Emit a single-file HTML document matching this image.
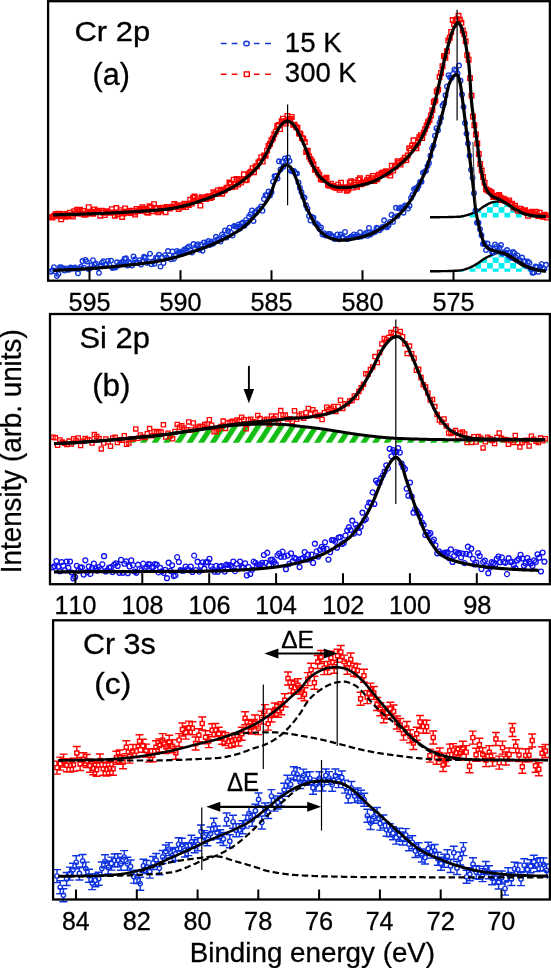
<!DOCTYPE html>
<html><head><meta charset="utf-8"><style>html,body{margin:0;padding:0;background:#fff;} svg{display:block;filter:blur(0.4px)}</style></head>
<body><svg width="551" height="968" viewBox="0 0 551 968">
<rect width="551" height="968" fill="#fff"/>

<defs>
<pattern id="chk" x="487" y="212.8" width="11.6" height="11.16" patternUnits="userSpaceOnUse">
<rect x="5.8" y="0" width="5.8" height="5.58" fill="#00eef0"/><rect x="0" y="5.58" width="5.8" height="5.58" fill="#00eef0"/>
</pattern>
<pattern id="hatch" x="9.9" y="0" width="11.6" height="20" patternUnits="userSpaceOnUse" patternTransform="skewX(-33)">
<rect x="0" y="0" width="6.2" height="20" fill="#14be14"/>
</pattern>
</defs>
<path d="M452.0,217.6 L452.0,217.0 L453.0,217.0 L454.0,216.9 L455.0,216.9 L456.0,216.9 L457.0,216.8 L458.0,216.8 L459.0,216.7 L460.0,216.6 L461.0,216.5 L462.0,216.3 L463.0,216.1 L464.0,215.9 L465.0,215.6 L466.0,215.4 L467.0,215.1 L468.0,214.8 L469.0,214.5 L470.0,214.2 L471.0,213.8 L472.0,213.4 L473.0,213.0 L474.0,212.6 L475.0,212.1 L476.0,211.6 L477.0,211.1 L478.0,210.5 L479.0,209.9 L480.0,209.1 L481.0,208.4 L482.0,207.6 L483.0,206.9 L484.0,206.3 L485.0,205.7 L486.0,205.1 L487.0,204.6 L488.0,204.0 L489.0,203.5 L490.0,203.1 L491.0,202.7 L492.0,202.3 L493.0,202.1 L494.0,201.9 L495.0,201.8 L496.0,201.6 L497.0,201.5 L498.0,201.5 L499.0,201.5 L500.0,201.7 L501.0,201.9 L502.0,202.1 L503.0,202.4 L504.0,202.6 L505.0,202.9 L506.0,203.3 L507.0,203.7 L508.0,204.1 L509.0,204.6 L510.0,205.0 L511.0,205.6 L512.0,206.2 L513.0,206.8 L514.0,207.5 L515.0,208.1 L516.0,208.7 L517.0,209.3 L518.0,209.9 L519.0,210.5 L520.0,211.0 L521.0,211.6 L522.0,212.1 L523.0,212.6 L524.0,213.1 L525.0,213.5 L526.0,213.9 L527.0,214.2 L528.0,214.5 L529.0,214.8 L530.0,215.1 L531.0,215.3 L532.0,215.6 L533.0,215.8 L534.0,216.0 L535.0,216.1 L536.0,216.2 L537.0,216.4 L538.0,216.5 L539.0,216.6 L540.0,216.7 L540.0,217.6 Z" fill="url(#chk)"/>
<path d="M450.0,271.8 L450.0,271.0 L451.0,271.0 L452.0,270.9 L453.0,270.9 L454.0,270.8 L455.0,270.8 L456.0,270.7 L457.0,270.7 L458.0,270.6 L459.0,270.5 L460.0,270.4 L461.0,270.3 L462.0,270.1 L463.0,269.8 L464.0,269.6 L465.0,269.3 L466.0,269.0 L467.0,268.6 L468.0,268.3 L469.0,267.9 L470.0,267.5 L471.0,267.1 L472.0,266.6 L473.0,266.1 L474.0,265.5 L475.0,265.0 L476.0,264.4 L477.0,263.8 L478.0,263.2 L479.0,262.5 L480.0,261.8 L481.0,261.0 L482.0,260.3 L483.0,259.6 L484.0,259.0 L485.0,258.4 L486.0,257.8 L487.0,257.2 L488.0,256.7 L489.0,256.2 L490.0,255.7 L491.0,255.2 L492.0,254.8 L493.0,254.4 L494.0,254.0 L495.0,253.7 L496.0,253.3 L497.0,253.1 L498.0,253.0 L499.0,253.0 L500.0,253.2 L501.0,253.4 L502.0,253.6 L503.0,253.9 L504.0,254.2 L505.0,254.6 L506.0,255.1 L507.0,255.8 L508.0,256.6 L509.0,257.4 L510.0,258.0 L511.0,258.6 L512.0,259.2 L513.0,259.8 L514.0,260.4 L515.0,261.0 L516.0,261.6 L517.0,262.1 L518.0,262.7 L519.0,263.3 L520.0,264.0 L521.0,264.6 L522.0,265.2 L523.0,265.8 L524.0,266.4 L525.0,266.9 L526.0,267.4 L527.0,267.8 L528.0,268.2 L529.0,268.5 L530.0,268.9 L531.0,269.2 L532.0,269.5 L533.0,269.7 L534.0,269.9 L535.0,270.1 L536.0,270.3 L537.0,270.4 L538.0,270.5 L539.0,270.7 L540.0,270.8 L541.0,270.9 L542.0,271.0 L542.0,271.8 Z" fill="url(#chk)"/>
<path d="M430.0,217.2 L431.0,217.2 L432.0,217.2 L433.0,217.2 L434.0,217.2 L435.0,217.2 L436.0,217.2 L437.0,217.2 L438.0,217.2 L439.0,217.2 L440.0,217.1 L441.0,217.1 L442.0,217.1 L443.0,217.1 L444.0,217.1 L445.0,217.1 L446.0,217.1 L447.0,217.1 L448.0,217.1 L449.0,217.0 L450.0,217.0 L451.0,217.0 L452.0,217.0 L453.0,217.0 L454.0,216.9 L455.0,216.9 L456.0,216.9 L457.0,216.8 L458.0,216.8 L459.0,216.7 L460.0,216.6 L461.0,216.5 L462.0,216.3 L463.0,216.1 L464.0,215.9 L465.0,215.6 L466.0,215.4 L467.0,215.1 L468.0,214.8 L469.0,214.5 L470.0,214.2 L471.0,213.8 L472.0,213.4 L473.0,213.0 L474.0,212.6 L475.0,212.1 L476.0,211.6 L477.0,211.1 L478.0,210.5 L479.0,209.9 L480.0,209.1 L481.0,208.4 L482.0,207.6 L483.0,206.9 L484.0,206.3 L485.0,205.7 L486.0,205.1 L487.0,204.6 L488.0,204.0 L489.0,203.5 L490.0,203.1 L491.0,202.7 L492.0,202.3 L493.0,202.1 L494.0,201.9 L495.0,201.8 L496.0,201.6 L497.0,201.5 L498.0,201.5 L499.0,201.5 L500.0,201.7 L501.0,201.9 L502.0,202.1 L503.0,202.4 L504.0,202.6 L505.0,202.9 L506.0,203.3 L507.0,203.7 L508.0,204.1 L509.0,204.6 L510.0,205.0 L511.0,205.6 L512.0,206.2 L513.0,206.8 L514.0,207.5 L515.0,208.1 L516.0,208.7 L517.0,209.3 L518.0,209.9 L519.0,210.5 L520.0,211.0 L521.0,211.6 L522.0,212.1 L523.0,212.6 L524.0,213.1 L525.0,213.5 L526.0,213.9 L527.0,214.2 L528.0,214.5 L529.0,214.8 L530.0,215.1 L531.0,215.3 L532.0,215.6 L533.0,215.8 L534.0,216.0 L535.0,216.1 L536.0,216.2 L537.0,216.4 L538.0,216.5 L539.0,216.6 L540.0,216.7 L541.0,216.8 L542.0,216.9 L543.0,216.9 L544.0,217.0 L545.0,217.1 L546.0,217.1" fill="none" stroke="#000" stroke-width="2.4"/>
<path d="M430.0,271.2 L431.0,271.2 L432.0,271.2 L433.0,271.2 L434.0,271.2 L435.0,271.2 L436.0,271.2 L437.0,271.2 L438.0,271.2 L439.0,271.2 L440.0,271.2 L441.0,271.1 L442.0,271.1 L443.0,271.1 L444.0,271.1 L445.0,271.1 L446.0,271.1 L447.0,271.1 L448.0,271.0 L449.0,271.0 L450.0,271.0 L451.0,271.0 L452.0,270.9 L453.0,270.9 L454.0,270.8 L455.0,270.8 L456.0,270.7 L457.0,270.7 L458.0,270.6 L459.0,270.5 L460.0,270.4 L461.0,270.3 L462.0,270.1 L463.0,269.8 L464.0,269.6 L465.0,269.3 L466.0,269.0 L467.0,268.6 L468.0,268.3 L469.0,267.9 L470.0,267.5 L471.0,267.1 L472.0,266.6 L473.0,266.1 L474.0,265.5 L475.0,265.0 L476.0,264.4 L477.0,263.8 L478.0,263.2 L479.0,262.5 L480.0,261.8 L481.0,261.0 L482.0,260.3 L483.0,259.6 L484.0,259.0 L485.0,258.4 L486.0,257.8 L487.0,257.2 L488.0,256.7 L489.0,256.2 L490.0,255.7 L491.0,255.2 L492.0,254.8 L493.0,254.4 L494.0,254.0 L495.0,253.7 L496.0,253.3 L497.0,253.1 L498.0,253.0 L499.0,253.0 L500.0,253.2 L501.0,253.4 L502.0,253.6 L503.0,253.9 L504.0,254.2 L505.0,254.6 L506.0,255.1 L507.0,255.8 L508.0,256.6 L509.0,257.4 L510.0,258.0 L511.0,258.6 L512.0,259.2 L513.0,259.8 L514.0,260.4 L515.0,261.0 L516.0,261.6 L517.0,262.1 L518.0,262.7 L519.0,263.3 L520.0,264.0 L521.0,264.6 L522.0,265.2 L523.0,265.8 L524.0,266.4 L525.0,266.9 L526.0,267.4 L527.0,267.8 L528.0,268.2 L529.0,268.5 L530.0,268.9 L531.0,269.2 L532.0,269.5 L533.0,269.7 L534.0,269.9 L535.0,270.1 L536.0,270.3 L537.0,270.4 L538.0,270.5 L539.0,270.7 L540.0,270.8 L541.0,270.9 L542.0,271.0 L543.0,271.0 L544.0,271.1 L545.0,271.2 L546.0,271.2" fill="none" stroke="#000" stroke-width="2.4"/>
<path d="M48.7,214.8h4.6v4.6h-4.6z M50.2,215.3h4.6v4.6h-4.6z M51.6,213.7h4.6v4.6h-4.6z M53.1,211.9h4.6v4.6h-4.6z M54.5,212.9h4.6v4.6h-4.6z M56.0,211.3h4.6v4.6h-4.6z M57.4,213.9h4.6v4.6h-4.6z M58.9,217.0h4.6v4.6h-4.6z M60.3,212.1h4.6v4.6h-4.6z M61.8,211.7h4.6v4.6h-4.6z M63.2,214.4h4.6v4.6h-4.6z M64.7,213.9h4.6v4.6h-4.6z M66.1,213.1h4.6v4.6h-4.6z M67.6,210.3h4.6v4.6h-4.6z M69.0,212.5h4.6v4.6h-4.6z M70.5,214.3h4.6v4.6h-4.6z M71.9,208.9h4.6v4.6h-4.6z M73.4,211.2h4.6v4.6h-4.6z M74.8,207.3h4.6v4.6h-4.6z M76.3,208.8h4.6v4.6h-4.6z M77.7,207.3h4.6v4.6h-4.6z M79.2,211.4h4.6v4.6h-4.6z M80.6,208.6h4.6v4.6h-4.6z M82.1,212.5h4.6v4.6h-4.6z M83.5,212.1h4.6v4.6h-4.6z M85.0,211.1h4.6v4.6h-4.6z M86.4,204.9h4.6v4.6h-4.6z M87.9,210.0h4.6v4.6h-4.6z M89.3,211.1h4.6v4.6h-4.6z M90.8,211.5h4.6v4.6h-4.6z M92.2,207.1h4.6v4.6h-4.6z M93.7,209.7h4.6v4.6h-4.6z M95.1,208.3h4.6v4.6h-4.6z M96.6,208.6h4.6v4.6h-4.6z M98.0,213.4h4.6v4.6h-4.6z M99.5,208.5h4.6v4.6h-4.6z M100.9,210.4h4.6v4.6h-4.6z M102.4,212.7h4.6v4.6h-4.6z M103.8,208.8h4.6v4.6h-4.6z M105.3,210.0h4.6v4.6h-4.6z M106.7,210.5h4.6v4.6h-4.6z M108.2,210.3h4.6v4.6h-4.6z M109.6,206.8h4.6v4.6h-4.6z M111.1,210.1h4.6v4.6h-4.6z M112.5,213.4h4.6v4.6h-4.6z M114.0,205.7h4.6v4.6h-4.6z M115.4,211.9h4.6v4.6h-4.6z M116.9,209.9h4.6v4.6h-4.6z M118.3,207.8h4.6v4.6h-4.6z M119.8,214.6h4.6v4.6h-4.6z M121.2,211.3h4.6v4.6h-4.6z M122.7,206.1h4.6v4.6h-4.6z M124.1,209.3h4.6v4.6h-4.6z M125.6,210.5h4.6v4.6h-4.6z M127.0,208.4h4.6v4.6h-4.6z M128.5,210.6h4.6v4.6h-4.6z M129.9,208.5h4.6v4.6h-4.6z M131.4,210.3h4.6v4.6h-4.6z M132.8,212.2h4.6v4.6h-4.6z M134.3,206.6h4.6v4.6h-4.6z M135.7,208.8h4.6v4.6h-4.6z M137.2,206.9h4.6v4.6h-4.6z M138.6,208.4h4.6v4.6h-4.6z M140.1,204.8h4.6v4.6h-4.6z M141.5,206.3h4.6v4.6h-4.6z M143.0,207.2h4.6v4.6h-4.6z M144.4,209.9h4.6v4.6h-4.6z M145.9,210.5h4.6v4.6h-4.6z M147.3,203.9h4.6v4.6h-4.6z M148.8,205.2h4.6v4.6h-4.6z M150.2,208.9h4.6v4.6h-4.6z M151.7,201.9h4.6v4.6h-4.6z M153.1,205.7h4.6v4.6h-4.6z M154.6,206.6h4.6v4.6h-4.6z M156.0,210.0h4.6v4.6h-4.6z M157.5,208.4h4.6v4.6h-4.6z M158.9,205.6h4.6v4.6h-4.6z M160.4,205.3h4.6v4.6h-4.6z M161.8,205.5h4.6v4.6h-4.6z M163.3,209.9h4.6v4.6h-4.6z M164.7,204.7h4.6v4.6h-4.6z M166.2,204.8h4.6v4.6h-4.6z M167.6,206.3h4.6v4.6h-4.6z M169.1,204.9h4.6v4.6h-4.6z M170.5,204.4h4.6v4.6h-4.6z M172.0,201.7h4.6v4.6h-4.6z M173.4,204.3h4.6v4.6h-4.6z M174.9,202.9h4.6v4.6h-4.6z M176.3,206.7h4.6v4.6h-4.6z M177.8,205.0h4.6v4.6h-4.6z M179.2,202.9h4.6v4.6h-4.6z M180.7,204.4h4.6v4.6h-4.6z M182.1,201.4h4.6v4.6h-4.6z M183.6,204.7h4.6v4.6h-4.6z M185.0,201.5h4.6v4.6h-4.6z M186.5,202.6h4.6v4.6h-4.6z M187.9,197.4h4.6v4.6h-4.6z M189.4,201.2h4.6v4.6h-4.6z M190.8,195.4h4.6v4.6h-4.6z M192.3,194.1h4.6v4.6h-4.6z M193.7,198.1h4.6v4.6h-4.6z M195.2,196.1h4.6v4.6h-4.6z M196.6,198.4h4.6v4.6h-4.6z M198.1,203.3h4.6v4.6h-4.6z M199.5,194.8h4.6v4.6h-4.6z M201.0,194.8h4.6v4.6h-4.6z M202.4,196.5h4.6v4.6h-4.6z M203.9,196.7h4.6v4.6h-4.6z M205.3,194.4h4.6v4.6h-4.6z M206.8,193.8h4.6v4.6h-4.6z M208.2,195.6h4.6v4.6h-4.6z M209.7,194.6h4.6v4.6h-4.6z M211.1,190.0h4.6v4.6h-4.6z M212.6,191.8h4.6v4.6h-4.6z M214.0,191.5h4.6v4.6h-4.6z M215.5,188.1h4.6v4.6h-4.6z M216.9,190.9h4.6v4.6h-4.6z M218.4,187.3h4.6v4.6h-4.6z M219.8,191.4h4.6v4.6h-4.6z M221.3,188.7h4.6v4.6h-4.6z M222.7,187.8h4.6v4.6h-4.6z M224.2,185.3h4.6v4.6h-4.6z M225.6,185.8h4.6v4.6h-4.6z M227.1,180.2h4.6v4.6h-4.6z M228.5,181.7h4.6v4.6h-4.6z M230.0,184.7h4.6v4.6h-4.6z M231.4,177.4h4.6v4.6h-4.6z M232.9,184.3h4.6v4.6h-4.6z M234.3,176.7h4.6v4.6h-4.6z M235.8,182.2h4.6v4.6h-4.6z M237.2,177.0h4.6v4.6h-4.6z M238.7,180.2h4.6v4.6h-4.6z M240.1,177.4h4.6v4.6h-4.6z M241.6,172.0h4.6v4.6h-4.6z M243.0,178.0h4.6v4.6h-4.6z M244.5,177.4h4.6v4.6h-4.6z M245.9,172.2h4.6v4.6h-4.6z M247.4,170.4h4.6v4.6h-4.6z M248.8,169.4h4.6v4.6h-4.6z M250.3,165.9h4.6v4.6h-4.6z M251.7,169.9h4.6v4.6h-4.6z M253.2,164.1h4.6v4.6h-4.6z M254.6,163.9h4.6v4.6h-4.6z M256.1,160.2h4.6v4.6h-4.6z M257.5,158.8h4.6v4.6h-4.6z M259.0,154.9h4.6v4.6h-4.6z M260.4,159.2h4.6v4.6h-4.6z M261.9,153.1h4.6v4.6h-4.6z M263.3,153.5h4.6v4.6h-4.6z M264.8,148.3h4.6v4.6h-4.6z M266.2,143.6h4.6v4.6h-4.6z M267.7,141.6h4.6v4.6h-4.6z M269.1,137.9h4.6v4.6h-4.6z M270.6,136.1h4.6v4.6h-4.6z M272.0,131.9h4.6v4.6h-4.6z M273.5,129.3h4.6v4.6h-4.6z M274.9,123.7h4.6v4.6h-4.6z M276.4,122.6h4.6v4.6h-4.6z M277.8,126.8h4.6v4.6h-4.6z M279.3,118.9h4.6v4.6h-4.6z M280.7,116.4h4.6v4.6h-4.6z M282.2,119.2h4.6v4.6h-4.6z M283.6,121.3h4.6v4.6h-4.6z M285.1,113.6h4.6v4.6h-4.6z M286.5,117.1h4.6v4.6h-4.6z M288.0,116.6h4.6v4.6h-4.6z M289.4,114.6h4.6v4.6h-4.6z M290.9,122.5h4.6v4.6h-4.6z M292.3,122.3h4.6v4.6h-4.6z M293.8,124.8h4.6v4.6h-4.6z M295.2,125.3h4.6v4.6h-4.6z M296.7,131.1h4.6v4.6h-4.6z M298.1,131.4h4.6v4.6h-4.6z M299.6,135.6h4.6v4.6h-4.6z M301.0,136.4h4.6v4.6h-4.6z M302.5,139.6h4.6v4.6h-4.6z M303.9,149.6h4.6v4.6h-4.6z M305.4,148.4h4.6v4.6h-4.6z M306.8,154.2h4.6v4.6h-4.6z M308.3,157.0h4.6v4.6h-4.6z M309.7,159.1h4.6v4.6h-4.6z M311.2,161.8h4.6v4.6h-4.6z M312.6,167.5h4.6v4.6h-4.6z M314.1,167.5h4.6v4.6h-4.6z M315.5,170.1h4.6v4.6h-4.6z M317.0,172.4h4.6v4.6h-4.6z M318.4,176.9h4.6v4.6h-4.6z M319.9,177.1h4.6v4.6h-4.6z M321.3,177.6h4.6v4.6h-4.6z M322.8,176.3h4.6v4.6h-4.6z M324.2,175.3h4.6v4.6h-4.6z M325.7,182.5h4.6v4.6h-4.6z M327.1,183.5h4.6v4.6h-4.6z M328.6,181.4h4.6v4.6h-4.6z M330.0,183.7h4.6v4.6h-4.6z M331.5,184.7h4.6v4.6h-4.6z M332.9,185.2h4.6v4.6h-4.6z M334.4,185.7h4.6v4.6h-4.6z M335.8,182.3h4.6v4.6h-4.6z M337.3,187.5h4.6v4.6h-4.6z M338.7,180.4h4.6v4.6h-4.6z M340.2,185.8h4.6v4.6h-4.6z M341.6,184.8h4.6v4.6h-4.6z M343.1,185.8h4.6v4.6h-4.6z M344.5,188.4h4.6v4.6h-4.6z M346.0,187.3h4.6v4.6h-4.6z M347.4,180.4h4.6v4.6h-4.6z M348.9,178.9h4.6v4.6h-4.6z M350.3,185.3h4.6v4.6h-4.6z M351.8,180.2h4.6v4.6h-4.6z M353.2,182.5h4.6v4.6h-4.6z M354.7,184.4h4.6v4.6h-4.6z M356.1,177.6h4.6v4.6h-4.6z M357.6,176.0h4.6v4.6h-4.6z M359.0,181.9h4.6v4.6h-4.6z M360.5,181.0h4.6v4.6h-4.6z M361.9,179.9h4.6v4.6h-4.6z M363.4,180.3h4.6v4.6h-4.6z M364.8,177.6h4.6v4.6h-4.6z M366.3,175.5h4.6v4.6h-4.6z M367.7,178.6h4.6v4.6h-4.6z M369.2,176.0h4.6v4.6h-4.6z M370.6,173.6h4.6v4.6h-4.6z M372.1,178.6h4.6v4.6h-4.6z M373.5,176.4h4.6v4.6h-4.6z M375.0,176.9h4.6v4.6h-4.6z M376.4,172.5h4.6v4.6h-4.6z M377.9,172.5h4.6v4.6h-4.6z M379.3,170.8h4.6v4.6h-4.6z M380.8,170.2h4.6v4.6h-4.6z M382.2,172.2h4.6v4.6h-4.6z M383.7,168.8h4.6v4.6h-4.6z M385.1,170.9h4.6v4.6h-4.6z M386.6,169.9h4.6v4.6h-4.6z M388.0,173.3h4.6v4.6h-4.6z M389.5,163.4h4.6v4.6h-4.6z M390.9,168.3h4.6v4.6h-4.6z M392.4,164.7h4.6v4.6h-4.6z M393.8,163.8h4.6v4.6h-4.6z M395.3,158.9h4.6v4.6h-4.6z M396.7,160.3h4.6v4.6h-4.6z M398.2,162.2h4.6v4.6h-4.6z M399.6,158.8h4.6v4.6h-4.6z M401.1,157.9h4.6v4.6h-4.6z M402.5,155.5h4.6v4.6h-4.6z M404.0,157.8h4.6v4.6h-4.6z M405.4,153.2h4.6v4.6h-4.6z M406.9,146.0h4.6v4.6h-4.6z M408.3,148.2h4.6v4.6h-4.6z M409.8,143.2h4.6v4.6h-4.6z M411.2,138.0h4.6v4.6h-4.6z M412.7,143.1h4.6v4.6h-4.6z M414.1,145.9h4.6v4.6h-4.6z M415.6,140.4h4.6v4.6h-4.6z M417.0,134.9h4.6v4.6h-4.6z M418.5,133.0h4.6v4.6h-4.6z M419.9,135.7h4.6v4.6h-4.6z M421.4,130.3h4.6v4.6h-4.6z M422.8,126.8h4.6v4.6h-4.6z M424.3,123.1h4.6v4.6h-4.6z M425.7,119.8h4.6v4.6h-4.6z M427.2,117.9h4.6v4.6h-4.6z M428.6,113.1h4.6v4.6h-4.6z M430.1,107.8h4.6v4.6h-4.6z M431.5,99.6h4.6v4.6h-4.6z M433.0,98.3h4.6v4.6h-4.6z M434.4,89.1h4.6v4.6h-4.6z M435.9,87.3h4.6v4.6h-4.6z M437.3,74.5h4.6v4.6h-4.6z M438.8,70.6h4.6v4.6h-4.6z M440.2,63.9h4.6v4.6h-4.6z M441.7,53.7h4.6v4.6h-4.6z M443.1,55.5h4.6v4.6h-4.6z M444.6,49.0h4.6v4.6h-4.6z M446.0,38.1h4.6v4.6h-4.6z M447.5,35.5h4.6v4.6h-4.6z M448.9,29.6h4.6v4.6h-4.6z M450.4,17.7h4.6v4.6h-4.6z M451.8,21.9h4.6v4.6h-4.6z M453.3,18.7h4.6v4.6h-4.6z M454.7,17.0h4.6v4.6h-4.6z M456.2,13.5h4.6v4.6h-4.6z M457.6,17.3h4.6v4.6h-4.6z M459.1,20.5h4.6v4.6h-4.6z M460.5,28.1h4.6v4.6h-4.6z M462.0,31.9h4.6v4.6h-4.6z M463.4,39.0h4.6v4.6h-4.6z M464.9,52.8h4.6v4.6h-4.6z M466.3,57.4h4.6v4.6h-4.6z M467.8,75.8h4.6v4.6h-4.6z M469.2,93.3h4.6v4.6h-4.6z M470.7,114.1h4.6v4.6h-4.6z M472.1,122.9h4.6v4.6h-4.6z M473.6,132.1h4.6v4.6h-4.6z M475.0,141.2h4.6v4.6h-4.6z M476.5,151.7h4.6v4.6h-4.6z M477.9,161.6h4.6v4.6h-4.6z M479.4,168.2h4.6v4.6h-4.6z M480.8,174.7h4.6v4.6h-4.6z M482.3,180.5h4.6v4.6h-4.6z M483.7,187.0h4.6v4.6h-4.6z M485.2,187.9h4.6v4.6h-4.6z M486.6,188.7h4.6v4.6h-4.6z M488.1,189.4h4.6v4.6h-4.6z M489.5,190.5h4.6v4.6h-4.6z M491.0,194.8h4.6v4.6h-4.6z M492.4,193.5h4.6v4.6h-4.6z M493.9,193.4h4.6v4.6h-4.6z M495.3,193.3h4.6v4.6h-4.6z M496.8,192.7h4.6v4.6h-4.6z M498.2,195.1h4.6v4.6h-4.6z M499.7,197.5h4.6v4.6h-4.6z M501.1,196.3h4.6v4.6h-4.6z M502.6,197.4h4.6v4.6h-4.6z M504.0,198.3h4.6v4.6h-4.6z M505.5,199.8h4.6v4.6h-4.6z M506.9,198.1h4.6v4.6h-4.6z M508.4,201.3h4.6v4.6h-4.6z M509.8,201.3h4.6v4.6h-4.6z M511.3,205.1h4.6v4.6h-4.6z M512.7,203.3h4.6v4.6h-4.6z M514.2,206.2h4.6v4.6h-4.6z M515.6,208.5h4.6v4.6h-4.6z M517.1,206.3h4.6v4.6h-4.6z M518.5,206.6h4.6v4.6h-4.6z M520.0,208.6h4.6v4.6h-4.6z M521.4,208.9h4.6v4.6h-4.6z M522.9,207.8h4.6v4.6h-4.6z M524.3,210.6h4.6v4.6h-4.6z M525.8,213.5h4.6v4.6h-4.6z M527.2,210.2h4.6v4.6h-4.6z M528.7,210.6h4.6v4.6h-4.6z M530.1,209.5h4.6v4.6h-4.6z M531.6,211.9h4.6v4.6h-4.6z M533.0,209.5h4.6v4.6h-4.6z M534.5,209.9h4.6v4.6h-4.6z M535.9,213.8h4.6v4.6h-4.6z M537.4,210.4h4.6v4.6h-4.6z M538.8,213.6h4.6v4.6h-4.6z M540.3,214.4h4.6v4.6h-4.6z M541.7,212.5h4.6v4.6h-4.6z M543.2,213.0h4.6v4.6h-4.6z M544.6,215.3h4.6v4.6h-4.6z" fill="none" stroke="#ff0000" stroke-width="1.35"/>
<path d="M48.7,271.7a2.3,2.3 0 1,0 4.6,0a2.3,2.3 0 1,0 -4.6,0 M50.2,270.1a2.3,2.3 0 1,0 4.6,0a2.3,2.3 0 1,0 -4.6,0 M51.7,267.2a2.3,2.3 0 1,0 4.6,0a2.3,2.3 0 1,0 -4.6,0 M53.2,271.5a2.3,2.3 0 1,0 4.6,0a2.3,2.3 0 1,0 -4.6,0 M54.7,276.0a2.3,2.3 0 1,0 4.6,0a2.3,2.3 0 1,0 -4.6,0 M56.2,273.9a2.3,2.3 0 1,0 4.6,0a2.3,2.3 0 1,0 -4.6,0 M57.7,267.3a2.3,2.3 0 1,0 4.6,0a2.3,2.3 0 1,0 -4.6,0 M59.2,267.3a2.3,2.3 0 1,0 4.6,0a2.3,2.3 0 1,0 -4.6,0 M60.7,268.2a2.3,2.3 0 1,0 4.6,0a2.3,2.3 0 1,0 -4.6,0 M62.2,270.5a2.3,2.3 0 1,0 4.6,0a2.3,2.3 0 1,0 -4.6,0 M63.7,268.6a2.3,2.3 0 1,0 4.6,0a2.3,2.3 0 1,0 -4.6,0 M65.2,269.7a2.3,2.3 0 1,0 4.6,0a2.3,2.3 0 1,0 -4.6,0 M66.7,269.7a2.3,2.3 0 1,0 4.6,0a2.3,2.3 0 1,0 -4.6,0 M68.2,267.5a2.3,2.3 0 1,0 4.6,0a2.3,2.3 0 1,0 -4.6,0 M69.7,268.1a2.3,2.3 0 1,0 4.6,0a2.3,2.3 0 1,0 -4.6,0 M71.2,268.6a2.3,2.3 0 1,0 4.6,0a2.3,2.3 0 1,0 -4.6,0 M72.7,267.4a2.3,2.3 0 1,0 4.6,0a2.3,2.3 0 1,0 -4.6,0 M74.2,269.0a2.3,2.3 0 1,0 4.6,0a2.3,2.3 0 1,0 -4.6,0 M75.7,273.3a2.3,2.3 0 1,0 4.6,0a2.3,2.3 0 1,0 -4.6,0 M77.2,268.8a2.3,2.3 0 1,0 4.6,0a2.3,2.3 0 1,0 -4.6,0 M78.7,266.8a2.3,2.3 0 1,0 4.6,0a2.3,2.3 0 1,0 -4.6,0 M80.2,261.0a2.3,2.3 0 1,0 4.6,0a2.3,2.3 0 1,0 -4.6,0 M81.7,267.7a2.3,2.3 0 1,0 4.6,0a2.3,2.3 0 1,0 -4.6,0 M83.2,259.9a2.3,2.3 0 1,0 4.6,0a2.3,2.3 0 1,0 -4.6,0 M84.7,261.6a2.3,2.3 0 1,0 4.6,0a2.3,2.3 0 1,0 -4.6,0 M86.2,269.0a2.3,2.3 0 1,0 4.6,0a2.3,2.3 0 1,0 -4.6,0 M87.7,268.4a2.3,2.3 0 1,0 4.6,0a2.3,2.3 0 1,0 -4.6,0 M89.2,265.4a2.3,2.3 0 1,0 4.6,0a2.3,2.3 0 1,0 -4.6,0 M90.7,260.2a2.3,2.3 0 1,0 4.6,0a2.3,2.3 0 1,0 -4.6,0 M92.2,264.5a2.3,2.3 0 1,0 4.6,0a2.3,2.3 0 1,0 -4.6,0 M93.7,263.4a2.3,2.3 0 1,0 4.6,0a2.3,2.3 0 1,0 -4.6,0 M95.2,267.6a2.3,2.3 0 1,0 4.6,0a2.3,2.3 0 1,0 -4.6,0 M96.7,272.8a2.3,2.3 0 1,0 4.6,0a2.3,2.3 0 1,0 -4.6,0 M98.2,266.0a2.3,2.3 0 1,0 4.6,0a2.3,2.3 0 1,0 -4.6,0 M99.7,262.6a2.3,2.3 0 1,0 4.6,0a2.3,2.3 0 1,0 -4.6,0 M101.2,261.2a2.3,2.3 0 1,0 4.6,0a2.3,2.3 0 1,0 -4.6,0 M102.7,264.7a2.3,2.3 0 1,0 4.6,0a2.3,2.3 0 1,0 -4.6,0 M104.2,264.2a2.3,2.3 0 1,0 4.6,0a2.3,2.3 0 1,0 -4.6,0 M105.7,260.9a2.3,2.3 0 1,0 4.6,0a2.3,2.3 0 1,0 -4.6,0 M107.2,264.9a2.3,2.3 0 1,0 4.6,0a2.3,2.3 0 1,0 -4.6,0 M108.7,260.6a2.3,2.3 0 1,0 4.6,0a2.3,2.3 0 1,0 -4.6,0 M110.2,268.0a2.3,2.3 0 1,0 4.6,0a2.3,2.3 0 1,0 -4.6,0 M111.7,267.7a2.3,2.3 0 1,0 4.6,0a2.3,2.3 0 1,0 -4.6,0 M113.2,267.6a2.3,2.3 0 1,0 4.6,0a2.3,2.3 0 1,0 -4.6,0 M114.7,262.3a2.3,2.3 0 1,0 4.6,0a2.3,2.3 0 1,0 -4.6,0 M116.2,265.4a2.3,2.3 0 1,0 4.6,0a2.3,2.3 0 1,0 -4.6,0 M117.7,263.1a2.3,2.3 0 1,0 4.6,0a2.3,2.3 0 1,0 -4.6,0 M119.2,262.1a2.3,2.3 0 1,0 4.6,0a2.3,2.3 0 1,0 -4.6,0 M120.7,262.1a2.3,2.3 0 1,0 4.6,0a2.3,2.3 0 1,0 -4.6,0 M122.2,258.8a2.3,2.3 0 1,0 4.6,0a2.3,2.3 0 1,0 -4.6,0 M123.7,258.2a2.3,2.3 0 1,0 4.6,0a2.3,2.3 0 1,0 -4.6,0 M125.2,265.4a2.3,2.3 0 1,0 4.6,0a2.3,2.3 0 1,0 -4.6,0 M126.7,262.0a2.3,2.3 0 1,0 4.6,0a2.3,2.3 0 1,0 -4.6,0 M128.2,263.2a2.3,2.3 0 1,0 4.6,0a2.3,2.3 0 1,0 -4.6,0 M129.7,265.6a2.3,2.3 0 1,0 4.6,0a2.3,2.3 0 1,0 -4.6,0 M131.2,256.4a2.3,2.3 0 1,0 4.6,0a2.3,2.3 0 1,0 -4.6,0 M132.7,259.3a2.3,2.3 0 1,0 4.6,0a2.3,2.3 0 1,0 -4.6,0 M134.2,262.3a2.3,2.3 0 1,0 4.6,0a2.3,2.3 0 1,0 -4.6,0 M135.7,262.8a2.3,2.3 0 1,0 4.6,0a2.3,2.3 0 1,0 -4.6,0 M137.2,260.1a2.3,2.3 0 1,0 4.6,0a2.3,2.3 0 1,0 -4.6,0 M138.7,264.6a2.3,2.3 0 1,0 4.6,0a2.3,2.3 0 1,0 -4.6,0 M140.2,261.7a2.3,2.3 0 1,0 4.6,0a2.3,2.3 0 1,0 -4.6,0 M141.7,256.8a2.3,2.3 0 1,0 4.6,0a2.3,2.3 0 1,0 -4.6,0 M143.2,257.5a2.3,2.3 0 1,0 4.6,0a2.3,2.3 0 1,0 -4.6,0 M144.7,263.0a2.3,2.3 0 1,0 4.6,0a2.3,2.3 0 1,0 -4.6,0 M146.2,261.7a2.3,2.3 0 1,0 4.6,0a2.3,2.3 0 1,0 -4.6,0 M147.7,253.7a2.3,2.3 0 1,0 4.6,0a2.3,2.3 0 1,0 -4.6,0 M149.2,264.2a2.3,2.3 0 1,0 4.6,0a2.3,2.3 0 1,0 -4.6,0 M150.7,261.5a2.3,2.3 0 1,0 4.6,0a2.3,2.3 0 1,0 -4.6,0 M152.2,263.7a2.3,2.3 0 1,0 4.6,0a2.3,2.3 0 1,0 -4.6,0 M153.7,257.7a2.3,2.3 0 1,0 4.6,0a2.3,2.3 0 1,0 -4.6,0 M155.2,257.8a2.3,2.3 0 1,0 4.6,0a2.3,2.3 0 1,0 -4.6,0 M156.7,254.8a2.3,2.3 0 1,0 4.6,0a2.3,2.3 0 1,0 -4.6,0 M158.2,266.6a2.3,2.3 0 1,0 4.6,0a2.3,2.3 0 1,0 -4.6,0 M159.7,257.3a2.3,2.3 0 1,0 4.6,0a2.3,2.3 0 1,0 -4.6,0 M161.2,262.9a2.3,2.3 0 1,0 4.6,0a2.3,2.3 0 1,0 -4.6,0 M162.7,255.2a2.3,2.3 0 1,0 4.6,0a2.3,2.3 0 1,0 -4.6,0 M164.2,257.5a2.3,2.3 0 1,0 4.6,0a2.3,2.3 0 1,0 -4.6,0 M165.7,251.1a2.3,2.3 0 1,0 4.6,0a2.3,2.3 0 1,0 -4.6,0 M167.2,255.0a2.3,2.3 0 1,0 4.6,0a2.3,2.3 0 1,0 -4.6,0 M168.7,259.2a2.3,2.3 0 1,0 4.6,0a2.3,2.3 0 1,0 -4.6,0 M170.2,251.4a2.3,2.3 0 1,0 4.6,0a2.3,2.3 0 1,0 -4.6,0 M171.7,258.7a2.3,2.3 0 1,0 4.6,0a2.3,2.3 0 1,0 -4.6,0 M173.2,255.9a2.3,2.3 0 1,0 4.6,0a2.3,2.3 0 1,0 -4.6,0 M174.7,250.9a2.3,2.3 0 1,0 4.6,0a2.3,2.3 0 1,0 -4.6,0 M176.2,252.3a2.3,2.3 0 1,0 4.6,0a2.3,2.3 0 1,0 -4.6,0 M177.7,252.0a2.3,2.3 0 1,0 4.6,0a2.3,2.3 0 1,0 -4.6,0 M179.2,252.9a2.3,2.3 0 1,0 4.6,0a2.3,2.3 0 1,0 -4.6,0 M180.7,250.9a2.3,2.3 0 1,0 4.6,0a2.3,2.3 0 1,0 -4.6,0 M182.2,249.5a2.3,2.3 0 1,0 4.6,0a2.3,2.3 0 1,0 -4.6,0 M183.7,250.7a2.3,2.3 0 1,0 4.6,0a2.3,2.3 0 1,0 -4.6,0 M185.2,247.8a2.3,2.3 0 1,0 4.6,0a2.3,2.3 0 1,0 -4.6,0 M186.7,246.4a2.3,2.3 0 1,0 4.6,0a2.3,2.3 0 1,0 -4.6,0 M188.2,250.0a2.3,2.3 0 1,0 4.6,0a2.3,2.3 0 1,0 -4.6,0 M189.7,252.6a2.3,2.3 0 1,0 4.6,0a2.3,2.3 0 1,0 -4.6,0 M191.2,244.0a2.3,2.3 0 1,0 4.6,0a2.3,2.3 0 1,0 -4.6,0 M192.7,248.6a2.3,2.3 0 1,0 4.6,0a2.3,2.3 0 1,0 -4.6,0 M194.2,245.8a2.3,2.3 0 1,0 4.6,0a2.3,2.3 0 1,0 -4.6,0 M195.7,244.2a2.3,2.3 0 1,0 4.6,0a2.3,2.3 0 1,0 -4.6,0 M197.2,249.7a2.3,2.3 0 1,0 4.6,0a2.3,2.3 0 1,0 -4.6,0 M198.7,244.6a2.3,2.3 0 1,0 4.6,0a2.3,2.3 0 1,0 -4.6,0 M200.2,250.7a2.3,2.3 0 1,0 4.6,0a2.3,2.3 0 1,0 -4.6,0 M201.7,242.6a2.3,2.3 0 1,0 4.6,0a2.3,2.3 0 1,0 -4.6,0 M203.2,245.9a2.3,2.3 0 1,0 4.6,0a2.3,2.3 0 1,0 -4.6,0 M204.7,243.3a2.3,2.3 0 1,0 4.6,0a2.3,2.3 0 1,0 -4.6,0 M206.2,241.0a2.3,2.3 0 1,0 4.6,0a2.3,2.3 0 1,0 -4.6,0 M207.7,244.9a2.3,2.3 0 1,0 4.6,0a2.3,2.3 0 1,0 -4.6,0 M209.2,241.8a2.3,2.3 0 1,0 4.6,0a2.3,2.3 0 1,0 -4.6,0 M210.7,243.7a2.3,2.3 0 1,0 4.6,0a2.3,2.3 0 1,0 -4.6,0 M212.2,240.9a2.3,2.3 0 1,0 4.6,0a2.3,2.3 0 1,0 -4.6,0 M213.7,236.8a2.3,2.3 0 1,0 4.6,0a2.3,2.3 0 1,0 -4.6,0 M215.2,239.4a2.3,2.3 0 1,0 4.6,0a2.3,2.3 0 1,0 -4.6,0 M216.7,239.2a2.3,2.3 0 1,0 4.6,0a2.3,2.3 0 1,0 -4.6,0 M218.2,241.5a2.3,2.3 0 1,0 4.6,0a2.3,2.3 0 1,0 -4.6,0 M219.7,234.6a2.3,2.3 0 1,0 4.6,0a2.3,2.3 0 1,0 -4.6,0 M221.2,236.7a2.3,2.3 0 1,0 4.6,0a2.3,2.3 0 1,0 -4.6,0 M222.7,230.4a2.3,2.3 0 1,0 4.6,0a2.3,2.3 0 1,0 -4.6,0 M224.2,237.4a2.3,2.3 0 1,0 4.6,0a2.3,2.3 0 1,0 -4.6,0 M225.7,230.9a2.3,2.3 0 1,0 4.6,0a2.3,2.3 0 1,0 -4.6,0 M227.2,227.7a2.3,2.3 0 1,0 4.6,0a2.3,2.3 0 1,0 -4.6,0 M228.7,232.6a2.3,2.3 0 1,0 4.6,0a2.3,2.3 0 1,0 -4.6,0 M230.2,235.6a2.3,2.3 0 1,0 4.6,0a2.3,2.3 0 1,0 -4.6,0 M231.7,226.0a2.3,2.3 0 1,0 4.6,0a2.3,2.3 0 1,0 -4.6,0 M233.2,226.5a2.3,2.3 0 1,0 4.6,0a2.3,2.3 0 1,0 -4.6,0 M234.7,226.7a2.3,2.3 0 1,0 4.6,0a2.3,2.3 0 1,0 -4.6,0 M236.2,224.5a2.3,2.3 0 1,0 4.6,0a2.3,2.3 0 1,0 -4.6,0 M237.7,228.4a2.3,2.3 0 1,0 4.6,0a2.3,2.3 0 1,0 -4.6,0 M239.2,223.4a2.3,2.3 0 1,0 4.6,0a2.3,2.3 0 1,0 -4.6,0 M240.7,222.6a2.3,2.3 0 1,0 4.6,0a2.3,2.3 0 1,0 -4.6,0 M242.2,225.7a2.3,2.3 0 1,0 4.6,0a2.3,2.3 0 1,0 -4.6,0 M243.7,220.0a2.3,2.3 0 1,0 4.6,0a2.3,2.3 0 1,0 -4.6,0 M245.2,222.5a2.3,2.3 0 1,0 4.6,0a2.3,2.3 0 1,0 -4.6,0 M246.7,216.4a2.3,2.3 0 1,0 4.6,0a2.3,2.3 0 1,0 -4.6,0 M248.2,214.1a2.3,2.3 0 1,0 4.6,0a2.3,2.3 0 1,0 -4.6,0 M249.7,210.5a2.3,2.3 0 1,0 4.6,0a2.3,2.3 0 1,0 -4.6,0 M251.2,221.1a2.3,2.3 0 1,0 4.6,0a2.3,2.3 0 1,0 -4.6,0 M252.7,212.2a2.3,2.3 0 1,0 4.6,0a2.3,2.3 0 1,0 -4.6,0 M254.2,212.4a2.3,2.3 0 1,0 4.6,0a2.3,2.3 0 1,0 -4.6,0 M255.7,209.8a2.3,2.3 0 1,0 4.6,0a2.3,2.3 0 1,0 -4.6,0 M257.2,208.7a2.3,2.3 0 1,0 4.6,0a2.3,2.3 0 1,0 -4.6,0 M258.7,206.6a2.3,2.3 0 1,0 4.6,0a2.3,2.3 0 1,0 -4.6,0 M260.2,210.8a2.3,2.3 0 1,0 4.6,0a2.3,2.3 0 1,0 -4.6,0 M261.7,199.1a2.3,2.3 0 1,0 4.6,0a2.3,2.3 0 1,0 -4.6,0 M263.2,195.3a2.3,2.3 0 1,0 4.6,0a2.3,2.3 0 1,0 -4.6,0 M264.7,194.9a2.3,2.3 0 1,0 4.6,0a2.3,2.3 0 1,0 -4.6,0 M266.2,191.5a2.3,2.3 0 1,0 4.6,0a2.3,2.3 0 1,0 -4.6,0 M267.7,195.6a2.3,2.3 0 1,0 4.6,0a2.3,2.3 0 1,0 -4.6,0 M269.2,192.3a2.3,2.3 0 1,0 4.6,0a2.3,2.3 0 1,0 -4.6,0 M270.7,181.6a2.3,2.3 0 1,0 4.6,0a2.3,2.3 0 1,0 -4.6,0 M272.2,176.1a2.3,2.3 0 1,0 4.6,0a2.3,2.3 0 1,0 -4.6,0 M273.7,176.0a2.3,2.3 0 1,0 4.6,0a2.3,2.3 0 1,0 -4.6,0 M275.2,178.5a2.3,2.3 0 1,0 4.6,0a2.3,2.3 0 1,0 -4.6,0 M276.7,161.3a2.3,2.3 0 1,0 4.6,0a2.3,2.3 0 1,0 -4.6,0 M278.2,169.4a2.3,2.3 0 1,0 4.6,0a2.3,2.3 0 1,0 -4.6,0 M279.7,161.8a2.3,2.3 0 1,0 4.6,0a2.3,2.3 0 1,0 -4.6,0 M281.2,166.8a2.3,2.3 0 1,0 4.6,0a2.3,2.3 0 1,0 -4.6,0 M282.7,158.5a2.3,2.3 0 1,0 4.6,0a2.3,2.3 0 1,0 -4.6,0 M284.2,160.5a2.3,2.3 0 1,0 4.6,0a2.3,2.3 0 1,0 -4.6,0 M285.7,157.4a2.3,2.3 0 1,0 4.6,0a2.3,2.3 0 1,0 -4.6,0 M287.2,160.9a2.3,2.3 0 1,0 4.6,0a2.3,2.3 0 1,0 -4.6,0 M288.7,170.9a2.3,2.3 0 1,0 4.6,0a2.3,2.3 0 1,0 -4.6,0 M290.2,171.6a2.3,2.3 0 1,0 4.6,0a2.3,2.3 0 1,0 -4.6,0 M291.7,171.0a2.3,2.3 0 1,0 4.6,0a2.3,2.3 0 1,0 -4.6,0 M293.2,173.2a2.3,2.3 0 1,0 4.6,0a2.3,2.3 0 1,0 -4.6,0 M294.7,173.5a2.3,2.3 0 1,0 4.6,0a2.3,2.3 0 1,0 -4.6,0 M296.2,182.5a2.3,2.3 0 1,0 4.6,0a2.3,2.3 0 1,0 -4.6,0 M297.7,187.9a2.3,2.3 0 1,0 4.6,0a2.3,2.3 0 1,0 -4.6,0 M299.2,192.2a2.3,2.3 0 1,0 4.6,0a2.3,2.3 0 1,0 -4.6,0 M300.7,196.6a2.3,2.3 0 1,0 4.6,0a2.3,2.3 0 1,0 -4.6,0 M302.2,197.7a2.3,2.3 0 1,0 4.6,0a2.3,2.3 0 1,0 -4.6,0 M303.7,205.3a2.3,2.3 0 1,0 4.6,0a2.3,2.3 0 1,0 -4.6,0 M305.2,208.7a2.3,2.3 0 1,0 4.6,0a2.3,2.3 0 1,0 -4.6,0 M306.7,215.9a2.3,2.3 0 1,0 4.6,0a2.3,2.3 0 1,0 -4.6,0 M308.2,220.6a2.3,2.3 0 1,0 4.6,0a2.3,2.3 0 1,0 -4.6,0 M309.7,216.9a2.3,2.3 0 1,0 4.6,0a2.3,2.3 0 1,0 -4.6,0 M311.2,217.8a2.3,2.3 0 1,0 4.6,0a2.3,2.3 0 1,0 -4.6,0 M312.7,222.9a2.3,2.3 0 1,0 4.6,0a2.3,2.3 0 1,0 -4.6,0 M314.2,223.4a2.3,2.3 0 1,0 4.6,0a2.3,2.3 0 1,0 -4.6,0 M315.7,225.0a2.3,2.3 0 1,0 4.6,0a2.3,2.3 0 1,0 -4.6,0 M317.2,229.1a2.3,2.3 0 1,0 4.6,0a2.3,2.3 0 1,0 -4.6,0 M318.7,227.5a2.3,2.3 0 1,0 4.6,0a2.3,2.3 0 1,0 -4.6,0 M320.2,234.4a2.3,2.3 0 1,0 4.6,0a2.3,2.3 0 1,0 -4.6,0 M321.7,233.2a2.3,2.3 0 1,0 4.6,0a2.3,2.3 0 1,0 -4.6,0 M323.2,235.4a2.3,2.3 0 1,0 4.6,0a2.3,2.3 0 1,0 -4.6,0 M324.7,234.9a2.3,2.3 0 1,0 4.6,0a2.3,2.3 0 1,0 -4.6,0 M326.2,233.9a2.3,2.3 0 1,0 4.6,0a2.3,2.3 0 1,0 -4.6,0 M327.7,233.9a2.3,2.3 0 1,0 4.6,0a2.3,2.3 0 1,0 -4.6,0 M329.2,236.7a2.3,2.3 0 1,0 4.6,0a2.3,2.3 0 1,0 -4.6,0 M330.7,236.1a2.3,2.3 0 1,0 4.6,0a2.3,2.3 0 1,0 -4.6,0 M332.2,239.1a2.3,2.3 0 1,0 4.6,0a2.3,2.3 0 1,0 -4.6,0 M333.7,238.6a2.3,2.3 0 1,0 4.6,0a2.3,2.3 0 1,0 -4.6,0 M335.2,234.4a2.3,2.3 0 1,0 4.6,0a2.3,2.3 0 1,0 -4.6,0 M336.7,239.2a2.3,2.3 0 1,0 4.6,0a2.3,2.3 0 1,0 -4.6,0 M338.2,234.6a2.3,2.3 0 1,0 4.6,0a2.3,2.3 0 1,0 -4.6,0 M339.7,237.0a2.3,2.3 0 1,0 4.6,0a2.3,2.3 0 1,0 -4.6,0 M341.2,237.9a2.3,2.3 0 1,0 4.6,0a2.3,2.3 0 1,0 -4.6,0 M342.7,231.9a2.3,2.3 0 1,0 4.6,0a2.3,2.3 0 1,0 -4.6,0 M344.2,239.0a2.3,2.3 0 1,0 4.6,0a2.3,2.3 0 1,0 -4.6,0 M345.7,239.0a2.3,2.3 0 1,0 4.6,0a2.3,2.3 0 1,0 -4.6,0 M347.2,237.8a2.3,2.3 0 1,0 4.6,0a2.3,2.3 0 1,0 -4.6,0 M348.7,236.8a2.3,2.3 0 1,0 4.6,0a2.3,2.3 0 1,0 -4.6,0 M350.2,236.7a2.3,2.3 0 1,0 4.6,0a2.3,2.3 0 1,0 -4.6,0 M351.7,234.4a2.3,2.3 0 1,0 4.6,0a2.3,2.3 0 1,0 -4.6,0 M353.2,236.4a2.3,2.3 0 1,0 4.6,0a2.3,2.3 0 1,0 -4.6,0 M354.7,235.1a2.3,2.3 0 1,0 4.6,0a2.3,2.3 0 1,0 -4.6,0 M356.2,236.9a2.3,2.3 0 1,0 4.6,0a2.3,2.3 0 1,0 -4.6,0 M357.7,232.2a2.3,2.3 0 1,0 4.6,0a2.3,2.3 0 1,0 -4.6,0 M359.2,236.6a2.3,2.3 0 1,0 4.6,0a2.3,2.3 0 1,0 -4.6,0 M360.7,235.8a2.3,2.3 0 1,0 4.6,0a2.3,2.3 0 1,0 -4.6,0 M362.2,234.5a2.3,2.3 0 1,0 4.6,0a2.3,2.3 0 1,0 -4.6,0 M363.7,233.0a2.3,2.3 0 1,0 4.6,0a2.3,2.3 0 1,0 -4.6,0 M365.2,235.8a2.3,2.3 0 1,0 4.6,0a2.3,2.3 0 1,0 -4.6,0 M366.7,227.9a2.3,2.3 0 1,0 4.6,0a2.3,2.3 0 1,0 -4.6,0 M368.2,234.4a2.3,2.3 0 1,0 4.6,0a2.3,2.3 0 1,0 -4.6,0 M369.7,233.0a2.3,2.3 0 1,0 4.6,0a2.3,2.3 0 1,0 -4.6,0 M371.2,232.4a2.3,2.3 0 1,0 4.6,0a2.3,2.3 0 1,0 -4.6,0 M372.7,232.0a2.3,2.3 0 1,0 4.6,0a2.3,2.3 0 1,0 -4.6,0 M374.2,227.8a2.3,2.3 0 1,0 4.6,0a2.3,2.3 0 1,0 -4.6,0 M375.7,228.2a2.3,2.3 0 1,0 4.6,0a2.3,2.3 0 1,0 -4.6,0 M377.2,230.3a2.3,2.3 0 1,0 4.6,0a2.3,2.3 0 1,0 -4.6,0 M378.7,228.7a2.3,2.3 0 1,0 4.6,0a2.3,2.3 0 1,0 -4.6,0 M380.2,227.0a2.3,2.3 0 1,0 4.6,0a2.3,2.3 0 1,0 -4.6,0 M381.7,220.3a2.3,2.3 0 1,0 4.6,0a2.3,2.3 0 1,0 -4.6,0 M383.2,226.1a2.3,2.3 0 1,0 4.6,0a2.3,2.3 0 1,0 -4.6,0 M384.7,227.2a2.3,2.3 0 1,0 4.6,0a2.3,2.3 0 1,0 -4.6,0 M386.2,225.6a2.3,2.3 0 1,0 4.6,0a2.3,2.3 0 1,0 -4.6,0 M387.7,221.9a2.3,2.3 0 1,0 4.6,0a2.3,2.3 0 1,0 -4.6,0 M389.2,214.8a2.3,2.3 0 1,0 4.6,0a2.3,2.3 0 1,0 -4.6,0 M390.7,221.9a2.3,2.3 0 1,0 4.6,0a2.3,2.3 0 1,0 -4.6,0 M392.2,217.0a2.3,2.3 0 1,0 4.6,0a2.3,2.3 0 1,0 -4.6,0 M393.7,207.8a2.3,2.3 0 1,0 4.6,0a2.3,2.3 0 1,0 -4.6,0 M395.2,216.0a2.3,2.3 0 1,0 4.6,0a2.3,2.3 0 1,0 -4.6,0 M396.7,208.4a2.3,2.3 0 1,0 4.6,0a2.3,2.3 0 1,0 -4.6,0 M398.2,207.5a2.3,2.3 0 1,0 4.6,0a2.3,2.3 0 1,0 -4.6,0 M399.7,208.1a2.3,2.3 0 1,0 4.6,0a2.3,2.3 0 1,0 -4.6,0 M401.2,212.7a2.3,2.3 0 1,0 4.6,0a2.3,2.3 0 1,0 -4.6,0 M402.7,205.4a2.3,2.3 0 1,0 4.6,0a2.3,2.3 0 1,0 -4.6,0 M404.2,205.6a2.3,2.3 0 1,0 4.6,0a2.3,2.3 0 1,0 -4.6,0 M405.7,208.5a2.3,2.3 0 1,0 4.6,0a2.3,2.3 0 1,0 -4.6,0 M407.2,205.8a2.3,2.3 0 1,0 4.6,0a2.3,2.3 0 1,0 -4.6,0 M408.7,198.0a2.3,2.3 0 1,0 4.6,0a2.3,2.3 0 1,0 -4.6,0 M410.2,195.1a2.3,2.3 0 1,0 4.6,0a2.3,2.3 0 1,0 -4.6,0 M411.7,189.1a2.3,2.3 0 1,0 4.6,0a2.3,2.3 0 1,0 -4.6,0 M413.2,188.2a2.3,2.3 0 1,0 4.6,0a2.3,2.3 0 1,0 -4.6,0 M414.7,189.0a2.3,2.3 0 1,0 4.6,0a2.3,2.3 0 1,0 -4.6,0 M416.2,185.9a2.3,2.3 0 1,0 4.6,0a2.3,2.3 0 1,0 -4.6,0 M417.7,181.9a2.3,2.3 0 1,0 4.6,0a2.3,2.3 0 1,0 -4.6,0 M419.2,181.8a2.3,2.3 0 1,0 4.6,0a2.3,2.3 0 1,0 -4.6,0 M420.7,172.8a2.3,2.3 0 1,0 4.6,0a2.3,2.3 0 1,0 -4.6,0 M422.2,171.8a2.3,2.3 0 1,0 4.6,0a2.3,2.3 0 1,0 -4.6,0 M423.7,170.7a2.3,2.3 0 1,0 4.6,0a2.3,2.3 0 1,0 -4.6,0 M425.2,166.1a2.3,2.3 0 1,0 4.6,0a2.3,2.3 0 1,0 -4.6,0 M426.7,163.1a2.3,2.3 0 1,0 4.6,0a2.3,2.3 0 1,0 -4.6,0 M428.2,155.8a2.3,2.3 0 1,0 4.6,0a2.3,2.3 0 1,0 -4.6,0 M429.7,148.3a2.3,2.3 0 1,0 4.6,0a2.3,2.3 0 1,0 -4.6,0 M431.2,145.4a2.3,2.3 0 1,0 4.6,0a2.3,2.3 0 1,0 -4.6,0 M432.7,135.7a2.3,2.3 0 1,0 4.6,0a2.3,2.3 0 1,0 -4.6,0 M434.2,128.2a2.3,2.3 0 1,0 4.6,0a2.3,2.3 0 1,0 -4.6,0 M435.7,130.2a2.3,2.3 0 1,0 4.6,0a2.3,2.3 0 1,0 -4.6,0 M437.2,122.6a2.3,2.3 0 1,0 4.6,0a2.3,2.3 0 1,0 -4.6,0 M438.7,118.0a2.3,2.3 0 1,0 4.6,0a2.3,2.3 0 1,0 -4.6,0 M440.2,105.4a2.3,2.3 0 1,0 4.6,0a2.3,2.3 0 1,0 -4.6,0 M441.7,103.5a2.3,2.3 0 1,0 4.6,0a2.3,2.3 0 1,0 -4.6,0 M443.2,95.3a2.3,2.3 0 1,0 4.6,0a2.3,2.3 0 1,0 -4.6,0 M444.7,86.4a2.3,2.3 0 1,0 4.6,0a2.3,2.3 0 1,0 -4.6,0 M446.2,75.2a2.3,2.3 0 1,0 4.6,0a2.3,2.3 0 1,0 -4.6,0 M447.7,77.3a2.3,2.3 0 1,0 4.6,0a2.3,2.3 0 1,0 -4.6,0 M449.2,77.9a2.3,2.3 0 1,0 4.6,0a2.3,2.3 0 1,0 -4.6,0 M450.7,73.9a2.3,2.3 0 1,0 4.6,0a2.3,2.3 0 1,0 -4.6,0 M452.2,69.4a2.3,2.3 0 1,0 4.6,0a2.3,2.3 0 1,0 -4.6,0 M453.7,70.5a2.3,2.3 0 1,0 4.6,0a2.3,2.3 0 1,0 -4.6,0 M455.2,73.4a2.3,2.3 0 1,0 4.6,0a2.3,2.3 0 1,0 -4.6,0 M456.7,65.6a2.3,2.3 0 1,0 4.6,0a2.3,2.3 0 1,0 -4.6,0 M458.2,80.8a2.3,2.3 0 1,0 4.6,0a2.3,2.3 0 1,0 -4.6,0 M459.7,94.5a2.3,2.3 0 1,0 4.6,0a2.3,2.3 0 1,0 -4.6,0 M461.2,107.0a2.3,2.3 0 1,0 4.6,0a2.3,2.3 0 1,0 -4.6,0 M462.7,123.1a2.3,2.3 0 1,0 4.6,0a2.3,2.3 0 1,0 -4.6,0 M464.2,133.6a2.3,2.3 0 1,0 4.6,0a2.3,2.3 0 1,0 -4.6,0 M465.7,143.4a2.3,2.3 0 1,0 4.6,0a2.3,2.3 0 1,0 -4.6,0 M467.2,155.8a2.3,2.3 0 1,0 4.6,0a2.3,2.3 0 1,0 -4.6,0 M468.7,169.8a2.3,2.3 0 1,0 4.6,0a2.3,2.3 0 1,0 -4.6,0 M470.2,177.8a2.3,2.3 0 1,0 4.6,0a2.3,2.3 0 1,0 -4.6,0 M471.7,193.2a2.3,2.3 0 1,0 4.6,0a2.3,2.3 0 1,0 -4.6,0 M473.2,210.5a2.3,2.3 0 1,0 4.6,0a2.3,2.3 0 1,0 -4.6,0 M474.7,222.8a2.3,2.3 0 1,0 4.6,0a2.3,2.3 0 1,0 -4.6,0 M476.2,222.8a2.3,2.3 0 1,0 4.6,0a2.3,2.3 0 1,0 -4.6,0 M477.7,229.3a2.3,2.3 0 1,0 4.6,0a2.3,2.3 0 1,0 -4.6,0 M479.2,235.3a2.3,2.3 0 1,0 4.6,0a2.3,2.3 0 1,0 -4.6,0 M480.7,244.0a2.3,2.3 0 1,0 4.6,0a2.3,2.3 0 1,0 -4.6,0 M482.2,243.2a2.3,2.3 0 1,0 4.6,0a2.3,2.3 0 1,0 -4.6,0 M483.7,250.1a2.3,2.3 0 1,0 4.6,0a2.3,2.3 0 1,0 -4.6,0 M485.2,243.5a2.3,2.3 0 1,0 4.6,0a2.3,2.3 0 1,0 -4.6,0 M486.7,247.2a2.3,2.3 0 1,0 4.6,0a2.3,2.3 0 1,0 -4.6,0 M488.2,247.9a2.3,2.3 0 1,0 4.6,0a2.3,2.3 0 1,0 -4.6,0 M489.7,251.5a2.3,2.3 0 1,0 4.6,0a2.3,2.3 0 1,0 -4.6,0 M491.2,252.6a2.3,2.3 0 1,0 4.6,0a2.3,2.3 0 1,0 -4.6,0 M492.7,244.4a2.3,2.3 0 1,0 4.6,0a2.3,2.3 0 1,0 -4.6,0 M494.2,246.5a2.3,2.3 0 1,0 4.6,0a2.3,2.3 0 1,0 -4.6,0 M495.7,250.8a2.3,2.3 0 1,0 4.6,0a2.3,2.3 0 1,0 -4.6,0 M497.2,247.7a2.3,2.3 0 1,0 4.6,0a2.3,2.3 0 1,0 -4.6,0 M498.7,245.0a2.3,2.3 0 1,0 4.6,0a2.3,2.3 0 1,0 -4.6,0 M500.2,253.6a2.3,2.3 0 1,0 4.6,0a2.3,2.3 0 1,0 -4.6,0 M501.7,252.1a2.3,2.3 0 1,0 4.6,0a2.3,2.3 0 1,0 -4.6,0 M503.2,252.5a2.3,2.3 0 1,0 4.6,0a2.3,2.3 0 1,0 -4.6,0 M504.7,250.0a2.3,2.3 0 1,0 4.6,0a2.3,2.3 0 1,0 -4.6,0 M506.2,255.8a2.3,2.3 0 1,0 4.6,0a2.3,2.3 0 1,0 -4.6,0 M507.7,252.4a2.3,2.3 0 1,0 4.6,0a2.3,2.3 0 1,0 -4.6,0 M509.2,257.7a2.3,2.3 0 1,0 4.6,0a2.3,2.3 0 1,0 -4.6,0 M510.7,251.9a2.3,2.3 0 1,0 4.6,0a2.3,2.3 0 1,0 -4.6,0 M512.2,253.0a2.3,2.3 0 1,0 4.6,0a2.3,2.3 0 1,0 -4.6,0 M513.7,257.4a2.3,2.3 0 1,0 4.6,0a2.3,2.3 0 1,0 -4.6,0 M515.2,255.4a2.3,2.3 0 1,0 4.6,0a2.3,2.3 0 1,0 -4.6,0 M516.7,260.8a2.3,2.3 0 1,0 4.6,0a2.3,2.3 0 1,0 -4.6,0 M518.2,260.4a2.3,2.3 0 1,0 4.6,0a2.3,2.3 0 1,0 -4.6,0 M519.7,257.5a2.3,2.3 0 1,0 4.6,0a2.3,2.3 0 1,0 -4.6,0 M521.2,261.7a2.3,2.3 0 1,0 4.6,0a2.3,2.3 0 1,0 -4.6,0 M522.7,261.1a2.3,2.3 0 1,0 4.6,0a2.3,2.3 0 1,0 -4.6,0 M524.2,266.0a2.3,2.3 0 1,0 4.6,0a2.3,2.3 0 1,0 -4.6,0 M525.7,261.6a2.3,2.3 0 1,0 4.6,0a2.3,2.3 0 1,0 -4.6,0 M527.2,262.9a2.3,2.3 0 1,0 4.6,0a2.3,2.3 0 1,0 -4.6,0 M528.7,268.9a2.3,2.3 0 1,0 4.6,0a2.3,2.3 0 1,0 -4.6,0 M530.2,272.8a2.3,2.3 0 1,0 4.6,0a2.3,2.3 0 1,0 -4.6,0 M531.7,272.4a2.3,2.3 0 1,0 4.6,0a2.3,2.3 0 1,0 -4.6,0 M533.2,266.4a2.3,2.3 0 1,0 4.6,0a2.3,2.3 0 1,0 -4.6,0 M534.7,267.2a2.3,2.3 0 1,0 4.6,0a2.3,2.3 0 1,0 -4.6,0 M536.2,271.8a2.3,2.3 0 1,0 4.6,0a2.3,2.3 0 1,0 -4.6,0 M537.7,266.6a2.3,2.3 0 1,0 4.6,0a2.3,2.3 0 1,0 -4.6,0 M539.2,264.0a2.3,2.3 0 1,0 4.6,0a2.3,2.3 0 1,0 -4.6,0 M540.7,267.8a2.3,2.3 0 1,0 4.6,0a2.3,2.3 0 1,0 -4.6,0 M542.2,269.0a2.3,2.3 0 1,0 4.6,0a2.3,2.3 0 1,0 -4.6,0 M543.7,264.8a2.3,2.3 0 1,0 4.6,0a2.3,2.3 0 1,0 -4.6,0" fill="none" stroke="#1438d8" stroke-width="1.35"/>
<path d="M53.0,215.0 L53.5,215.0 L54.0,215.0 L54.5,214.9 L55.0,214.9 L55.5,214.9 L56.0,214.9 L56.5,214.9 L57.0,214.8 L57.5,214.8 L58.0,214.8 L58.5,214.8 L59.0,214.8 L59.5,214.7 L60.0,214.7 L60.5,214.7 L61.0,214.7 L61.5,214.7 L62.0,214.7 L62.5,214.7 L63.0,214.6 L63.5,214.6 L64.0,214.6 L64.5,214.6 L65.0,214.6 L65.5,214.6 L66.0,214.6 L66.5,214.6 L67.0,214.5 L67.5,214.5 L68.0,214.5 L68.5,214.5 L69.0,214.5 L69.5,214.5 L70.0,214.5 L70.5,214.5 L71.0,214.4 L71.5,214.4 L72.0,214.4 L72.5,214.4 L73.0,214.4 L73.5,214.4 L74.0,214.4 L74.5,214.4 L75.0,214.3 L75.5,214.3 L76.0,214.3 L76.5,214.3 L77.0,214.3 L77.5,214.3 L78.0,214.3 L78.5,214.2 L79.0,214.2 L79.5,214.2 L80.0,214.2 L80.5,214.2 L81.0,214.2 L81.5,214.1 L82.0,214.1 L82.5,214.1 L83.0,214.1 L83.5,214.1 L84.0,214.1 L84.5,214.0 L85.0,214.0 L85.5,214.0 L86.0,214.0 L86.5,214.0 L87.0,214.0 L87.5,213.9 L88.0,213.9 L88.5,213.9 L89.0,213.9 L89.5,213.9 L90.0,213.8 L90.5,213.8 L91.0,213.8 L91.5,213.8 L92.0,213.8 L92.5,213.7 L93.0,213.7 L93.5,213.7 L94.0,213.7 L94.5,213.7 L95.0,213.7 L95.5,213.6 L96.0,213.6 L96.5,213.6 L97.0,213.6 L97.5,213.6 L98.0,213.5 L98.5,213.5 L99.0,213.5 L99.5,213.5 L100.0,213.5 L100.5,213.4 L101.0,213.4 L101.5,213.4 L102.0,213.4 L102.5,213.3 L103.0,213.3 L103.5,213.3 L104.0,213.3 L104.5,213.3 L105.0,213.2 L105.5,213.2 L106.0,213.2 L106.5,213.2 L107.0,213.1 L107.5,213.1 L108.0,213.1 L108.5,213.1 L109.0,213.1 L109.5,213.0 L110.0,213.0 L110.5,213.0 L111.0,213.0 L111.5,212.9 L112.0,212.9 L112.5,212.9 L113.0,212.9 L113.5,212.8 L114.0,212.8 L114.5,212.8 L115.0,212.8 L115.5,212.7 L116.0,212.7 L116.5,212.7 L117.0,212.7 L117.5,212.6 L118.0,212.6 L118.5,212.6 L119.0,212.6 L119.5,212.5 L120.0,212.5 L120.5,212.5 L121.0,212.5 L121.5,212.4 L122.0,212.4 L122.5,212.4 L123.0,212.3 L123.5,212.3 L124.0,212.3 L124.5,212.3 L125.0,212.2 L125.5,212.2 L126.0,212.2 L126.5,212.1 L127.0,212.1 L127.5,212.1 L128.0,212.1 L128.5,212.0 L129.0,212.0 L129.5,212.0 L130.0,211.9 L130.5,211.9 L131.0,211.9 L131.5,211.8 L132.0,211.8 L132.5,211.8 L133.0,211.8 L133.5,211.7 L134.0,211.7 L134.5,211.7 L135.0,211.6 L135.5,211.6 L136.0,211.6 L136.5,211.5 L137.0,211.5 L137.5,211.5 L138.0,211.4 L138.5,211.4 L139.0,211.4 L139.5,211.3 L140.0,211.3 L140.5,211.3 L141.0,211.2 L141.5,211.2 L142.0,211.2 L142.5,211.1 L143.0,211.1 L143.5,211.1 L144.0,211.0 L144.5,211.0 L145.0,211.0 L145.5,210.9 L146.0,210.9 L146.5,210.9 L147.0,210.8 L147.5,210.8 L148.0,210.8 L148.5,210.8 L149.0,210.7 L149.5,210.7 L150.0,210.7 L150.5,210.6 L151.0,210.6 L151.5,210.6 L152.0,210.5 L152.5,210.5 L153.0,210.4 L153.5,210.4 L154.0,210.4 L154.5,210.3 L155.0,210.3 L155.5,210.3 L156.0,210.2 L156.5,210.2 L157.0,210.2 L157.5,210.1 L158.0,210.1 L158.5,210.0 L159.0,210.0 L159.5,209.9 L160.0,209.9 L160.5,209.9 L161.0,209.8 L161.5,209.8 L162.0,209.7 L162.5,209.7 L163.0,209.6 L163.5,209.6 L164.0,209.5 L164.5,209.5 L165.0,209.4 L165.5,209.4 L166.0,209.3 L166.5,209.3 L167.0,209.2 L167.5,209.1 L168.0,209.1 L168.5,209.0 L169.0,208.9 L169.5,208.9 L170.0,208.8 L170.5,208.7 L171.0,208.6 L171.5,208.5 L172.0,208.5 L172.5,208.4 L173.0,208.3 L173.5,208.2 L174.0,208.1 L174.5,208.0 L175.0,207.9 L175.5,207.8 L176.0,207.7 L176.5,207.6 L177.0,207.5 L177.5,207.4 L178.0,207.3 L178.5,207.1 L179.0,207.0 L179.5,206.9 L180.0,206.8 L180.5,206.7 L181.0,206.6 L181.5,206.5 L182.0,206.4 L182.5,206.2 L183.0,206.1 L183.5,206.0 L184.0,205.9 L184.5,205.8 L185.0,205.6 L185.5,205.5 L186.0,205.4 L186.5,205.2 L187.0,205.1 L187.5,205.0 L188.0,204.8 L188.5,204.7 L189.0,204.6 L189.5,204.4 L190.0,204.3 L190.5,204.1 L191.0,204.0 L191.5,203.8 L192.0,203.7 L192.5,203.5 L193.0,203.4 L193.5,203.2 L194.0,203.1 L194.5,202.9 L195.0,202.8 L195.5,202.6 L196.0,202.4 L196.5,202.3 L197.0,202.1 L197.5,202.0 L198.0,201.8 L198.5,201.6 L199.0,201.5 L199.5,201.3 L200.0,201.1 L200.5,201.0 L201.0,200.8 L201.5,200.6 L202.0,200.4 L202.5,200.3 L203.0,200.1 L203.5,199.9 L204.0,199.8 L204.5,199.6 L205.0,199.4 L205.5,199.2 L206.0,199.1 L206.5,198.9 L207.0,198.7 L207.5,198.5 L208.0,198.3 L208.5,198.1 L209.0,198.0 L209.5,197.8 L210.0,197.6 L210.5,197.4 L211.0,197.2 L211.5,197.0 L212.0,196.8 L212.5,196.6 L213.0,196.4 L213.5,196.2 L214.0,196.0 L214.5,195.8 L215.0,195.6 L215.5,195.4 L216.0,195.2 L216.5,195.0 L217.0,194.8 L217.5,194.6 L218.0,194.4 L218.5,194.2 L219.0,193.9 L219.5,193.7 L220.0,193.5 L220.5,193.3 L221.0,193.1 L221.5,192.8 L222.0,192.6 L222.5,192.4 L223.0,192.2 L223.5,191.9 L224.0,191.7 L224.5,191.5 L225.0,191.2 L225.5,191.0 L226.0,190.8 L226.5,190.5 L227.0,190.3 L227.5,190.0 L228.0,189.8 L228.5,189.5 L229.0,189.3 L229.5,189.0 L230.0,188.7 L230.5,188.5 L231.0,188.2 L231.5,187.9 L232.0,187.7 L232.5,187.4 L233.0,187.1 L233.5,186.8 L234.0,186.5 L234.5,186.2 L235.0,185.9 L235.5,185.6 L236.0,185.3 L236.5,185.0 L237.0,184.7 L237.5,184.3 L238.0,184.0 L238.5,183.7 L239.0,183.3 L239.5,183.0 L240.0,182.6 L240.5,182.3 L241.0,181.9 L241.5,181.5 L242.0,181.2 L242.5,180.8 L243.0,180.4 L243.5,180.0 L244.0,179.6 L244.5,179.2 L245.0,178.8 L245.5,178.4 L246.0,178.0 L246.5,177.6 L247.0,177.2 L247.5,176.8 L248.0,176.3 L248.5,175.9 L249.0,175.5 L249.5,175.1 L250.0,174.6 L250.5,174.2 L251.0,173.7 L251.5,173.2 L252.0,172.8 L252.5,172.3 L253.0,171.8 L253.5,171.3 L254.0,170.8 L254.5,170.3 L255.0,169.8 L255.5,169.3 L256.0,168.8 L256.5,168.2 L257.0,167.7 L257.5,167.1 L258.0,166.5 L258.5,165.9 L259.0,165.3 L259.5,164.6 L260.0,163.9 L260.5,163.2 L261.0,162.4 L261.5,161.7 L262.0,160.9 L262.5,160.1 L263.0,159.3 L263.5,158.4 L264.0,157.6 L264.5,156.7 L265.0,155.9 L265.5,155.0 L266.0,154.0 L266.5,153.1 L267.0,152.2 L267.5,151.2 L268.0,150.2 L268.5,149.2 L269.0,148.2 L269.5,147.2 L270.0,146.2 L270.5,145.1 L271.0,144.0 L271.5,142.9 L272.0,141.8 L272.5,140.6 L273.0,139.5 L273.5,138.4 L274.0,137.3 L274.5,136.3 L275.0,135.3 L275.5,134.3 L276.0,133.4 L276.5,132.4 L277.0,131.4 L277.5,130.5 L278.0,129.6 L278.5,128.7 L279.0,127.9 L279.5,127.1 L280.0,126.4 L280.5,125.8 L281.0,125.2 L281.5,124.5 L282.0,124.0 L282.5,123.4 L283.0,123.0 L283.5,122.6 L284.0,122.3 L284.5,122.1 L285.0,121.8 L285.5,121.6 L286.0,121.4 L286.5,121.3 L287.0,121.2 L287.5,121.2 L288.0,121.3 L288.5,121.4 L289.0,121.5 L289.5,121.7 L290.0,122.0 L290.5,122.2 L291.0,122.5 L291.5,122.8 L292.0,123.2 L292.5,123.7 L293.0,124.2 L293.5,124.7 L294.0,125.3 L294.5,126.0 L295.0,126.7 L295.5,127.5 L296.0,128.3 L296.5,129.2 L297.0,130.1 L297.5,131.0 L298.0,131.9 L298.5,132.9 L299.0,133.8 L299.5,134.8 L300.0,135.8 L300.5,136.8 L301.0,137.9 L301.5,138.9 L302.0,140.1 L302.5,141.2 L303.0,142.4 L303.5,143.6 L304.0,144.7 L304.5,145.9 L305.0,147.1 L305.5,148.3 L306.0,149.5 L306.5,150.7 L307.0,151.9 L307.5,153.2 L308.0,154.5 L308.5,155.7 L309.0,157.0 L309.5,158.3 L310.0,159.5 L310.5,160.7 L311.0,161.9 L311.5,163.0 L312.0,164.1 L312.5,165.1 L313.0,166.1 L313.5,167.0 L314.0,168.0 L314.5,168.9 L315.0,169.8 L315.5,170.7 L316.0,171.6 L316.5,172.4 L317.0,173.1 L317.5,173.9 L318.0,174.6 L318.5,175.2 L319.0,175.8 L319.5,176.4 L320.0,176.9 L320.5,177.5 L321.0,178.0 L321.5,178.5 L322.0,179.0 L322.5,179.4 L323.0,179.9 L323.5,180.3 L324.0,180.7 L324.5,181.1 L325.0,181.5 L325.5,181.9 L326.0,182.3 L326.5,182.7 L327.0,183.1 L327.5,183.4 L328.0,183.8 L328.5,184.2 L329.0,184.5 L329.5,184.8 L330.0,185.1 L330.5,185.4 L331.0,185.6 L331.5,185.8 L332.0,186.0 L332.5,186.1 L333.0,186.3 L333.5,186.4 L334.0,186.5 L334.5,186.7 L335.0,186.8 L335.5,186.9 L336.0,187.0 L336.5,187.1 L337.0,187.2 L337.5,187.2 L338.0,187.3 L338.5,187.3 L339.0,187.4 L339.5,187.4 L340.0,187.4 L340.5,187.4 L341.0,187.4 L341.5,187.4 L342.0,187.4 L342.5,187.4 L343.0,187.4 L343.5,187.4 L344.0,187.4 L344.5,187.4 L345.0,187.3 L345.5,187.3 L346.0,187.3 L346.5,187.3 L347.0,187.3 L347.5,187.3 L348.0,187.3 L348.5,187.3 L349.0,187.2 L349.5,187.2 L350.0,187.2 L350.5,187.2 L351.0,187.1 L351.5,187.1 L352.0,187.0 L352.5,187.0 L353.0,186.9 L353.5,186.8 L354.0,186.7 L354.5,186.6 L355.0,186.5 L355.5,186.4 L356.0,186.2 L356.5,186.1 L357.0,186.0 L357.5,185.9 L358.0,185.8 L358.5,185.6 L359.0,185.5 L359.5,185.4 L360.0,185.3 L360.5,185.2 L361.0,185.1 L361.5,185.0 L362.0,184.9 L362.5,184.8 L363.0,184.6 L363.5,184.5 L364.0,184.4 L364.5,184.3 L365.0,184.2 L365.5,184.1 L366.0,183.9 L366.5,183.8 L367.0,183.7 L367.5,183.5 L368.0,183.4 L368.5,183.3 L369.0,183.1 L369.5,183.0 L370.0,182.8 L370.5,182.6 L371.0,182.5 L371.5,182.3 L372.0,182.1 L372.5,181.9 L373.0,181.7 L373.5,181.4 L374.0,181.2 L374.5,181.0 L375.0,180.8 L375.5,180.5 L376.0,180.3 L376.5,180.0 L377.0,179.8 L377.5,179.5 L378.0,179.2 L378.5,178.9 L379.0,178.7 L379.5,178.4 L380.0,178.1 L380.5,177.8 L381.0,177.5 L381.5,177.3 L382.0,177.0 L382.5,176.7 L383.0,176.4 L383.5,176.1 L384.0,175.8 L384.5,175.5 L385.0,175.2 L385.5,174.9 L386.0,174.6 L386.5,174.3 L387.0,174.0 L387.5,173.7 L388.0,173.4 L388.5,173.0 L389.0,172.7 L389.5,172.4 L390.0,172.0 L390.5,171.7 L391.0,171.4 L391.5,171.0 L392.0,170.7 L392.5,170.3 L393.0,169.9 L393.5,169.6 L394.0,169.2 L394.5,168.8 L395.0,168.5 L395.5,168.1 L396.0,167.7 L396.5,167.3 L397.0,166.9 L397.5,166.5 L398.0,166.1 L398.5,165.7 L399.0,165.3 L399.5,164.9 L400.0,164.5 L400.5,164.0 L401.0,163.6 L401.5,163.2 L402.0,162.7 L402.5,162.2 L403.0,161.8 L403.5,161.3 L404.0,160.8 L404.5,160.4 L405.0,159.9 L405.5,159.4 L406.0,158.9 L406.5,158.3 L407.0,157.8 L407.5,157.3 L408.0,156.8 L408.5,156.2 L409.0,155.7 L409.5,155.1 L410.0,154.5 L410.5,153.9 L411.0,153.3 L411.5,152.7 L412.0,152.1 L412.5,151.5 L413.0,150.9 L413.5,150.2 L414.0,149.6 L414.5,148.9 L415.0,148.2 L415.5,147.5 L416.0,146.8 L416.5,146.1 L417.0,145.4 L417.5,144.6 L418.0,143.8 L418.5,143.0 L419.0,142.2 L419.5,141.4 L420.0,140.6 L420.5,139.7 L421.0,138.8 L421.5,137.9 L422.0,137.0 L422.5,136.0 L423.0,135.0 L423.5,134.0 L424.0,132.9 L424.5,131.8 L425.0,130.7 L425.5,129.5 L426.0,128.4 L426.5,127.2 L427.0,126.0 L427.5,124.7 L428.0,123.5 L428.5,122.2 L429.0,120.9 L429.5,119.5 L430.0,118.1 L430.5,116.7 L431.0,115.2 L431.5,113.7 L432.0,112.1 L432.5,110.5 L433.0,108.9 L433.5,107.2 L434.0,105.4 L434.5,103.6 L435.0,101.7 L435.5,99.7 L436.0,97.7 L436.5,95.6 L437.0,93.4 L437.5,91.2 L438.0,88.9 L438.5,86.7 L439.0,84.4 L439.5,82.1 L440.0,79.8 L440.5,77.5 L441.0,75.2 L441.5,73.0 L442.0,70.6 L442.5,68.2 L443.0,65.9 L443.5,63.6 L444.0,61.5 L444.5,59.5 L445.0,57.5 L445.5,55.5 L446.0,53.6 L446.5,51.7 L447.0,49.8 L447.5,47.9 L448.0,46.0 L448.5,44.1 L449.0,42.1 L449.5,40.3 L450.0,38.5 L450.5,36.8 L451.0,35.3 L451.5,33.9 L452.0,32.5 L452.5,31.2 L453.0,29.9 L453.5,28.8 L454.0,27.8 L454.5,26.9 L455.0,26.1 L455.5,25.2 L456.0,24.4 L456.5,23.7 L457.0,23.1 L457.5,22.7 L458.0,22.5 L458.5,22.6 L459.0,23.0 L459.5,23.6 L460.0,24.5 L460.5,25.5 L461.0,26.5 L461.5,27.6 L462.0,28.8 L462.5,30.1 L463.0,31.7 L463.5,33.5 L464.0,35.5 L464.5,37.6 L465.0,39.9 L465.5,42.7 L466.0,45.8 L466.5,49.0 L467.0,52.2 L467.5,55.3 L468.0,58.4 L468.5,61.9 L469.0,66.1 L469.5,71.9 L470.0,79.3 L470.5,87.4 L471.0,95.1 L471.5,101.3 L472.0,106.1 L472.5,110.3 L473.0,114.1 L473.5,117.7 L474.0,121.3 L474.5,124.8 L475.0,128.1 L475.5,131.4 L476.0,134.5 L476.5,137.8 L477.0,141.2 L477.5,144.9 L478.0,149.0 L478.5,153.1 L479.0,157.1 L479.5,160.7 L480.0,163.8 L480.5,166.7 L481.0,169.4 L481.5,171.9 L482.0,174.3 L482.5,176.6 L483.0,178.7 L483.5,180.7 L484.0,182.6 L484.5,184.4 L485.0,186.0 L485.5,187.4 L486.0,188.5 L486.5,189.5 L487.0,190.4 L487.5,191.3 L488.0,192.0 L488.5,192.7 L489.0,193.3 L489.5,193.9 L490.0,194.5 L490.5,195.0 L491.0,195.5 L491.5,195.9 L492.0,196.2 L492.5,196.5 L493.0,196.8 L493.5,197.0 L494.0,197.2 L494.5,197.4 L495.0,197.6 L495.5,197.8 L496.0,198.0 L496.5,198.2 L497.0,198.4 L497.5,198.6 L498.0,198.8 L498.5,199.0 L499.0,199.2 L499.5,199.4 L500.0,199.7 L500.5,200.0 L501.0,200.2 L501.5,200.5 L502.0,200.8 L502.5,201.1 L503.0,201.4 L503.5,201.7 L504.0,202.0 L504.5,202.3 L505.0,202.6 L505.5,202.9 L506.0,203.2 L506.5,203.5 L507.0,203.8 L507.5,204.1 L508.0,204.5 L508.5,204.8 L509.0,205.2 L509.5,205.5 L510.0,205.9 L510.5,206.2 L511.0,206.6 L511.5,206.9 L512.0,207.3 L512.5,207.6 L513.0,208.0 L513.5,208.3 L514.0,208.6 L514.5,208.9 L515.0,209.2 L515.5,209.4 L516.0,209.7 L516.5,209.9 L517.0,210.2 L517.5,210.4 L518.0,210.7 L518.5,211.0 L519.0,211.2 L519.5,211.5 L520.0,211.8 L520.5,212.0 L521.0,212.3 L521.5,212.5 L522.0,212.8 L522.5,213.0 L523.0,213.2 L523.5,213.4 L524.0,213.6 L524.5,213.7 L525.0,213.9 L525.5,214.1 L526.0,214.2 L526.5,214.3 L527.0,214.5 L527.5,214.6 L528.0,214.8 L528.5,214.9 L529.0,215.0 L529.5,215.1 L530.0,215.2 L530.5,215.3 L531.0,215.4 L531.5,215.5 L532.0,215.6 L532.5,215.6 L533.0,215.7 L533.5,215.8 L534.0,215.8 L534.5,215.9 L535.0,215.9 L535.5,216.0 L536.0,216.0 L536.5,216.1 L537.0,216.1 L537.5,216.1 L538.0,216.2 L538.5,216.2 L539.0,216.2 L539.5,216.2 L540.0,216.3 L540.5,216.3 L541.0,216.3 L541.5,216.3 L542.0,216.3 L542.5,216.3 L543.0,216.4 L543.5,216.4 L544.0,216.4 L544.5,216.4 L545.0,216.4 L545.5,216.4 L546.0,216.5" fill="none" stroke="#000" stroke-width="3.2" stroke-linejoin="round"/>
<path d="M53.3,270.4 L53.8,270.4 L54.3,270.4 L54.8,270.3 L55.3,270.3 L55.8,270.3 L56.3,270.3 L56.8,270.3 L57.3,270.2 L57.8,270.2 L58.3,270.2 L58.8,270.2 L59.3,270.1 L59.8,270.1 L60.3,270.1 L60.8,270.1 L61.3,270.1 L61.8,270.0 L62.3,270.0 L62.8,270.0 L63.3,270.0 L63.8,270.0 L64.3,269.9 L64.8,269.9 L65.3,269.9 L65.8,269.9 L66.3,269.9 L66.8,269.8 L67.3,269.8 L67.8,269.8 L68.3,269.8 L68.8,269.7 L69.3,269.7 L69.8,269.7 L70.3,269.7 L70.8,269.7 L71.3,269.6 L71.8,269.6 L72.3,269.6 L72.8,269.6 L73.3,269.5 L73.8,269.5 L74.3,269.5 L74.8,269.5 L75.3,269.4 L75.8,269.4 L76.3,269.4 L76.8,269.4 L77.3,269.3 L77.8,269.3 L78.3,269.3 L78.8,269.3 L79.3,269.2 L79.8,269.2 L80.3,269.2 L80.8,269.2 L81.3,269.1 L81.8,269.1 L82.3,269.1 L82.8,269.0 L83.3,269.0 L83.8,269.0 L84.3,268.9 L84.8,268.9 L85.3,268.9 L85.8,268.8 L86.3,268.8 L86.8,268.8 L87.3,268.7 L87.8,268.7 L88.3,268.7 L88.8,268.6 L89.3,268.6 L89.8,268.6 L90.3,268.5 L90.8,268.5 L91.3,268.5 L91.8,268.4 L92.3,268.4 L92.8,268.3 L93.3,268.3 L93.8,268.3 L94.3,268.2 L94.8,268.2 L95.3,268.2 L95.8,268.1 L96.3,268.1 L96.8,268.0 L97.3,268.0 L97.8,268.0 L98.3,267.9 L98.8,267.9 L99.3,267.9 L99.8,267.8 L100.3,267.8 L100.8,267.7 L101.3,267.7 L101.8,267.7 L102.3,267.6 L102.8,267.6 L103.3,267.5 L103.8,267.5 L104.3,267.5 L104.8,267.4 L105.3,267.4 L105.8,267.4 L106.3,267.3 L106.8,267.3 L107.3,267.2 L107.8,267.2 L108.3,267.2 L108.8,267.1 L109.3,267.1 L109.8,267.0 L110.3,267.0 L110.8,266.9 L111.3,266.9 L111.8,266.9 L112.3,266.8 L112.8,266.8 L113.3,266.7 L113.8,266.7 L114.3,266.6 L114.8,266.6 L115.3,266.5 L115.8,266.5 L116.3,266.4 L116.8,266.4 L117.3,266.3 L117.8,266.3 L118.3,266.2 L118.8,266.2 L119.3,266.1 L119.8,266.1 L120.3,266.0 L120.8,266.0 L121.3,265.9 L121.8,265.9 L122.3,265.8 L122.8,265.8 L123.3,265.7 L123.8,265.7 L124.3,265.6 L124.8,265.6 L125.3,265.5 L125.8,265.5 L126.3,265.4 L126.8,265.4 L127.3,265.3 L127.8,265.2 L128.3,265.2 L128.8,265.1 L129.3,265.1 L129.8,265.0 L130.3,265.0 L130.8,264.9 L131.3,264.9 L131.8,264.8 L132.3,264.7 L132.8,264.7 L133.3,264.6 L133.8,264.6 L134.3,264.5 L134.8,264.4 L135.3,264.4 L135.8,264.3 L136.3,264.3 L136.8,264.2 L137.3,264.1 L137.8,264.1 L138.3,264.0 L138.8,264.0 L139.3,263.9 L139.8,263.8 L140.3,263.8 L140.8,263.7 L141.3,263.6 L141.8,263.6 L142.3,263.5 L142.8,263.4 L143.3,263.4 L143.8,263.3 L144.3,263.2 L144.8,263.2 L145.3,263.1 L145.8,263.0 L146.3,263.0 L146.8,262.9 L147.3,262.8 L147.8,262.8 L148.3,262.7 L148.8,262.6 L149.3,262.5 L149.8,262.5 L150.3,262.4 L150.8,262.3 L151.3,262.3 L151.8,262.2 L152.3,262.1 L152.8,262.0 L153.3,261.9 L153.8,261.9 L154.3,261.8 L154.8,261.7 L155.3,261.6 L155.8,261.5 L156.3,261.5 L156.8,261.4 L157.3,261.3 L157.8,261.2 L158.3,261.1 L158.8,261.0 L159.3,260.9 L159.8,260.8 L160.3,260.7 L160.8,260.6 L161.3,260.6 L161.8,260.5 L162.3,260.4 L162.8,260.3 L163.3,260.2 L163.8,260.1 L164.3,259.9 L164.8,259.8 L165.3,259.7 L165.8,259.6 L166.3,259.5 L166.8,259.4 L167.3,259.3 L167.8,259.2 L168.3,259.1 L168.8,258.9 L169.3,258.8 L169.8,258.7 L170.3,258.6 L170.8,258.5 L171.3,258.3 L171.8,258.2 L172.3,258.1 L172.8,258.0 L173.3,257.8 L173.8,257.7 L174.3,257.6 L174.8,257.4 L175.3,257.3 L175.8,257.2 L176.3,257.0 L176.8,256.9 L177.3,256.8 L177.8,256.6 L178.3,256.5 L178.8,256.3 L179.3,256.2 L179.8,256.1 L180.3,255.9 L180.8,255.8 L181.3,255.6 L181.8,255.5 L182.3,255.4 L182.8,255.2 L183.3,255.1 L183.8,254.9 L184.3,254.8 L184.8,254.6 L185.3,254.4 L185.8,254.3 L186.3,254.1 L186.8,253.9 L187.3,253.8 L187.8,253.6 L188.3,253.4 L188.8,253.3 L189.3,253.1 L189.8,252.9 L190.3,252.7 L190.8,252.6 L191.3,252.4 L191.8,252.2 L192.3,252.0 L192.8,251.9 L193.3,251.7 L193.8,251.5 L194.3,251.3 L194.8,251.1 L195.3,250.9 L195.8,250.8 L196.3,250.6 L196.8,250.4 L197.3,250.2 L197.8,250.0 L198.3,249.8 L198.8,249.6 L199.3,249.5 L199.8,249.3 L200.3,249.1 L200.8,248.9 L201.3,248.7 L201.8,248.5 L202.3,248.4 L202.8,248.2 L203.3,248.0 L203.8,247.8 L204.3,247.6 L204.8,247.4 L205.3,247.2 L205.8,247.0 L206.3,246.9 L206.8,246.7 L207.3,246.5 L207.8,246.3 L208.3,246.1 L208.8,245.9 L209.3,245.7 L209.8,245.5 L210.3,245.3 L210.8,245.1 L211.3,244.9 L211.8,244.7 L212.3,244.5 L212.8,244.3 L213.3,244.1 L213.8,243.8 L214.3,243.6 L214.8,243.4 L215.3,243.2 L215.8,243.0 L216.3,242.7 L216.8,242.5 L217.3,242.3 L217.8,242.1 L218.3,241.8 L218.8,241.6 L219.3,241.4 L219.8,241.1 L220.3,240.9 L220.8,240.7 L221.3,240.4 L221.8,240.2 L222.3,239.9 L222.8,239.7 L223.3,239.4 L223.8,239.2 L224.3,238.9 L224.8,238.7 L225.3,238.4 L225.8,238.1 L226.3,237.9 L226.8,237.6 L227.3,237.3 L227.8,237.1 L228.3,236.8 L228.8,236.5 L229.3,236.2 L229.8,236.0 L230.3,235.7 L230.8,235.4 L231.3,235.1 L231.8,234.8 L232.3,234.5 L232.8,234.2 L233.3,233.9 L233.8,233.6 L234.3,233.3 L234.8,233.0 L235.3,232.7 L235.8,232.4 L236.3,232.1 L236.8,231.8 L237.3,231.5 L237.8,231.2 L238.3,230.8 L238.8,230.5 L239.3,230.2 L239.8,229.8 L240.3,229.5 L240.8,229.1 L241.3,228.7 L241.8,228.4 L242.3,228.0 L242.8,227.6 L243.3,227.2 L243.8,226.8 L244.3,226.4 L244.8,226.0 L245.3,225.6 L245.8,225.2 L246.3,224.7 L246.8,224.3 L247.3,223.8 L247.8,223.3 L248.3,222.8 L248.8,222.3 L249.3,221.8 L249.8,221.3 L250.3,220.8 L250.8,220.3 L251.3,219.8 L251.8,219.3 L252.3,218.7 L252.8,218.2 L253.3,217.6 L253.8,217.1 L254.3,216.5 L254.8,216.0 L255.3,215.4 L255.8,214.9 L256.3,214.3 L256.8,213.8 L257.3,213.2 L257.8,212.6 L258.3,212.1 L258.8,211.5 L259.3,210.9 L259.8,210.3 L260.3,209.7 L260.8,209.1 L261.3,208.5 L261.8,207.9 L262.3,207.3 L262.8,206.6 L263.3,206.0 L263.8,205.3 L264.3,204.6 L264.8,203.9 L265.3,203.2 L265.8,202.5 L266.3,201.8 L266.8,201.1 L267.3,200.3 L267.8,199.6 L268.3,198.8 L268.8,197.9 L269.3,197.0 L269.8,196.1 L270.3,195.1 L270.8,194.0 L271.3,192.7 L271.8,191.2 L272.3,189.5 L272.8,187.9 L273.3,186.3 L273.8,185.0 L274.3,183.7 L274.8,182.5 L275.3,181.3 L275.8,180.1 L276.3,179.0 L276.8,177.9 L277.3,176.8 L277.8,175.7 L278.3,174.6 L278.8,173.5 L279.3,172.4 L279.8,171.4 L280.3,170.5 L280.8,169.7 L281.3,168.9 L281.8,168.1 L282.3,167.5 L282.8,166.8 L283.3,166.4 L283.8,166.0 L284.3,165.6 L284.8,165.3 L285.3,165.0 L285.8,164.9 L286.3,164.8 L286.8,164.9 L287.3,165.0 L287.8,165.3 L288.3,165.6 L288.8,165.9 L289.3,166.2 L289.8,166.6 L290.3,167.0 L290.8,167.6 L291.3,168.2 L291.8,168.8 L292.3,169.6 L292.8,170.5 L293.3,171.6 L293.8,172.8 L294.3,174.1 L294.8,175.3 L295.3,176.6 L295.8,177.8 L296.3,179.0 L296.8,180.3 L297.3,181.6 L297.8,182.9 L298.3,184.3 L298.8,185.6 L299.3,187.0 L299.8,188.5 L300.3,189.9 L300.8,191.4 L301.3,192.9 L301.8,194.4 L302.3,195.9 L302.8,197.4 L303.3,198.9 L303.8,200.4 L304.3,201.9 L304.8,203.3 L305.3,204.8 L305.8,206.1 L306.3,207.3 L306.8,208.4 L307.3,209.4 L307.8,210.4 L308.3,211.4 L308.8,212.3 L309.3,213.2 L309.8,214.1 L310.3,215.1 L310.8,216.1 L311.3,217.0 L311.8,218.0 L312.3,219.0 L312.8,220.0 L313.3,221.0 L313.8,222.0 L314.3,222.9 L314.8,223.8 L315.3,224.7 L315.8,225.5 L316.3,226.2 L316.8,226.9 L317.3,227.6 L317.8,228.2 L318.3,228.9 L318.8,229.5 L319.3,230.1 L319.8,230.7 L320.3,231.3 L320.8,231.8 L321.3,232.3 L321.8,232.8 L322.3,233.3 L322.8,233.7 L323.3,234.2 L323.8,234.5 L324.3,234.9 L324.8,235.2 L325.3,235.6 L325.8,235.9 L326.3,236.2 L326.8,236.5 L327.3,236.8 L327.8,237.1 L328.3,237.3 L328.8,237.6 L329.3,237.8 L329.8,238.0 L330.3,238.2 L330.8,238.4 L331.3,238.6 L331.8,238.7 L332.3,238.9 L332.8,239.0 L333.3,239.1 L333.8,239.3 L334.3,239.4 L334.8,239.5 L335.3,239.6 L335.8,239.7 L336.3,239.8 L336.8,239.9 L337.3,240.0 L337.8,240.1 L338.3,240.1 L338.8,240.2 L339.3,240.2 L339.8,240.2 L340.3,240.2 L340.8,240.2 L341.3,240.2 L341.8,240.2 L342.3,240.1 L342.8,240.1 L343.3,240.1 L343.8,240.1 L344.3,240.0 L344.8,240.0 L345.3,240.0 L345.8,239.9 L346.3,239.9 L346.8,239.8 L347.3,239.8 L347.8,239.7 L348.3,239.7 L348.8,239.6 L349.3,239.6 L349.8,239.5 L350.3,239.5 L350.8,239.4 L351.3,239.3 L351.8,239.3 L352.3,239.2 L352.8,239.1 L353.3,239.0 L353.8,238.9 L354.3,238.8 L354.8,238.7 L355.3,238.6 L355.8,238.4 L356.3,238.3 L356.8,238.2 L357.3,238.1 L357.8,238.0 L358.3,237.8 L358.8,237.7 L359.3,237.6 L359.8,237.5 L360.3,237.3 L360.8,237.2 L361.3,237.1 L361.8,236.9 L362.3,236.8 L362.8,236.7 L363.3,236.5 L363.8,236.4 L364.3,236.2 L364.8,236.1 L365.3,235.9 L365.8,235.8 L366.3,235.6 L366.8,235.5 L367.3,235.3 L367.8,235.1 L368.3,234.9 L368.8,234.8 L369.3,234.6 L369.8,234.4 L370.3,234.2 L370.8,234.0 L371.3,233.8 L371.8,233.5 L372.3,233.3 L372.8,233.1 L373.3,232.9 L373.8,232.6 L374.3,232.4 L374.8,232.1 L375.3,231.8 L375.8,231.6 L376.3,231.3 L376.8,231.0 L377.3,230.7 L377.8,230.5 L378.3,230.2 L378.8,229.9 L379.3,229.6 L379.8,229.3 L380.3,229.0 L380.8,228.7 L381.3,228.4 L381.8,228.0 L382.3,227.7 L382.8,227.4 L383.3,227.1 L383.8,226.8 L384.3,226.4 L384.8,226.1 L385.3,225.8 L385.8,225.4 L386.3,225.1 L386.8,224.8 L387.3,224.4 L387.8,224.1 L388.3,223.7 L388.8,223.3 L389.3,223.0 L389.8,222.6 L390.3,222.2 L390.8,221.8 L391.3,221.4 L391.8,221.1 L392.3,220.7 L392.8,220.2 L393.3,219.8 L393.8,219.4 L394.3,219.0 L394.8,218.6 L395.3,218.1 L395.8,217.7 L396.3,217.2 L396.8,216.8 L397.3,216.3 L397.8,215.9 L398.3,215.4 L398.8,214.9 L399.3,214.4 L399.8,213.9 L400.3,213.4 L400.8,212.9 L401.3,212.3 L401.8,211.8 L402.3,211.2 L402.8,210.7 L403.3,210.1 L403.8,209.5 L404.3,208.9 L404.8,208.3 L405.3,207.6 L405.8,207.0 L406.3,206.4 L406.8,205.7 L407.3,205.0 L407.8,204.4 L408.3,203.7 L408.8,203.0 L409.3,202.3 L409.8,201.5 L410.3,200.8 L410.8,200.0 L411.3,199.3 L411.8,198.5 L412.3,197.7 L412.8,196.8 L413.3,196.0 L413.8,195.1 L414.3,194.2 L414.8,193.2 L415.3,192.3 L415.8,191.3 L416.3,190.4 L416.8,189.4 L417.3,188.4 L417.8,187.4 L418.3,186.4 L418.8,185.4 L419.3,184.4 L419.8,183.4 L420.3,182.4 L420.8,181.4 L421.3,180.3 L421.8,179.3 L422.3,178.3 L422.8,177.2 L423.3,176.1 L423.8,175.0 L424.3,173.9 L424.8,172.7 L425.3,171.5 L425.8,170.3 L426.3,169.0 L426.8,167.7 L427.3,166.3 L427.8,164.8 L428.3,163.2 L428.8,161.6 L429.3,160.0 L429.8,158.3 L430.3,156.6 L430.8,154.9 L431.3,153.2 L431.8,151.4 L432.3,149.7 L432.8,148.0 L433.3,146.3 L433.8,144.6 L434.3,142.9 L434.8,141.2 L435.3,139.4 L435.8,137.6 L436.3,135.9 L436.8,134.1 L437.3,132.3 L437.8,130.5 L438.3,128.6 L438.8,126.8 L439.3,125.0 L439.8,123.2 L440.3,121.3 L440.8,119.5 L441.3,117.6 L441.8,115.7 L442.3,113.8 L442.8,111.8 L443.3,109.9 L443.8,107.8 L444.3,105.7 L444.8,103.4 L445.3,100.9 L445.8,98.3 L446.3,95.8 L446.8,93.2 L447.3,90.8 L447.8,88.6 L448.3,86.6 L448.8,84.9 L449.3,83.6 L449.8,82.4 L450.3,81.3 L450.8,80.2 L451.3,79.2 L451.8,78.3 L452.3,77.6 L452.8,76.9 L453.3,76.4 L453.8,76.0 L454.3,75.6 L454.8,75.2 L455.3,74.9 L455.8,74.6 L456.3,74.5 L456.8,74.4 L457.3,74.7 L457.8,75.5 L458.3,76.6 L458.8,78.1 L459.3,79.7 L459.8,81.4 L460.3,83.9 L460.8,87.0 L461.3,90.6 L461.8,94.4 L462.3,98.3 L462.8,102.0 L463.3,105.8 L463.8,109.8 L464.3,113.9 L464.8,118.0 L465.3,122.0 L465.8,126.0 L466.3,129.9 L466.8,133.8 L467.3,137.8 L467.8,141.8 L468.3,145.9 L468.8,150.0 L469.3,154.2 L469.8,158.3 L470.3,162.5 L470.8,166.6 L471.3,170.7 L471.8,174.7 L472.3,178.9 L472.8,183.1 L473.3,187.5 L473.8,192.3 L474.3,197.4 L474.8,202.4 L475.3,206.9 L475.8,210.5 L476.3,213.6 L476.8,216.3 L477.3,218.8 L477.8,221.1 L478.3,223.4 L478.8,225.6 L479.3,227.7 L479.8,229.7 L480.3,231.6 L480.8,233.3 L481.3,235.0 L481.8,236.7 L482.3,238.4 L482.8,240.0 L483.3,241.4 L483.8,242.8 L484.3,243.9 L484.8,244.8 L485.3,245.4 L485.8,246.0 L486.3,246.6 L486.8,247.1 L487.3,247.5 L487.8,248.0 L488.3,248.3 L488.8,248.7 L489.3,249.0 L489.8,249.3 L490.3,249.5 L490.8,249.7 L491.3,249.9 L491.8,250.1 L492.3,250.3 L492.8,250.4 L493.3,250.6 L493.8,250.7 L494.3,250.8 L494.8,251.0 L495.3,251.1 L495.8,251.2 L496.3,251.3 L496.8,251.5 L497.3,251.6 L497.8,251.7 L498.3,251.9 L498.8,252.0 L499.3,252.1 L499.8,252.2 L500.3,252.3 L500.8,252.4 L501.3,252.5 L501.8,252.7 L502.3,252.8 L502.8,252.9 L503.3,253.1 L503.8,253.2 L504.3,253.4 L504.8,253.6 L505.3,253.8 L505.8,254.0 L506.3,254.3 L506.8,254.5 L507.3,254.8 L507.8,255.1 L508.3,255.3 L508.8,255.6 L509.3,255.9 L509.8,256.2 L510.3,256.4 L510.8,256.7 L511.3,257.0 L511.8,257.3 L512.3,257.6 L512.8,257.9 L513.3,258.2 L513.8,258.5 L514.3,258.8 L514.8,259.1 L515.3,259.5 L515.8,259.8 L516.3,260.1 L516.8,260.4 L517.3,260.7 L517.8,261.0 L518.3,261.3 L518.8,261.6 L519.3,261.9 L519.8,262.3 L520.3,262.6 L520.8,262.9 L521.3,263.2 L521.8,263.6 L522.3,263.9 L522.8,264.2 L523.3,264.5 L523.8,264.8 L524.3,265.1 L524.8,265.4 L525.3,265.7 L525.8,265.9 L526.3,266.1 L526.8,266.4 L527.3,266.6 L527.8,266.8 L528.3,267.1 L528.8,267.3 L529.3,267.5 L529.8,267.7 L530.3,267.9 L530.8,268.1 L531.3,268.3 L531.8,268.5 L532.3,268.6 L532.8,268.8 L533.3,268.9 L533.8,269.1 L534.3,269.2 L534.8,269.3 L535.3,269.4 L535.8,269.6 L536.3,269.7 L536.8,269.8 L537.3,269.9 L537.8,270.0 L538.3,270.1 L538.8,270.2 L539.3,270.3 L539.8,270.4 L540.3,270.4 L540.8,270.5 L541.3,270.6 L541.8,270.7 L542.3,270.7 L542.8,270.8 L543.3,270.8 L543.8,270.9 L544.3,270.9 L544.8,270.9 L545.3,271.0 L545.8,271.0 L546.0,271.0" fill="none" stroke="#000" stroke-width="3.2" stroke-linejoin="round"/>
<path d="M472.9,142 Q473.6,170 475.6,205" fill="none" stroke="#333" stroke-width="1"/>
<line x1="287.6" y1="104.5" x2="287.6" y2="205.2" stroke="#000" stroke-width="1.2"/>
<line x1="457.1" y1="9.8" x2="457.1" y2="120.5" stroke="#000" stroke-width="1.2"/>
<line x1="89.5" y1="280.7" x2="89.5" y2="270.2" stroke="#000" stroke-width="2"/>
<line x1="180.5" y1="280.7" x2="180.5" y2="270.2" stroke="#000" stroke-width="2"/>
<line x1="271.5" y1="280.7" x2="271.5" y2="270.2" stroke="#000" stroke-width="2"/>
<line x1="362.5" y1="280.7" x2="362.5" y2="270.2" stroke="#000" stroke-width="2"/>
<line x1="453.5" y1="280.7" x2="453.5" y2="270.2" stroke="#000" stroke-width="2"/>
<rect x="48.1" y="1.2" width="501.79999999999995" height="279.5" fill="none" stroke="#000" stroke-width="2.3"/>
<path d="M220.8,43.5h5.8M231.7,43.5h5.8M253.9,43.5h5.6M265,43.5h5.9" stroke="#1438d8" stroke-width="1.6"/>
<ellipse cx="246.5" cy="43.5" rx="2.8" ry="2.3" fill="none" stroke="#1438d8" stroke-width="1.4"/>
<path d="M220.8,74.3h5.8M231.7,74.3h5.8M253.9,74.3h5.6M265,74.3h5.9" stroke="#ff0000" stroke-width="1.6"/>
<rect x="244.3" y="71.9" width="5" height="4.6" fill="none" stroke="#ff0000" stroke-width="1.4"/>
<path d="M124.0,442.7 L124.0,438.8 L125.0,438.7 L126.0,438.6 L127.0,438.5 L128.0,438.4 L129.0,438.3 L130.0,438.2 L131.0,438.1 L132.0,438.0 L133.0,437.9 L134.0,437.8 L135.0,437.7 L136.0,437.6 L137.0,437.5 L138.0,437.4 L139.0,437.3 L140.0,437.2 L141.0,437.2 L142.0,437.1 L143.0,437.0 L144.0,436.9 L145.0,436.8 L146.0,436.7 L147.0,436.6 L148.0,436.6 L149.0,436.5 L150.0,436.4 L151.0,436.3 L152.0,436.2 L153.0,436.1 L154.0,436.0 L155.0,435.9 L156.0,435.8 L157.0,435.7 L158.0,435.6 L159.0,435.5 L160.0,435.4 L161.0,435.3 L162.0,435.2 L163.0,435.0 L164.0,434.9 L165.0,434.8 L166.0,434.6 L167.0,434.5 L168.0,434.4 L169.0,434.2 L170.0,434.1 L171.0,433.9 L172.0,433.8 L173.0,433.6 L174.0,433.5 L175.0,433.3 L176.0,433.2 L177.0,433.0 L178.0,432.9 L179.0,432.7 L180.0,432.6 L181.0,432.4 L182.0,432.3 L183.0,432.1 L184.0,432.0 L185.0,431.8 L186.0,431.7 L187.0,431.6 L188.0,431.4 L189.0,431.3 L190.0,431.1 L191.0,431.0 L192.0,430.8 L193.0,430.7 L194.0,430.6 L195.0,430.4 L196.0,430.3 L197.0,430.1 L198.0,430.0 L199.0,429.8 L200.0,429.7 L201.0,429.6 L202.0,429.4 L203.0,429.3 L204.0,429.1 L205.0,429.0 L206.0,428.9 L207.0,428.7 L208.0,428.6 L209.0,428.4 L210.0,428.3 L211.0,428.1 L212.0,428.0 L213.0,427.8 L214.0,427.7 L215.0,427.5 L216.0,427.4 L217.0,427.2 L218.0,427.1 L219.0,427.0 L220.0,426.8 L221.0,426.7 L222.0,426.6 L223.0,426.5 L224.0,426.3 L225.0,426.2 L226.0,426.1 L227.0,426.0 L228.0,425.9 L229.0,425.8 L230.0,425.7 L231.0,425.7 L232.0,425.6 L233.0,425.5 L234.0,425.4 L235.0,425.3 L236.0,425.2 L237.0,425.1 L238.0,425.0 L239.0,425.0 L240.0,424.9 L241.0,424.8 L242.0,424.8 L243.0,424.7 L244.0,424.6 L245.0,424.6 L246.0,424.5 L247.0,424.5 L248.0,424.5 L249.0,424.4 L250.0,424.4 L251.0,424.3 L252.0,424.3 L253.0,424.3 L254.0,424.2 L255.0,424.2 L256.0,424.2 L257.0,424.1 L258.0,424.1 L259.0,424.1 L260.0,424.0 L261.0,424.0 L262.0,424.0 L263.0,424.0 L264.0,423.9 L265.0,423.9 L266.0,423.9 L267.0,423.9 L268.0,423.9 L269.0,423.9 L270.0,423.9 L271.0,423.9 L272.0,423.9 L273.0,424.0 L274.0,424.0 L275.0,424.0 L276.0,424.0 L277.0,424.1 L278.0,424.1 L279.0,424.2 L280.0,424.2 L281.0,424.2 L282.0,424.3 L283.0,424.4 L284.0,424.5 L285.0,424.5 L286.0,424.6 L287.0,424.7 L288.0,424.8 L289.0,425.0 L290.0,425.1 L291.0,425.2 L292.0,425.3 L293.0,425.4 L294.0,425.6 L295.0,425.7 L296.0,425.8 L297.0,426.0 L298.0,426.1 L299.0,426.2 L300.0,426.3 L301.0,426.4 L302.0,426.5 L303.0,426.6 L304.0,426.7 L305.0,426.8 L306.0,427.0 L307.0,427.1 L308.0,427.2 L309.0,427.3 L310.0,427.4 L311.0,427.5 L312.0,427.6 L313.0,427.7 L314.0,427.9 L315.0,428.0 L316.0,428.1 L317.0,428.2 L318.0,428.3 L319.0,428.5 L320.0,428.6 L321.0,428.7 L322.0,428.9 L323.0,429.0 L324.0,429.2 L325.0,429.3 L326.0,429.5 L327.0,429.6 L328.0,429.8 L329.0,429.9 L330.0,430.1 L331.0,430.3 L332.0,430.4 L333.0,430.6 L334.0,430.7 L335.0,430.9 L336.0,431.1 L337.0,431.2 L338.0,431.4 L339.0,431.5 L340.0,431.7 L341.0,431.9 L342.0,432.0 L343.0,432.2 L344.0,432.3 L345.0,432.5 L346.0,432.7 L347.0,432.8 L348.0,433.0 L349.0,433.1 L350.0,433.3 L351.0,433.5 L352.0,433.6 L353.0,433.8 L354.0,433.9 L355.0,434.1 L356.0,434.2 L357.0,434.4 L358.0,434.5 L359.0,434.6 L360.0,434.8 L361.0,434.9 L362.0,435.0 L363.0,435.1 L364.0,435.3 L365.0,435.4 L366.0,435.5 L367.0,435.6 L368.0,435.7 L369.0,435.9 L370.0,436.0 L371.0,436.1 L372.0,436.2 L373.0,436.3 L374.0,436.4 L375.0,436.5 L376.0,436.6 L377.0,436.8 L378.0,436.9 L379.0,437.0 L380.0,437.1 L381.0,437.2 L382.0,437.3 L383.0,437.4 L384.0,437.4 L385.0,437.5 L386.0,437.6 L387.0,437.7 L388.0,437.8 L389.0,437.9 L390.0,437.9 L391.0,438.0 L392.0,438.1 L393.0,438.1 L394.0,438.2 L395.0,438.2 L396.0,438.3 L397.0,438.3 L398.0,438.4 L399.0,438.4 L400.0,438.5 L401.0,438.5 L402.0,438.6 L403.0,438.6 L404.0,438.7 L405.0,438.7 L406.0,438.7 L407.0,438.8 L408.0,438.8 L409.0,438.8 L410.0,438.9 L411.0,438.9 L412.0,438.9 L413.0,439.0 L414.0,439.0 L415.0,439.0 L416.0,439.1 L417.0,439.1 L418.0,439.1 L419.0,439.2 L420.0,439.2 L421.0,439.2 L422.0,439.2 L423.0,439.3 L424.0,439.3 L425.0,439.3 L426.0,439.3 L427.0,439.3 L428.0,439.4 L429.0,439.4 L430.0,439.4 L431.0,439.4 L432.0,439.4 L433.0,439.5 L434.0,439.5 L435.0,439.5 L436.0,439.5 L437.0,439.5 L438.0,439.5 L439.0,439.6 L440.0,439.6 L441.0,439.6 L442.0,439.6 L443.0,439.6 L444.0,439.6 L445.0,439.6 L446.0,439.7 L447.0,439.7 L448.0,439.7 L449.0,439.7 L450.0,439.7 L451.0,439.7 L452.0,439.7 L453.0,439.7 L454.0,439.8 L455.0,439.8 L456.0,439.8 L457.0,439.8 L458.0,439.8 L459.0,439.8 L460.0,439.8 L461.0,439.8 L462.0,439.8 L463.0,439.8 L464.0,439.8 L465.0,439.8 L466.0,439.8 L467.0,439.8 L468.0,439.8 L469.0,439.9 L470.0,439.9 L471.0,439.9 L472.0,439.9 L473.0,439.9 L474.0,439.9 L475.0,439.9 L476.0,439.9 L477.0,439.9 L478.0,439.9 L479.0,439.9 L480.0,439.9 L481.0,439.9 L482.0,439.9 L483.0,439.9 L484.0,439.9 L485.0,439.9 L486.0,439.9 L487.0,439.9 L488.0,440.0 L489.0,440.0 L490.0,440.0 L491.0,440.0 L492.0,440.0 L493.0,440.0 L494.0,440.0 L495.0,440.0 L496.0,440.0 L497.0,440.0 L498.0,440.0 L499.0,440.0 L500.0,440.0 L501.0,440.0 L502.0,440.0 L503.0,440.0 L504.0,440.0 L505.0,440.0 L506.0,440.0 L507.0,440.0 L508.0,440.0 L509.0,440.0 L510.0,440.0 L511.0,440.0 L512.0,440.0 L513.0,440.0 L514.0,440.1 L515.0,440.1 L516.0,440.1 L517.0,440.1 L518.0,440.1 L519.0,440.1 L520.0,440.1 L521.0,440.1 L522.0,440.1 L523.0,440.1 L524.0,440.1 L525.0,440.1 L526.0,440.1 L527.0,440.1 L528.0,440.1 L529.0,440.1 L530.0,440.1 L531.0,440.1 L532.0,440.1 L533.0,440.1 L534.0,440.1 L535.0,440.1 L536.0,440.1 L537.0,440.1 L538.0,440.1 L539.0,440.1 L540.0,440.1 L541.0,440.1 L542.0,440.1 L543.0,440.1 L544.0,440.1 L545.0,440.1 L546.0,440.1 L547.0,440.1 L548.0,440.1 L548.0,442.7 Z" fill="url(#hatch)"/>
<path d="M50.9,435.1h4.2v4.2h-4.2z M53.2,435.7h4.2v4.2h-4.2z M55.5,443.2h4.2v4.2h-4.2z M57.8,437.9h4.2v4.2h-4.2z M60.1,440.0h4.2v4.2h-4.2z M62.4,441.2h4.2v4.2h-4.2z M64.7,442.5h4.2v4.2h-4.2z M67.0,439.0h4.2v4.2h-4.2z M69.3,441.8h4.2v4.2h-4.2z M71.6,436.7h4.2v4.2h-4.2z M73.9,438.4h4.2v4.2h-4.2z M76.2,435.9h4.2v4.2h-4.2z M78.5,443.5h4.2v4.2h-4.2z M80.8,439.1h4.2v4.2h-4.2z M83.1,436.3h4.2v4.2h-4.2z M85.4,437.5h4.2v4.2h-4.2z M87.7,437.8h4.2v4.2h-4.2z M90.0,440.9h4.2v4.2h-4.2z M92.3,432.5h4.2v4.2h-4.2z M94.6,434.3h4.2v4.2h-4.2z M96.9,436.5h4.2v4.2h-4.2z M99.2,446.8h4.2v4.2h-4.2z M101.5,440.9h4.2v4.2h-4.2z M103.8,436.8h4.2v4.2h-4.2z M106.1,439.6h4.2v4.2h-4.2z M108.4,444.2h4.2v4.2h-4.2z M110.7,435.8h4.2v4.2h-4.2z M113.0,435.1h4.2v4.2h-4.2z M115.3,440.5h4.2v4.2h-4.2z M117.6,437.7h4.2v4.2h-4.2z M119.9,438.1h4.2v4.2h-4.2z M122.2,433.6h4.2v4.2h-4.2z M124.5,442.1h4.2v4.2h-4.2z M126.8,441.0h4.2v4.2h-4.2z M129.1,436.6h4.2v4.2h-4.2z M131.4,436.8h4.2v4.2h-4.2z M133.7,426.8h4.2v4.2h-4.2z M136.0,436.1h4.2v4.2h-4.2z M138.3,432.9h4.2v4.2h-4.2z M140.6,434.9h4.2v4.2h-4.2z M142.9,435.5h4.2v4.2h-4.2z M145.2,431.6h4.2v4.2h-4.2z M147.5,426.5h4.2v4.2h-4.2z M149.8,433.7h4.2v4.2h-4.2z M152.1,429.4h4.2v4.2h-4.2z M154.4,430.6h4.2v4.2h-4.2z M156.7,429.4h4.2v4.2h-4.2z M159.0,430.0h4.2v4.2h-4.2z M161.3,422.6h4.2v4.2h-4.2z M163.6,435.0h4.2v4.2h-4.2z M165.9,431.2h4.2v4.2h-4.2z M168.2,433.9h4.2v4.2h-4.2z M170.5,436.7h4.2v4.2h-4.2z M172.8,429.3h4.2v4.2h-4.2z M175.1,422.3h4.2v4.2h-4.2z M177.4,425.2h4.2v4.2h-4.2z M179.7,423.7h4.2v4.2h-4.2z M182.0,425.9h4.2v4.2h-4.2z M184.3,427.7h4.2v4.2h-4.2z M186.6,419.8h4.2v4.2h-4.2z M188.9,427.9h4.2v4.2h-4.2z M191.2,420.9h4.2v4.2h-4.2z M193.5,427.0h4.2v4.2h-4.2z M195.8,425.2h4.2v4.2h-4.2z M198.1,424.1h4.2v4.2h-4.2z M200.4,424.6h4.2v4.2h-4.2z M202.7,422.5h4.2v4.2h-4.2z M205.0,421.9h4.2v4.2h-4.2z M207.3,417.7h4.2v4.2h-4.2z M209.6,423.2h4.2v4.2h-4.2z M211.9,429.6h4.2v4.2h-4.2z M214.2,429.7h4.2v4.2h-4.2z M216.5,426.9h4.2v4.2h-4.2z M218.8,424.4h4.2v4.2h-4.2z M221.1,419.0h4.2v4.2h-4.2z M223.4,426.3h4.2v4.2h-4.2z M225.7,420.6h4.2v4.2h-4.2z M228.0,420.2h4.2v4.2h-4.2z M230.3,419.1h4.2v4.2h-4.2z M232.6,420.2h4.2v4.2h-4.2z M234.9,418.0h4.2v4.2h-4.2z M237.2,419.0h4.2v4.2h-4.2z M239.5,415.1h4.2v4.2h-4.2z M241.8,417.4h4.2v4.2h-4.2z M244.1,426.6h4.2v4.2h-4.2z M246.4,417.9h4.2v4.2h-4.2z M248.7,417.1h4.2v4.2h-4.2z M251.0,419.6h4.2v4.2h-4.2z M253.3,420.1h4.2v4.2h-4.2z M255.6,413.3h4.2v4.2h-4.2z M257.9,416.4h4.2v4.2h-4.2z M260.2,420.3h4.2v4.2h-4.2z M262.5,417.8h4.2v4.2h-4.2z M264.8,417.1h4.2v4.2h-4.2z M267.1,422.0h4.2v4.2h-4.2z M269.4,413.8h4.2v4.2h-4.2z M271.7,416.4h4.2v4.2h-4.2z M274.0,414.0h4.2v4.2h-4.2z M276.3,421.1h4.2v4.2h-4.2z M278.6,408.5h4.2v4.2h-4.2z M280.9,412.8h4.2v4.2h-4.2z M283.2,413.0h4.2v4.2h-4.2z M285.5,417.0h4.2v4.2h-4.2z M287.8,416.6h4.2v4.2h-4.2z M290.1,419.4h4.2v4.2h-4.2z M292.4,408.7h4.2v4.2h-4.2z M294.7,417.1h4.2v4.2h-4.2z M297.0,413.3h4.2v4.2h-4.2z M299.3,411.9h4.2v4.2h-4.2z M301.6,416.1h4.2v4.2h-4.2z M303.9,410.7h4.2v4.2h-4.2z M306.2,406.3h4.2v4.2h-4.2z M308.5,412.1h4.2v4.2h-4.2z M310.8,407.7h4.2v4.2h-4.2z M313.1,410.5h4.2v4.2h-4.2z M315.4,413.8h4.2v4.2h-4.2z M317.7,413.2h4.2v4.2h-4.2z M320.0,417.4h4.2v4.2h-4.2z M322.3,410.6h4.2v4.2h-4.2z M324.6,405.2h4.2v4.2h-4.2z M326.9,407.5h4.2v4.2h-4.2z M329.2,406.2h4.2v4.2h-4.2z M331.5,404.3h4.2v4.2h-4.2z M333.8,409.3h4.2v4.2h-4.2z M336.1,404.3h4.2v4.2h-4.2z M338.4,398.2h4.2v4.2h-4.2z M340.7,406.3h4.2v4.2h-4.2z M343.0,401.7h4.2v4.2h-4.2z M345.3,401.7h4.2v4.2h-4.2z M347.6,398.8h4.2v4.2h-4.2z M349.9,398.5h4.2v4.2h-4.2z M352.2,393.9h4.2v4.2h-4.2z M354.5,395.4h4.2v4.2h-4.2z M356.8,389.3h4.2v4.2h-4.2z M359.1,385.7h4.2v4.2h-4.2z M361.4,382.2h4.2v4.2h-4.2z M363.7,371.6h4.2v4.2h-4.2z M366.0,372.1h4.2v4.2h-4.2z M368.3,367.5h4.2v4.2h-4.2z M370.6,364.8h4.2v4.2h-4.2z M372.9,354.5h4.2v4.2h-4.2z M375.2,360.5h4.2v4.2h-4.2z M377.5,350.5h4.2v4.2h-4.2z M379.8,341.8h4.2v4.2h-4.2z M382.1,336.3h4.2v4.2h-4.2z M384.4,337.9h4.2v4.2h-4.2z M386.7,335.4h4.2v4.2h-4.2z M389.0,330.3h4.2v4.2h-4.2z M391.3,331.4h4.2v4.2h-4.2z M393.6,327.4h4.2v4.2h-4.2z M395.9,332.3h4.2v4.2h-4.2z M398.2,329.4h4.2v4.2h-4.2z M400.5,334.6h4.2v4.2h-4.2z M402.8,341.7h4.2v4.2h-4.2z M405.1,351.5h4.2v4.2h-4.2z M407.4,344.0h4.2v4.2h-4.2z M409.7,351.6h4.2v4.2h-4.2z M412.0,356.1h4.2v4.2h-4.2z M414.3,368.1h4.2v4.2h-4.2z M416.6,367.1h4.2v4.2h-4.2z M418.9,375.4h4.2v4.2h-4.2z M421.2,382.7h4.2v4.2h-4.2z M423.5,385.0h4.2v4.2h-4.2z M425.8,390.8h4.2v4.2h-4.2z M428.1,398.0h4.2v4.2h-4.2z M430.4,397.3h4.2v4.2h-4.2z M432.7,404.5h4.2v4.2h-4.2z M435.0,412.5h4.2v4.2h-4.2z M437.3,418.1h4.2v4.2h-4.2z M439.6,419.9h4.2v4.2h-4.2z M441.9,416.8h4.2v4.2h-4.2z M444.2,424.0h4.2v4.2h-4.2z M446.5,430.8h4.2v4.2h-4.2z M448.8,431.5h4.2v4.2h-4.2z M451.1,430.4h4.2v4.2h-4.2z M453.4,428.5h4.2v4.2h-4.2z M455.7,434.8h4.2v4.2h-4.2z M458.0,431.2h4.2v4.2h-4.2z M460.3,429.9h4.2v4.2h-4.2z M462.6,431.8h4.2v4.2h-4.2z M464.9,440.5h4.2v4.2h-4.2z M467.2,436.5h4.2v4.2h-4.2z M469.5,440.3h4.2v4.2h-4.2z M471.8,434.7h4.2v4.2h-4.2z M474.1,439.9h4.2v4.2h-4.2z M476.4,434.5h4.2v4.2h-4.2z M478.7,436.2h4.2v4.2h-4.2z M481.0,445.8h4.2v4.2h-4.2z M483.3,439.7h4.2v4.2h-4.2z M485.6,435.2h4.2v4.2h-4.2z M487.9,436.7h4.2v4.2h-4.2z M490.2,438.3h4.2v4.2h-4.2z M492.5,441.5h4.2v4.2h-4.2z M494.8,435.4h4.2v4.2h-4.2z M497.1,430.9h4.2v4.2h-4.2z M499.4,436.2h4.2v4.2h-4.2z M501.7,437.3h4.2v4.2h-4.2z M504.0,437.7h4.2v4.2h-4.2z M506.3,442.1h4.2v4.2h-4.2z M508.6,438.5h4.2v4.2h-4.2z M510.9,440.3h4.2v4.2h-4.2z M513.2,433.4h4.2v4.2h-4.2z M515.5,440.5h4.2v4.2h-4.2z M517.8,445.0h4.2v4.2h-4.2z M520.1,440.3h4.2v4.2h-4.2z M522.4,438.4h4.2v4.2h-4.2z M524.7,438.1h4.2v4.2h-4.2z M527.0,444.0h4.2v4.2h-4.2z M529.3,434.2h4.2v4.2h-4.2z M531.6,437.2h4.2v4.2h-4.2z M533.9,439.2h4.2v4.2h-4.2z M536.2,440.3h4.2v4.2h-4.2z M538.5,436.0h4.2v4.2h-4.2z M540.8,438.7h4.2v4.2h-4.2z M543.1,436.6h4.2v4.2h-4.2z" fill="none" stroke="#ff0000" stroke-width="1.3"/>
<path d="M50.5,567.4a2.45,2.45 0 1,0 4.9,0a2.45,2.45 0 1,0 -4.9,0 M52.2,566.2a2.45,2.45 0 1,0 4.9,0a2.45,2.45 0 1,0 -4.9,0 M54.0,561.1a2.45,2.45 0 1,0 4.9,0a2.45,2.45 0 1,0 -4.9,0 M55.7,566.7a2.45,2.45 0 1,0 4.9,0a2.45,2.45 0 1,0 -4.9,0 M57.4,571.2a2.45,2.45 0 1,0 4.9,0a2.45,2.45 0 1,0 -4.9,0 M59.1,562.0a2.45,2.45 0 1,0 4.9,0a2.45,2.45 0 1,0 -4.9,0 M60.8,565.6a2.45,2.45 0 1,0 4.9,0a2.45,2.45 0 1,0 -4.9,0 M62.5,570.2a2.45,2.45 0 1,0 4.9,0a2.45,2.45 0 1,0 -4.9,0 M64.2,561.5a2.45,2.45 0 1,0 4.9,0a2.45,2.45 0 1,0 -4.9,0 M65.9,567.8a2.45,2.45 0 1,0 4.9,0a2.45,2.45 0 1,0 -4.9,0 M67.6,561.6a2.45,2.45 0 1,0 4.9,0a2.45,2.45 0 1,0 -4.9,0 M69.3,572.5a2.45,2.45 0 1,0 4.9,0a2.45,2.45 0 1,0 -4.9,0 M71.0,578.4a2.45,2.45 0 1,0 4.9,0a2.45,2.45 0 1,0 -4.9,0 M72.7,577.0a2.45,2.45 0 1,0 4.9,0a2.45,2.45 0 1,0 -4.9,0 M74.4,565.8a2.45,2.45 0 1,0 4.9,0a2.45,2.45 0 1,0 -4.9,0 M76.1,570.6a2.45,2.45 0 1,0 4.9,0a2.45,2.45 0 1,0 -4.9,0 M77.8,567.5a2.45,2.45 0 1,0 4.9,0a2.45,2.45 0 1,0 -4.9,0 M79.5,567.4a2.45,2.45 0 1,0 4.9,0a2.45,2.45 0 1,0 -4.9,0 M81.2,574.6a2.45,2.45 0 1,0 4.9,0a2.45,2.45 0 1,0 -4.9,0 M82.9,560.3a2.45,2.45 0 1,0 4.9,0a2.45,2.45 0 1,0 -4.9,0 M84.6,572.1a2.45,2.45 0 1,0 4.9,0a2.45,2.45 0 1,0 -4.9,0 M86.3,566.6a2.45,2.45 0 1,0 4.9,0a2.45,2.45 0 1,0 -4.9,0 M88.0,573.9a2.45,2.45 0 1,0 4.9,0a2.45,2.45 0 1,0 -4.9,0 M89.7,567.8a2.45,2.45 0 1,0 4.9,0a2.45,2.45 0 1,0 -4.9,0 M91.4,563.5a2.45,2.45 0 1,0 4.9,0a2.45,2.45 0 1,0 -4.9,0 M93.1,568.3a2.45,2.45 0 1,0 4.9,0a2.45,2.45 0 1,0 -4.9,0 M94.8,570.6a2.45,2.45 0 1,0 4.9,0a2.45,2.45 0 1,0 -4.9,0 M96.5,567.1a2.45,2.45 0 1,0 4.9,0a2.45,2.45 0 1,0 -4.9,0 M98.2,569.3a2.45,2.45 0 1,0 4.9,0a2.45,2.45 0 1,0 -4.9,0 M99.9,564.3a2.45,2.45 0 1,0 4.9,0a2.45,2.45 0 1,0 -4.9,0 M101.6,556.2a2.45,2.45 0 1,0 4.9,0a2.45,2.45 0 1,0 -4.9,0 M103.3,571.4a2.45,2.45 0 1,0 4.9,0a2.45,2.45 0 1,0 -4.9,0 M105.0,570.4a2.45,2.45 0 1,0 4.9,0a2.45,2.45 0 1,0 -4.9,0 M106.7,567.6a2.45,2.45 0 1,0 4.9,0a2.45,2.45 0 1,0 -4.9,0 M108.4,567.2a2.45,2.45 0 1,0 4.9,0a2.45,2.45 0 1,0 -4.9,0 M110.1,572.1a2.45,2.45 0 1,0 4.9,0a2.45,2.45 0 1,0 -4.9,0 M111.8,564.6a2.45,2.45 0 1,0 4.9,0a2.45,2.45 0 1,0 -4.9,0 M113.5,563.3a2.45,2.45 0 1,0 4.9,0a2.45,2.45 0 1,0 -4.9,0 M115.2,565.9a2.45,2.45 0 1,0 4.9,0a2.45,2.45 0 1,0 -4.9,0 M116.9,572.8a2.45,2.45 0 1,0 4.9,0a2.45,2.45 0 1,0 -4.9,0 M118.6,559.9a2.45,2.45 0 1,0 4.9,0a2.45,2.45 0 1,0 -4.9,0 M120.3,572.8a2.45,2.45 0 1,0 4.9,0a2.45,2.45 0 1,0 -4.9,0 M122.0,563.7a2.45,2.45 0 1,0 4.9,0a2.45,2.45 0 1,0 -4.9,0 M123.7,561.4a2.45,2.45 0 1,0 4.9,0a2.45,2.45 0 1,0 -4.9,0 M125.4,573.2a2.45,2.45 0 1,0 4.9,0a2.45,2.45 0 1,0 -4.9,0 M127.1,566.4a2.45,2.45 0 1,0 4.9,0a2.45,2.45 0 1,0 -4.9,0 M128.8,560.4a2.45,2.45 0 1,0 4.9,0a2.45,2.45 0 1,0 -4.9,0 M130.5,565.1a2.45,2.45 0 1,0 4.9,0a2.45,2.45 0 1,0 -4.9,0 M132.2,571.5a2.45,2.45 0 1,0 4.9,0a2.45,2.45 0 1,0 -4.9,0 M133.9,572.8a2.45,2.45 0 1,0 4.9,0a2.45,2.45 0 1,0 -4.9,0 M135.6,564.7a2.45,2.45 0 1,0 4.9,0a2.45,2.45 0 1,0 -4.9,0 M137.3,568.9a2.45,2.45 0 1,0 4.9,0a2.45,2.45 0 1,0 -4.9,0 M139.0,570.4a2.45,2.45 0 1,0 4.9,0a2.45,2.45 0 1,0 -4.9,0 M140.7,563.6a2.45,2.45 0 1,0 4.9,0a2.45,2.45 0 1,0 -4.9,0 M142.4,568.6a2.45,2.45 0 1,0 4.9,0a2.45,2.45 0 1,0 -4.9,0 M144.1,566.7a2.45,2.45 0 1,0 4.9,0a2.45,2.45 0 1,0 -4.9,0 M145.8,564.2a2.45,2.45 0 1,0 4.9,0a2.45,2.45 0 1,0 -4.9,0 M147.5,564.4a2.45,2.45 0 1,0 4.9,0a2.45,2.45 0 1,0 -4.9,0 M149.2,567.2a2.45,2.45 0 1,0 4.9,0a2.45,2.45 0 1,0 -4.9,0 M150.9,567.0a2.45,2.45 0 1,0 4.9,0a2.45,2.45 0 1,0 -4.9,0 M152.6,564.0a2.45,2.45 0 1,0 4.9,0a2.45,2.45 0 1,0 -4.9,0 M154.3,564.7a2.45,2.45 0 1,0 4.9,0a2.45,2.45 0 1,0 -4.9,0 M156.0,572.4a2.45,2.45 0 1,0 4.9,0a2.45,2.45 0 1,0 -4.9,0 M157.7,567.9a2.45,2.45 0 1,0 4.9,0a2.45,2.45 0 1,0 -4.9,0 M159.4,571.3a2.45,2.45 0 1,0 4.9,0a2.45,2.45 0 1,0 -4.9,0 M161.1,572.9a2.45,2.45 0 1,0 4.9,0a2.45,2.45 0 1,0 -4.9,0 M162.8,569.8a2.45,2.45 0 1,0 4.9,0a2.45,2.45 0 1,0 -4.9,0 M164.5,578.2a2.45,2.45 0 1,0 4.9,0a2.45,2.45 0 1,0 -4.9,0 M166.2,562.7a2.45,2.45 0 1,0 4.9,0a2.45,2.45 0 1,0 -4.9,0 M167.9,570.9a2.45,2.45 0 1,0 4.9,0a2.45,2.45 0 1,0 -4.9,0 M169.6,565.3a2.45,2.45 0 1,0 4.9,0a2.45,2.45 0 1,0 -4.9,0 M171.3,576.1a2.45,2.45 0 1,0 4.9,0a2.45,2.45 0 1,0 -4.9,0 M173.0,575.4a2.45,2.45 0 1,0 4.9,0a2.45,2.45 0 1,0 -4.9,0 M174.7,557.1a2.45,2.45 0 1,0 4.9,0a2.45,2.45 0 1,0 -4.9,0 M176.4,562.0a2.45,2.45 0 1,0 4.9,0a2.45,2.45 0 1,0 -4.9,0 M178.1,570.2a2.45,2.45 0 1,0 4.9,0a2.45,2.45 0 1,0 -4.9,0 M179.8,570.8a2.45,2.45 0 1,0 4.9,0a2.45,2.45 0 1,0 -4.9,0 M181.5,570.6a2.45,2.45 0 1,0 4.9,0a2.45,2.45 0 1,0 -4.9,0 M183.2,566.5a2.45,2.45 0 1,0 4.9,0a2.45,2.45 0 1,0 -4.9,0 M184.9,569.1a2.45,2.45 0 1,0 4.9,0a2.45,2.45 0 1,0 -4.9,0 M186.6,570.1a2.45,2.45 0 1,0 4.9,0a2.45,2.45 0 1,0 -4.9,0 M188.3,566.5a2.45,2.45 0 1,0 4.9,0a2.45,2.45 0 1,0 -4.9,0 M190.0,572.0a2.45,2.45 0 1,0 4.9,0a2.45,2.45 0 1,0 -4.9,0 M191.7,555.6a2.45,2.45 0 1,0 4.9,0a2.45,2.45 0 1,0 -4.9,0 M193.4,570.0a2.45,2.45 0 1,0 4.9,0a2.45,2.45 0 1,0 -4.9,0 M195.1,561.7a2.45,2.45 0 1,0 4.9,0a2.45,2.45 0 1,0 -4.9,0 M196.8,571.6a2.45,2.45 0 1,0 4.9,0a2.45,2.45 0 1,0 -4.9,0 M198.5,565.7a2.45,2.45 0 1,0 4.9,0a2.45,2.45 0 1,0 -4.9,0 M200.2,562.4a2.45,2.45 0 1,0 4.9,0a2.45,2.45 0 1,0 -4.9,0 M201.9,568.7a2.45,2.45 0 1,0 4.9,0a2.45,2.45 0 1,0 -4.9,0 M203.6,562.2a2.45,2.45 0 1,0 4.9,0a2.45,2.45 0 1,0 -4.9,0 M205.3,562.2a2.45,2.45 0 1,0 4.9,0a2.45,2.45 0 1,0 -4.9,0 M207.0,558.9a2.45,2.45 0 1,0 4.9,0a2.45,2.45 0 1,0 -4.9,0 M208.7,566.6a2.45,2.45 0 1,0 4.9,0a2.45,2.45 0 1,0 -4.9,0 M210.4,569.1a2.45,2.45 0 1,0 4.9,0a2.45,2.45 0 1,0 -4.9,0 M212.1,571.7a2.45,2.45 0 1,0 4.9,0a2.45,2.45 0 1,0 -4.9,0 M213.8,565.9a2.45,2.45 0 1,0 4.9,0a2.45,2.45 0 1,0 -4.9,0 M215.5,571.8a2.45,2.45 0 1,0 4.9,0a2.45,2.45 0 1,0 -4.9,0 M217.2,566.6a2.45,2.45 0 1,0 4.9,0a2.45,2.45 0 1,0 -4.9,0 M218.9,566.0a2.45,2.45 0 1,0 4.9,0a2.45,2.45 0 1,0 -4.9,0 M220.6,569.2a2.45,2.45 0 1,0 4.9,0a2.45,2.45 0 1,0 -4.9,0 M222.3,571.6a2.45,2.45 0 1,0 4.9,0a2.45,2.45 0 1,0 -4.9,0 M224.0,564.5a2.45,2.45 0 1,0 4.9,0a2.45,2.45 0 1,0 -4.9,0 M225.7,565.0a2.45,2.45 0 1,0 4.9,0a2.45,2.45 0 1,0 -4.9,0 M227.4,565.3a2.45,2.45 0 1,0 4.9,0a2.45,2.45 0 1,0 -4.9,0 M229.1,566.5a2.45,2.45 0 1,0 4.9,0a2.45,2.45 0 1,0 -4.9,0 M230.8,561.5a2.45,2.45 0 1,0 4.9,0a2.45,2.45 0 1,0 -4.9,0 M232.5,571.1a2.45,2.45 0 1,0 4.9,0a2.45,2.45 0 1,0 -4.9,0 M234.2,563.9a2.45,2.45 0 1,0 4.9,0a2.45,2.45 0 1,0 -4.9,0 M235.9,568.1a2.45,2.45 0 1,0 4.9,0a2.45,2.45 0 1,0 -4.9,0 M237.6,561.6a2.45,2.45 0 1,0 4.9,0a2.45,2.45 0 1,0 -4.9,0 M239.3,567.4a2.45,2.45 0 1,0 4.9,0a2.45,2.45 0 1,0 -4.9,0 M241.0,567.5a2.45,2.45 0 1,0 4.9,0a2.45,2.45 0 1,0 -4.9,0 M242.7,563.3a2.45,2.45 0 1,0 4.9,0a2.45,2.45 0 1,0 -4.9,0 M244.4,575.4a2.45,2.45 0 1,0 4.9,0a2.45,2.45 0 1,0 -4.9,0 M246.1,567.1a2.45,2.45 0 1,0 4.9,0a2.45,2.45 0 1,0 -4.9,0 M247.8,574.0a2.45,2.45 0 1,0 4.9,0a2.45,2.45 0 1,0 -4.9,0 M249.5,569.8a2.45,2.45 0 1,0 4.9,0a2.45,2.45 0 1,0 -4.9,0 M251.2,561.6a2.45,2.45 0 1,0 4.9,0a2.45,2.45 0 1,0 -4.9,0 M252.9,562.9a2.45,2.45 0 1,0 4.9,0a2.45,2.45 0 1,0 -4.9,0 M254.6,566.8a2.45,2.45 0 1,0 4.9,0a2.45,2.45 0 1,0 -4.9,0 M256.3,564.8a2.45,2.45 0 1,0 4.9,0a2.45,2.45 0 1,0 -4.9,0 M258.0,564.6a2.45,2.45 0 1,0 4.9,0a2.45,2.45 0 1,0 -4.9,0 M259.7,562.8a2.45,2.45 0 1,0 4.9,0a2.45,2.45 0 1,0 -4.9,0 M261.4,555.0a2.45,2.45 0 1,0 4.9,0a2.45,2.45 0 1,0 -4.9,0 M263.1,562.8a2.45,2.45 0 1,0 4.9,0a2.45,2.45 0 1,0 -4.9,0 M264.8,552.7a2.45,2.45 0 1,0 4.9,0a2.45,2.45 0 1,0 -4.9,0 M266.5,565.4a2.45,2.45 0 1,0 4.9,0a2.45,2.45 0 1,0 -4.9,0 M268.2,559.8a2.45,2.45 0 1,0 4.9,0a2.45,2.45 0 1,0 -4.9,0 M269.9,559.7a2.45,2.45 0 1,0 4.9,0a2.45,2.45 0 1,0 -4.9,0 M271.6,561.9a2.45,2.45 0 1,0 4.9,0a2.45,2.45 0 1,0 -4.9,0 M273.3,564.2a2.45,2.45 0 1,0 4.9,0a2.45,2.45 0 1,0 -4.9,0 M275.0,555.4a2.45,2.45 0 1,0 4.9,0a2.45,2.45 0 1,0 -4.9,0 M276.7,553.6a2.45,2.45 0 1,0 4.9,0a2.45,2.45 0 1,0 -4.9,0 M278.4,556.8a2.45,2.45 0 1,0 4.9,0a2.45,2.45 0 1,0 -4.9,0 M280.1,551.6a2.45,2.45 0 1,0 4.9,0a2.45,2.45 0 1,0 -4.9,0 M281.8,556.7a2.45,2.45 0 1,0 4.9,0a2.45,2.45 0 1,0 -4.9,0 M283.5,569.2a2.45,2.45 0 1,0 4.9,0a2.45,2.45 0 1,0 -4.9,0 M285.2,555.6a2.45,2.45 0 1,0 4.9,0a2.45,2.45 0 1,0 -4.9,0 M286.9,563.8a2.45,2.45 0 1,0 4.9,0a2.45,2.45 0 1,0 -4.9,0 M288.6,553.4a2.45,2.45 0 1,0 4.9,0a2.45,2.45 0 1,0 -4.9,0 M290.3,561.4a2.45,2.45 0 1,0 4.9,0a2.45,2.45 0 1,0 -4.9,0 M292.0,557.9a2.45,2.45 0 1,0 4.9,0a2.45,2.45 0 1,0 -4.9,0 M293.7,558.8a2.45,2.45 0 1,0 4.9,0a2.45,2.45 0 1,0 -4.9,0 M295.4,561.6a2.45,2.45 0 1,0 4.9,0a2.45,2.45 0 1,0 -4.9,0 M297.1,567.1a2.45,2.45 0 1,0 4.9,0a2.45,2.45 0 1,0 -4.9,0 M298.8,558.9a2.45,2.45 0 1,0 4.9,0a2.45,2.45 0 1,0 -4.9,0 M300.5,558.1a2.45,2.45 0 1,0 4.9,0a2.45,2.45 0 1,0 -4.9,0 M302.2,552.1a2.45,2.45 0 1,0 4.9,0a2.45,2.45 0 1,0 -4.9,0 M303.9,559.4a2.45,2.45 0 1,0 4.9,0a2.45,2.45 0 1,0 -4.9,0 M305.6,554.7a2.45,2.45 0 1,0 4.9,0a2.45,2.45 0 1,0 -4.9,0 M307.3,559.6a2.45,2.45 0 1,0 4.9,0a2.45,2.45 0 1,0 -4.9,0 M309.0,554.6a2.45,2.45 0 1,0 4.9,0a2.45,2.45 0 1,0 -4.9,0 M310.7,562.9a2.45,2.45 0 1,0 4.9,0a2.45,2.45 0 1,0 -4.9,0 M312.4,543.7a2.45,2.45 0 1,0 4.9,0a2.45,2.45 0 1,0 -4.9,0 M314.1,551.4a2.45,2.45 0 1,0 4.9,0a2.45,2.45 0 1,0 -4.9,0 M315.8,556.6a2.45,2.45 0 1,0 4.9,0a2.45,2.45 0 1,0 -4.9,0 M317.5,549.8a2.45,2.45 0 1,0 4.9,0a2.45,2.45 0 1,0 -4.9,0 M319.2,546.8a2.45,2.45 0 1,0 4.9,0a2.45,2.45 0 1,0 -4.9,0 M320.9,548.7a2.45,2.45 0 1,0 4.9,0a2.45,2.45 0 1,0 -4.9,0 M322.6,542.3a2.45,2.45 0 1,0 4.9,0a2.45,2.45 0 1,0 -4.9,0 M324.3,548.9a2.45,2.45 0 1,0 4.9,0a2.45,2.45 0 1,0 -4.9,0 M326.0,559.6a2.45,2.45 0 1,0 4.9,0a2.45,2.45 0 1,0 -4.9,0 M327.7,552.2a2.45,2.45 0 1,0 4.9,0a2.45,2.45 0 1,0 -4.9,0 M329.4,540.0a2.45,2.45 0 1,0 4.9,0a2.45,2.45 0 1,0 -4.9,0 M331.1,540.2a2.45,2.45 0 1,0 4.9,0a2.45,2.45 0 1,0 -4.9,0 M332.8,541.6a2.45,2.45 0 1,0 4.9,0a2.45,2.45 0 1,0 -4.9,0 M334.5,547.7a2.45,2.45 0 1,0 4.9,0a2.45,2.45 0 1,0 -4.9,0 M336.2,537.5a2.45,2.45 0 1,0 4.9,0a2.45,2.45 0 1,0 -4.9,0 M337.9,537.2a2.45,2.45 0 1,0 4.9,0a2.45,2.45 0 1,0 -4.9,0 M339.6,544.0a2.45,2.45 0 1,0 4.9,0a2.45,2.45 0 1,0 -4.9,0 M341.3,542.9a2.45,2.45 0 1,0 4.9,0a2.45,2.45 0 1,0 -4.9,0 M343.0,535.5a2.45,2.45 0 1,0 4.9,0a2.45,2.45 0 1,0 -4.9,0 M344.7,530.6a2.45,2.45 0 1,0 4.9,0a2.45,2.45 0 1,0 -4.9,0 M346.4,527.2a2.45,2.45 0 1,0 4.9,0a2.45,2.45 0 1,0 -4.9,0 M348.1,530.0a2.45,2.45 0 1,0 4.9,0a2.45,2.45 0 1,0 -4.9,0 M349.8,520.7a2.45,2.45 0 1,0 4.9,0a2.45,2.45 0 1,0 -4.9,0 M351.5,533.6a2.45,2.45 0 1,0 4.9,0a2.45,2.45 0 1,0 -4.9,0 M353.2,524.5a2.45,2.45 0 1,0 4.9,0a2.45,2.45 0 1,0 -4.9,0 M354.9,527.9a2.45,2.45 0 1,0 4.9,0a2.45,2.45 0 1,0 -4.9,0 M356.6,532.6a2.45,2.45 0 1,0 4.9,0a2.45,2.45 0 1,0 -4.9,0 M358.3,526.8a2.45,2.45 0 1,0 4.9,0a2.45,2.45 0 1,0 -4.9,0 M360.0,512.7a2.45,2.45 0 1,0 4.9,0a2.45,2.45 0 1,0 -4.9,0 M361.7,520.3a2.45,2.45 0 1,0 4.9,0a2.45,2.45 0 1,0 -4.9,0 M363.4,519.0a2.45,2.45 0 1,0 4.9,0a2.45,2.45 0 1,0 -4.9,0 M365.1,506.6a2.45,2.45 0 1,0 4.9,0a2.45,2.45 0 1,0 -4.9,0 M366.8,502.5a2.45,2.45 0 1,0 4.9,0a2.45,2.45 0 1,0 -4.9,0 M368.5,503.4a2.45,2.45 0 1,0 4.9,0a2.45,2.45 0 1,0 -4.9,0 M370.2,492.4a2.45,2.45 0 1,0 4.9,0a2.45,2.45 0 1,0 -4.9,0 M371.9,504.0a2.45,2.45 0 1,0 4.9,0a2.45,2.45 0 1,0 -4.9,0 M373.6,480.5a2.45,2.45 0 1,0 4.9,0a2.45,2.45 0 1,0 -4.9,0 M375.3,482.8a2.45,2.45 0 1,0 4.9,0a2.45,2.45 0 1,0 -4.9,0 M377.0,482.7a2.45,2.45 0 1,0 4.9,0a2.45,2.45 0 1,0 -4.9,0 M378.7,478.2a2.45,2.45 0 1,0 4.9,0a2.45,2.45 0 1,0 -4.9,0 M380.4,475.4a2.45,2.45 0 1,0 4.9,0a2.45,2.45 0 1,0 -4.9,0 M382.1,471.7a2.45,2.45 0 1,0 4.9,0a2.45,2.45 0 1,0 -4.9,0 M383.8,465.3a2.45,2.45 0 1,0 4.9,0a2.45,2.45 0 1,0 -4.9,0 M385.5,468.4a2.45,2.45 0 1,0 4.9,0a2.45,2.45 0 1,0 -4.9,0 M387.2,448.8a2.45,2.45 0 1,0 4.9,0a2.45,2.45 0 1,0 -4.9,0 M388.9,456.3a2.45,2.45 0 1,0 4.9,0a2.45,2.45 0 1,0 -4.9,0 M390.6,450.1a2.45,2.45 0 1,0 4.9,0a2.45,2.45 0 1,0 -4.9,0 M392.3,452.1a2.45,2.45 0 1,0 4.9,0a2.45,2.45 0 1,0 -4.9,0 M394.0,451.7a2.45,2.45 0 1,0 4.9,0a2.45,2.45 0 1,0 -4.9,0 M395.7,448.0a2.45,2.45 0 1,0 4.9,0a2.45,2.45 0 1,0 -4.9,0 M397.4,452.6a2.45,2.45 0 1,0 4.9,0a2.45,2.45 0 1,0 -4.9,0 M399.1,463.5a2.45,2.45 0 1,0 4.9,0a2.45,2.45 0 1,0 -4.9,0 M400.8,467.2a2.45,2.45 0 1,0 4.9,0a2.45,2.45 0 1,0 -4.9,0 M402.5,469.0a2.45,2.45 0 1,0 4.9,0a2.45,2.45 0 1,0 -4.9,0 M404.2,488.7a2.45,2.45 0 1,0 4.9,0a2.45,2.45 0 1,0 -4.9,0 M405.9,495.7a2.45,2.45 0 1,0 4.9,0a2.45,2.45 0 1,0 -4.9,0 M407.6,482.5a2.45,2.45 0 1,0 4.9,0a2.45,2.45 0 1,0 -4.9,0 M409.3,496.5a2.45,2.45 0 1,0 4.9,0a2.45,2.45 0 1,0 -4.9,0 M411.0,512.7a2.45,2.45 0 1,0 4.9,0a2.45,2.45 0 1,0 -4.9,0 M412.7,509.1a2.45,2.45 0 1,0 4.9,0a2.45,2.45 0 1,0 -4.9,0 M414.4,511.2a2.45,2.45 0 1,0 4.9,0a2.45,2.45 0 1,0 -4.9,0 M416.1,513.8a2.45,2.45 0 1,0 4.9,0a2.45,2.45 0 1,0 -4.9,0 M417.8,516.7a2.45,2.45 0 1,0 4.9,0a2.45,2.45 0 1,0 -4.9,0 M419.5,522.5a2.45,2.45 0 1,0 4.9,0a2.45,2.45 0 1,0 -4.9,0 M421.2,524.8a2.45,2.45 0 1,0 4.9,0a2.45,2.45 0 1,0 -4.9,0 M422.9,535.0a2.45,2.45 0 1,0 4.9,0a2.45,2.45 0 1,0 -4.9,0 M424.6,532.3a2.45,2.45 0 1,0 4.9,0a2.45,2.45 0 1,0 -4.9,0 M426.3,534.7a2.45,2.45 0 1,0 4.9,0a2.45,2.45 0 1,0 -4.9,0 M428.0,533.2a2.45,2.45 0 1,0 4.9,0a2.45,2.45 0 1,0 -4.9,0 M429.7,541.3a2.45,2.45 0 1,0 4.9,0a2.45,2.45 0 1,0 -4.9,0 M431.4,539.5a2.45,2.45 0 1,0 4.9,0a2.45,2.45 0 1,0 -4.9,0 M433.1,545.3a2.45,2.45 0 1,0 4.9,0a2.45,2.45 0 1,0 -4.9,0 M434.8,553.3a2.45,2.45 0 1,0 4.9,0a2.45,2.45 0 1,0 -4.9,0 M436.5,551.4a2.45,2.45 0 1,0 4.9,0a2.45,2.45 0 1,0 -4.9,0 M438.2,553.3a2.45,2.45 0 1,0 4.9,0a2.45,2.45 0 1,0 -4.9,0 M439.9,553.6a2.45,2.45 0 1,0 4.9,0a2.45,2.45 0 1,0 -4.9,0 M441.6,552.9a2.45,2.45 0 1,0 4.9,0a2.45,2.45 0 1,0 -4.9,0 M443.3,552.7a2.45,2.45 0 1,0 4.9,0a2.45,2.45 0 1,0 -4.9,0 M445.0,552.4a2.45,2.45 0 1,0 4.9,0a2.45,2.45 0 1,0 -4.9,0 M446.7,558.2a2.45,2.45 0 1,0 4.9,0a2.45,2.45 0 1,0 -4.9,0 M448.4,549.4a2.45,2.45 0 1,0 4.9,0a2.45,2.45 0 1,0 -4.9,0 M450.1,561.9a2.45,2.45 0 1,0 4.9,0a2.45,2.45 0 1,0 -4.9,0 M451.8,555.7a2.45,2.45 0 1,0 4.9,0a2.45,2.45 0 1,0 -4.9,0 M453.5,552.1a2.45,2.45 0 1,0 4.9,0a2.45,2.45 0 1,0 -4.9,0 M455.2,553.6a2.45,2.45 0 1,0 4.9,0a2.45,2.45 0 1,0 -4.9,0 M456.9,552.9a2.45,2.45 0 1,0 4.9,0a2.45,2.45 0 1,0 -4.9,0 M458.6,557.5a2.45,2.45 0 1,0 4.9,0a2.45,2.45 0 1,0 -4.9,0 M460.3,553.5a2.45,2.45 0 1,0 4.9,0a2.45,2.45 0 1,0 -4.9,0 M462.0,563.1a2.45,2.45 0 1,0 4.9,0a2.45,2.45 0 1,0 -4.9,0 M463.7,553.8a2.45,2.45 0 1,0 4.9,0a2.45,2.45 0 1,0 -4.9,0 M465.4,546.7a2.45,2.45 0 1,0 4.9,0a2.45,2.45 0 1,0 -4.9,0 M467.1,554.7a2.45,2.45 0 1,0 4.9,0a2.45,2.45 0 1,0 -4.9,0 M468.8,548.7a2.45,2.45 0 1,0 4.9,0a2.45,2.45 0 1,0 -4.9,0 M470.5,558.8a2.45,2.45 0 1,0 4.9,0a2.45,2.45 0 1,0 -4.9,0 M472.2,564.5a2.45,2.45 0 1,0 4.9,0a2.45,2.45 0 1,0 -4.9,0 M473.9,562.7a2.45,2.45 0 1,0 4.9,0a2.45,2.45 0 1,0 -4.9,0 M475.6,553.0a2.45,2.45 0 1,0 4.9,0a2.45,2.45 0 1,0 -4.9,0 M477.3,556.1a2.45,2.45 0 1,0 4.9,0a2.45,2.45 0 1,0 -4.9,0 M479.0,569.1a2.45,2.45 0 1,0 4.9,0a2.45,2.45 0 1,0 -4.9,0 M480.7,561.9a2.45,2.45 0 1,0 4.9,0a2.45,2.45 0 1,0 -4.9,0 M482.4,560.6a2.45,2.45 0 1,0 4.9,0a2.45,2.45 0 1,0 -4.9,0 M484.1,566.0a2.45,2.45 0 1,0 4.9,0a2.45,2.45 0 1,0 -4.9,0 M485.8,573.2a2.45,2.45 0 1,0 4.9,0a2.45,2.45 0 1,0 -4.9,0 M487.5,567.6a2.45,2.45 0 1,0 4.9,0a2.45,2.45 0 1,0 -4.9,0 M489.2,562.0a2.45,2.45 0 1,0 4.9,0a2.45,2.45 0 1,0 -4.9,0 M490.9,563.2a2.45,2.45 0 1,0 4.9,0a2.45,2.45 0 1,0 -4.9,0 M492.6,564.7a2.45,2.45 0 1,0 4.9,0a2.45,2.45 0 1,0 -4.9,0 M494.3,558.7a2.45,2.45 0 1,0 4.9,0a2.45,2.45 0 1,0 -4.9,0 M496.0,556.6a2.45,2.45 0 1,0 4.9,0a2.45,2.45 0 1,0 -4.9,0 M497.7,562.3a2.45,2.45 0 1,0 4.9,0a2.45,2.45 0 1,0 -4.9,0 M499.4,557.4a2.45,2.45 0 1,0 4.9,0a2.45,2.45 0 1,0 -4.9,0 M501.1,561.9a2.45,2.45 0 1,0 4.9,0a2.45,2.45 0 1,0 -4.9,0 M502.8,562.8a2.45,2.45 0 1,0 4.9,0a2.45,2.45 0 1,0 -4.9,0 M504.5,574.1a2.45,2.45 0 1,0 4.9,0a2.45,2.45 0 1,0 -4.9,0 M506.2,558.2a2.45,2.45 0 1,0 4.9,0a2.45,2.45 0 1,0 -4.9,0 M507.9,562.0a2.45,2.45 0 1,0 4.9,0a2.45,2.45 0 1,0 -4.9,0 M509.6,561.8a2.45,2.45 0 1,0 4.9,0a2.45,2.45 0 1,0 -4.9,0 M511.3,564.9a2.45,2.45 0 1,0 4.9,0a2.45,2.45 0 1,0 -4.9,0 M513.0,568.0a2.45,2.45 0 1,0 4.9,0a2.45,2.45 0 1,0 -4.9,0 M514.7,560.4a2.45,2.45 0 1,0 4.9,0a2.45,2.45 0 1,0 -4.9,0 M516.4,558.8a2.45,2.45 0 1,0 4.9,0a2.45,2.45 0 1,0 -4.9,0 M518.1,554.8a2.45,2.45 0 1,0 4.9,0a2.45,2.45 0 1,0 -4.9,0 M519.8,558.4a2.45,2.45 0 1,0 4.9,0a2.45,2.45 0 1,0 -4.9,0 M521.5,565.8a2.45,2.45 0 1,0 4.9,0a2.45,2.45 0 1,0 -4.9,0 M523.2,563.4a2.45,2.45 0 1,0 4.9,0a2.45,2.45 0 1,0 -4.9,0 M524.9,558.1a2.45,2.45 0 1,0 4.9,0a2.45,2.45 0 1,0 -4.9,0 M526.6,561.4a2.45,2.45 0 1,0 4.9,0a2.45,2.45 0 1,0 -4.9,0 M528.3,563.5a2.45,2.45 0 1,0 4.9,0a2.45,2.45 0 1,0 -4.9,0 M530.0,565.9a2.45,2.45 0 1,0 4.9,0a2.45,2.45 0 1,0 -4.9,0 M531.7,560.4a2.45,2.45 0 1,0 4.9,0a2.45,2.45 0 1,0 -4.9,0 M533.4,562.1a2.45,2.45 0 1,0 4.9,0a2.45,2.45 0 1,0 -4.9,0 M535.1,554.3a2.45,2.45 0 1,0 4.9,0a2.45,2.45 0 1,0 -4.9,0 M536.8,557.7a2.45,2.45 0 1,0 4.9,0a2.45,2.45 0 1,0 -4.9,0 M538.5,571.5a2.45,2.45 0 1,0 4.9,0a2.45,2.45 0 1,0 -4.9,0 M540.2,552.5a2.45,2.45 0 1,0 4.9,0a2.45,2.45 0 1,0 -4.9,0 M541.9,561.7a2.45,2.45 0 1,0 4.9,0a2.45,2.45 0 1,0 -4.9,0" fill="none" stroke="#1010f0" stroke-width="1.3"/>
<path d="M54.0,443.6 L54.5,443.6 L55.0,443.6 L55.5,443.5 L56.0,443.5 L56.5,443.5 L57.0,443.5 L57.5,443.5 L58.0,443.4 L58.5,443.4 L59.0,443.4 L59.5,443.4 L60.0,443.4 L60.5,443.3 L61.0,443.3 L61.5,443.3 L62.0,443.3 L62.5,443.3 L63.0,443.2 L63.5,443.2 L64.0,443.2 L64.5,443.2 L65.0,443.2 L65.5,443.1 L66.0,443.1 L66.5,443.1 L67.0,443.1 L67.5,443.1 L68.0,443.0 L68.5,443.0 L69.0,443.0 L69.5,443.0 L70.0,442.9 L70.5,442.9 L71.0,442.9 L71.5,442.9 L72.0,442.8 L72.5,442.8 L73.0,442.8 L73.5,442.8 L74.0,442.7 L74.5,442.7 L75.0,442.7 L75.5,442.6 L76.0,442.6 L76.5,442.6 L77.0,442.5 L77.5,442.5 L78.0,442.5 L78.5,442.4 L79.0,442.4 L79.5,442.4 L80.0,442.3 L80.5,442.3 L81.0,442.3 L81.5,442.2 L82.0,442.2 L82.5,442.1 L83.0,442.1 L83.5,442.1 L84.0,442.0 L84.5,442.0 L85.0,442.0 L85.5,441.9 L86.0,441.9 L86.5,441.9 L87.0,441.8 L87.5,441.8 L88.0,441.7 L88.5,441.7 L89.0,441.7 L89.5,441.6 L90.0,441.6 L90.5,441.6 L91.0,441.5 L91.5,441.5 L92.0,441.4 L92.5,441.4 L93.0,441.4 L93.5,441.3 L94.0,441.3 L94.5,441.3 L95.0,441.2 L95.5,441.2 L96.0,441.2 L96.5,441.1 L97.0,441.1 L97.5,441.0 L98.0,441.0 L98.5,441.0 L99.0,440.9 L99.5,440.9 L100.0,440.9 L100.5,440.8 L101.0,440.8 L101.5,440.7 L102.0,440.7 L102.5,440.7 L103.0,440.6 L103.5,440.6 L104.0,440.5 L104.5,440.5 L105.0,440.5 L105.5,440.4 L106.0,440.4 L106.5,440.4 L107.0,440.3 L107.5,440.3 L108.0,440.2 L108.5,440.2 L109.0,440.2 L109.5,440.1 L110.0,440.1 L110.5,440.0 L111.0,440.0 L111.5,439.9 L112.0,439.9 L112.5,439.9 L113.0,439.8 L113.5,439.8 L114.0,439.7 L114.5,439.7 L115.0,439.6 L115.5,439.6 L116.0,439.6 L116.5,439.5 L117.0,439.5 L117.5,439.4 L118.0,439.4 L118.5,439.3 L119.0,439.3 L119.5,439.2 L120.0,439.2 L120.5,439.1 L121.0,439.1 L121.5,439.0 L122.0,439.0 L122.5,438.9 L123.0,438.9 L123.5,438.8 L124.0,438.8 L124.5,438.7 L125.0,438.7 L125.5,438.6 L126.0,438.6 L126.5,438.5 L127.0,438.5 L127.5,438.4 L128.0,438.4 L128.5,438.3 L129.0,438.3 L129.5,438.2 L130.0,438.2 L130.5,438.1 L131.0,438.1 L131.5,438.0 L132.0,438.0 L132.5,437.9 L133.0,437.9 L133.5,437.8 L134.0,437.8 L134.5,437.8 L135.0,437.7 L135.5,437.7 L136.0,437.6 L136.5,437.6 L137.0,437.5 L137.5,437.5 L138.0,437.4 L138.5,437.4 L139.0,437.3 L139.5,437.3 L140.0,437.2 L140.5,437.2 L141.0,437.2 L141.5,437.1 L142.0,437.1 L142.5,437.0 L143.0,437.0 L143.5,436.9 L144.0,436.9 L144.5,436.9 L145.0,436.8 L145.5,436.8 L146.0,436.7 L146.5,436.7 L147.0,436.6 L147.5,436.6 L148.0,436.6 L148.5,436.5 L149.0,436.5 L149.5,436.4 L150.0,436.4 L150.5,436.3 L151.0,436.3 L151.5,436.2 L152.0,436.2 L152.5,436.2 L153.0,436.1 L153.5,436.1 L154.0,436.0 L154.5,436.0 L155.0,435.9 L155.5,435.9 L156.0,435.8 L156.5,435.8 L157.0,435.7 L157.5,435.7 L158.0,435.6 L158.5,435.6 L159.0,435.5 L159.5,435.5 L160.0,435.4 L160.5,435.3 L161.0,435.3 L161.5,435.2 L162.0,435.2 L162.5,435.1 L163.0,435.0 L163.5,435.0 L164.0,434.9 L164.5,434.8 L165.0,434.8 L165.5,434.7 L166.0,434.6 L166.5,434.6 L167.0,434.5 L167.5,434.4 L168.0,434.4 L168.5,434.3 L169.0,434.2 L169.5,434.1 L170.0,434.1 L170.5,434.0 L171.0,433.9 L171.5,433.8 L172.0,433.8 L172.5,433.7 L173.0,433.6 L173.5,433.5 L174.0,433.5 L174.5,433.4 L175.0,433.3 L175.5,433.2 L176.0,433.2 L176.5,433.1 L177.0,433.0 L177.5,432.9 L178.0,432.9 L178.5,432.8 L179.0,432.7 L179.5,432.6 L180.0,432.6 L180.5,432.5 L181.0,432.4 L181.5,432.3 L182.0,432.3 L182.5,432.2 L183.0,432.1 L183.5,432.1 L184.0,432.0 L184.5,431.9 L185.0,431.8 L185.5,431.8 L186.0,431.7 L186.5,431.6 L187.0,431.6 L187.5,431.5 L188.0,431.4 L188.5,431.3 L189.0,431.3 L189.5,431.2 L190.0,431.1 L190.5,431.1 L191.0,431.0 L191.5,430.9 L192.0,430.8 L192.5,430.8 L193.0,430.7 L193.5,430.6 L194.0,430.6 L194.5,430.5 L195.0,430.4 L195.5,430.3 L196.0,430.3 L196.5,430.2 L197.0,430.1 L197.5,430.1 L198.0,430.0 L198.5,429.9 L199.0,429.8 L199.5,429.8 L200.0,429.7 L200.5,429.6 L201.0,429.6 L201.5,429.5 L202.0,429.4 L202.5,429.4 L203.0,429.3 L203.5,429.2 L204.0,429.1 L204.5,429.1 L205.0,429.0 L205.5,428.9 L206.0,428.9 L206.5,428.8 L207.0,428.7 L207.5,428.6 L208.0,428.6 L208.5,428.5 L209.0,428.4 L209.5,428.3 L210.0,428.3 L210.5,428.2 L211.0,428.1 L211.5,428.0 L212.0,428.0 L212.5,427.9 L213.0,427.8 L213.5,427.7 L214.0,427.7 L214.5,427.6 L215.0,427.5 L215.5,427.4 L216.0,427.4 L216.5,427.3 L217.0,427.2 L217.5,427.2 L218.0,427.1 L218.5,427.0 L219.0,427.0 L219.5,426.9 L220.0,426.8 L220.5,426.8 L221.0,426.7 L221.5,426.6 L222.0,426.6 L222.5,426.5 L223.0,426.5 L223.5,426.4 L224.0,426.3 L224.5,426.3 L225.0,426.2 L225.5,426.2 L226.0,426.1 L226.5,426.1 L227.0,426.0 L227.5,426.0 L228.0,425.9 L228.5,425.9 L229.0,425.8 L229.5,425.8 L230.0,425.7 L230.5,425.7 L231.0,425.7 L231.5,425.6 L232.0,425.6 L232.5,425.5 L233.0,425.5 L233.5,425.4 L234.0,425.4 L234.5,425.3 L235.0,425.3 L235.5,425.3 L236.0,425.2 L236.5,425.2 L237.0,425.1 L237.5,425.1 L238.0,425.0 L238.5,425.0 L239.0,425.0 L239.5,424.9 L240.0,424.9 L240.5,424.9 L241.0,424.8 L241.5,424.8 L242.0,424.8 L242.5,424.7 L243.0,424.7 L243.5,424.7 L244.0,424.6 L244.5,424.6 L245.0,424.6 L245.5,424.6 L246.0,424.5 L246.5,424.5 L247.0,424.5 L247.5,424.5 L248.0,424.5 L248.5,424.4 L249.0,424.4 L249.5,424.4 L250.0,424.4 L250.5,424.4 L251.0,424.3 L251.5,424.3 L252.0,424.3 L252.5,424.3 L253.0,424.3 L253.5,424.2 L254.0,424.2 L254.5,424.2 L255.0,424.2 L255.5,424.2 L256.0,424.2 L256.5,424.1 L257.0,424.1 L257.5,424.1 L258.0,424.1 L258.5,424.1 L259.0,424.1 L259.5,424.0 L260.0,424.0 L260.5,424.0 L261.0,424.0 L261.5,424.0 L262.0,424.0 L262.5,424.0 L263.0,424.0 L263.5,424.0 L264.0,423.9 L264.5,423.9 L265.0,423.9 L265.5,423.9 L266.0,423.9 L266.5,423.9 L267.0,423.9 L267.5,423.9 L268.0,423.9 L268.5,423.9 L269.0,423.9 L269.5,423.9 L270.0,423.9 L270.5,423.9 L271.0,423.9 L271.5,423.9 L272.0,423.9 L272.5,423.9 L273.0,424.0 L273.5,424.0 L274.0,424.0 L274.5,424.0 L275.0,424.0 L275.5,424.0 L276.0,424.0 L276.5,424.1 L277.0,424.1 L277.5,424.1 L278.0,424.1 L278.5,424.1 L279.0,424.2 L279.5,424.2 L280.0,424.2 L280.5,424.2 L281.0,424.2 L281.5,424.3 L282.0,424.3 L282.5,424.3 L283.0,424.4 L283.5,424.4 L284.0,424.5 L284.5,424.5 L285.0,424.5 L285.5,424.6 L286.0,424.6 L286.5,424.7 L287.0,424.7 L287.5,424.8 L288.0,424.8 L288.5,424.9 L289.0,425.0 L289.5,425.0 L290.0,425.1 L290.5,425.1 L291.0,425.2 L291.5,425.3 L292.0,425.3 L292.5,425.4 L293.0,425.4 L293.5,425.5 L294.0,425.6 L294.5,425.6 L295.0,425.7 L295.5,425.8 L296.0,425.8 L296.5,425.9 L297.0,426.0 L297.5,426.0 L298.0,426.1 L298.5,426.1 L299.0,426.2 L299.5,426.2 L300.0,426.3 L300.5,426.4 L301.0,426.4 L301.5,426.5 L302.0,426.5 L302.5,426.6 L303.0,426.6 L303.5,426.7 L304.0,426.7 L304.5,426.8 L305.0,426.8 L305.5,426.9 L306.0,427.0 L306.5,427.0 L307.0,427.1 L307.5,427.1 L308.0,427.2 L308.5,427.2 L309.0,427.3 L309.5,427.3 L310.0,427.4 L310.5,427.5 L311.0,427.5 L311.5,427.6 L312.0,427.6 L312.5,427.7 L313.0,427.7 L313.5,427.8 L314.0,427.9 L314.5,427.9 L315.0,428.0 L315.5,428.0 L316.0,428.1 L316.5,428.2 L317.0,428.2 L317.5,428.3 L318.0,428.3 L318.5,428.4 L319.0,428.5 L319.5,428.5 L320.0,428.6 L320.5,428.7 L321.0,428.7 L321.5,428.8 L322.0,428.9 L322.5,428.9 L323.0,429.0 L323.5,429.1 L324.0,429.2 L324.5,429.2 L325.0,429.3 L325.5,429.4 L326.0,429.5 L326.5,429.5 L327.0,429.6 L327.5,429.7 L328.0,429.8 L328.5,429.9 L329.0,429.9 L329.5,430.0 L330.0,430.1 L330.5,430.2 L331.0,430.3 L331.5,430.3 L332.0,430.4 L332.5,430.5 L333.0,430.6 L333.5,430.7 L334.0,430.7 L334.5,430.8 L335.0,430.9 L335.5,431.0 L336.0,431.1 L336.5,431.2 L337.0,431.2 L337.5,431.3 L338.0,431.4 L338.5,431.5 L339.0,431.5 L339.5,431.6 L340.0,431.7 L340.5,431.8 L341.0,431.9 L341.5,431.9 L342.0,432.0 L342.5,432.1 L343.0,432.2 L343.5,432.2 L344.0,432.3 L344.5,432.4 L345.0,432.5 L345.5,432.6 L346.0,432.7 L346.5,432.7 L347.0,432.8 L347.5,432.9 L348.0,433.0 L348.5,433.1 L349.0,433.1 L349.5,433.2 L350.0,433.3 L350.5,433.4 L351.0,433.5 L351.5,433.5 L352.0,433.6 L352.5,433.7 L353.0,433.8 L353.5,433.8 L354.0,433.9 L354.5,434.0 L355.0,434.1 L355.5,434.1 L356.0,434.2 L356.5,434.3 L357.0,434.4 L357.5,434.4 L358.0,434.5 L358.5,434.6 L359.0,434.6 L359.5,434.7 L360.0,434.8 L360.5,434.8 L361.0,434.9 L361.5,435.0 L362.0,435.0 L362.5,435.1 L363.0,435.1 L363.5,435.2 L364.0,435.3 L364.5,435.3 L365.0,435.4 L365.5,435.4 L366.0,435.5 L366.5,435.6 L367.0,435.6 L367.5,435.7 L368.0,435.7 L368.5,435.8 L369.0,435.9 L369.5,435.9 L370.0,436.0 L370.5,436.0 L371.0,436.1 L371.5,436.1 L372.0,436.2 L372.5,436.3 L373.0,436.3 L373.5,436.4 L374.0,436.4 L374.5,436.5 L375.0,436.5 L375.5,436.6 L376.0,436.6 L376.5,436.7 L377.0,436.8 L377.5,436.8 L378.0,436.9 L378.5,436.9 L379.0,437.0 L379.5,437.0 L380.0,437.1 L380.5,437.1 L381.0,437.2 L381.5,437.2 L382.0,437.3 L382.5,437.3 L383.0,437.4 L383.5,437.4 L384.0,437.4 L384.5,437.5 L385.0,437.5 L385.5,437.6 L386.0,437.6 L386.5,437.7 L387.0,437.7 L387.5,437.7 L388.0,437.8 L388.5,437.8 L389.0,437.9 L389.5,437.9 L390.0,437.9 L390.5,438.0 L391.0,438.0 L391.5,438.0 L392.0,438.1 L392.5,438.1 L393.0,438.1 L393.5,438.2 L394.0,438.2 L394.5,438.2 L395.0,438.2 L395.5,438.3 L396.0,438.3 L396.5,438.3 L397.0,438.3 L397.5,438.4 L398.0,438.4 L398.5,438.4 L399.0,438.4 L399.5,438.5 L400.0,438.5 L400.5,438.5 L401.0,438.5 L401.5,438.6 L402.0,438.6 L402.5,438.6 L403.0,438.6 L403.5,438.6 L404.0,438.7 L404.5,438.7 L405.0,438.7 L405.5,438.7 L406.0,438.7 L406.5,438.8 L407.0,438.8 L407.5,438.8 L408.0,438.8 L408.5,438.8 L409.0,438.8 L409.5,438.9 L410.0,438.9 L410.5,438.9 L411.0,438.9 L411.5,438.9 L412.0,438.9 L412.5,439.0 L413.0,439.0 L413.5,439.0 L414.0,439.0 L414.5,439.0 L415.0,439.0 L415.5,439.1 L416.0,439.1 L416.5,439.1 L417.0,439.1 L417.5,439.1 L418.0,439.1 L418.5,439.1 L419.0,439.2 L419.5,439.2 L420.0,439.2 L420.5,439.2 L421.0,439.2 L421.5,439.2 L422.0,439.2 L422.5,439.2 L423.0,439.3 L423.5,439.3 L424.0,439.3 L424.5,439.3 L425.0,439.3 L425.5,439.3 L426.0,439.3 L426.5,439.3 L427.0,439.3 L427.5,439.4 L428.0,439.4 L428.5,439.4 L429.0,439.4 L429.5,439.4 L430.0,439.4 L430.5,439.4 L431.0,439.4 L431.5,439.4 L432.0,439.4 L432.5,439.4 L433.0,439.5 L433.5,439.5 L434.0,439.5 L434.5,439.5 L435.0,439.5 L435.5,439.5 L436.0,439.5 L436.5,439.5 L437.0,439.5 L437.5,439.5 L438.0,439.5 L438.5,439.5 L439.0,439.6 L439.5,439.6 L440.0,439.6 L440.5,439.6 L441.0,439.6 L441.5,439.6 L442.0,439.6 L442.5,439.6 L443.0,439.6 L443.5,439.6 L444.0,439.6 L444.5,439.6 L445.0,439.6 L445.5,439.7 L446.0,439.7 L446.5,439.7 L447.0,439.7 L447.5,439.7 L448.0,439.7 L448.5,439.7 L449.0,439.7 L449.5,439.7 L450.0,439.7 L450.5,439.7 L451.0,439.7 L451.5,439.7 L452.0,439.7 L452.5,439.7 L453.0,439.7 L453.5,439.7 L454.0,439.8 L454.5,439.8 L455.0,439.8 L455.5,439.8 L456.0,439.8 L456.5,439.8 L457.0,439.8 L457.5,439.8 L458.0,439.8 L458.5,439.8 L459.0,439.8 L459.5,439.8 L460.0,439.8 L460.5,439.8 L461.0,439.8 L461.5,439.8 L462.0,439.8 L462.5,439.8 L463.0,439.8 L463.5,439.8 L464.0,439.8 L464.5,439.8 L465.0,439.8 L465.5,439.8 L466.0,439.8 L466.5,439.8 L467.0,439.8 L467.5,439.8 L468.0,439.8 L468.5,439.9 L469.0,439.9 L469.5,439.9 L470.0,439.9 L470.5,439.9 L471.0,439.9 L471.5,439.9 L472.0,439.9 L472.5,439.9 L473.0,439.9 L473.5,439.9 L474.0,439.9 L474.5,439.9 L475.0,439.9 L475.5,439.9 L476.0,439.9 L476.5,439.9 L477.0,439.9 L477.5,439.9 L478.0,439.9 L478.5,439.9 L479.0,439.9 L479.5,439.9 L480.0,439.9 L480.5,439.9 L481.0,439.9 L481.5,439.9 L482.0,439.9 L482.5,439.9 L483.0,439.9 L483.5,439.9 L484.0,439.9 L484.5,439.9 L485.0,439.9 L485.5,439.9 L486.0,439.9 L486.5,439.9 L487.0,439.9 L487.5,440.0 L488.0,440.0 L488.5,440.0 L489.0,440.0 L489.5,440.0 L490.0,440.0 L490.5,440.0 L491.0,440.0 L491.5,440.0 L492.0,440.0 L492.5,440.0 L493.0,440.0 L493.5,440.0 L494.0,440.0 L494.5,440.0 L495.0,440.0 L495.5,440.0 L496.0,440.0 L496.5,440.0 L497.0,440.0 L497.5,440.0 L498.0,440.0 L498.5,440.0 L499.0,440.0 L499.5,440.0 L500.0,440.0 L500.5,440.0 L501.0,440.0 L501.5,440.0 L502.0,440.0 L502.5,440.0 L503.0,440.0 L503.5,440.0 L504.0,440.0 L504.5,440.0 L505.0,440.0 L505.5,440.0 L506.0,440.0 L506.5,440.0 L507.0,440.0 L507.5,440.0 L508.0,440.0 L508.5,440.0 L509.0,440.0 L509.5,440.0 L510.0,440.0 L510.5,440.0 L511.0,440.0 L511.5,440.0 L512.0,440.0 L512.5,440.0 L513.0,440.0 L513.5,440.1 L514.0,440.1 L514.5,440.1 L515.0,440.1 L515.5,440.1 L516.0,440.1 L516.5,440.1 L517.0,440.1 L517.5,440.1 L518.0,440.1 L518.5,440.1 L519.0,440.1 L519.5,440.1 L520.0,440.1 L520.5,440.1 L521.0,440.1 L521.5,440.1 L522.0,440.1 L522.5,440.1 L523.0,440.1 L523.5,440.1 L524.0,440.1 L524.5,440.1 L525.0,440.1 L525.5,440.1 L526.0,440.1 L526.5,440.1 L527.0,440.1 L527.5,440.1 L528.0,440.1 L528.5,440.1 L529.0,440.1 L529.5,440.1 L530.0,440.1 L530.5,440.1 L531.0,440.1 L531.5,440.1 L532.0,440.1 L532.5,440.1 L533.0,440.1 L533.5,440.1 L534.0,440.1 L534.5,440.1 L535.0,440.1 L535.5,440.1 L536.0,440.1 L536.5,440.1 L537.0,440.1 L537.5,440.1 L538.0,440.1 L538.5,440.1 L539.0,440.1 L539.5,440.1 L540.0,440.1 L540.5,440.1 L541.0,440.1 L541.5,440.1 L542.0,440.1 L542.5,440.1 L543.0,440.1 L543.5,440.1 L544.0,440.1 L544.5,440.1 L544.8,440.1" fill="none" stroke="#000" stroke-width="3" stroke-linejoin="round"/>
<path d="M54.0,443.6 L54.5,443.6 L55.0,443.6 L55.5,443.5 L56.0,443.5 L56.5,443.5 L57.0,443.5 L57.5,443.5 L58.0,443.4 L58.5,443.4 L59.0,443.4 L59.5,443.4 L60.0,443.4 L60.5,443.3 L61.0,443.3 L61.5,443.3 L62.0,443.3 L62.5,443.3 L63.0,443.2 L63.5,443.2 L64.0,443.2 L64.5,443.2 L65.0,443.2 L65.5,443.1 L66.0,443.1 L66.5,443.1 L67.0,443.1 L67.5,443.1 L68.0,443.0 L68.5,443.0 L69.0,443.0 L69.5,443.0 L70.0,442.9 L70.5,442.9 L71.0,442.9 L71.5,442.9 L72.0,442.8 L72.5,442.8 L73.0,442.8 L73.5,442.8 L74.0,442.7 L74.5,442.7 L75.0,442.7 L75.5,442.6 L76.0,442.6 L76.5,442.6 L77.0,442.5 L77.5,442.5 L78.0,442.5 L78.5,442.4 L79.0,442.4 L79.5,442.4 L80.0,442.3 L80.5,442.3 L81.0,442.3 L81.5,442.2 L82.0,442.2 L82.5,442.1 L83.0,442.1 L83.5,442.1 L84.0,442.0 L84.5,442.0 L85.0,442.0 L85.5,441.9 L86.0,441.9 L86.5,441.9 L87.0,441.8 L87.5,441.8 L88.0,441.7 L88.5,441.7 L89.0,441.7 L89.5,441.6 L90.0,441.6 L90.5,441.6 L91.0,441.5 L91.5,441.5 L92.0,441.4 L92.5,441.4 L93.0,441.4 L93.5,441.3 L94.0,441.3 L94.5,441.3 L95.0,441.2 L95.5,441.2 L96.0,441.2 L96.5,441.1 L97.0,441.1 L97.5,441.0 L98.0,441.0 L98.5,441.0 L99.0,440.9 L99.5,440.9 L100.0,440.9 L100.5,440.8 L101.0,440.8 L101.5,440.7 L102.0,440.7 L102.5,440.7 L103.0,440.6 L103.5,440.6 L104.0,440.6 L104.5,440.5 L105.0,440.5 L105.5,440.4 L106.0,440.4 L106.5,440.4 L107.0,440.3 L107.5,440.3 L108.0,440.2 L108.5,440.2 L109.0,440.2 L109.5,440.1 L110.0,440.1 L110.5,440.0 L111.0,440.0 L111.5,439.9 L112.0,439.9 L112.5,439.9 L113.0,439.8 L113.5,439.8 L114.0,439.7 L114.5,439.7 L115.0,439.6 L115.5,439.6 L116.0,439.6 L116.5,439.5 L117.0,439.5 L117.5,439.4 L118.0,439.4 L118.5,439.3 L119.0,439.3 L119.5,439.2 L120.0,439.2 L120.5,439.1 L121.0,439.1 L121.5,439.0 L122.0,439.0 L122.5,438.9 L123.0,438.9 L123.5,438.8 L124.0,438.8 L124.5,438.7 L125.0,438.7 L125.5,438.6 L126.0,438.6 L126.5,438.5 L127.0,438.5 L127.5,438.4 L128.0,438.3 L128.5,438.3 L129.0,438.2 L129.5,438.2 L130.0,438.1 L130.5,438.1 L131.0,438.0 L131.5,438.0 L132.0,437.9 L132.5,437.9 L133.0,437.8 L133.5,437.8 L134.0,437.7 L134.5,437.7 L135.0,437.6 L135.5,437.6 L136.0,437.5 L136.5,437.5 L137.0,437.4 L137.5,437.4 L138.0,437.3 L138.5,437.3 L139.0,437.2 L139.5,437.2 L140.0,437.1 L140.5,437.1 L141.0,437.0 L141.5,437.0 L142.0,436.9 L142.5,436.9 L143.0,436.8 L143.5,436.8 L144.0,436.7 L144.5,436.7 L145.0,436.6 L145.5,436.6 L146.0,436.5 L146.5,436.5 L147.0,436.5 L147.5,436.4 L148.0,436.4 L148.5,436.3 L149.0,436.3 L149.5,436.2 L150.0,436.2 L150.5,436.1 L151.0,436.1 L151.5,436.0 L152.0,436.0 L152.5,435.9 L153.0,435.9 L153.5,435.8 L154.0,435.8 L154.5,435.7 L155.0,435.7 L155.5,435.6 L156.0,435.6 L156.5,435.5 L157.0,435.4 L157.5,435.4 L158.0,435.3 L158.5,435.3 L159.0,435.2 L159.5,435.2 L160.0,435.1 L160.5,435.0 L161.0,435.0 L161.5,434.9 L162.0,434.9 L162.5,434.8 L163.0,434.7 L163.5,434.7 L164.0,434.6 L164.5,434.5 L165.0,434.5 L165.5,434.4 L166.0,434.3 L166.5,434.3 L167.0,434.2 L167.5,434.1 L168.0,434.0 L168.5,434.0 L169.0,433.9 L169.5,433.8 L170.0,433.8 L170.5,433.7 L171.0,433.6 L171.5,433.5 L172.0,433.5 L172.5,433.4 L173.0,433.3 L173.5,433.2 L174.0,433.2 L174.5,433.1 L175.0,433.0 L175.5,432.9 L176.0,432.9 L176.5,432.8 L177.0,432.7 L177.5,432.6 L178.0,432.6 L178.5,432.5 L179.0,432.4 L179.5,432.3 L180.0,432.3 L180.5,432.2 L181.0,432.1 L181.5,432.0 L182.0,432.0 L182.5,431.9 L183.0,431.8 L183.5,431.8 L184.0,431.7 L184.5,431.6 L185.0,431.5 L185.5,431.5 L186.0,431.4 L186.5,431.3 L187.0,431.2 L187.5,431.2 L188.0,431.1 L188.5,431.0 L189.0,431.0 L189.5,430.9 L190.0,430.8 L190.5,430.7 L191.0,430.7 L191.5,430.6 L192.0,430.5 L192.5,430.4 L193.0,430.4 L193.5,430.3 L194.0,430.2 L194.5,430.1 L195.0,430.1 L195.5,430.0 L196.0,429.9 L196.5,429.9 L197.0,429.8 L197.5,429.7 L198.0,429.6 L198.5,429.6 L199.0,429.5 L199.5,429.4 L200.0,429.3 L200.5,429.3 L201.0,429.2 L201.5,429.1 L202.0,429.0 L202.5,429.0 L203.0,428.9 L203.5,428.8 L204.0,428.7 L204.5,428.7 L205.0,428.6 L205.5,428.5 L206.0,428.4 L206.5,428.4 L207.0,428.3 L207.5,428.2 L208.0,428.1 L208.5,428.1 L209.0,428.0 L209.5,427.9 L210.0,427.8 L210.5,427.7 L211.0,427.7 L211.5,427.6 L212.0,427.5 L212.5,427.4 L213.0,427.3 L213.5,427.3 L214.0,427.2 L214.5,427.1 L215.0,427.0 L215.5,427.0 L216.0,426.9 L216.5,426.8 L217.0,426.7 L217.5,426.6 L218.0,426.6 L218.5,426.5 L219.0,426.4 L219.5,426.3 L220.0,426.3 L220.5,426.2 L221.0,426.1 L221.5,426.0 L222.0,426.0 L222.5,425.9 L223.0,425.8 L223.5,425.8 L224.0,425.7 L224.5,425.6 L225.0,425.6 L225.5,425.5 L226.0,425.4 L226.5,425.4 L227.0,425.3 L227.5,425.2 L228.0,425.2 L228.5,425.1 L229.0,425.0 L229.5,425.0 L230.0,424.9 L230.5,424.8 L231.0,424.8 L231.5,424.7 L232.0,424.7 L232.5,424.6 L233.0,424.5 L233.5,424.5 L234.0,424.4 L234.5,424.3 L235.0,424.3 L235.5,424.2 L236.0,424.2 L236.5,424.1 L237.0,424.0 L237.5,424.0 L238.0,423.9 L238.5,423.9 L239.0,423.8 L239.5,423.8 L240.0,423.7 L240.5,423.6 L241.0,423.6 L241.5,423.5 L242.0,423.5 L242.5,423.4 L243.0,423.4 L243.5,423.3 L244.0,423.2 L244.5,423.2 L245.0,423.1 L245.5,423.1 L246.0,423.0 L246.5,423.0 L247.0,422.9 L247.5,422.9 L248.0,422.8 L248.5,422.7 L249.0,422.7 L249.5,422.6 L250.0,422.6 L250.5,422.5 L251.0,422.5 L251.5,422.4 L252.0,422.4 L252.5,422.3 L253.0,422.3 L253.5,422.2 L254.0,422.2 L254.5,422.1 L255.0,422.1 L255.5,422.0 L256.0,422.0 L256.5,421.9 L257.0,421.9 L257.5,421.8 L258.0,421.8 L258.5,421.7 L259.0,421.7 L259.5,421.6 L260.0,421.6 L260.5,421.5 L261.0,421.5 L261.5,421.4 L262.0,421.4 L262.5,421.3 L263.0,421.3 L263.5,421.2 L264.0,421.2 L264.5,421.1 L265.0,421.1 L265.5,421.0 L266.0,421.0 L266.5,420.9 L267.0,420.9 L267.5,420.8 L268.0,420.8 L268.5,420.7 L269.0,420.7 L269.5,420.6 L270.0,420.6 L270.5,420.5 L271.0,420.5 L271.5,420.4 L272.0,420.4 L272.5,420.4 L273.0,420.3 L273.5,420.3 L274.0,420.2 L274.5,420.2 L275.0,420.1 L275.5,420.1 L276.0,420.0 L276.5,420.0 L277.0,419.9 L277.5,419.9 L278.0,419.8 L278.5,419.8 L279.0,419.7 L279.5,419.7 L280.0,419.6 L280.5,419.5 L281.0,419.5 L281.5,419.4 L282.0,419.3 L282.5,419.3 L283.0,419.2 L283.5,419.1 L284.0,419.0 L284.5,418.9 L285.0,418.9 L285.5,418.8 L286.0,418.7 L286.5,418.6 L287.0,418.5 L287.5,418.5 L288.0,418.4 L288.5,418.4 L289.0,418.3 L289.5,418.3 L290.0,418.2 L290.5,418.2 L291.0,418.2 L291.5,418.2 L292.0,418.2 L292.5,418.1 L293.0,418.1 L293.5,418.1 L294.0,418.1 L294.5,418.1 L295.0,418.1 L295.5,418.1 L296.0,418.1 L296.5,418.1 L297.0,418.1 L297.5,418.1 L298.0,418.1 L298.5,418.0 L299.0,418.0 L299.5,418.0 L300.0,418.0 L300.5,418.0 L301.0,418.0 L301.5,417.9 L302.0,417.9 L302.5,417.9 L303.0,417.8 L303.5,417.8 L304.0,417.7 L304.5,417.7 L305.0,417.6 L305.5,417.6 L306.0,417.5 L306.5,417.5 L307.0,417.4 L307.5,417.4 L308.0,417.3 L308.5,417.2 L309.0,417.1 L309.5,417.1 L310.0,417.0 L310.5,416.9 L311.0,416.9 L311.5,416.8 L312.0,416.7 L312.5,416.6 L313.0,416.5 L313.5,416.5 L314.0,416.4 L314.5,416.3 L315.0,416.2 L315.5,416.1 L316.0,416.0 L316.5,416.0 L317.0,415.9 L317.5,415.8 L318.0,415.7 L318.5,415.6 L319.0,415.5 L319.5,415.5 L320.0,415.4 L320.5,415.3 L321.0,415.2 L321.5,415.1 L322.0,415.0 L322.5,414.9 L323.0,414.8 L323.5,414.7 L324.0,414.6 L324.5,414.5 L325.0,414.3 L325.5,414.2 L326.0,414.1 L326.5,414.0 L327.0,413.9 L327.5,413.7 L328.0,413.6 L328.5,413.5 L329.0,413.3 L329.5,413.2 L330.0,413.0 L330.5,412.9 L331.0,412.7 L331.5,412.6 L332.0,412.4 L332.5,412.2 L333.0,412.1 L333.5,411.9 L334.0,411.7 L334.5,411.5 L335.0,411.3 L335.5,411.1 L336.0,410.9 L336.5,410.7 L337.0,410.5 L337.5,410.3 L338.0,410.0 L338.5,409.7 L339.0,409.5 L339.5,409.2 L340.0,408.9 L340.5,408.6 L341.0,408.3 L341.5,408.0 L342.0,407.7 L342.5,407.3 L343.0,407.0 L343.5,406.6 L344.0,406.3 L344.5,405.9 L345.0,405.6 L345.5,405.2 L346.0,404.9 L346.5,404.5 L347.0,404.1 L347.5,403.7 L348.0,403.3 L348.5,402.9 L349.0,402.5 L349.5,402.0 L350.0,401.6 L350.5,401.1 L351.0,400.7 L351.5,400.2 L352.0,399.7 L352.5,399.2 L353.0,398.7 L353.5,398.2 L354.0,397.6 L354.5,397.1 L355.0,396.5 L355.5,395.9 L356.0,395.3 L356.5,394.7 L357.0,394.0 L357.5,393.4 L358.0,392.7 L358.5,392.0 L359.0,391.3 L359.5,390.5 L360.0,389.8 L360.5,389.1 L361.0,388.3 L361.5,387.5 L362.0,386.8 L362.5,386.0 L363.0,385.2 L363.5,384.4 L364.0,383.6 L364.5,382.8 L365.0,382.0 L365.5,381.1 L366.0,380.3 L366.5,379.4 L367.0,378.5 L367.5,377.6 L368.0,376.7 L368.5,375.8 L369.0,374.9 L369.5,373.9 L370.0,373.0 L370.5,372.1 L371.0,371.1 L371.5,370.2 L372.0,369.2 L372.5,368.3 L373.0,367.3 L373.5,366.4 L374.0,365.4 L374.5,364.3 L375.0,363.3 L375.5,362.3 L376.0,361.2 L376.5,360.2 L377.0,359.1 L377.5,358.1 L378.0,357.1 L378.5,356.2 L379.0,355.2 L379.5,354.3 L380.0,353.4 L380.5,352.6 L381.0,351.7 L381.5,350.9 L382.0,350.0 L382.5,349.2 L383.0,348.4 L383.5,347.6 L384.0,346.8 L384.5,346.1 L385.0,345.4 L385.5,344.7 L386.0,344.0 L386.5,343.4 L387.0,342.8 L387.5,342.3 L388.0,341.7 L388.5,341.1 L389.0,340.6 L389.5,340.1 L390.0,339.6 L390.5,339.1 L391.0,338.7 L391.5,338.4 L392.0,338.0 L392.5,337.8 L393.0,337.6 L393.5,337.4 L394.0,337.2 L394.5,337.0 L395.0,336.8 L395.5,336.7 L396.0,336.6 L396.5,336.6 L397.0,336.6 L397.5,336.7 L398.0,336.8 L398.5,336.9 L399.0,337.1 L399.5,337.3 L400.0,337.5 L400.5,337.8 L401.0,338.2 L401.5,338.6 L402.0,339.1 L402.5,339.6 L403.0,340.1 L403.5,340.7 L404.0,341.2 L404.5,341.8 L405.0,342.5 L405.5,343.1 L406.0,343.8 L406.5,344.6 L407.0,345.6 L407.5,346.5 L408.0,347.6 L408.5,348.6 L409.0,349.7 L409.5,350.9 L410.0,352.0 L410.5,353.2 L411.0,354.3 L411.5,355.4 L412.0,356.5 L412.5,357.6 L413.0,358.8 L413.5,360.0 L414.0,361.2 L414.5,362.4 L415.0,363.6 L415.5,364.8 L416.0,366.1 L416.5,367.3 L417.0,368.5 L417.5,369.7 L418.0,370.9 L418.5,372.1 L419.0,373.3 L419.5,374.6 L420.0,375.8 L420.5,377.0 L421.0,378.2 L421.5,379.4 L422.0,380.6 L422.5,381.8 L423.0,383.0 L423.5,384.2 L424.0,385.4 L424.5,386.6 L425.0,387.8 L425.5,389.1 L426.0,390.3 L426.5,391.5 L427.0,392.7 L427.5,394.0 L428.0,395.2 L428.5,396.4 L429.0,397.6 L429.5,398.7 L430.0,399.9 L430.5,401.0 L431.0,402.1 L431.5,403.2 L432.0,404.3 L432.5,405.3 L433.0,406.4 L433.5,407.5 L434.0,408.5 L434.5,409.5 L435.0,410.5 L435.5,411.4 L436.0,412.3 L436.5,413.2 L437.0,414.1 L437.5,414.9 L438.0,415.6 L438.5,416.4 L439.0,417.1 L439.5,417.9 L440.0,418.6 L440.5,419.2 L441.0,419.9 L441.5,420.5 L442.0,421.2 L442.5,421.8 L443.0,422.4 L443.5,423.0 L444.0,423.7 L444.5,424.3 L445.0,424.9 L445.5,425.5 L446.0,426.1 L446.5,426.7 L447.0,427.2 L447.5,427.8 L448.0,428.3 L448.5,428.7 L449.0,429.2 L449.5,429.6 L450.0,430.0 L450.5,430.4 L451.0,430.7 L451.5,431.1 L452.0,431.4 L452.5,431.7 L453.0,432.0 L453.5,432.3 L454.0,432.6 L454.5,432.9 L455.0,433.1 L455.5,433.4 L456.0,433.6 L456.5,433.8 L457.0,434.1 L457.5,434.3 L458.0,434.5 L458.5,434.7 L459.0,434.9 L459.5,435.1 L460.0,435.3 L460.5,435.5 L461.0,435.7 L461.5,435.9 L462.0,436.0 L462.5,436.2 L463.0,436.3 L463.5,436.5 L464.0,436.6 L464.5,436.7 L465.0,436.9 L465.5,437.0 L466.0,437.1 L466.5,437.2 L467.0,437.3 L467.5,437.5 L468.0,437.6 L468.5,437.7 L469.0,437.8 L469.5,437.9 L470.0,438.0 L470.5,438.1 L471.0,438.1 L471.5,438.2 L472.0,438.3 L472.5,438.4 L473.0,438.4 L473.5,438.5 L474.0,438.5 L474.5,438.6 L475.0,438.6 L475.5,438.6 L476.0,438.7 L476.5,438.7 L477.0,438.7 L477.5,438.7 L478.0,438.7 L478.5,438.8 L479.0,438.8 L479.5,438.8 L480.0,438.8 L480.5,438.9 L481.0,438.9 L481.5,438.9 L482.0,438.9 L482.5,438.9 L483.0,438.9 L483.5,439.0 L484.0,439.0 L484.5,439.0 L485.0,439.0 L485.5,439.0 L486.0,439.0 L486.5,439.0 L487.0,439.1 L487.5,439.1 L488.0,439.1 L488.5,439.1 L489.0,439.1 L489.5,439.1 L490.0,439.1 L490.5,439.1 L491.0,439.2 L491.5,439.2 L492.0,439.2 L492.5,439.2 L493.0,439.2 L493.5,439.2 L494.0,439.2 L494.5,439.2 L495.0,439.2 L495.5,439.2 L496.0,439.2 L496.5,439.2 L497.0,439.3 L497.5,439.3 L498.0,439.3 L498.5,439.3 L499.0,439.3 L499.5,439.3 L500.0,439.3 L500.5,439.3 L501.0,439.3 L501.5,439.3 L502.0,439.3 L502.5,439.3 L503.0,439.3 L503.5,439.3 L504.0,439.4 L504.5,439.4 L505.0,439.4 L505.5,439.4 L506.0,439.4 L506.5,439.4 L507.0,439.4 L507.5,439.4 L508.0,439.4 L508.5,439.4 L509.0,439.4 L509.5,439.4 L510.0,439.4 L510.5,439.4 L511.0,439.4 L511.5,439.5 L512.0,439.5 L512.5,439.5 L513.0,439.5 L513.5,439.5 L514.0,439.5 L514.5,439.5 L515.0,439.5 L515.5,439.5 L516.0,439.5 L516.5,439.5 L517.0,439.5 L517.5,439.5 L518.0,439.5 L518.5,439.5 L519.0,439.5 L519.5,439.5 L520.0,439.6 L520.5,439.6 L521.0,439.6 L521.5,439.6 L522.0,439.6 L522.5,439.6 L523.0,439.6 L523.5,439.6 L524.0,439.6 L524.5,439.6 L525.0,439.6 L525.5,439.6 L526.0,439.6 L526.5,439.6 L527.0,439.6 L527.5,439.6 L528.0,439.6 L528.5,439.6 L529.0,439.6 L529.5,439.6 L530.0,439.6 L530.5,439.6 L531.0,439.6 L531.5,439.6 L532.0,439.7 L532.5,439.7 L533.0,439.7 L533.5,439.7 L534.0,439.7 L534.5,439.7 L535.0,439.7 L535.5,439.7 L536.0,439.7 L536.5,439.7 L537.0,439.7 L537.5,439.7 L538.0,439.7 L538.5,439.7 L539.0,439.7 L539.5,439.7 L540.0,439.7 L540.5,439.7 L541.0,439.7 L541.5,439.7 L542.0,439.7 L542.5,439.7 L543.0,439.7 L543.5,439.7 L544.0,439.7 L544.5,439.7 L544.8,439.7" fill="none" stroke="#000" stroke-width="3.2" stroke-linejoin="round"/>
<path d="M54.0,571.8 L54.5,571.8 L55.0,571.8 L55.5,571.8 L56.0,571.8 L56.5,571.8 L57.0,571.8 L57.5,571.8 L58.0,571.8 L58.5,571.8 L59.0,571.8 L59.5,571.8 L60.0,571.8 L60.5,571.8 L61.0,571.8 L61.5,571.8 L62.0,571.8 L62.5,571.8 L63.0,571.8 L63.5,571.8 L64.0,571.8 L64.5,571.8 L65.0,571.8 L65.5,571.8 L66.0,571.8 L66.5,571.8 L67.0,571.8 L67.5,571.8 L68.0,571.8 L68.5,571.8 L69.0,571.8 L69.5,571.8 L70.0,571.8 L70.5,571.8 L71.0,571.8 L71.5,571.8 L72.0,571.8 L72.5,571.8 L73.0,571.8 L73.5,571.8 L74.0,571.8 L74.5,571.8 L75.0,571.8 L75.5,571.8 L76.0,571.8 L76.5,571.8 L77.0,571.8 L77.5,571.8 L78.0,571.8 L78.5,571.8 L79.0,571.8 L79.5,571.8 L80.0,571.8 L80.5,571.8 L81.0,571.8 L81.5,571.8 L82.0,571.8 L82.5,571.8 L83.0,571.7 L83.5,571.7 L84.0,571.7 L84.5,571.7 L85.0,571.7 L85.5,571.7 L86.0,571.7 L86.5,571.7 L87.0,571.7 L87.5,571.7 L88.0,571.7 L88.5,571.7 L89.0,571.7 L89.5,571.7 L90.0,571.7 L90.5,571.7 L91.0,571.7 L91.5,571.7 L92.0,571.7 L92.5,571.7 L93.0,571.7 L93.5,571.7 L94.0,571.7 L94.5,571.7 L95.0,571.7 L95.5,571.7 L96.0,571.7 L96.5,571.7 L97.0,571.7 L97.5,571.7 L98.0,571.7 L98.5,571.7 L99.0,571.7 L99.5,571.7 L100.0,571.7 L100.5,571.7 L101.0,571.7 L101.5,571.7 L102.0,571.7 L102.5,571.7 L103.0,571.7 L103.5,571.7 L104.0,571.7 L104.5,571.7 L105.0,571.7 L105.5,571.7 L106.0,571.7 L106.5,571.7 L107.0,571.7 L107.5,571.7 L108.0,571.7 L108.5,571.7 L109.0,571.7 L109.5,571.7 L110.0,571.7 L110.5,571.7 L111.0,571.7 L111.5,571.7 L112.0,571.7 L112.5,571.7 L113.0,571.7 L113.5,571.7 L114.0,571.7 L114.5,571.7 L115.0,571.6 L115.5,571.6 L116.0,571.6 L116.5,571.6 L117.0,571.6 L117.5,571.6 L118.0,571.6 L118.5,571.6 L119.0,571.6 L119.5,571.6 L120.0,571.6 L120.5,571.6 L121.0,571.6 L121.5,571.6 L122.0,571.6 L122.5,571.6 L123.0,571.6 L123.5,571.6 L124.0,571.6 L124.5,571.6 L125.0,571.6 L125.5,571.6 L126.0,571.6 L126.5,571.6 L127.0,571.6 L127.5,571.6 L128.0,571.6 L128.5,571.6 L129.0,571.6 L129.5,571.6 L130.0,571.6 L130.5,571.6 L131.0,571.6 L131.5,571.6 L132.0,571.6 L132.5,571.6 L133.0,571.6 L133.5,571.6 L134.0,571.6 L134.5,571.6 L135.0,571.6 L135.5,571.6 L136.0,571.6 L136.5,571.6 L137.0,571.6 L137.5,571.6 L138.0,571.6 L138.5,571.5 L139.0,571.5 L139.5,571.5 L140.0,571.5 L140.5,571.5 L141.0,571.5 L141.5,571.5 L142.0,571.5 L142.5,571.5 L143.0,571.5 L143.5,571.5 L144.0,571.5 L144.5,571.5 L145.0,571.5 L145.5,571.5 L146.0,571.5 L146.5,571.5 L147.0,571.5 L147.5,571.5 L148.0,571.5 L148.5,571.5 L149.0,571.5 L149.5,571.5 L150.0,571.5 L150.5,571.5 L151.0,571.5 L151.5,571.5 L152.0,571.5 L152.5,571.5 L153.0,571.5 L153.5,571.5 L154.0,571.5 L154.5,571.5 L155.0,571.5 L155.5,571.5 L156.0,571.5 L156.5,571.5 L157.0,571.5 L157.5,571.5 L158.0,571.5 L158.5,571.5 L159.0,571.5 L159.5,571.5 L160.0,571.5 L160.5,571.5 L161.0,571.5 L161.5,571.5 L162.0,571.5 L162.5,571.5 L163.0,571.5 L163.5,571.5 L164.0,571.5 L164.5,571.5 L165.0,571.5 L165.5,571.4 L166.0,571.4 L166.5,571.4 L167.0,571.4 L167.5,571.4 L168.0,571.4 L168.5,571.4 L169.0,571.4 L169.5,571.4 L170.0,571.4 L170.5,571.4 L171.0,571.4 L171.5,571.4 L172.0,571.4 L172.5,571.4 L173.0,571.4 L173.5,571.4 L174.0,571.4 L174.5,571.4 L175.0,571.4 L175.5,571.4 L176.0,571.4 L176.5,571.4 L177.0,571.4 L177.5,571.4 L178.0,571.4 L178.5,571.4 L179.0,571.4 L179.5,571.4 L180.0,571.4 L180.5,571.4 L181.0,571.4 L181.5,571.4 L182.0,571.4 L182.5,571.4 L183.0,571.4 L183.5,571.4 L184.0,571.4 L184.5,571.4 L185.0,571.4 L185.5,571.4 L186.0,571.4 L186.5,571.4 L187.0,571.4 L187.5,571.4 L188.0,571.4 L188.5,571.4 L189.0,571.4 L189.5,571.4 L190.0,571.4 L190.5,571.4 L191.0,571.4 L191.5,571.4 L192.0,571.4 L192.5,571.3 L193.0,571.3 L193.5,571.3 L194.0,571.3 L194.5,571.3 L195.0,571.3 L195.5,571.3 L196.0,571.3 L196.5,571.3 L197.0,571.3 L197.5,571.3 L198.0,571.3 L198.5,571.3 L199.0,571.3 L199.5,571.3 L200.0,571.3 L200.5,571.3 L201.0,571.3 L201.5,571.3 L202.0,571.3 L202.5,571.3 L203.0,571.3 L203.5,571.3 L204.0,571.3 L204.5,571.2 L205.0,571.2 L205.5,571.2 L206.0,571.2 L206.5,571.2 L207.0,571.2 L207.5,571.2 L208.0,571.2 L208.5,571.2 L209.0,571.2 L209.5,571.2 L210.0,571.1 L210.5,571.1 L211.0,571.1 L211.5,571.1 L212.0,571.1 L212.5,571.1 L213.0,571.1 L213.5,571.1 L214.0,571.0 L214.5,571.0 L215.0,571.0 L215.5,571.0 L216.0,571.0 L216.5,571.0 L217.0,571.0 L217.5,570.9 L218.0,570.9 L218.5,570.9 L219.0,570.9 L219.5,570.9 L220.0,570.9 L220.5,570.8 L221.0,570.8 L221.5,570.8 L222.0,570.8 L222.5,570.8 L223.0,570.7 L223.5,570.7 L224.0,570.7 L224.5,570.7 L225.0,570.7 L225.5,570.6 L226.0,570.6 L226.5,570.6 L227.0,570.6 L227.5,570.6 L228.0,570.6 L228.5,570.5 L229.0,570.5 L229.5,570.5 L230.0,570.5 L230.5,570.4 L231.0,570.4 L231.5,570.4 L232.0,570.4 L232.5,570.4 L233.0,570.3 L233.5,570.3 L234.0,570.3 L234.5,570.3 L235.0,570.3 L235.5,570.2 L236.0,570.2 L236.5,570.2 L237.0,570.2 L237.5,570.1 L238.0,570.1 L238.5,570.1 L239.0,570.1 L239.5,570.1 L240.0,570.0 L240.5,570.0 L241.0,570.0 L241.5,569.9 L242.0,569.9 L242.5,569.9 L243.0,569.9 L243.5,569.8 L244.0,569.8 L244.5,569.8 L245.0,569.8 L245.5,569.7 L246.0,569.7 L246.5,569.7 L247.0,569.6 L247.5,569.6 L248.0,569.6 L248.5,569.5 L249.0,569.5 L249.5,569.5 L250.0,569.4 L250.5,569.4 L251.0,569.4 L251.5,569.3 L252.0,569.3 L252.5,569.3 L253.0,569.2 L253.5,569.2 L254.0,569.1 L254.5,569.1 L255.0,569.1 L255.5,569.0 L256.0,569.0 L256.5,568.9 L257.0,568.9 L257.5,568.9 L258.0,568.8 L258.5,568.8 L259.0,568.7 L259.5,568.7 L260.0,568.7 L260.5,568.6 L261.0,568.6 L261.5,568.5 L262.0,568.5 L262.5,568.4 L263.0,568.4 L263.5,568.3 L264.0,568.3 L264.5,568.2 L265.0,568.2 L265.5,568.1 L266.0,568.1 L266.5,568.0 L267.0,568.0 L267.5,567.9 L268.0,567.9 L268.5,567.8 L269.0,567.8 L269.5,567.7 L270.0,567.7 L270.5,567.6 L271.0,567.6 L271.5,567.5 L272.0,567.5 L272.5,567.4 L273.0,567.4 L273.5,567.3 L274.0,567.2 L274.5,567.2 L275.0,567.1 L275.5,567.0 L276.0,567.0 L276.5,566.9 L277.0,566.8 L277.5,566.8 L278.0,566.7 L278.5,566.6 L279.0,566.6 L279.5,566.5 L280.0,566.4 L280.5,566.3 L281.0,566.2 L281.5,566.2 L282.0,566.1 L282.5,566.0 L283.0,565.9 L283.5,565.8 L284.0,565.7 L284.5,565.6 L285.0,565.6 L285.5,565.5 L286.0,565.4 L286.5,565.3 L287.0,565.2 L287.5,565.1 L288.0,565.0 L288.5,564.9 L289.0,564.8 L289.5,564.7 L290.0,564.6 L290.5,564.5 L291.0,564.4 L291.5,564.3 L292.0,564.2 L292.5,564.0 L293.0,563.9 L293.5,563.8 L294.0,563.7 L294.5,563.6 L295.0,563.5 L295.5,563.4 L296.0,563.3 L296.5,563.1 L297.0,563.0 L297.5,562.9 L298.0,562.8 L298.5,562.7 L299.0,562.5 L299.5,562.4 L300.0,562.3 L300.5,562.2 L301.0,562.1 L301.5,561.9 L302.0,561.8 L302.5,561.7 L303.0,561.5 L303.5,561.4 L304.0,561.3 L304.5,561.1 L305.0,561.0 L305.5,560.8 L306.0,560.7 L306.5,560.5 L307.0,560.4 L307.5,560.2 L308.0,560.1 L308.5,559.9 L309.0,559.7 L309.5,559.6 L310.0,559.4 L310.5,559.2 L311.0,559.0 L311.5,558.9 L312.0,558.7 L312.5,558.5 L313.0,558.3 L313.5,558.1 L314.0,557.9 L314.5,557.7 L315.0,557.5 L315.5,557.3 L316.0,557.1 L316.5,556.9 L317.0,556.7 L317.5,556.5 L318.0,556.3 L318.5,556.1 L319.0,555.9 L319.5,555.7 L320.0,555.5 L320.5,555.3 L321.0,555.1 L321.5,554.8 L322.0,554.6 L322.5,554.4 L323.0,554.1 L323.5,553.9 L324.0,553.7 L324.5,553.4 L325.0,553.2 L325.5,552.9 L326.0,552.7 L326.5,552.4 L327.0,552.1 L327.5,551.9 L328.0,551.6 L328.5,551.3 L329.0,551.1 L329.5,550.8 L330.0,550.5 L330.5,550.2 L331.0,549.9 L331.5,549.6 L332.0,549.3 L332.5,549.1 L333.0,548.8 L333.5,548.5 L334.0,548.2 L334.5,547.9 L335.0,547.5 L335.5,547.2 L336.0,546.9 L336.5,546.6 L337.0,546.3 L337.5,546.0 L338.0,545.7 L338.5,545.4 L339.0,545.0 L339.5,544.7 L340.0,544.4 L340.5,544.1 L341.0,543.8 L341.5,543.4 L342.0,543.1 L342.5,542.8 L343.0,542.4 L343.5,542.1 L344.0,541.8 L344.5,541.4 L345.0,541.1 L345.5,540.7 L346.0,540.4 L346.5,540.0 L347.0,539.6 L347.5,539.2 L348.0,538.8 L348.5,538.4 L349.0,538.0 L349.5,537.6 L350.0,537.1 L350.5,536.7 L351.0,536.2 L351.5,535.7 L352.0,535.2 L352.5,534.6 L353.0,534.0 L353.5,533.4 L354.0,532.7 L354.5,532.1 L355.0,531.4 L355.5,530.7 L356.0,530.1 L356.5,529.4 L357.0,528.8 L357.5,528.1 L358.0,527.5 L358.5,526.8 L359.0,526.1 L359.5,525.4 L360.0,524.7 L360.5,524.0 L361.0,523.3 L361.5,522.5 L362.0,521.8 L362.5,521.1 L363.0,520.3 L363.5,519.5 L364.0,518.7 L364.5,517.9 L365.0,517.1 L365.5,516.3 L366.0,515.5 L366.5,514.6 L367.0,513.8 L367.5,512.9 L368.0,512.0 L368.5,511.0 L369.0,510.1 L369.5,509.1 L370.0,508.1 L370.5,507.1 L371.0,506.1 L371.5,505.1 L372.0,504.0 L372.5,502.9 L373.0,501.8 L373.5,500.7 L374.0,499.5 L374.5,498.4 L375.0,497.1 L375.5,495.9 L376.0,494.7 L376.5,493.4 L377.0,492.2 L377.5,490.9 L378.0,489.6 L378.5,488.4 L379.0,487.1 L379.5,485.8 L380.0,484.5 L380.5,483.1 L381.0,481.8 L381.5,480.5 L382.0,479.2 L382.5,477.9 L383.0,476.7 L383.5,475.5 L384.0,474.4 L384.5,473.3 L385.0,472.2 L385.5,471.1 L386.0,470.0 L386.5,469.0 L387.0,468.0 L387.5,467.0 L388.0,466.1 L388.5,465.2 L389.0,464.4 L389.5,463.6 L390.0,462.8 L390.5,462.0 L391.0,461.3 L391.5,460.7 L392.0,460.1 L392.5,459.6 L393.0,459.1 L393.5,458.7 L394.0,458.2 L394.5,457.9 L395.0,457.6 L395.5,457.4 L396.0,457.3 L396.5,457.4 L397.0,457.6 L397.5,458.0 L398.0,458.4 L398.5,459.0 L399.0,459.7 L399.5,460.4 L400.0,461.2 L400.5,462.0 L401.0,462.8 L401.5,463.8 L402.0,465.0 L402.5,466.6 L403.0,468.3 L403.5,470.1 L404.0,472.0 L404.5,473.9 L405.0,475.7 L405.5,477.4 L406.0,478.9 L406.5,480.5 L407.0,482.0 L407.5,483.4 L408.0,484.9 L408.5,486.4 L409.0,487.8 L409.5,489.3 L410.0,490.8 L410.5,492.3 L411.0,493.8 L411.5,495.3 L412.0,496.9 L412.5,498.4 L413.0,499.9 L413.5,501.4 L414.0,502.9 L414.5,504.4 L415.0,505.9 L415.5,507.3 L416.0,508.8 L416.5,510.2 L417.0,511.6 L417.5,513.0 L418.0,514.4 L418.5,515.8 L419.0,517.2 L419.5,518.5 L420.0,519.9 L420.5,521.2 L421.0,522.4 L421.5,523.7 L422.0,525.0 L422.5,526.3 L423.0,527.6 L423.5,528.8 L424.0,530.0 L424.5,531.1 L425.0,532.2 L425.5,533.3 L426.0,534.3 L426.5,535.3 L427.0,536.2 L427.5,537.0 L428.0,537.8 L428.5,538.6 L429.0,539.4 L429.5,540.2 L430.0,540.9 L430.5,541.7 L431.0,542.4 L431.5,543.2 L432.0,543.9 L432.5,544.7 L433.0,545.4 L433.5,546.2 L434.0,547.0 L434.5,547.7 L435.0,548.4 L435.5,549.2 L436.0,549.8 L436.5,550.5 L437.0,551.1 L437.5,551.6 L438.0,552.1 L438.5,552.6 L439.0,553.0 L439.5,553.5 L440.0,553.9 L440.5,554.3 L441.0,554.7 L441.5,555.1 L442.0,555.4 L442.5,555.7 L443.0,556.0 L443.5,556.3 L444.0,556.6 L444.5,556.9 L445.0,557.2 L445.5,557.4 L446.0,557.7 L446.5,557.9 L447.0,558.1 L447.5,558.4 L448.0,558.6 L448.5,558.8 L449.0,559.0 L449.5,559.2 L450.0,559.4 L450.5,559.6 L451.0,559.8 L451.5,559.9 L452.0,560.1 L452.5,560.3 L453.0,560.4 L453.5,560.6 L454.0,560.7 L454.5,560.9 L455.0,561.0 L455.5,561.2 L456.0,561.3 L456.5,561.5 L457.0,561.6 L457.5,561.8 L458.0,561.9 L458.5,562.0 L459.0,562.2 L459.5,562.3 L460.0,562.4 L460.5,562.5 L461.0,562.7 L461.5,562.8 L462.0,562.9 L462.5,563.0 L463.0,563.1 L463.5,563.3 L464.0,563.4 L464.5,563.5 L465.0,563.6 L465.5,563.7 L466.0,563.8 L466.5,563.9 L467.0,564.0 L467.5,564.1 L468.0,564.2 L468.5,564.3 L469.0,564.4 L469.5,564.5 L470.0,564.6 L470.5,564.7 L471.0,564.8 L471.5,564.9 L472.0,565.0 L472.5,565.1 L473.0,565.1 L473.5,565.2 L474.0,565.3 L474.5,565.4 L475.0,565.5 L475.5,565.6 L476.0,565.6 L476.5,565.7 L477.0,565.8 L477.5,565.9 L478.0,565.9 L478.5,566.0 L479.0,566.1 L479.5,566.1 L480.0,566.2 L480.5,566.3 L481.0,566.3 L481.5,566.4 L482.0,566.5 L482.5,566.5 L483.0,566.6 L483.5,566.7 L484.0,566.7 L484.5,566.8 L485.0,566.8 L485.5,566.9 L486.0,567.0 L486.5,567.0 L487.0,567.1 L487.5,567.1 L488.0,567.2 L488.5,567.3 L489.0,567.3 L489.5,567.4 L490.0,567.4 L490.5,567.5 L491.0,567.5 L491.5,567.6 L492.0,567.7 L492.5,567.7 L493.0,567.8 L493.5,567.8 L494.0,567.9 L494.5,567.9 L495.0,568.0 L495.5,568.0 L496.0,568.1 L496.5,568.1 L497.0,568.2 L497.5,568.2 L498.0,568.3 L498.5,568.3 L499.0,568.3 L499.5,568.4 L500.0,568.4 L500.5,568.5 L501.0,568.5 L501.5,568.6 L502.0,568.6 L502.5,568.6 L503.0,568.7 L503.5,568.7 L504.0,568.7 L504.5,568.8 L505.0,568.8 L505.5,568.8 L506.0,568.9 L506.5,568.9 L507.0,568.9 L507.5,569.0 L508.0,569.0 L508.5,569.0 L509.0,569.0 L509.5,569.1 L510.0,569.1 L510.5,569.1 L511.0,569.2 L511.5,569.2 L512.0,569.2 L512.5,569.3 L513.0,569.3 L513.5,569.3 L514.0,569.3 L514.5,569.4 L515.0,569.4 L515.5,569.4 L516.0,569.4 L516.5,569.5 L517.0,569.5 L517.5,569.5 L518.0,569.5 L518.5,569.6 L519.0,569.6 L519.5,569.6 L520.0,569.6 L520.5,569.7 L521.0,569.7 L521.5,569.7 L522.0,569.7 L522.5,569.8 L523.0,569.8 L523.5,569.8 L524.0,569.8 L524.5,569.9 L525.0,569.9 L525.5,569.9 L526.0,569.9 L526.5,569.9 L527.0,570.0 L527.5,570.0 L528.0,570.0 L528.5,570.0 L529.0,570.0 L529.5,570.0 L530.0,570.1 L530.5,570.1 L531.0,570.1 L531.5,570.1 L532.0,570.1 L532.5,570.1 L533.0,570.2 L533.5,570.2 L534.0,570.2 L534.5,570.2 L535.0,570.2 L535.5,570.2 L536.0,570.2 L536.5,570.2 L537.0,570.3 L537.5,570.3 L538.0,570.3 L538.5,570.3 L538.7,570.3" fill="none" stroke="#000" stroke-width="3.2" stroke-linejoin="round"/>
<line x1="395.8" y1="319.5" x2="395.8" y2="504" stroke="#000" stroke-width="1.2"/>
<line x1="248.9" y1="365.9" x2="248.9" y2="392" stroke="#000" stroke-width="1.9"/>
<path d="M243.6,389.1 L254.1,389.1 L248.9,403.3 Z" fill="#000"/>
<line x1="75.4" y1="584.2" x2="75.4" y2="573.2" stroke="#000" stroke-width="2"/>
<line x1="142.3" y1="584.2" x2="142.3" y2="573.2" stroke="#000" stroke-width="2"/>
<line x1="209.2" y1="584.2" x2="209.2" y2="573.2" stroke="#000" stroke-width="2"/>
<line x1="276.1" y1="584.2" x2="276.1" y2="573.2" stroke="#000" stroke-width="2"/>
<line x1="343.0" y1="584.2" x2="343.0" y2="573.2" stroke="#000" stroke-width="2"/>
<line x1="409.9" y1="584.2" x2="409.9" y2="573.2" stroke="#000" stroke-width="2"/>
<line x1="476.8" y1="584.2" x2="476.8" y2="573.2" stroke="#000" stroke-width="2"/>
<rect x="50.0" y="314.0" width="499.9" height="270.20000000000005" fill="none" stroke="#000" stroke-width="2.3"/>
<path d="M57.0,761.1V765.6M57.0,769.6V774.1M53.0,761.1h8M53.0,774.1h8M55.0,765.6h4.0v4.0h-4.0zM60.3,757.1V761.6M60.3,765.6V770.1M56.3,757.1h8M56.3,770.1h8M58.3,761.6h4.0v4.0h-4.0zM63.6,754.1V758.6M63.6,762.6V767.1M59.6,754.1h8M59.6,767.1h8M61.6,758.6h4.0v4.0h-4.0zM66.9,758.8V763.3M66.9,767.3V771.8M62.9,758.8h8M62.9,771.8h8M64.9,763.3h4.0v4.0h-4.0zM70.2,759.0V763.5M70.2,767.5V772.0M66.2,759.0h8M66.2,772.0h8M68.2,763.5h4.0v4.0h-4.0zM73.5,758.3V762.8M73.5,766.8V771.3M69.5,758.3h8M69.5,771.3h8M71.5,762.8h4.0v4.0h-4.0zM76.8,746.4V750.9M76.8,754.9V759.4M72.8,746.4h8M72.8,759.4h8M74.8,750.9h4.0v4.0h-4.0zM80.1,757.5V762.0M80.1,766.0V770.5M76.1,757.5h8M76.1,770.5h8M78.1,762.0h4.0v4.0h-4.0zM83.4,752.7V757.2M83.4,761.2V765.7M79.4,752.7h8M79.4,765.7h8M81.4,757.2h4.0v4.0h-4.0zM86.7,754.5V759.0M86.7,763.0V767.5M82.7,754.5h8M82.7,767.5h8M84.7,759.0h4.0v4.0h-4.0zM90.0,759.3V763.8M90.0,767.8V772.3M86.0,759.3h8M86.0,772.3h8M88.0,763.8h4.0v4.0h-4.0zM93.3,761.8V766.3M93.3,770.3V774.8M89.3,761.8h8M89.3,774.8h8M91.3,766.3h4.0v4.0h-4.0zM96.6,763.2V767.7M96.6,771.7V776.2M92.6,763.2h8M92.6,776.2h8M94.6,767.7h4.0v4.0h-4.0zM99.9,754.0V758.5M99.9,762.5V767.0M95.9,754.0h8M95.9,767.0h8M97.9,758.5h4.0v4.0h-4.0zM103.2,762.3V766.8M103.2,770.8V775.3M99.2,762.3h8M99.2,775.3h8M101.2,766.8h4.0v4.0h-4.0zM106.5,762.9V767.4M106.5,771.4V775.9M102.5,762.9h8M102.5,775.9h8M104.5,767.4h4.0v4.0h-4.0zM109.8,761.7V766.2M109.8,770.2V774.7M105.8,761.7h8M105.8,774.7h8M107.8,766.2h4.0v4.0h-4.0zM113.1,762.3V766.8M113.1,770.8V775.3M109.1,762.3h8M109.1,775.3h8M111.1,766.8h4.0v4.0h-4.0zM116.4,751.2V755.7M116.4,759.7V764.2M112.4,751.2h8M112.4,764.2h8M114.4,755.7h4.0v4.0h-4.0zM119.7,750.0V754.5M119.7,758.5V763.0M115.7,750.0h8M115.7,763.0h8M117.7,754.5h4.0v4.0h-4.0zM123.0,755.7V760.2M123.0,764.2V768.7M119.0,755.7h8M119.0,768.7h8M121.0,760.2h4.0v4.0h-4.0zM126.3,740.7V745.2M126.3,749.2V753.7M122.3,740.7h8M122.3,753.7h8M124.3,745.2h4.0v4.0h-4.0zM129.6,750.1V754.6M129.6,758.6V763.1M125.6,750.1h8M125.6,763.1h8M127.6,754.6h4.0v4.0h-4.0zM132.9,744.4V748.9M132.9,752.9V757.4M128.9,744.4h8M128.9,757.4h8M130.9,748.9h4.0v4.0h-4.0zM136.2,744.6V749.1M136.2,753.1V757.6M132.2,744.6h8M132.2,757.6h8M134.2,749.1h4.0v4.0h-4.0zM139.5,734.7V739.2M139.5,743.2V747.7M135.5,734.7h8M135.5,747.7h8M137.5,739.2h4.0v4.0h-4.0zM142.8,739.3V743.8M142.8,747.8V752.3M138.8,739.3h8M138.8,752.3h8M140.8,743.8h4.0v4.0h-4.0zM146.1,744.1V748.6M146.1,752.6V757.1M142.1,744.1h8M142.1,757.1h8M144.1,748.6h4.0v4.0h-4.0zM149.4,749.0V753.5M149.4,757.5V762.0M145.4,749.0h8M145.4,762.0h8M147.4,753.5h4.0v4.0h-4.0zM152.7,748.7V753.2M152.7,757.2V761.7M148.7,748.7h8M148.7,761.7h8M150.7,753.2h4.0v4.0h-4.0zM156.0,740.7V745.2M156.0,749.2V753.7M152.0,740.7h8M152.0,753.7h8M154.0,745.2h4.0v4.0h-4.0zM159.3,738.9V743.4M159.3,747.4V751.9M155.3,738.9h8M155.3,751.9h8M157.3,743.4h4.0v4.0h-4.0zM162.6,733.6V738.1M162.6,742.1V746.6M158.6,733.6h8M158.6,746.6h8M160.6,738.1h4.0v4.0h-4.0zM165.9,740.5V745.0M165.9,749.0V753.5M161.9,740.5h8M161.9,753.5h8M163.9,745.0h4.0v4.0h-4.0zM169.2,735.2V739.7M169.2,743.7V748.2M165.2,735.2h8M165.2,748.2h8M167.2,739.7h4.0v4.0h-4.0zM172.5,739.7V744.2M172.5,748.2V752.7M168.5,739.7h8M168.5,752.7h8M170.5,744.2h4.0v4.0h-4.0zM175.8,746.2V750.7M175.8,754.7V759.2M171.8,746.2h8M171.8,759.2h8M173.8,750.7h4.0v4.0h-4.0zM179.1,733.6V738.1M179.1,742.1V746.6M175.1,733.6h8M175.1,746.6h8M177.1,738.1h4.0v4.0h-4.0zM182.4,723.0V727.5M182.4,731.5V736.0M178.4,723.0h8M178.4,736.0h8M180.4,727.5h4.0v4.0h-4.0zM185.7,726.1V730.6M185.7,734.6V739.1M181.7,726.1h8M181.7,739.1h8M183.7,730.6h4.0v4.0h-4.0zM189.0,721.1V725.6M189.0,729.6V734.1M185.0,721.1h8M185.0,734.1h8M187.0,725.6h4.0v4.0h-4.0zM192.3,721.7V726.2M192.3,730.2V734.7M188.3,721.7h8M188.3,734.7h8M190.3,726.2h4.0v4.0h-4.0zM195.6,736.9V741.4M195.6,745.4V749.9M191.6,736.9h8M191.6,749.9h8M193.6,741.4h4.0v4.0h-4.0zM198.9,728.8V733.3M198.9,737.3V741.8M194.9,728.8h8M194.9,741.8h8M196.9,733.3h4.0v4.0h-4.0zM202.2,716.9V721.4M202.2,725.4V729.9M198.2,716.9h8M198.2,729.9h8M200.2,721.4h4.0v4.0h-4.0zM205.5,730.8V735.3M205.5,739.3V743.8M201.5,730.8h8M201.5,743.8h8M203.5,735.3h4.0v4.0h-4.0zM208.8,734.6V739.1M208.8,743.1V747.6M204.8,734.6h8M204.8,747.6h8M206.8,739.1h4.0v4.0h-4.0zM212.1,723.8V728.3M212.1,732.3V736.8M208.1,723.8h8M208.1,736.8h8M210.1,728.3h4.0v4.0h-4.0zM215.4,723.4V727.9M215.4,731.9V736.4M211.4,723.4h8M211.4,736.4h8M213.4,727.9h4.0v4.0h-4.0zM218.7,727.2V731.7M218.7,735.7V740.2M214.7,727.2h8M214.7,740.2h8M216.7,731.7h4.0v4.0h-4.0zM222.0,731.3V735.8M222.0,739.8V744.3M218.0,731.3h8M218.0,744.3h8M220.0,735.8h4.0v4.0h-4.0zM225.3,732.6V737.1M225.3,741.1V745.6M221.3,732.6h8M221.3,745.6h8M223.3,737.1h4.0v4.0h-4.0zM228.6,735.1V739.6M228.6,743.6V748.1M224.6,735.1h8M224.6,748.1h8M226.6,739.6h4.0v4.0h-4.0zM231.9,734.3V738.8M231.9,742.8V747.3M227.9,734.3h8M227.9,747.3h8M229.9,738.8h4.0v4.0h-4.0zM235.2,733.0V737.5M235.2,741.5V746.0M231.2,733.0h8M231.2,746.0h8M233.2,737.5h4.0v4.0h-4.0zM238.5,733.0V737.5M238.5,741.5V746.0M234.5,733.0h8M234.5,746.0h8M236.5,737.5h4.0v4.0h-4.0zM241.8,727.3V731.8M241.8,735.8V740.3M237.8,727.3h8M237.8,740.3h8M239.8,731.8h4.0v4.0h-4.0zM245.1,711.8V716.3M245.1,720.3V724.8M241.1,711.8h8M241.1,724.8h8M243.1,716.3h4.0v4.0h-4.0zM248.4,719.5V724.0M248.4,728.0V732.5M244.4,719.5h8M244.4,732.5h8M246.4,724.0h4.0v4.0h-4.0zM251.7,721.0V725.5M251.7,729.5V734.0M247.7,721.0h8M247.7,734.0h8M249.7,725.5h4.0v4.0h-4.0zM255.0,714.9V719.4M255.0,723.4V727.9M251.0,714.9h8M251.0,727.9h8M253.0,719.4h4.0v4.0h-4.0zM258.3,721.6V726.1M258.3,730.1V734.6M254.3,721.6h8M254.3,734.6h8M256.3,726.1h4.0v4.0h-4.0zM261.6,711.1V715.6M261.6,719.6V724.1M257.6,711.1h8M257.6,724.1h8M259.6,715.6h4.0v4.0h-4.0zM264.9,704.6V709.1M264.9,713.1V717.6M260.9,704.6h8M260.9,717.6h8M262.9,709.1h4.0v4.0h-4.0zM268.2,717.1V721.6M268.2,725.6V730.1M264.2,717.1h8M264.2,730.1h8M266.2,721.6h4.0v4.0h-4.0zM271.5,709.0V713.5M271.5,717.5V722.0M267.5,709.0h8M267.5,722.0h8M269.5,713.5h4.0v4.0h-4.0zM274.8,703.0V707.5M274.8,711.5V716.0M270.8,703.0h8M270.8,716.0h8M272.8,707.5h4.0v4.0h-4.0zM278.1,704.3V708.8M278.1,712.8V717.3M274.1,704.3h8M274.1,717.3h8M276.1,708.8h4.0v4.0h-4.0zM281.4,701.8V706.3M281.4,710.3V714.8M277.4,701.8h8M277.4,714.8h8M279.4,706.3h4.0v4.0h-4.0zM284.7,693.7V698.2M284.7,702.2V706.7M280.7,693.7h8M280.7,706.7h8M282.7,698.2h4.0v4.0h-4.0zM288.0,671.9V676.4M288.0,680.4V684.9M284.0,671.9h8M284.0,684.9h8M286.0,676.4h4.0v4.0h-4.0zM291.3,679.9V684.4M291.3,688.4V692.9M287.3,679.9h8M287.3,692.9h8M289.3,684.4h4.0v4.0h-4.0zM294.6,681.3V685.8M294.6,689.8V694.3M290.6,681.3h8M290.6,694.3h8M292.6,685.8h4.0v4.0h-4.0zM297.9,678.8V683.3M297.9,687.3V691.8M293.9,678.8h8M293.9,691.8h8M295.9,683.3h4.0v4.0h-4.0zM301.2,685.5V690.0M301.2,694.0V698.5M297.2,685.5h8M297.2,698.5h8M299.2,690.0h4.0v4.0h-4.0zM304.5,687.8V692.3M304.5,696.3V700.8M300.5,687.8h8M300.5,700.8h8M302.5,692.3h4.0v4.0h-4.0zM307.8,672.6V677.1M307.8,681.1V685.6M303.8,672.6h8M303.8,685.6h8M305.8,677.1h4.0v4.0h-4.0zM311.1,663.2V667.7M311.1,671.7V676.2M307.1,663.2h8M307.1,676.2h8M309.1,667.7h4.0v4.0h-4.0zM314.4,676.3V680.8M314.4,684.8V689.3M310.4,676.3h8M310.4,689.3h8M312.4,680.8h4.0v4.0h-4.0zM317.7,655.5V660.0M317.7,664.0V668.5M313.7,655.5h8M313.7,668.5h8M315.7,660.0h4.0v4.0h-4.0zM321.0,650.5V655.0M321.0,659.0V663.5M317.0,650.5h8M317.0,663.5h8M319.0,655.0h4.0v4.0h-4.0zM324.3,661.6V666.1M324.3,670.1V674.6M320.3,661.6h8M320.3,674.6h8M322.3,666.1h4.0v4.0h-4.0zM327.6,661.4V665.9M327.6,669.9V674.4M323.6,661.4h8M323.6,674.4h8M325.6,665.9h4.0v4.0h-4.0zM330.9,651.2V655.7M330.9,659.7V664.2M326.9,651.2h8M326.9,664.2h8M328.9,655.7h4.0v4.0h-4.0zM334.2,660.3V664.8M334.2,668.8V673.3M330.2,660.3h8M330.2,673.3h8M332.2,664.8h4.0v4.0h-4.0zM337.5,649.3V653.8M337.5,657.8V662.3M333.5,649.3h8M333.5,662.3h8M335.5,653.8h4.0v4.0h-4.0zM340.8,645.4V649.9M340.8,653.9V658.4M336.8,645.4h8M336.8,658.4h8M338.8,649.9h4.0v4.0h-4.0zM344.1,655.1V659.6M344.1,663.6V668.1M340.1,655.1h8M340.1,668.1h8M342.1,659.6h4.0v4.0h-4.0zM347.4,661.3V665.8M347.4,669.8V674.3M343.4,661.3h8M343.4,674.3h8M345.4,665.8h4.0v4.0h-4.0zM350.7,652.9V657.4M350.7,661.4V665.9M346.7,652.9h8M346.7,665.9h8M348.7,657.4h4.0v4.0h-4.0zM354.0,663.2V667.7M354.0,671.7V676.2M350.0,663.2h8M350.0,676.2h8M352.0,667.7h4.0v4.0h-4.0zM357.3,663.9V668.4M357.3,672.4V676.9M353.3,663.9h8M353.3,676.9h8M355.3,668.4h4.0v4.0h-4.0zM360.6,692.3V696.8M360.6,700.8V705.3M356.6,692.3h8M356.6,705.3h8M358.6,696.8h4.0v4.0h-4.0zM363.9,669.3V673.8M363.9,677.8V682.3M359.9,669.3h8M359.9,682.3h8M361.9,673.8h4.0v4.0h-4.0zM367.2,690.6V695.1M367.2,699.1V703.6M363.2,690.6h8M363.2,703.6h8M365.2,695.1h4.0v4.0h-4.0zM370.5,683.1V687.6M370.5,691.6V696.1M366.5,683.1h8M366.5,696.1h8M368.5,687.6h4.0v4.0h-4.0zM373.8,686.5V691.0M373.8,695.0V699.5M369.8,686.5h8M369.8,699.5h8M371.8,691.0h4.0v4.0h-4.0zM377.1,697.4V701.9M377.1,705.9V710.4M373.1,697.4h8M373.1,710.4h8M375.1,701.9h4.0v4.0h-4.0zM380.4,702.7V707.2M380.4,711.2V715.7M376.4,702.7h8M376.4,715.7h8M378.4,707.2h4.0v4.0h-4.0zM383.7,709.8V714.3M383.7,718.3V722.8M379.7,709.8h8M379.7,722.8h8M381.7,714.3h4.0v4.0h-4.0zM387.0,706.1V710.6M387.0,714.6V719.1M383.0,706.1h8M383.0,719.1h8M385.0,710.6h4.0v4.0h-4.0zM390.3,702.3V706.8M390.3,710.8V715.3M386.3,702.3h8M386.3,715.3h8M388.3,706.8h4.0v4.0h-4.0zM393.6,705.0V709.5M393.6,713.5V718.0M389.6,705.0h8M389.6,718.0h8M391.6,709.5h4.0v4.0h-4.0zM396.9,715.9V720.4M396.9,724.4V728.9M392.9,715.9h8M392.9,728.9h8M394.9,720.4h4.0v4.0h-4.0zM400.2,718.4V722.9M400.2,726.9V731.4M396.2,718.4h8M396.2,731.4h8M398.2,722.9h4.0v4.0h-4.0zM403.5,727.1V731.6M403.5,735.6V740.1M399.5,727.1h8M399.5,740.1h8M401.5,731.6h4.0v4.0h-4.0zM406.8,721.4V725.9M406.8,729.9V734.4M402.8,721.4h8M402.8,734.4h8M404.8,725.9h4.0v4.0h-4.0zM410.1,729.8V734.3M410.1,738.3V742.8M406.1,729.8h8M406.1,742.8h8M408.1,734.3h4.0v4.0h-4.0zM413.4,736.4V740.9M413.4,744.9V749.4M409.4,736.4h8M409.4,749.4h8M411.4,740.9h4.0v4.0h-4.0zM416.7,727.3V731.8M416.7,735.8V740.3M412.7,727.3h8M412.7,740.3h8M414.7,731.8h4.0v4.0h-4.0zM420.0,715.4V719.9M420.0,723.9V728.4M416.0,715.4h8M416.0,728.4h8M418.0,719.9h4.0v4.0h-4.0zM423.3,719.9V724.4M423.3,728.4V732.9M419.3,719.9h8M419.3,732.9h8M421.3,724.4h4.0v4.0h-4.0zM426.6,720.2V724.7M426.6,728.7V733.2M422.6,720.2h8M422.6,733.2h8M424.6,724.7h4.0v4.0h-4.0zM429.9,749.1V753.6M429.9,757.6V762.1M425.9,749.1h8M425.9,762.1h8M427.9,753.6h4.0v4.0h-4.0zM433.2,731.0V735.5M433.2,739.5V744.0M429.2,731.0h8M429.2,744.0h8M431.2,735.5h4.0v4.0h-4.0zM436.5,751.2V755.7M436.5,759.7V764.2M432.5,751.2h8M432.5,764.2h8M434.5,755.7h4.0v4.0h-4.0zM439.8,747.9V752.4M439.8,756.4V760.9M435.8,747.9h8M435.8,760.9h8M437.8,752.4h4.0v4.0h-4.0zM443.1,758.5V763.0M443.1,767.0V771.5M439.1,758.5h8M439.1,771.5h8M441.1,763.0h4.0v4.0h-4.0zM446.4,753.1V757.6M446.4,761.6V766.1M442.4,753.1h8M442.4,766.1h8M444.4,757.6h4.0v4.0h-4.0zM449.7,744.1V748.6M449.7,752.6V757.1M445.7,744.1h8M445.7,757.1h8M447.7,748.6h4.0v4.0h-4.0zM453.0,743.6V748.1M453.0,752.1V756.6M449.0,743.6h8M449.0,756.6h8M451.0,748.1h4.0v4.0h-4.0zM456.3,746.3V750.8M456.3,754.8V759.3M452.3,746.3h8M452.3,759.3h8M454.3,750.8h4.0v4.0h-4.0zM459.6,747.2V751.7M459.6,755.7V760.2M455.6,747.2h8M455.6,760.2h8M457.6,751.7h4.0v4.0h-4.0zM462.9,741.2V745.7M462.9,749.7V754.2M458.9,741.2h8M458.9,754.2h8M460.9,745.7h4.0v4.0h-4.0zM466.2,745.6V750.1M466.2,754.1V758.6M462.2,745.6h8M462.2,758.6h8M464.2,750.1h4.0v4.0h-4.0zM469.5,759.8V764.3M469.5,768.3V772.8M465.5,759.8h8M465.5,772.8h8M467.5,764.3h4.0v4.0h-4.0zM472.8,731.1V735.6M472.8,739.6V744.1M468.8,731.1h8M468.8,744.1h8M470.8,735.6h4.0v4.0h-4.0zM476.1,748.3V752.8M476.1,756.8V761.3M472.1,748.3h8M472.1,761.3h8M474.1,752.8h4.0v4.0h-4.0zM479.4,738.2V742.7M479.4,746.7V751.2M475.4,738.2h8M475.4,751.2h8M477.4,742.7h4.0v4.0h-4.0zM482.7,747.8V752.3M482.7,756.3V760.8M478.7,747.8h8M478.7,760.8h8M480.7,752.3h4.0v4.0h-4.0zM486.0,753.6V758.1M486.0,762.1V766.6M482.0,753.6h8M482.0,766.6h8M484.0,758.1h4.0v4.0h-4.0zM489.3,745.8V750.3M489.3,754.3V758.8M485.3,745.8h8M485.3,758.8h8M487.3,750.3h4.0v4.0h-4.0zM492.6,753.1V757.6M492.6,761.6V766.1M488.6,753.1h8M488.6,766.1h8M490.6,757.6h4.0v4.0h-4.0zM495.9,732.4V736.9M495.9,740.9V745.4M491.9,732.4h8M491.9,745.4h8M493.9,736.9h4.0v4.0h-4.0zM499.2,756.1V760.6M499.2,764.6V769.1M495.2,756.1h8M495.2,769.1h8M497.2,760.6h4.0v4.0h-4.0zM502.5,741.1V745.6M502.5,749.6V754.1M498.5,741.1h8M498.5,754.1h8M500.5,745.6h4.0v4.0h-4.0zM505.8,751.9V756.4M505.8,760.4V764.9M501.8,751.9h8M501.8,764.9h8M503.8,756.4h4.0v4.0h-4.0zM509.1,748.0V752.5M509.1,756.5V761.0M505.1,748.0h8M505.1,761.0h8M507.1,752.5h4.0v4.0h-4.0zM512.4,723.5V728.0M512.4,732.0V736.5M508.4,723.5h8M508.4,736.5h8M510.4,728.0h4.0v4.0h-4.0zM515.7,739.7V744.2M515.7,748.2V752.7M511.7,739.7h8M511.7,752.7h8M513.7,744.2h4.0v4.0h-4.0zM519.0,748.4V752.9M519.0,756.9V761.4M515.0,748.4h8M515.0,761.4h8M517.0,752.9h4.0v4.0h-4.0zM522.3,760.3V764.8M522.3,768.8V773.3M518.3,760.3h8M518.3,773.3h8M520.3,764.8h4.0v4.0h-4.0zM525.6,749.0V753.5M525.6,757.5V762.0M521.6,749.0h8M521.6,762.0h8M523.6,753.5h4.0v4.0h-4.0zM528.9,748.8V753.3M528.9,757.3V761.8M524.9,748.8h8M524.9,761.8h8M526.9,753.3h4.0v4.0h-4.0zM532.2,733.9V738.4M532.2,742.4V746.9M528.2,733.9h8M528.2,746.9h8M530.2,738.4h4.0v4.0h-4.0zM535.5,759.3V763.8M535.5,767.8V772.3M531.5,759.3h8M531.5,772.3h8M533.5,763.8h4.0v4.0h-4.0zM538.8,762.7V767.2M538.8,771.2V775.7M534.8,762.7h8M534.8,775.7h8M536.8,767.2h4.0v4.0h-4.0zM542.1,746.8V751.3M542.1,755.3V759.8M538.1,746.8h8M538.1,759.8h8M540.1,751.3h4.0v4.0h-4.0zM545.4,744.5V749.0M545.4,753.0V757.5M541.4,744.5h8M541.4,757.5h8M543.4,749.0h4.0v4.0h-4.0z" fill="none" stroke="#ff0000" stroke-width="1.45"/>
<path d="M57.0,869.6V873.9M57.0,878.3V882.6M53.0,869.6h8M53.0,882.6h8M54.8,876.1a2.2,2.2 0 1,0 4.4,0a2.2,2.2 0 1,0 -4.4,0M60.2,880.8V885.1M60.2,889.5V893.8M56.2,880.8h8M56.2,893.8h8M58.0,887.3a2.2,2.2 0 1,0 4.4,0a2.2,2.2 0 1,0 -4.4,0M63.4,888.7V893.0M63.4,897.4V901.7M59.4,888.7h8M59.4,901.7h8M61.2,895.2a2.2,2.2 0 1,0 4.4,0a2.2,2.2 0 1,0 -4.4,0M66.6,872.5V876.8M66.6,881.2V885.5M62.6,872.5h8M62.6,885.5h8M64.4,879.0a2.2,2.2 0 1,0 4.4,0a2.2,2.2 0 1,0 -4.4,0M69.8,867.1V871.4M69.8,875.8V880.1M65.8,867.1h8M65.8,880.1h8M67.6,873.6a2.2,2.2 0 1,0 4.4,0a2.2,2.2 0 1,0 -4.4,0M73.0,863.2V867.5M73.0,871.9V876.2M69.0,863.2h8M69.0,876.2h8M70.8,869.7a2.2,2.2 0 1,0 4.4,0a2.2,2.2 0 1,0 -4.4,0M76.2,855.8V860.1M76.2,864.5V868.8M72.2,855.8h8M72.2,868.8h8M74.0,862.3a2.2,2.2 0 1,0 4.4,0a2.2,2.2 0 1,0 -4.4,0M79.4,866.9V871.2M79.4,875.6V879.9M75.4,866.9h8M75.4,879.9h8M77.2,873.4a2.2,2.2 0 1,0 4.4,0a2.2,2.2 0 1,0 -4.4,0M82.6,854.5V858.8M82.6,863.2V867.5M78.6,854.5h8M78.6,867.5h8M80.4,861.0a2.2,2.2 0 1,0 4.4,0a2.2,2.2 0 1,0 -4.4,0M85.8,862.1V866.4M85.8,870.8V875.1M81.8,862.1h8M81.8,875.1h8M83.6,868.6a2.2,2.2 0 1,0 4.4,0a2.2,2.2 0 1,0 -4.4,0M89.0,869.2V873.5M89.0,877.9V882.2M85.0,869.2h8M85.0,882.2h8M86.8,875.7a2.2,2.2 0 1,0 4.4,0a2.2,2.2 0 1,0 -4.4,0M92.2,876.6V880.9M92.2,885.3V889.6M88.2,876.6h8M88.2,889.6h8M90.0,883.1a2.2,2.2 0 1,0 4.4,0a2.2,2.2 0 1,0 -4.4,0M95.4,873.7V878.0M95.4,882.4V886.7M91.4,873.7h8M91.4,886.7h8M93.2,880.2a2.2,2.2 0 1,0 4.4,0a2.2,2.2 0 1,0 -4.4,0M98.6,872.2V876.5M98.6,880.9V885.2M94.6,872.2h8M94.6,885.2h8M96.4,878.7a2.2,2.2 0 1,0 4.4,0a2.2,2.2 0 1,0 -4.4,0M101.8,862.0V866.3M101.8,870.7V875.0M97.8,862.0h8M97.8,875.0h8M99.6,868.5a2.2,2.2 0 1,0 4.4,0a2.2,2.2 0 1,0 -4.4,0M105.0,854.8V859.1M105.0,863.5V867.8M101.0,854.8h8M101.0,867.8h8M102.8,861.3a2.2,2.2 0 1,0 4.4,0a2.2,2.2 0 1,0 -4.4,0M108.2,861.0V865.3M108.2,869.7V874.0M104.2,861.0h8M104.2,874.0h8M106.0,867.5a2.2,2.2 0 1,0 4.4,0a2.2,2.2 0 1,0 -4.4,0M111.4,857.1V861.4M111.4,865.8V870.1M107.4,857.1h8M107.4,870.1h8M109.2,863.6a2.2,2.2 0 1,0 4.4,0a2.2,2.2 0 1,0 -4.4,0M114.6,853.9V858.2M114.6,862.6V866.9M110.6,853.9h8M110.6,866.9h8M112.4,860.4a2.2,2.2 0 1,0 4.4,0a2.2,2.2 0 1,0 -4.4,0M117.8,853.8V858.1M117.8,862.5V866.8M113.8,853.8h8M113.8,866.8h8M115.6,860.3a2.2,2.2 0 1,0 4.4,0a2.2,2.2 0 1,0 -4.4,0M121.0,857.2V861.5M121.0,865.9V870.2M117.0,857.2h8M117.0,870.2h8M118.8,863.7a2.2,2.2 0 1,0 4.4,0a2.2,2.2 0 1,0 -4.4,0M124.2,850.6V854.9M124.2,859.3V863.6M120.2,850.6h8M120.2,863.6h8M122.0,857.1a2.2,2.2 0 1,0 4.4,0a2.2,2.2 0 1,0 -4.4,0M127.4,857.3V861.6M127.4,866.0V870.3M123.4,857.3h8M123.4,870.3h8M125.2,863.8a2.2,2.2 0 1,0 4.4,0a2.2,2.2 0 1,0 -4.4,0M130.6,860.0V864.3M130.6,868.7V873.0M126.6,860.0h8M126.6,873.0h8M128.4,866.5a2.2,2.2 0 1,0 4.4,0a2.2,2.2 0 1,0 -4.4,0M133.8,870.1V874.4M133.8,878.8V883.1M129.8,870.1h8M129.8,883.1h8M131.6,876.6a2.2,2.2 0 1,0 4.4,0a2.2,2.2 0 1,0 -4.4,0M137.0,870.4V874.7M137.0,879.1V883.4M133.0,870.4h8M133.0,883.4h8M134.8,876.9a2.2,2.2 0 1,0 4.4,0a2.2,2.2 0 1,0 -4.4,0M140.2,877.2V881.5M140.2,885.9V890.2M136.2,877.2h8M136.2,890.2h8M138.0,883.7a2.2,2.2 0 1,0 4.4,0a2.2,2.2 0 1,0 -4.4,0M143.4,859.3V863.6M143.4,868.0V872.3M139.4,859.3h8M139.4,872.3h8M141.2,865.8a2.2,2.2 0 1,0 4.4,0a2.2,2.2 0 1,0 -4.4,0M146.6,860.4V864.7M146.6,869.1V873.4M142.6,860.4h8M142.6,873.4h8M144.4,866.9a2.2,2.2 0 1,0 4.4,0a2.2,2.2 0 1,0 -4.4,0M149.8,865.1V869.4M149.8,873.8V878.1M145.8,865.1h8M145.8,878.1h8M147.6,871.6a2.2,2.2 0 1,0 4.4,0a2.2,2.2 0 1,0 -4.4,0M153.0,856.5V860.8M153.0,865.2V869.5M149.0,856.5h8M149.0,869.5h8M150.8,863.0a2.2,2.2 0 1,0 4.4,0a2.2,2.2 0 1,0 -4.4,0M156.2,853.5V857.8M156.2,862.2V866.5M152.2,853.5h8M152.2,866.5h8M154.0,860.0a2.2,2.2 0 1,0 4.4,0a2.2,2.2 0 1,0 -4.4,0M159.4,861.7V866.0M159.4,870.4V874.7M155.4,861.7h8M155.4,874.7h8M157.2,868.2a2.2,2.2 0 1,0 4.4,0a2.2,2.2 0 1,0 -4.4,0M162.6,850.4V854.7M162.6,859.1V863.4M158.6,850.4h8M158.6,863.4h8M160.4,856.9a2.2,2.2 0 1,0 4.4,0a2.2,2.2 0 1,0 -4.4,0M165.8,844.9V849.2M165.8,853.6V857.9M161.8,844.9h8M161.8,857.9h8M163.6,851.4a2.2,2.2 0 1,0 4.4,0a2.2,2.2 0 1,0 -4.4,0M169.0,842.6V846.9M169.0,851.3V855.6M165.0,842.6h8M165.0,855.6h8M166.8,849.1a2.2,2.2 0 1,0 4.4,0a2.2,2.2 0 1,0 -4.4,0M172.2,849.0V853.3M172.2,857.7V862.0M168.2,849.0h8M168.2,862.0h8M170.0,855.5a2.2,2.2 0 1,0 4.4,0a2.2,2.2 0 1,0 -4.4,0M175.4,847.4V851.7M175.4,856.1V860.4M171.4,847.4h8M171.4,860.4h8M173.2,853.9a2.2,2.2 0 1,0 4.4,0a2.2,2.2 0 1,0 -4.4,0M178.6,837.8V842.1M178.6,846.5V850.8M174.6,837.8h8M174.6,850.8h8M176.4,844.3a2.2,2.2 0 1,0 4.4,0a2.2,2.2 0 1,0 -4.4,0M181.8,838.2V842.5M181.8,846.9V851.2M177.8,838.2h8M177.8,851.2h8M179.6,844.7a2.2,2.2 0 1,0 4.4,0a2.2,2.2 0 1,0 -4.4,0M185.0,843.9V848.2M185.0,852.6V856.9M181.0,843.9h8M181.0,856.9h8M182.8,850.4a2.2,2.2 0 1,0 4.4,0a2.2,2.2 0 1,0 -4.4,0M188.2,842.6V846.9M188.2,851.3V855.6M184.2,842.6h8M184.2,855.6h8M186.0,849.1a2.2,2.2 0 1,0 4.4,0a2.2,2.2 0 1,0 -4.4,0M191.4,835.2V839.5M191.4,843.9V848.2M187.4,835.2h8M187.4,848.2h8M189.2,841.7a2.2,2.2 0 1,0 4.4,0a2.2,2.2 0 1,0 -4.4,0M194.6,839.7V844.0M194.6,848.4V852.7M190.6,839.7h8M190.6,852.7h8M192.4,846.2a2.2,2.2 0 1,0 4.4,0a2.2,2.2 0 1,0 -4.4,0M197.8,837.8V842.1M197.8,846.5V850.8M193.8,837.8h8M193.8,850.8h8M195.6,844.3a2.2,2.2 0 1,0 4.4,0a2.2,2.2 0 1,0 -4.4,0M201.0,824.9V829.2M201.0,833.6V837.9M197.0,824.9h8M197.0,837.9h8M198.8,831.4a2.2,2.2 0 1,0 4.4,0a2.2,2.2 0 1,0 -4.4,0M204.2,830.6V834.9M204.2,839.3V843.6M200.2,830.6h8M200.2,843.6h8M202.0,837.1a2.2,2.2 0 1,0 4.4,0a2.2,2.2 0 1,0 -4.4,0M207.4,832.8V837.1M207.4,841.5V845.8M203.4,832.8h8M203.4,845.8h8M205.2,839.3a2.2,2.2 0 1,0 4.4,0a2.2,2.2 0 1,0 -4.4,0M210.6,826.9V831.2M210.6,835.6V839.9M206.6,826.9h8M206.6,839.9h8M208.4,833.4a2.2,2.2 0 1,0 4.4,0a2.2,2.2 0 1,0 -4.4,0M213.8,818.3V822.6M213.8,827.0V831.3M209.8,818.3h8M209.8,831.3h8M211.6,824.8a2.2,2.2 0 1,0 4.4,0a2.2,2.2 0 1,0 -4.4,0M217.0,826.0V830.3M217.0,834.7V839.0M213.0,826.0h8M213.0,839.0h8M214.8,832.5a2.2,2.2 0 1,0 4.4,0a2.2,2.2 0 1,0 -4.4,0M220.2,829.8V834.1M220.2,838.5V842.8M216.2,829.8h8M216.2,842.8h8M218.0,836.3a2.2,2.2 0 1,0 4.4,0a2.2,2.2 0 1,0 -4.4,0M223.4,832.4V836.7M223.4,841.1V845.4M219.4,832.4h8M219.4,845.4h8M221.2,838.9a2.2,2.2 0 1,0 4.4,0a2.2,2.2 0 1,0 -4.4,0M226.6,813.0V817.3M226.6,821.7V826.0M222.6,813.0h8M222.6,826.0h8M224.4,819.5a2.2,2.2 0 1,0 4.4,0a2.2,2.2 0 1,0 -4.4,0M229.8,834.7V839.0M229.8,843.4V847.7M225.8,834.7h8M225.8,847.7h8M227.6,841.2a2.2,2.2 0 1,0 4.4,0a2.2,2.2 0 1,0 -4.4,0M233.0,815.3V819.6M233.0,824.0V828.3M229.0,815.3h8M229.0,828.3h8M230.8,821.8a2.2,2.2 0 1,0 4.4,0a2.2,2.2 0 1,0 -4.4,0M236.2,823.8V828.1M236.2,832.5V836.8M232.2,823.8h8M232.2,836.8h8M234.0,830.3a2.2,2.2 0 1,0 4.4,0a2.2,2.2 0 1,0 -4.4,0M239.4,823.6V827.9M239.4,832.3V836.6M235.4,823.6h8M235.4,836.6h8M237.2,830.1a2.2,2.2 0 1,0 4.4,0a2.2,2.2 0 1,0 -4.4,0M242.6,820.8V825.1M242.6,829.5V833.8M238.6,820.8h8M238.6,833.8h8M240.4,827.3a2.2,2.2 0 1,0 4.4,0a2.2,2.2 0 1,0 -4.4,0M245.8,815.1V819.4M245.8,823.8V828.1M241.8,815.1h8M241.8,828.1h8M243.6,821.6a2.2,2.2 0 1,0 4.4,0a2.2,2.2 0 1,0 -4.4,0M249.0,806.9V811.2M249.0,815.6V819.9M245.0,806.9h8M245.0,819.9h8M246.8,813.4a2.2,2.2 0 1,0 4.4,0a2.2,2.2 0 1,0 -4.4,0M252.2,813.3V817.6M252.2,822.0V826.3M248.2,813.3h8M248.2,826.3h8M250.0,819.8a2.2,2.2 0 1,0 4.4,0a2.2,2.2 0 1,0 -4.4,0M255.4,804.3V808.6M255.4,813.0V817.3M251.4,804.3h8M251.4,817.3h8M253.2,810.8a2.2,2.2 0 1,0 4.4,0a2.2,2.2 0 1,0 -4.4,0M258.6,792.9V797.2M258.6,801.6V805.9M254.6,792.9h8M254.6,805.9h8M256.4,799.4a2.2,2.2 0 1,0 4.4,0a2.2,2.2 0 1,0 -4.4,0M261.8,815.9V820.2M261.8,824.6V828.9M257.8,815.9h8M257.8,828.9h8M259.6,822.4a2.2,2.2 0 1,0 4.4,0a2.2,2.2 0 1,0 -4.4,0M265.0,803.0V807.3M265.0,811.7V816.0M261.0,803.0h8M261.0,816.0h8M262.8,809.5a2.2,2.2 0 1,0 4.4,0a2.2,2.2 0 1,0 -4.4,0M268.2,805.5V809.8M268.2,814.2V818.5M264.2,805.5h8M264.2,818.5h8M266.0,812.0a2.2,2.2 0 1,0 4.4,0a2.2,2.2 0 1,0 -4.4,0M271.4,789.6V793.9M271.4,798.3V802.6M267.4,789.6h8M267.4,802.6h8M269.2,796.1a2.2,2.2 0 1,0 4.4,0a2.2,2.2 0 1,0 -4.4,0M274.6,798.1V802.4M274.6,806.8V811.1M270.6,798.1h8M270.6,811.1h8M272.4,804.6a2.2,2.2 0 1,0 4.4,0a2.2,2.2 0 1,0 -4.4,0M277.8,795.9V800.2M277.8,804.6V808.9M273.8,795.9h8M273.8,808.9h8M275.6,802.4a2.2,2.2 0 1,0 4.4,0a2.2,2.2 0 1,0 -4.4,0M281.0,793.2V797.5M281.0,801.9V806.2M277.0,793.2h8M277.0,806.2h8M278.8,799.7a2.2,2.2 0 1,0 4.4,0a2.2,2.2 0 1,0 -4.4,0M284.2,783.3V787.6M284.2,792.0V796.3M280.2,783.3h8M280.2,796.3h8M282.0,789.8a2.2,2.2 0 1,0 4.4,0a2.2,2.2 0 1,0 -4.4,0M287.4,775.3V779.6M287.4,784.0V788.3M283.4,775.3h8M283.4,788.3h8M285.2,781.8a2.2,2.2 0 1,0 4.4,0a2.2,2.2 0 1,0 -4.4,0M290.6,778.1V782.4M290.6,786.8V791.1M286.6,778.1h8M286.6,791.1h8M288.4,784.6a2.2,2.2 0 1,0 4.4,0a2.2,2.2 0 1,0 -4.4,0M293.8,766.7V771.0M293.8,775.4V779.7M289.8,766.7h8M289.8,779.7h8M291.6,773.2a2.2,2.2 0 1,0 4.4,0a2.2,2.2 0 1,0 -4.4,0M297.0,767.8V772.1M297.0,776.5V780.8M293.0,767.8h8M293.0,780.8h8M294.8,774.3a2.2,2.2 0 1,0 4.4,0a2.2,2.2 0 1,0 -4.4,0M300.2,775.4V779.7M300.2,784.1V788.4M296.2,775.4h8M296.2,788.4h8M298.0,781.9a2.2,2.2 0 1,0 4.4,0a2.2,2.2 0 1,0 -4.4,0M303.4,769.1V773.4M303.4,777.8V782.1M299.4,769.1h8M299.4,782.1h8M301.2,775.6a2.2,2.2 0 1,0 4.4,0a2.2,2.2 0 1,0 -4.4,0M306.6,772.2V776.5M306.6,780.9V785.2M302.6,772.2h8M302.6,785.2h8M304.4,778.7a2.2,2.2 0 1,0 4.4,0a2.2,2.2 0 1,0 -4.4,0M309.8,771.8V776.1M309.8,780.5V784.8M305.8,771.8h8M305.8,784.8h8M307.6,778.3a2.2,2.2 0 1,0 4.4,0a2.2,2.2 0 1,0 -4.4,0M313.0,781.2V785.5M313.0,789.9V794.2M309.0,781.2h8M309.0,794.2h8M310.8,787.7a2.2,2.2 0 1,0 4.4,0a2.2,2.2 0 1,0 -4.4,0M316.2,778.1V782.4M316.2,786.8V791.1M312.2,778.1h8M312.2,791.1h8M314.0,784.6a2.2,2.2 0 1,0 4.4,0a2.2,2.2 0 1,0 -4.4,0M319.4,771.8V776.1M319.4,780.5V784.8M315.4,771.8h8M315.4,784.8h8M317.2,778.3a2.2,2.2 0 1,0 4.4,0a2.2,2.2 0 1,0 -4.4,0M322.6,778.0V782.3M322.6,786.7V791.0M318.6,778.0h8M318.6,791.0h8M320.4,784.5a2.2,2.2 0 1,0 4.4,0a2.2,2.2 0 1,0 -4.4,0M325.8,768.9V773.2M325.8,777.6V781.9M321.8,768.9h8M321.8,781.9h8M323.6,775.4a2.2,2.2 0 1,0 4.4,0a2.2,2.2 0 1,0 -4.4,0M329.0,771.6V775.9M329.0,780.3V784.6M325.0,771.6h8M325.0,784.6h8M326.8,778.1a2.2,2.2 0 1,0 4.4,0a2.2,2.2 0 1,0 -4.4,0M332.2,778.3V782.6M332.2,787.0V791.3M328.2,778.3h8M328.2,791.3h8M330.0,784.8a2.2,2.2 0 1,0 4.4,0a2.2,2.2 0 1,0 -4.4,0M335.4,768.9V773.2M335.4,777.6V781.9M331.4,768.9h8M331.4,781.9h8M333.2,775.4a2.2,2.2 0 1,0 4.4,0a2.2,2.2 0 1,0 -4.4,0M338.6,774.6V778.9M338.6,783.3V787.6M334.6,774.6h8M334.6,787.6h8M336.4,781.1a2.2,2.2 0 1,0 4.4,0a2.2,2.2 0 1,0 -4.4,0M341.8,771.0V775.3M341.8,779.7V784.0M337.8,771.0h8M337.8,784.0h8M339.6,777.5a2.2,2.2 0 1,0 4.4,0a2.2,2.2 0 1,0 -4.4,0M345.0,780.1V784.4M345.0,788.8V793.1M341.0,780.1h8M341.0,793.1h8M342.8,786.6a2.2,2.2 0 1,0 4.4,0a2.2,2.2 0 1,0 -4.4,0M348.2,790.0V794.3M348.2,798.7V803.0M344.2,790.0h8M344.2,803.0h8M346.0,796.5a2.2,2.2 0 1,0 4.4,0a2.2,2.2 0 1,0 -4.4,0M351.4,781.5V785.8M351.4,790.2V794.5M347.4,781.5h8M347.4,794.5h8M349.2,788.0a2.2,2.2 0 1,0 4.4,0a2.2,2.2 0 1,0 -4.4,0M354.6,789.6V793.9M354.6,798.3V802.6M350.6,789.6h8M350.6,802.6h8M352.4,796.1a2.2,2.2 0 1,0 4.4,0a2.2,2.2 0 1,0 -4.4,0M357.8,787.9V792.2M357.8,796.6V800.9M353.8,787.9h8M353.8,800.9h8M355.6,794.4a2.2,2.2 0 1,0 4.4,0a2.2,2.2 0 1,0 -4.4,0M361.0,790.3V794.6M361.0,799.0V803.3M357.0,790.3h8M357.0,803.3h8M358.8,796.8a2.2,2.2 0 1,0 4.4,0a2.2,2.2 0 1,0 -4.4,0M364.2,793.2V797.5M364.2,801.9V806.2M360.2,793.2h8M360.2,806.2h8M362.0,799.7a2.2,2.2 0 1,0 4.4,0a2.2,2.2 0 1,0 -4.4,0M367.4,809.3V813.6M367.4,818.0V822.3M363.4,809.3h8M363.4,822.3h8M365.2,815.8a2.2,2.2 0 1,0 4.4,0a2.2,2.2 0 1,0 -4.4,0M370.6,816.5V820.8M370.6,825.2V829.5M366.6,816.5h8M366.6,829.5h8M368.4,823.0a2.2,2.2 0 1,0 4.4,0a2.2,2.2 0 1,0 -4.4,0M373.8,810.3V814.6M373.8,819.0V823.3M369.8,810.3h8M369.8,823.3h8M371.6,816.8a2.2,2.2 0 1,0 4.4,0a2.2,2.2 0 1,0 -4.4,0M377.0,807.4V811.7M377.0,816.1V820.4M373.0,807.4h8M373.0,820.4h8M374.8,813.9a2.2,2.2 0 1,0 4.4,0a2.2,2.2 0 1,0 -4.4,0M380.2,817.1V821.4M380.2,825.8V830.1M376.2,817.1h8M376.2,830.1h8M378.0,823.6a2.2,2.2 0 1,0 4.4,0a2.2,2.2 0 1,0 -4.4,0M383.4,815.0V819.3M383.4,823.7V828.0M379.4,815.0h8M379.4,828.0h8M381.2,821.5a2.2,2.2 0 1,0 4.4,0a2.2,2.2 0 1,0 -4.4,0M386.6,823.3V827.6M386.6,832.0V836.3M382.6,823.3h8M382.6,836.3h8M384.4,829.8a2.2,2.2 0 1,0 4.4,0a2.2,2.2 0 1,0 -4.4,0M389.8,823.8V828.1M389.8,832.5V836.8M385.8,823.8h8M385.8,836.8h8M387.6,830.3a2.2,2.2 0 1,0 4.4,0a2.2,2.2 0 1,0 -4.4,0M393.0,826.7V831.0M393.0,835.4V839.7M389.0,826.7h8M389.0,839.7h8M390.8,833.2a2.2,2.2 0 1,0 4.4,0a2.2,2.2 0 1,0 -4.4,0M396.2,831.1V835.4M396.2,839.8V844.1M392.2,831.1h8M392.2,844.1h8M394.0,837.6a2.2,2.2 0 1,0 4.4,0a2.2,2.2 0 1,0 -4.4,0M399.4,828.3V832.6M399.4,837.0V841.3M395.4,828.3h8M395.4,841.3h8M397.2,834.8a2.2,2.2 0 1,0 4.4,0a2.2,2.2 0 1,0 -4.4,0M402.6,832.0V836.3M402.6,840.7V845.0M398.6,832.0h8M398.6,845.0h8M400.4,838.5a2.2,2.2 0 1,0 4.4,0a2.2,2.2 0 1,0 -4.4,0M405.8,828.6V832.9M405.8,837.3V841.6M401.8,828.6h8M401.8,841.6h8M403.6,835.1a2.2,2.2 0 1,0 4.4,0a2.2,2.2 0 1,0 -4.4,0M409.0,837.7V842.0M409.0,846.4V850.7M405.0,837.7h8M405.0,850.7h8M406.8,844.2a2.2,2.2 0 1,0 4.4,0a2.2,2.2 0 1,0 -4.4,0M412.2,835.8V840.1M412.2,844.5V848.8M408.2,835.8h8M408.2,848.8h8M410.0,842.3a2.2,2.2 0 1,0 4.4,0a2.2,2.2 0 1,0 -4.4,0M415.4,844.4V848.7M415.4,853.1V857.4M411.4,844.4h8M411.4,857.4h8M413.2,850.9a2.2,2.2 0 1,0 4.4,0a2.2,2.2 0 1,0 -4.4,0M418.6,842.7V847.0M418.6,851.4V855.7M414.6,842.7h8M414.6,855.7h8M416.4,849.2a2.2,2.2 0 1,0 4.4,0a2.2,2.2 0 1,0 -4.4,0M421.8,849.0V853.3M421.8,857.7V862.0M417.8,849.0h8M417.8,862.0h8M419.6,855.5a2.2,2.2 0 1,0 4.4,0a2.2,2.2 0 1,0 -4.4,0M425.0,851.0V855.3M425.0,859.7V864.0M421.0,851.0h8M421.0,864.0h8M422.8,857.5a2.2,2.2 0 1,0 4.4,0a2.2,2.2 0 1,0 -4.4,0M428.2,842.2V846.5M428.2,850.9V855.2M424.2,842.2h8M424.2,855.2h8M426.0,848.7a2.2,2.2 0 1,0 4.4,0a2.2,2.2 0 1,0 -4.4,0M431.4,845.1V849.4M431.4,853.8V858.1M427.4,845.1h8M427.4,858.1h8M429.2,851.6a2.2,2.2 0 1,0 4.4,0a2.2,2.2 0 1,0 -4.4,0M434.6,844.4V848.7M434.6,853.1V857.4M430.6,844.4h8M430.6,857.4h8M432.4,850.9a2.2,2.2 0 1,0 4.4,0a2.2,2.2 0 1,0 -4.4,0M437.8,852.3V856.6M437.8,861.0V865.3M433.8,852.3h8M433.8,865.3h8M435.6,858.8a2.2,2.2 0 1,0 4.4,0a2.2,2.2 0 1,0 -4.4,0M441.0,857.2V861.5M441.0,865.9V870.2M437.0,857.2h8M437.0,870.2h8M438.8,863.7a2.2,2.2 0 1,0 4.4,0a2.2,2.2 0 1,0 -4.4,0M444.2,854.2V858.5M444.2,862.9V867.2M440.2,854.2h8M440.2,867.2h8M442.0,860.7a2.2,2.2 0 1,0 4.4,0a2.2,2.2 0 1,0 -4.4,0M447.4,849.7V854.0M447.4,858.4V862.7M443.4,849.7h8M443.4,862.7h8M445.2,856.2a2.2,2.2 0 1,0 4.4,0a2.2,2.2 0 1,0 -4.4,0M450.6,859.5V863.8M450.6,868.2V872.5M446.6,859.5h8M446.6,872.5h8M448.4,866.0a2.2,2.2 0 1,0 4.4,0a2.2,2.2 0 1,0 -4.4,0M453.8,846.2V850.5M453.8,854.9V859.2M449.8,846.2h8M449.8,859.2h8M451.6,852.7a2.2,2.2 0 1,0 4.4,0a2.2,2.2 0 1,0 -4.4,0M457.0,861.5V865.8M457.0,870.2V874.5M453.0,861.5h8M453.0,874.5h8M454.8,868.0a2.2,2.2 0 1,0 4.4,0a2.2,2.2 0 1,0 -4.4,0M460.2,852.0V856.3M460.2,860.7V865.0M456.2,852.0h8M456.2,865.0h8M458.0,858.5a2.2,2.2 0 1,0 4.4,0a2.2,2.2 0 1,0 -4.4,0M463.4,842.6V846.9M463.4,851.3V855.6M459.4,842.6h8M459.4,855.6h8M461.2,849.1a2.2,2.2 0 1,0 4.4,0a2.2,2.2 0 1,0 -4.4,0M466.6,870.3V874.6M466.6,879.0V883.3M462.6,870.3h8M462.6,883.3h8M464.4,876.8a2.2,2.2 0 1,0 4.4,0a2.2,2.2 0 1,0 -4.4,0M469.8,867.8V872.1M469.8,876.5V880.8M465.8,867.8h8M465.8,880.8h8M467.6,874.3a2.2,2.2 0 1,0 4.4,0a2.2,2.2 0 1,0 -4.4,0M473.0,857.7V862.0M473.0,866.4V870.7M469.0,857.7h8M469.0,870.7h8M470.8,864.2a2.2,2.2 0 1,0 4.4,0a2.2,2.2 0 1,0 -4.4,0M476.2,865.8V870.1M476.2,874.5V878.8M472.2,865.8h8M472.2,878.8h8M474.0,872.3a2.2,2.2 0 1,0 4.4,0a2.2,2.2 0 1,0 -4.4,0M479.4,866.3V870.6M479.4,875.0V879.3M475.4,866.3h8M475.4,879.3h8M477.2,872.8a2.2,2.2 0 1,0 4.4,0a2.2,2.2 0 1,0 -4.4,0M482.6,868.6V872.9M482.6,877.3V881.6M478.6,868.6h8M478.6,881.6h8M480.4,875.1a2.2,2.2 0 1,0 4.4,0a2.2,2.2 0 1,0 -4.4,0M485.8,861.5V865.8M485.8,870.2V874.5M481.8,861.5h8M481.8,874.5h8M483.6,868.0a2.2,2.2 0 1,0 4.4,0a2.2,2.2 0 1,0 -4.4,0M489.0,865.8V870.1M489.0,874.5V878.8M485.0,865.8h8M485.0,878.8h8M486.8,872.3a2.2,2.2 0 1,0 4.4,0a2.2,2.2 0 1,0 -4.4,0M492.2,871.7V876.0M492.2,880.4V884.7M488.2,871.7h8M488.2,884.7h8M490.0,878.2a2.2,2.2 0 1,0 4.4,0a2.2,2.2 0 1,0 -4.4,0M495.4,870.9V875.2M495.4,879.6V883.9M491.4,870.9h8M491.4,883.9h8M493.2,877.4a2.2,2.2 0 1,0 4.4,0a2.2,2.2 0 1,0 -4.4,0M498.6,876.0V880.3M498.6,884.7V889.0M494.6,876.0h8M494.6,889.0h8M496.4,882.5a2.2,2.2 0 1,0 4.4,0a2.2,2.2 0 1,0 -4.4,0M501.8,870.9V875.2M501.8,879.6V883.9M497.8,870.9h8M497.8,883.9h8M499.6,877.4a2.2,2.2 0 1,0 4.4,0a2.2,2.2 0 1,0 -4.4,0M505.0,882.1V886.4M505.0,890.8V895.1M501.0,882.1h8M501.0,895.1h8M502.8,888.6a2.2,2.2 0 1,0 4.4,0a2.2,2.2 0 1,0 -4.4,0M508.2,867.7V872.0M508.2,876.4V880.7M504.2,867.7h8M504.2,880.7h8M506.0,874.2a2.2,2.2 0 1,0 4.4,0a2.2,2.2 0 1,0 -4.4,0M511.4,872.5V876.8M511.4,881.2V885.5M507.4,872.5h8M507.4,885.5h8M509.2,879.0a2.2,2.2 0 1,0 4.4,0a2.2,2.2 0 1,0 -4.4,0M514.6,862.3V866.6M514.6,871.0V875.3M510.6,862.3h8M510.6,875.3h8M512.4,868.8a2.2,2.2 0 1,0 4.4,0a2.2,2.2 0 1,0 -4.4,0M517.8,863.0V867.3M517.8,871.7V876.0M513.8,863.0h8M513.8,876.0h8M515.6,869.5a2.2,2.2 0 1,0 4.4,0a2.2,2.2 0 1,0 -4.4,0M521.0,872.6V876.9M521.0,881.3V885.6M517.0,872.6h8M517.0,885.6h8M518.8,879.1a2.2,2.2 0 1,0 4.4,0a2.2,2.2 0 1,0 -4.4,0M524.2,858.8V863.1M524.2,867.5V871.8M520.2,858.8h8M520.2,871.8h8M522.0,865.3a2.2,2.2 0 1,0 4.4,0a2.2,2.2 0 1,0 -4.4,0M527.4,863.1V867.4M527.4,871.8V876.1M523.4,863.1h8M523.4,876.1h8M525.2,869.6a2.2,2.2 0 1,0 4.4,0a2.2,2.2 0 1,0 -4.4,0M530.6,859.8V864.1M530.6,868.5V872.8M526.6,859.8h8M526.6,872.8h8M528.4,866.3a2.2,2.2 0 1,0 4.4,0a2.2,2.2 0 1,0 -4.4,0M533.8,855.2V859.5M533.8,863.9V868.2M529.8,855.2h8M529.8,868.2h8M531.6,861.7a2.2,2.2 0 1,0 4.4,0a2.2,2.2 0 1,0 -4.4,0M537.0,858.6V862.9M537.0,867.3V871.6M533.0,858.6h8M533.0,871.6h8M534.8,865.1a2.2,2.2 0 1,0 4.4,0a2.2,2.2 0 1,0 -4.4,0M540.2,857.8V862.1M540.2,866.5V870.8M536.2,857.8h8M536.2,870.8h8M538.0,864.3a2.2,2.2 0 1,0 4.4,0a2.2,2.2 0 1,0 -4.4,0M543.4,858.0V862.3M543.4,866.7V871.0M539.4,858.0h8M539.4,871.0h8M541.2,864.5a2.2,2.2 0 1,0 4.4,0a2.2,2.2 0 1,0 -4.4,0M546.6,864.0V868.3M546.6,872.7V877.0M542.6,864.0h8M542.6,877.0h8M544.4,870.5a2.2,2.2 0 1,0 4.4,0a2.2,2.2 0 1,0 -4.4,0" fill="none" stroke="#0f32e0" stroke-width="1.45"/>
<path d="M58.3,760.5 L58.8,760.5 L59.3,760.5 L59.8,760.5 L60.3,760.5 L60.8,760.5 L61.3,760.5 L61.8,760.5 L62.3,760.5 L62.8,760.5 L63.3,760.5 L63.8,760.5 L64.3,760.5 L64.8,760.5 L65.3,760.5 L65.8,760.5 L66.3,760.5 L66.8,760.5 L67.3,760.5 L67.8,760.5 L68.3,760.5 L68.8,760.5 L69.3,760.5 L69.8,760.5 L70.3,760.5 L70.8,760.5 L71.3,760.5 L71.8,760.5 L72.3,760.5 L72.8,760.5 L73.3,760.5 L73.8,760.5 L74.3,760.5 L74.8,760.5 L75.3,760.5 L75.8,760.5 L76.3,760.5 L76.8,760.5 L77.3,760.5 L77.8,760.5 L78.3,760.5 L78.8,760.5 L79.3,760.5 L79.8,760.5 L80.3,760.5 L80.8,760.5 L81.3,760.5 L81.8,760.5 L82.3,760.5 L82.8,760.5 L83.3,760.5 L83.8,760.5 L84.3,760.5 L84.8,760.5 L85.3,760.5 L85.8,760.5 L86.3,760.5 L86.8,760.5 L87.3,760.5 L87.8,760.5 L88.3,760.5 L88.8,760.5 L89.3,760.5 L89.8,760.5 L90.3,760.5 L90.8,760.5 L91.3,760.5 L91.8,760.5 L92.3,760.5 L92.8,760.5 L93.3,760.5 L93.8,760.5 L94.3,760.5 L94.8,760.5 L95.3,760.5 L95.8,760.5 L96.3,760.5 L96.8,760.5 L97.3,760.5 L97.8,760.5 L98.3,760.5 L98.8,760.5 L99.3,760.5 L99.8,760.5 L100.3,760.5 L100.8,760.5 L101.3,760.5 L101.8,760.5 L102.3,760.5 L102.8,760.5 L103.3,760.5 L103.8,760.5 L104.3,760.5 L104.8,760.5 L105.3,760.5 L105.8,760.5 L106.3,760.5 L106.8,760.5 L107.3,760.5 L107.8,760.5 L108.3,760.5 L108.8,760.5 L109.3,760.5 L109.8,760.5 L110.3,760.5 L110.8,760.5 L111.3,760.5 L111.8,760.5 L112.3,760.5 L112.8,760.5 L113.3,760.5 L113.8,760.5 L114.3,760.5 L114.8,760.5 L115.3,760.5 L115.8,760.5 L116.3,760.5 L116.8,760.5 L117.3,760.5 L117.8,760.5 L118.3,760.5 L118.8,760.5 L119.3,760.5 L119.8,760.5 L120.3,760.5 L120.8,760.5 L121.3,760.5 L121.8,760.5 L122.3,760.5 L122.8,760.5 L123.3,760.5 L123.8,760.5 L124.3,760.5 L124.8,760.5 L125.3,760.5 L125.8,760.5 L126.3,760.5 L126.8,760.5 L127.3,760.5 L127.8,760.5 L128.3,760.5 L128.8,760.5 L129.3,760.5 L129.8,760.5 L130.3,760.5 L130.8,760.5 L131.3,760.5 L131.8,760.5 L132.3,760.5 L132.8,760.5 L133.3,760.5 L133.8,760.5 L134.3,760.5 L134.8,760.5 L135.3,760.5 L135.8,760.5 L136.3,760.5 L136.8,760.5 L137.3,760.5 L137.8,760.5 L138.3,760.5 L138.8,760.5 L139.3,760.5 L139.8,760.5 L140.3,760.5 L140.8,760.5 L141.3,760.5 L141.8,760.5 L142.3,760.5 L142.8,760.5 L143.3,760.5 L143.8,760.5 L144.3,760.5 L144.8,760.5 L145.3,760.5 L145.8,760.5 L146.3,760.5 L146.8,760.5 L147.3,760.5 L147.8,760.5 L148.3,760.5 L148.8,760.5 L149.3,760.5 L149.8,760.5 L150.3,760.5 L150.8,760.5 L151.3,760.5 L151.8,760.5 L152.3,760.5 L152.8,760.5 L153.3,760.5 L153.8,760.5 L154.3,760.5 L154.8,760.5 L155.3,760.5 L155.8,760.5 L156.3,760.5 L156.8,760.5 L157.3,760.5 L157.8,760.4 L158.3,760.4 L158.8,760.4 L159.3,760.4 L159.8,760.4 L160.3,760.4 L160.8,760.4 L161.3,760.4 L161.8,760.4 L162.3,760.4 L162.8,760.4 L163.3,760.3 L163.8,760.3 L164.3,760.3 L164.8,760.3 L165.3,760.3 L165.8,760.3 L166.3,760.3 L166.8,760.3 L167.3,760.2 L167.8,760.2 L168.3,760.2 L168.8,760.2 L169.3,760.2 L169.8,760.2 L170.3,760.2 L170.8,760.1 L171.3,760.1 L171.8,760.1 L172.3,760.1 L172.8,760.1 L173.3,760.1 L173.8,760.0 L174.3,760.0 L174.8,760.0 L175.3,760.0 L175.8,760.0 L176.3,760.0 L176.8,759.9 L177.3,759.9 L177.8,759.9 L178.3,759.9 L178.8,759.9 L179.3,759.8 L179.8,759.8 L180.3,759.8 L180.8,759.8 L181.3,759.8 L181.8,759.8 L182.3,759.7 L182.8,759.7 L183.3,759.7 L183.8,759.7 L184.3,759.7 L184.8,759.6 L185.3,759.6 L185.8,759.6 L186.3,759.6 L186.8,759.5 L187.3,759.5 L187.8,759.5 L188.3,759.5 L188.8,759.5 L189.3,759.4 L189.8,759.4 L190.3,759.4 L190.8,759.4 L191.3,759.4 L191.8,759.3 L192.3,759.3 L192.8,759.3 L193.3,759.3 L193.8,759.3 L194.3,759.2 L194.8,759.2 L195.3,759.2 L195.8,759.2 L196.3,759.2 L196.8,759.1 L197.3,759.1 L197.8,759.1 L198.3,759.1 L198.8,759.0 L199.3,759.0 L199.8,759.0 L200.3,759.0 L200.8,759.0 L201.3,758.9 L201.8,758.9 L202.3,758.9 L202.8,758.9 L203.3,758.9 L203.8,758.8 L204.3,758.8 L204.8,758.8 L205.3,758.8 L205.8,758.8 L206.3,758.7 L206.8,758.7 L207.3,758.7 L207.8,758.7 L208.3,758.6 L208.8,758.6 L209.3,758.6 L209.8,758.6 L210.3,758.5 L210.8,758.5 L211.3,758.5 L211.8,758.5 L212.3,758.4 L212.8,758.4 L213.3,758.4 L213.8,758.3 L214.3,758.3 L214.8,758.3 L215.3,758.2 L215.8,758.2 L216.3,758.1 L216.8,758.1 L217.3,758.1 L217.8,758.0 L218.3,758.0 L218.8,757.9 L219.3,757.9 L219.8,757.8 L220.3,757.8 L220.8,757.7 L221.3,757.6 L221.8,757.6 L222.3,757.5 L222.8,757.4 L223.3,757.3 L223.8,757.2 L224.3,757.2 L224.8,757.1 L225.3,757.0 L225.8,756.9 L226.3,756.8 L226.8,756.7 L227.3,756.6 L227.8,756.4 L228.3,756.3 L228.8,756.2 L229.3,756.1 L229.8,756.0 L230.3,755.9 L230.8,755.8 L231.3,755.6 L231.8,755.5 L232.3,755.4 L232.8,755.3 L233.3,755.2 L233.8,755.0 L234.3,754.9 L234.8,754.8 L235.3,754.7 L235.8,754.5 L236.3,754.4 L236.8,754.3 L237.3,754.1 L237.8,754.0 L238.3,753.9 L238.8,753.7 L239.3,753.5 L239.8,753.4 L240.3,753.2 L240.8,753.1 L241.3,752.9 L241.8,752.7 L242.3,752.5 L242.8,752.4 L243.3,752.2 L243.8,752.0 L244.3,751.8 L244.8,751.6 L245.3,751.4 L245.8,751.2 L246.3,751.1 L246.8,750.9 L247.3,750.7 L247.8,750.5 L248.3,750.3 L248.8,750.1 L249.3,749.9 L249.8,749.7 L250.3,749.5 L250.8,749.4 L251.3,749.2 L251.8,749.0 L252.3,748.8 L252.8,748.6 L253.3,748.5 L253.8,748.3 L254.3,748.1 L254.8,748.0 L255.3,747.8 L255.8,747.7 L256.3,747.5 L256.8,747.4 L257.3,747.2 L257.8,747.1 L258.3,746.9 L258.8,746.8 L259.3,746.7 L259.8,746.5 L260.3,746.4 L260.8,746.2 L261.3,746.1 L261.8,745.9 L262.3,745.7 L262.8,745.6 L263.3,745.4 L263.8,745.2 L264.3,745.0 L264.8,744.8 L265.3,744.6 L265.8,744.3 L266.3,744.1 L266.8,743.9 L267.3,743.6 L267.8,743.4 L268.3,743.2 L268.8,742.9 L269.3,742.6 L269.8,742.4 L270.3,742.1 L270.8,741.8 L271.3,741.5 L271.8,741.3 L272.3,741.0 L272.8,740.7 L273.3,740.4 L273.8,740.1 L274.3,739.8 L274.8,739.5 L275.3,739.1 L275.8,738.8 L276.3,738.5 L276.8,738.1 L277.3,737.8 L277.8,737.4 L278.3,737.1 L278.8,736.7 L279.3,736.3 L279.8,735.9 L280.3,735.5 L280.8,735.1 L281.3,734.7 L281.8,734.3 L282.3,733.9 L282.8,733.5 L283.3,733.0 L283.8,732.6 L284.3,732.1 L284.8,731.6 L285.3,731.1 L285.8,730.6 L286.3,730.1 L286.8,729.6 L287.3,729.1 L287.8,728.6 L288.3,728.0 L288.8,727.5 L289.3,727.0 L289.8,726.4 L290.3,725.8 L290.8,725.3 L291.3,724.7 L291.8,724.1 L292.3,723.6 L292.8,723.0 L293.3,722.3 L293.8,721.7 L294.3,721.1 L294.8,720.5 L295.3,719.8 L295.8,719.2 L296.3,718.5 L296.8,717.9 L297.3,717.2 L297.8,716.5 L298.3,715.8 L298.8,715.2 L299.3,714.5 L299.8,713.8 L300.3,713.1 L300.8,712.3 L301.3,711.6 L301.8,710.8 L302.3,710.0 L302.8,709.1 L303.3,708.3 L303.8,707.5 L304.3,706.6 L304.8,705.8 L305.3,704.9 L305.8,704.1 L306.3,703.3 L306.8,702.6 L307.3,701.8 L307.8,701.1 L308.3,700.5 L308.8,699.8 L309.3,699.3 L309.8,698.7 L310.3,698.2 L310.8,697.7 L311.3,697.2 L311.8,696.7 L312.3,696.2 L312.8,695.8 L313.3,695.3 L313.8,694.9 L314.3,694.5 L314.8,694.0 L315.3,693.6 L315.8,693.2 L316.3,692.9 L316.8,692.5 L317.3,692.1 L317.8,691.7 L318.3,691.4 L318.8,691.0 L319.3,690.6 L319.8,690.3 L320.3,689.9 L320.8,689.6 L321.3,689.2 L321.8,688.9 L322.3,688.6 L322.8,688.3 L323.3,687.9 L323.8,687.6 L324.3,687.3 L324.8,687.1 L325.3,686.8 L325.8,686.5 L326.3,686.2 L326.8,686.0 L327.3,685.8 L327.8,685.5 L328.3,685.3 L328.8,685.0 L329.3,684.8 L329.8,684.6 L330.3,684.4 L330.8,684.2 L331.3,684.0 L331.8,683.8 L332.3,683.6 L332.8,683.4 L333.3,683.2 L333.8,683.1 L334.3,683.0 L334.8,682.8 L335.3,682.7 L335.8,682.6 L336.3,682.5 L336.8,682.4 L337.3,682.3 L337.8,682.3 L338.3,682.2 L338.8,682.1 L339.3,682.0 L339.8,681.9 L340.3,681.9 L340.8,681.8 L341.3,681.7 L341.8,681.7 L342.3,681.7 L342.8,681.6 L343.3,681.6 L343.8,681.6 L344.3,681.6 L344.8,681.6 L345.3,681.7 L345.8,681.8 L346.3,681.8 L346.8,682.0 L347.3,682.1 L347.8,682.2 L348.3,682.4 L348.8,682.5 L349.3,682.7 L349.8,682.9 L350.3,683.1 L350.8,683.3 L351.3,683.5 L351.8,683.8 L352.3,684.0 L352.8,684.2 L353.3,684.5 L353.8,684.7 L354.3,685.0 L354.8,685.2 L355.3,685.5 L355.8,685.8 L356.3,686.2 L356.8,686.5 L357.3,686.9 L357.8,687.4 L358.3,687.8 L358.8,688.3 L359.3,688.7 L359.8,689.2 L360.3,689.7 L360.8,690.2 L361.3,690.8 L361.8,691.3 L362.3,691.8 L362.8,692.3 L363.3,692.8 L363.8,693.3 L364.3,693.8 L364.8,694.4 L365.3,694.9 L365.8,695.5 L366.3,696.1 L366.8,696.7 L367.3,697.3 L367.8,697.9 L368.3,698.5 L368.8,699.1 L369.3,699.7 L369.8,700.3 L370.3,700.9 L370.8,701.5 L371.3,702.1 L371.8,702.6 L372.3,703.2 L372.8,703.7 L373.3,704.2 L373.8,704.8 L374.3,705.3 L374.8,705.8 L375.3,706.4 L375.8,706.9 L376.3,707.4 L376.8,707.9 L377.3,708.4 L377.8,708.9 L378.3,709.4 L378.8,709.9 L379.3,710.4 L379.8,710.8 L380.3,711.3 L380.8,711.8 L381.3,712.2 L381.8,712.7 L382.3,713.1 L382.8,713.6 L383.3,714.0 L383.8,714.4 L384.3,714.8 L384.8,715.2 L385.3,715.6 L385.8,716.0 L386.3,716.4 L386.8,716.8 L387.3,717.2 L387.8,717.6 L388.3,718.0 L388.8,718.4 L389.3,718.8 L389.8,719.2 L390.3,719.6 L390.8,720.0 L391.3,720.4 L391.8,720.8 L392.3,721.1 L392.8,721.5 L393.3,721.9 L393.8,722.3 L394.3,722.7 L394.8,723.0 L395.3,723.4 L395.8,723.8 L396.3,724.2 L396.8,724.5 L397.3,724.9 L397.8,725.3 L398.3,725.7 L398.8,726.1 L399.3,726.5 L399.8,726.9 L400.3,727.4 L400.8,727.8 L401.3,728.2 L401.8,728.7 L402.3,729.1 L402.8,729.6 L403.3,730.1 L403.8,730.6 L404.3,731.1 L404.8,731.5 L405.3,732.0 L405.8,732.5 L406.3,733.0 L406.8,733.6 L407.3,734.1 L407.8,734.6 L408.3,735.1 L408.8,735.6 L409.3,736.1 L409.8,736.6 L410.3,737.1 L410.8,737.5 L411.3,738.0 L411.8,738.5 L412.3,739.0 L412.8,739.4 L413.3,739.9 L413.8,740.3 L414.3,740.8 L414.8,741.2 L415.3,741.6 L415.8,742.0 L416.3,742.4 L416.8,742.7 L417.3,743.1 L417.8,743.5 L418.3,743.8 L418.8,744.2 L419.3,744.6 L419.8,744.9 L420.3,745.3 L420.8,745.7 L421.3,746.0 L421.8,746.4 L422.3,746.7 L422.8,747.1 L423.3,747.4 L423.8,747.7 L424.3,748.1 L424.8,748.4 L425.3,748.7 L425.8,749.1 L426.3,749.4 L426.8,749.7 L427.3,750.0 L427.8,750.3 L428.3,750.6 L428.8,750.9 L429.3,751.2 L429.8,751.4 L430.3,751.7 L430.8,752.0 L431.3,752.2 L431.8,752.5 L432.3,752.7 L432.8,752.9 L433.3,753.2 L433.8,753.4 L434.3,753.6 L434.8,753.8 L435.3,754.0 L435.8,754.1 L436.3,754.3 L436.8,754.5 L437.3,754.6 L437.8,754.8 L438.3,755.0 L438.8,755.1 L439.3,755.3 L439.8,755.4 L440.3,755.6 L440.8,755.7 L441.3,755.9 L441.8,756.0 L442.3,756.2 L442.8,756.3 L443.3,756.5 L443.8,756.6 L444.3,756.7 L444.8,756.8 L445.3,757.0 L445.8,757.1 L446.3,757.2 L446.8,757.3 L447.3,757.4 L447.8,757.5 L448.3,757.7 L448.8,757.8 L449.3,757.9 L449.8,757.9 L450.3,758.0 L450.8,758.1 L451.3,758.2 L451.8,758.3 L452.3,758.4 L452.8,758.4 L453.3,758.5 L453.8,758.6 L454.3,758.6 L454.8,758.7 L455.3,758.7 L455.8,758.8 L456.3,758.8 L456.8,758.9 L457.3,758.9 L457.8,759.0 L458.3,759.0 L458.8,759.1 L459.3,759.1 L459.8,759.2 L460.3,759.2 L460.8,759.3 L461.3,759.3 L461.8,759.4 L462.3,759.4 L462.8,759.5 L463.3,759.5 L463.8,759.5 L464.3,759.6 L464.8,759.6 L465.3,759.6 L465.8,759.7 L466.3,759.7 L466.8,759.7 L467.3,759.8 L467.8,759.8 L468.3,759.8 L468.8,759.9 L469.3,759.9 L469.8,759.9 L470.3,759.9 L470.8,759.9 L471.3,760.0 L471.8,760.0 L472.3,760.0 L472.8,760.0 L473.3,760.0 L473.8,760.0 L474.3,760.0 L474.8,760.0 L475.3,760.0 L475.8,760.0 L476.3,760.0 L476.8,760.0 L477.3,760.0 L477.8,760.0 L478.3,760.0 L478.8,760.0 L479.3,760.0 L479.8,760.0 L480.3,760.0 L480.8,760.0 L481.3,760.0 L481.8,760.0 L482.3,760.0 L482.8,760.1 L483.3,760.1 L483.8,760.1 L484.3,760.1 L484.8,760.1 L485.3,760.1 L485.8,760.1 L486.3,760.1 L486.8,760.1 L487.3,760.1 L487.8,760.1 L488.3,760.1 L488.8,760.1 L489.3,760.1 L489.8,760.1 L490.3,760.1 L490.8,760.1 L491.3,760.1 L491.8,760.1 L492.3,760.1 L492.8,760.1 L493.3,760.1 L493.8,760.1 L494.3,760.1 L494.8,760.1 L495.3,760.1 L495.8,760.1 L496.3,760.1 L496.8,760.1 L497.3,760.1 L497.8,760.1 L498.3,760.1 L498.8,760.1 L499.3,760.1 L499.8,760.1 L500.3,760.1 L500.8,760.1 L501.3,760.1 L501.8,760.1 L502.3,760.1 L502.8,760.1 L503.3,760.1 L503.8,760.1 L504.3,760.1 L504.8,760.1 L505.3,760.1 L505.8,760.1 L506.3,760.1 L506.8,760.1 L507.3,760.1 L507.8,760.2 L508.3,760.2 L508.8,760.2 L509.3,760.2 L509.8,760.2 L510.3,760.2 L510.8,760.2 L511.3,760.2 L511.8,760.2 L512.3,760.2 L512.8,760.2 L513.3,760.2 L513.8,760.2 L514.3,760.2 L514.8,760.2 L515.3,760.2 L515.8,760.2 L516.3,760.2 L516.8,760.2 L517.3,760.2 L517.8,760.2 L518.3,760.2 L518.8,760.2 L519.3,760.2 L519.8,760.2 L520.3,760.2 L520.8,760.2 L521.3,760.2 L521.8,760.2 L522.3,760.2 L522.8,760.2 L523.3,760.2 L523.8,760.2 L524.3,760.2 L524.8,760.2 L525.3,760.2 L525.8,760.2 L526.3,760.2 L526.8,760.2 L527.3,760.2 L527.8,760.2 L528.3,760.2 L528.8,760.2 L529.3,760.2 L529.8,760.2 L530.3,760.2 L530.8,760.2 L531.3,760.2 L531.8,760.2 L532.3,760.2 L532.8,760.2 L533.3,760.2 L533.8,760.2 L534.3,760.2 L534.8,760.2 L535.3,760.2 L535.8,760.2 L536.3,760.2 L536.8,760.2 L537.3,760.2 L537.8,760.2 L538.3,760.2 L538.8,760.2 L539.3,760.2 L539.8,760.2 L540.3,760.2 L540.8,760.2 L541.3,760.2 L541.8,760.2 L542.3,760.2 L542.8,760.2 L543.3,760.2 L543.8,760.2 L544.3,760.2 L544.8,760.2 L545.3,760.2 L545.8,760.2 L546.3,760.2 L546.8,760.2 L547.3,760.2 L547.8,760.2 L548.0,760.2" fill="none" stroke="#000" stroke-width="2.2" stroke-dasharray="6.5,3.3"/>
<path d="M58.3,876.5 L58.8,876.5 L59.3,876.5 L59.8,876.5 L60.3,876.5 L60.8,876.5 L61.3,876.5 L61.8,876.5 L62.3,876.5 L62.8,876.5 L63.3,876.5 L63.8,876.5 L64.3,876.5 L64.8,876.5 L65.3,876.5 L65.8,876.5 L66.3,876.5 L66.8,876.5 L67.3,876.5 L67.8,876.5 L68.3,876.5 L68.8,876.4 L69.3,876.4 L69.8,876.4 L70.3,876.4 L70.8,876.4 L71.3,876.4 L71.8,876.4 L72.3,876.4 L72.8,876.4 L73.3,876.4 L73.8,876.4 L74.3,876.4 L74.8,876.4 L75.3,876.4 L75.8,876.4 L76.3,876.4 L76.8,876.4 L77.3,876.4 L77.8,876.4 L78.3,876.4 L78.8,876.4 L79.3,876.3 L79.8,876.3 L80.3,876.3 L80.8,876.3 L81.3,876.3 L81.8,876.3 L82.3,876.3 L82.8,876.3 L83.3,876.3 L83.8,876.3 L84.3,876.3 L84.8,876.3 L85.3,876.3 L85.8,876.3 L86.3,876.3 L86.8,876.2 L87.3,876.2 L87.8,876.2 L88.3,876.2 L88.8,876.2 L89.3,876.2 L89.8,876.2 L90.3,876.2 L90.8,876.2 L91.3,876.2 L91.8,876.2 L92.3,876.2 L92.8,876.1 L93.3,876.1 L93.8,876.1 L94.3,876.1 L94.8,876.1 L95.3,876.1 L95.8,876.1 L96.3,876.1 L96.8,876.1 L97.3,876.1 L97.8,876.1 L98.3,876.1 L98.8,876.0 L99.3,876.0 L99.8,876.0 L100.3,876.0 L100.8,876.0 L101.3,876.0 L101.8,876.0 L102.3,876.0 L102.8,876.0 L103.3,876.0 L103.8,875.9 L104.3,875.9 L104.8,875.9 L105.3,875.9 L105.8,875.9 L106.3,875.9 L106.8,875.9 L107.3,875.9 L107.8,875.9 L108.3,875.9 L108.8,875.8 L109.3,875.8 L109.8,875.8 L110.3,875.8 L110.8,875.8 L111.3,875.8 L111.8,875.8 L112.3,875.8 L112.8,875.8 L113.3,875.7 L113.8,875.7 L114.3,875.7 L114.8,875.7 L115.3,875.7 L115.8,875.7 L116.3,875.7 L116.8,875.7 L117.3,875.7 L117.8,875.6 L118.3,875.6 L118.8,875.6 L119.3,875.6 L119.8,875.6 L120.3,875.6 L120.8,875.6 L121.3,875.6 L121.8,875.6 L122.3,875.5 L122.8,875.5 L123.3,875.5 L123.8,875.5 L124.3,875.5 L124.8,875.5 L125.3,875.5 L125.8,875.4 L126.3,875.4 L126.8,875.4 L127.3,875.4 L127.8,875.4 L128.3,875.3 L128.8,875.3 L129.3,875.3 L129.8,875.3 L130.3,875.3 L130.8,875.2 L131.3,875.2 L131.8,875.2 L132.3,875.2 L132.8,875.2 L133.3,875.1 L133.8,875.1 L134.3,875.1 L134.8,875.1 L135.3,875.0 L135.8,875.0 L136.3,875.0 L136.8,875.0 L137.3,874.9 L137.8,874.9 L138.3,874.9 L138.8,874.9 L139.3,874.8 L139.8,874.8 L140.3,874.8 L140.8,874.8 L141.3,874.7 L141.8,874.7 L142.3,874.7 L142.8,874.6 L143.3,874.6 L143.8,874.6 L144.3,874.6 L144.8,874.5 L145.3,874.5 L145.8,874.5 L146.3,874.4 L146.8,874.4 L147.3,874.4 L147.8,874.4 L148.3,874.3 L148.8,874.3 L149.3,874.3 L149.8,874.2 L150.3,874.2 L150.8,874.2 L151.3,874.2 L151.8,874.1 L152.3,874.1 L152.8,874.1 L153.3,874.0 L153.8,874.0 L154.3,874.0 L154.8,873.9 L155.3,873.9 L155.8,873.9 L156.3,873.8 L156.8,873.8 L157.3,873.8 L157.8,873.7 L158.3,873.7 L158.8,873.6 L159.3,873.6 L159.8,873.6 L160.3,873.5 L160.8,873.5 L161.3,873.4 L161.8,873.4 L162.3,873.3 L162.8,873.3 L163.3,873.3 L163.8,873.2 L164.3,873.2 L164.8,873.1 L165.3,873.1 L165.8,873.0 L166.3,872.9 L166.8,872.9 L167.3,872.8 L167.8,872.8 L168.3,872.7 L168.8,872.7 L169.3,872.6 L169.8,872.5 L170.3,872.5 L170.8,872.4 L171.3,872.3 L171.8,872.3 L172.3,872.2 L172.8,872.1 L173.3,872.0 L173.8,871.9 L174.3,871.8 L174.8,871.6 L175.3,871.5 L175.8,871.4 L176.3,871.2 L176.8,871.1 L177.3,871.0 L177.8,870.8 L178.3,870.6 L178.8,870.5 L179.3,870.3 L179.8,870.1 L180.3,870.0 L180.8,869.8 L181.3,869.6 L181.8,869.4 L182.3,869.2 L182.8,869.0 L183.3,868.8 L183.8,868.6 L184.3,868.4 L184.8,868.2 L185.3,868.0 L185.8,867.8 L186.3,867.6 L186.8,867.4 L187.3,867.2 L187.8,867.0 L188.3,866.7 L188.8,866.5 L189.3,866.3 L189.8,866.1 L190.3,865.9 L190.8,865.7 L191.3,865.4 L191.8,865.2 L192.3,865.0 L192.8,864.8 L193.3,864.6 L193.8,864.3 L194.3,864.1 L194.8,863.9 L195.3,863.7 L195.8,863.5 L196.3,863.3 L196.8,863.0 L197.3,862.8 L197.8,862.5 L198.3,862.3 L198.8,862.1 L199.3,861.8 L199.8,861.6 L200.3,861.4 L200.8,861.2 L201.3,861.0 L201.8,860.8 L202.3,860.6 L202.8,860.4 L203.3,860.2 L203.8,860.0 L204.3,859.9 L204.8,859.7 L205.3,859.5 L205.8,859.3 L206.3,859.2 L206.8,859.0 L207.3,858.9 L207.8,858.7 L208.3,858.5 L208.8,858.4 L209.3,858.2 L209.8,858.0 L210.3,857.9 L210.8,857.7 L211.3,857.5 L211.8,857.3 L212.3,857.2 L212.8,857.0 L213.3,856.8 L213.8,856.6 L214.3,856.4 L214.8,856.2 L215.3,856.0 L215.8,855.8 L216.3,855.6 L216.8,855.4 L217.3,855.2 L217.8,854.9 L218.3,854.7 L218.8,854.5 L219.3,854.2 L219.8,854.0 L220.3,853.8 L220.8,853.5 L221.3,853.3 L221.8,853.0 L222.3,852.8 L222.8,852.5 L223.3,852.3 L223.8,852.0 L224.3,851.7 L224.8,851.5 L225.3,851.2 L225.8,850.9 L226.3,850.6 L226.8,850.4 L227.3,850.1 L227.8,849.8 L228.3,849.5 L228.8,849.2 L229.3,848.9 L229.8,848.6 L230.3,848.3 L230.8,848.0 L231.3,847.7 L231.8,847.4 L232.3,847.1 L232.8,846.7 L233.3,846.4 L233.8,846.1 L234.3,845.7 L234.8,845.4 L235.3,845.0 L235.8,844.7 L236.3,844.3 L236.8,843.9 L237.3,843.6 L237.8,843.2 L238.3,842.8 L238.8,842.4 L239.3,842.0 L239.8,841.6 L240.3,841.2 L240.8,840.8 L241.3,840.4 L241.8,840.0 L242.3,839.5 L242.8,839.1 L243.3,838.7 L243.8,838.3 L244.3,837.8 L244.8,837.4 L245.3,837.0 L245.8,836.5 L246.3,836.1 L246.8,835.6 L247.3,835.2 L247.8,834.8 L248.3,834.3 L248.8,833.9 L249.3,833.4 L249.8,833.0 L250.3,832.5 L250.8,832.1 L251.3,831.6 L251.8,831.1 L252.3,830.6 L252.8,830.1 L253.3,829.6 L253.8,829.1 L254.3,828.6 L254.8,828.1 L255.3,827.6 L255.8,827.1 L256.3,826.6 L256.8,826.1 L257.3,825.6 L257.8,825.0 L258.3,824.5 L258.8,824.0 L259.3,823.5 L259.8,823.0 L260.3,822.5 L260.8,822.0 L261.3,821.4 L261.8,820.9 L262.3,820.4 L262.8,819.9 L263.3,819.4 L263.8,818.9 L264.3,818.5 L264.8,818.0 L265.3,817.5 L265.8,817.0 L266.3,816.6 L266.8,816.1 L267.3,815.6 L267.8,815.1 L268.3,814.7 L268.8,814.2 L269.3,813.8 L269.8,813.3 L270.3,812.8 L270.8,812.4 L271.3,811.9 L271.8,811.5 L272.3,811.0 L272.8,810.6 L273.3,810.1 L273.8,809.7 L274.3,809.2 L274.8,808.8 L275.3,808.3 L275.8,807.9 L276.3,807.4 L276.8,807.0 L277.3,806.6 L277.8,806.1 L278.3,805.7 L278.8,805.2 L279.3,804.8 L279.8,804.4 L280.3,803.9 L280.8,803.5 L281.3,803.0 L281.8,802.6 L282.3,802.2 L282.8,801.7 L283.3,801.3 L283.8,800.8 L284.3,800.4 L284.8,799.9 L285.3,799.4 L285.8,799.0 L286.3,798.5 L286.8,798.0 L287.3,797.6 L287.8,797.1 L288.3,796.6 L288.8,796.2 L289.3,795.7 L289.8,795.3 L290.3,794.8 L290.8,794.4 L291.3,793.9 L291.8,793.5 L292.3,793.1 L292.8,792.6 L293.3,792.2 L293.8,791.8 L294.3,791.5 L294.8,791.1 L295.3,790.7 L295.8,790.4 L296.3,790.0 L296.8,789.7 L297.3,789.4 L297.8,789.1 L298.3,788.8 L298.8,788.6 L299.3,788.3 L299.8,788.0 L300.3,787.7 L300.8,787.4 L301.3,787.2 L301.8,786.9 L302.3,786.6 L302.8,786.4 L303.3,786.1 L303.8,785.8 L304.3,785.6 L304.8,785.3 L305.3,785.1 L305.8,784.9 L306.3,784.6 L306.8,784.4 L307.3,784.2 L307.8,784.0 L308.3,783.8 L308.8,783.6 L309.3,783.4 L309.8,783.2 L310.3,783.1 L310.8,782.9 L311.3,782.8 L311.8,782.7 L312.3,782.5 L312.8,782.4 L313.3,782.3 L313.8,782.3 L314.3,782.2 L314.8,782.2 L315.3,782.1 L315.8,782.1 L316.3,782.0 L316.8,782.0 L317.3,781.9 L317.8,781.9 L318.3,781.8 L318.8,781.8 L319.3,781.8 L319.8,781.7 L320.3,781.7 L320.8,781.7 L321.3,781.7 L321.8,781.6 L322.3,781.6 L322.8,781.6 L323.3,781.6 L323.8,781.6 L324.3,781.6 L324.8,781.6 L325.3,781.6 L325.8,781.6 L326.3,781.6 L326.8,781.7 L327.3,781.7 L327.8,781.7 L328.3,781.8 L328.8,781.8 L329.3,781.8 L329.8,781.9 L330.3,781.9 L330.8,782.0 L331.3,782.1 L331.8,782.1 L332.3,782.2 L332.8,782.3 L333.3,782.3 L333.8,782.4 L334.3,782.5 L334.8,782.6 L335.3,782.7 L335.8,782.7 L336.3,782.8 L336.8,782.9 L337.3,783.0 L337.8,783.1 L338.3,783.2 L338.8,783.3 L339.3,783.4 L339.8,783.5 L340.3,783.6 L340.8,783.7 L341.3,783.9 L341.8,784.1 L342.3,784.2 L342.8,784.4 L343.3,784.7 L343.8,784.9 L344.3,785.1 L344.8,785.4 L345.3,785.7 L345.8,785.9 L346.3,786.2 L346.8,786.5 L347.3,786.8 L347.8,787.1 L348.3,787.4 L348.8,787.7 L349.3,788.0 L349.8,788.3 L350.3,788.7 L350.8,789.0 L351.3,789.4 L351.8,789.8 L352.3,790.2 L352.8,790.6 L353.3,791.0 L353.8,791.4 L354.3,791.8 L354.8,792.3 L355.3,792.7 L355.8,793.1 L356.3,793.6 L356.8,794.0 L357.3,794.5 L357.8,794.9 L358.3,795.4 L358.8,795.8 L359.3,796.3 L359.8,796.8 L360.3,797.3 L360.8,797.8 L361.3,798.3 L361.8,798.8 L362.3,799.3 L362.8,799.9 L363.3,800.4 L363.8,800.9 L364.3,801.4 L364.8,801.9 L365.3,802.4 L365.8,802.9 L366.3,803.4 L366.8,803.9 L367.3,804.4 L367.8,804.9 L368.3,805.3 L368.8,805.8 L369.3,806.2 L369.8,806.7 L370.3,807.1 L370.8,807.6 L371.3,808.0 L371.8,808.4 L372.3,808.9 L372.8,809.3 L373.3,809.8 L373.8,810.2 L374.3,810.6 L374.8,811.1 L375.3,811.5 L375.8,812.0 L376.3,812.4 L376.8,812.8 L377.3,813.3 L377.8,813.7 L378.3,814.2 L378.8,814.6 L379.3,815.1 L379.8,815.5 L380.3,816.0 L380.8,816.4 L381.3,816.9 L381.8,817.3 L382.3,817.8 L382.8,818.2 L383.3,818.7 L383.8,819.2 L384.3,819.6 L384.8,820.1 L385.3,820.5 L385.8,821.0 L386.3,821.4 L386.8,821.9 L387.3,822.3 L387.8,822.8 L388.3,823.2 L388.8,823.7 L389.3,824.2 L389.8,824.6 L390.3,825.1 L390.8,825.5 L391.3,826.0 L391.8,826.4 L392.3,826.9 L392.8,827.4 L393.3,827.8 L393.8,828.3 L394.3,828.7 L394.8,829.2 L395.3,829.6 L395.8,830.1 L396.3,830.5 L396.8,830.9 L397.3,831.4 L397.8,831.8 L398.3,832.3 L398.8,832.7 L399.3,833.2 L399.8,833.6 L400.3,834.1 L400.8,834.5 L401.3,834.9 L401.8,835.4 L402.3,835.8 L402.8,836.3 L403.3,836.7 L403.8,837.2 L404.3,837.6 L404.8,838.1 L405.3,838.5 L405.8,839.0 L406.3,839.5 L406.8,839.9 L407.3,840.4 L407.8,840.8 L408.3,841.3 L408.8,841.8 L409.3,842.2 L409.8,842.6 L410.3,843.1 L410.8,843.5 L411.3,843.9 L411.8,844.4 L412.3,844.8 L412.8,845.2 L413.3,845.5 L413.8,845.9 L414.3,846.3 L414.8,846.7 L415.3,847.1 L415.8,847.4 L416.3,847.8 L416.8,848.2 L417.3,848.5 L417.8,848.9 L418.3,849.2 L418.8,849.6 L419.3,849.9 L419.8,850.2 L420.3,850.5 L420.8,850.9 L421.3,851.2 L421.8,851.5 L422.3,851.7 L422.8,852.0 L423.3,852.3 L423.8,852.6 L424.3,852.8 L424.8,853.1 L425.3,853.4 L425.8,853.6 L426.3,853.8 L426.8,854.1 L427.3,854.3 L427.8,854.6 L428.3,854.8 L428.8,855.0 L429.3,855.3 L429.8,855.5 L430.3,855.7 L430.8,855.9 L431.3,856.2 L431.8,856.4 L432.3,856.6 L432.8,856.8 L433.3,857.0 L433.8,857.2 L434.3,857.4 L434.8,857.6 L435.3,857.8 L435.8,858.0 L436.3,858.2 L436.8,858.4 L437.3,858.6 L437.8,858.8 L438.3,859.0 L438.8,859.2 L439.3,859.4 L439.8,859.6 L440.3,859.8 L440.8,860.0 L441.3,860.2 L441.8,860.4 L442.3,860.6 L442.8,860.8 L443.3,861.0 L443.8,861.2 L444.3,861.4 L444.8,861.6 L445.3,861.8 L445.8,862.0 L446.3,862.2 L446.8,862.5 L447.3,862.6 L447.8,862.8 L448.3,863.0 L448.8,863.2 L449.3,863.4 L449.8,863.6 L450.3,863.8 L450.8,864.0 L451.3,864.2 L451.8,864.3 L452.3,864.5 L452.8,864.7 L453.3,864.8 L453.8,865.0 L454.3,865.2 L454.8,865.3 L455.3,865.5 L455.8,865.6 L456.3,865.8 L456.8,865.9 L457.3,866.1 L457.8,866.2 L458.3,866.4 L458.8,866.5 L459.3,866.7 L459.8,866.8 L460.3,867.0 L460.8,867.1 L461.3,867.3 L461.8,867.4 L462.3,867.5 L462.8,867.7 L463.3,867.8 L463.8,867.9 L464.3,868.1 L464.8,868.2 L465.3,868.4 L465.8,868.5 L466.3,868.6 L466.8,868.8 L467.3,868.9 L467.8,869.0 L468.3,869.2 L468.8,869.3 L469.3,869.4 L469.8,869.6 L470.3,869.7 L470.8,869.8 L471.3,869.9 L471.8,870.0 L472.3,870.2 L472.8,870.3 L473.3,870.4 L473.8,870.5 L474.3,870.6 L474.8,870.7 L475.3,870.8 L475.8,870.9 L476.3,871.0 L476.8,871.1 L477.3,871.2 L477.8,871.3 L478.3,871.3 L478.8,871.4 L479.3,871.5 L479.8,871.6 L480.3,871.7 L480.8,871.8 L481.3,871.8 L481.8,871.9 L482.3,872.0 L482.8,872.1 L483.3,872.2 L483.8,872.2 L484.3,872.3 L484.8,872.4 L485.3,872.5 L485.8,872.5 L486.3,872.6 L486.8,872.7 L487.3,872.7 L487.8,872.8 L488.3,872.9 L488.8,872.9 L489.3,873.0 L489.8,873.1 L490.3,873.1 L490.8,873.2 L491.3,873.3 L491.8,873.3 L492.3,873.4 L492.8,873.4 L493.3,873.5 L493.8,873.6 L494.3,873.6 L494.8,873.7 L495.3,873.7 L495.8,873.8 L496.3,873.8 L496.8,873.9 L497.3,874.0 L497.8,874.0 L498.3,874.1 L498.8,874.1 L499.3,874.2 L499.8,874.2 L500.3,874.3 L500.8,874.3 L501.3,874.4 L501.8,874.4 L502.3,874.5 L502.8,874.5 L503.3,874.6 L503.8,874.6 L504.3,874.7 L504.8,874.7 L505.3,874.8 L505.8,874.8 L506.3,874.9 L506.8,874.9 L507.3,874.9 L507.8,875.0 L508.3,875.0 L508.8,875.0 L509.3,875.1 L509.8,875.1 L510.3,875.1 L510.8,875.2 L511.3,875.2 L511.8,875.2 L512.3,875.2 L512.8,875.3 L513.3,875.3 L513.8,875.3 L514.3,875.3 L514.8,875.4 L515.3,875.4 L515.8,875.4 L516.3,875.4 L516.8,875.5 L517.3,875.5 L517.8,875.5 L518.3,875.5 L518.8,875.5 L519.3,875.6 L519.8,875.6 L520.3,875.6 L520.8,875.6 L521.3,875.6 L521.8,875.7 L522.3,875.7 L522.8,875.7 L523.3,875.7 L523.8,875.7 L524.3,875.8 L524.8,875.8 L525.3,875.8 L525.8,875.8 L526.3,875.8 L526.8,875.9 L527.3,875.9 L527.8,875.9 L528.3,875.9 L528.8,875.9 L529.3,875.9 L529.8,876.0 L530.3,876.0 L530.8,876.0 L531.3,876.0 L531.8,876.0 L532.3,876.0 L532.8,876.0 L533.3,876.1 L533.8,876.1 L534.3,876.1 L534.8,876.1 L535.3,876.1 L535.8,876.1 L536.3,876.1 L536.8,876.1 L537.3,876.2 L537.8,876.2 L538.3,876.2 L538.8,876.2 L539.3,876.2 L539.8,876.2 L540.3,876.2 L540.8,876.2 L541.3,876.2 L541.8,876.2 L542.3,876.2 L542.8,876.2 L543.3,876.3 L543.8,876.3 L544.3,876.3 L544.8,876.3 L545.3,876.3 L545.8,876.3 L546.3,876.3 L546.8,876.3 L547.3,876.3 L547.8,876.3 L548.0,876.3" fill="none" stroke="#000" stroke-width="2.2" stroke-dasharray="6.5,3.3"/>
<path d="M223.6,737.2 L224.1,737.0 L224.6,736.9 L225.1,736.7 L225.6,736.6 L226.1,736.4 L226.6,736.3 L227.1,736.1 L227.6,736.0 L228.1,735.9 L228.6,735.7 L229.1,735.6 L229.6,735.4 L230.1,735.3 L230.6,735.2 L231.1,735.1 L231.6,735.0 L232.1,734.8 L232.6,734.7 L233.1,734.6 L233.6,734.5 L234.1,734.4 L234.6,734.4 L235.1,734.3 L235.6,734.2 L236.1,734.1 L236.6,734.1 L237.1,734.0 L237.6,733.9 L238.1,733.9 L238.6,733.8 L239.1,733.8 L239.6,733.7 L240.1,733.6 L240.6,733.6 L241.1,733.5 L241.6,733.5 L242.1,733.4 L242.6,733.4 L243.1,733.3 L243.6,733.3 L244.1,733.2 L244.6,733.2 L245.1,733.1 L245.6,733.1 L246.1,733.1 L246.6,733.0 L247.1,733.0 L247.6,732.9 L248.1,732.9 L248.6,732.9 L249.1,732.8 L249.6,732.8 L250.1,732.8 L250.6,732.8 L251.1,732.7 L251.6,732.7 L252.1,732.7 L252.6,732.7 L253.1,732.6 L253.6,732.6 L254.1,732.6 L254.6,732.6 L255.1,732.6 L255.6,732.6 L256.1,732.6 L256.6,732.5 L257.1,732.5 L257.6,732.5 L258.1,732.5 L258.6,732.5 L259.1,732.5 L259.6,732.5 L260.1,732.5 L260.6,732.4 L261.1,732.4 L261.6,732.4 L262.1,732.4 L262.6,732.4 L263.1,732.4 L263.6,732.4 L264.1,732.4 L264.6,732.4 L265.1,732.4 L265.6,732.4 L266.1,732.3 L266.6,732.3 L267.1,732.3 L267.6,732.3 L268.1,732.3 L268.6,732.3 L269.1,732.3 L269.6,732.3 L270.1,732.3 L270.6,732.3 L271.1,732.3 L271.6,732.3 L272.1,732.3 L272.6,732.3 L273.1,732.3 L273.6,732.3 L274.1,732.3 L274.6,732.3 L275.1,732.4 L275.6,732.4 L276.1,732.4 L276.6,732.4 L277.1,732.5 L277.6,732.5 L278.1,732.5 L278.6,732.6 L279.1,732.6 L279.6,732.7 L280.1,732.7 L280.6,732.8 L281.1,732.8 L281.6,732.9 L282.1,732.9 L282.6,733.0 L283.1,733.0 L283.6,733.1 L284.1,733.2 L284.6,733.2 L285.1,733.3 L285.6,733.3 L286.1,733.4 L286.6,733.4 L287.1,733.5 L287.6,733.6 L288.1,733.6 L288.6,733.7 L289.1,733.7 L289.6,733.8 L290.1,733.9 L290.6,734.0 L291.1,734.0 L291.6,734.1 L292.1,734.2 L292.6,734.3 L293.1,734.4 L293.6,734.5 L294.1,734.5 L294.6,734.6 L295.1,734.7 L295.6,734.8 L296.1,734.9 L296.6,735.0 L297.1,735.1 L297.6,735.2 L298.1,735.3 L298.6,735.4 L299.1,735.4 L299.6,735.5 L300.1,735.6 L300.6,735.7 L301.1,735.8 L301.6,735.9 L302.1,736.0 L302.6,736.0 L303.1,736.1 L303.6,736.2 L304.1,736.3 L304.6,736.4 L305.1,736.5 L305.6,736.6 L306.1,736.6 L306.6,736.7 L307.1,736.8 L307.6,736.9 L308.1,737.0 L308.6,737.1 L309.1,737.2 L309.6,737.3 L310.1,737.4 L310.6,737.4 L311.1,737.5 L311.6,737.6 L312.1,737.7 L312.6,737.8 L313.1,737.9 L313.6,738.0 L314.1,738.1 L314.6,738.2 L315.1,738.3 L315.6,738.4 L316.1,738.5 L316.6,738.6 L317.1,738.7 L317.6,738.8 L318.1,738.9 L318.6,739.0 L319.1,739.1 L319.6,739.2 L320.1,739.3 L320.6,739.4 L321.1,739.5 L321.6,739.7 L322.1,739.8 L322.6,739.9 L323.1,740.0 L323.6,740.1 L324.1,740.2 L324.6,740.3 L325.1,740.5 L325.6,740.6 L326.1,740.7 L326.6,740.8 L327.1,740.9 L327.6,741.1 L328.1,741.2 L328.6,741.3 L329.1,741.4 L329.6,741.6 L330.1,741.7 L330.6,741.8 L331.1,741.9 L331.6,742.1 L332.1,742.2 L332.6,742.3 L333.1,742.4 L333.6,742.6 L334.1,742.7 L334.6,742.8 L335.1,743.0 L335.6,743.1 L336.1,743.2 L336.6,743.3 L337.1,743.5 L337.6,743.6 L338.1,743.7 L338.6,743.8 L339.1,744.0 L339.6,744.1 L340.1,744.2 L340.6,744.4 L341.1,744.5 L341.6,744.6 L342.1,744.7 L342.6,744.9 L343.1,745.0 L343.6,745.1 L344.1,745.3 L344.6,745.4 L345.1,745.5 L345.6,745.7 L346.1,745.8 L346.6,746.0 L347.1,746.1 L347.6,746.2 L348.1,746.4 L348.6,746.5 L349.1,746.6 L349.6,746.8 L350.1,746.9 L350.6,747.0 L351.1,747.2 L351.6,747.3 L352.1,747.5 L352.6,747.6 L353.1,747.7 L353.6,747.9 L354.1,748.0 L354.6,748.1 L355.1,748.2 L355.6,748.4 L356.1,748.5 L356.6,748.6 L357.1,748.7 L357.6,748.9 L358.1,749.0 L358.6,749.1 L359.1,749.2 L359.6,749.3 L360.1,749.4 L360.6,749.5 L361.1,749.6 L361.6,749.8 L362.1,749.9 L362.6,750.0 L363.1,750.1 L363.6,750.2 L364.1,750.3 L364.6,750.4 L365.1,750.5 L365.6,750.6 L366.1,750.7 L366.6,750.8 L367.1,750.9 L367.6,751.0 L368.1,751.1 L368.6,751.2 L369.1,751.3 L369.6,751.4 L370.1,751.5 L370.6,751.6 L371.1,751.7 L371.6,751.8 L372.1,751.9 L372.6,752.0 L373.1,752.1 L373.6,752.2 L374.1,752.3 L374.6,752.4 L375.1,752.5 L375.6,752.5 L376.1,752.6 L376.6,752.7 L377.1,752.8 L377.6,752.9 L378.1,753.0 L378.6,753.0 L379.1,753.1 L379.6,753.2 L380.1,753.3 L380.6,753.4 L381.1,753.4 L381.6,753.5 L382.1,753.6 L382.6,753.7 L383.1,753.8 L383.6,753.8 L384.1,753.9 L384.6,754.0 L385.1,754.0 L385.6,754.1 L386.1,754.2 L386.6,754.3 L387.1,754.3 L387.6,754.4 L388.1,754.5 L388.6,754.5 L389.1,754.6 L389.6,754.7 L390.1,754.7 L390.6,754.8 L391.1,754.9 L391.6,754.9 L392.1,755.0 L392.6,755.1 L393.1,755.1 L393.6,755.2 L394.1,755.3 L394.6,755.3 L395.1,755.4 L395.6,755.5 L396.1,755.5 L396.6,755.6 L397.1,755.7 L397.6,755.7 L398.1,755.8 L398.6,755.9 L399.1,755.9 L399.6,756.0 L400.1,756.1 L400.6,756.1 L401.1,756.2 L401.6,756.2 L402.1,756.3 L402.6,756.4 L403.1,756.4 L403.6,756.5 L404.1,756.6 L404.6,756.6 L405.1,756.7 L405.6,756.8 L406.1,756.8 L406.6,756.9 L407.1,756.9 L407.6,757.0 L408.1,757.1 L408.6,757.1 L409.1,757.2 L409.6,757.2 L410.1,757.3 L410.6,757.4 L411.1,757.4 L411.6,757.5 L412.1,757.5 L412.6,757.6 L413.1,757.6 L413.6,757.7 L414.1,757.8 L414.6,757.8 L415.1,757.9 L415.6,757.9 L416.1,758.0 L416.6,758.0 L417.1,758.0 L417.6,758.1 L418.1,758.1 L418.6,758.2 L419.1,758.2 L419.6,758.3 L420.1,758.3 L420.6,758.4 L421.1,758.4 L421.6,758.5 L422.1,758.5 L422.6,758.6 L423.1,758.6 L423.6,758.7 L424.1,758.7 L424.6,758.8 L425.1,758.8 L425.6,758.8 L426.1,758.9 L426.6,758.9 L427.1,759.0 L427.6,759.0 L428.1,759.1 L428.6,759.1 L429.1,759.1 L429.6,759.2 L430.1,759.2 L430.6,759.2 L431.1,759.3 L431.6,759.3 L432.1,759.3 L432.6,759.4 L433.1,759.4 L433.6,759.4 L434.1,759.4 L434.6,759.5 L435.1,759.5 L435.6,759.5 L436.1,759.5 L436.6,759.5 L437.1,759.5 L437.6,759.6 L438.1,759.6 L438.6,759.6 L439.1,759.6 L439.6,759.6 L440.1,759.6 L440.6,759.7 L441.1,759.7 L441.6,759.7 L442.1,759.7 L442.6,759.7 L443.1,759.7 L443.6,759.7 L444.1,759.7 L444.6,759.8 L445.1,759.8 L445.6,759.8 L446.1,759.8 L446.6,759.8 L447.1,759.8 L447.6,759.8 L448.1,759.8 L448.6,759.9 L449.1,759.9 L449.6,759.9 L450.1,759.9 L450.6,759.9 L451.1,759.9 L451.6,759.9 L452.1,759.9 L452.6,759.9 L453.1,759.9 L453.6,759.9 L454.1,759.9 L454.6,760.0 L455.1,760.0 L455.6,760.0 L456.1,760.0 L456.6,760.0 L457.1,760.0 L457.6,760.0 L458.1,760.0 L458.6,760.0 L459.1,760.0 L459.6,760.0 L460.1,760.0 L460.6,760.0 L461.1,760.0 L461.6,760.0 L462.1,760.0 L462.6,760.0 L463.1,760.0 L463.6,760.0 L464.1,760.0 L464.6,760.0 L465.1,760.0 L465.6,760.0 L466.1,760.0 L466.6,760.0 L467.1,760.0 L467.6,760.0 L468.1,760.0 L468.6,760.0 L469.1,760.0 L469.6,760.0 L470.1,760.0 L470.6,760.0 L471.1,760.0 L471.6,760.1 L472.1,760.1 L472.6,760.1 L473.1,760.1 L473.6,760.1 L474.1,760.1 L474.6,760.1 L475.1,760.1 L475.6,760.1 L476.1,760.1 L476.6,760.1 L477.1,760.1 L477.6,760.1 L478.1,760.1 L478.6,760.1 L479.1,760.1 L479.6,760.1 L480.1,760.1 L480.6,760.1 L481.1,760.1 L481.6,760.1 L482.1,760.1 L482.6,760.1 L483.1,760.1 L483.6,760.1 L484.1,760.1 L484.6,760.1 L485.1,760.1 L485.6,760.1 L486.1,760.1 L486.6,760.1 L487.1,760.1 L487.6,760.1 L488.1,760.1 L488.6,760.1 L489.1,760.1 L489.6,760.1 L490.1,760.1 L490.6,760.1 L491.1,760.1 L491.6,760.1 L492.1,760.1 L492.6,760.1 L493.1,760.1 L493.6,760.1 L494.1,760.1 L494.6,760.1 L495.1,760.1 L495.6,760.1 L496.1,760.1 L496.6,760.1 L497.1,760.1 L497.6,760.1 L498.1,760.1 L498.6,760.1 L499.1,760.1 L499.6,760.1 L500.1,760.1 L500.6,760.1 L501.1,760.1 L501.6,760.1 L502.1,760.1 L502.6,760.1 L503.1,760.2 L503.6,760.2 L504.1,760.2 L504.6,760.2 L505.1,760.2 L505.6,760.2 L506.1,760.2 L506.6,760.2 L507.1,760.2 L507.6,760.2 L508.1,760.2 L508.6,760.2 L509.1,760.2 L509.6,760.2 L510.1,760.2 L510.6,760.2 L511.1,760.2 L511.6,760.2 L512.1,760.2 L512.6,760.2 L513.1,760.2 L513.6,760.2 L514.1,760.2 L514.6,760.2 L515.1,760.2 L515.6,760.2 L516.1,760.2 L516.6,760.2 L517.1,760.2 L517.6,760.2 L518.1,760.2 L518.6,760.2 L519.1,760.2 L519.6,760.2 L520.1,760.2 L520.6,760.2 L521.1,760.2 L521.6,760.2 L522.1,760.2 L522.6,760.2 L523.1,760.2 L523.6,760.2 L524.1,760.2 L524.6,760.2 L525.1,760.2 L525.6,760.2 L526.1,760.2 L526.6,760.2 L527.1,760.2 L527.6,760.2 L528.1,760.2 L528.6,760.2 L529.1,760.2 L529.6,760.2 L530.1,760.2 L530.6,760.2 L531.1,760.2 L531.6,760.2 L532.1,760.2 L532.6,760.2 L533.1,760.2 L533.6,760.2 L534.1,760.2 L534.6,760.2 L535.1,760.2 L535.6,760.2 L536.1,760.2 L536.6,760.2 L537.1,760.2 L537.6,760.2 L538.1,760.2 L538.6,760.2 L539.1,760.2 L539.6,760.2 L540.1,760.2 L540.6,760.2 L541.1,760.2 L541.6,760.2 L542.1,760.2 L542.6,760.2 L543.1,760.2 L543.6,760.2 L544.1,760.2 L544.6,760.2 L545.1,760.2 L545.6,760.2 L546.1,760.2 L546.6,760.2 L547.1,760.2 L547.6,760.2 L548.0,760.2" fill="none" stroke="#000" stroke-width="2.2" stroke-dasharray="6.5,3.3"/>
<path d="M140.0,871.5 L140.5,871.3 L141.0,871.1 L141.5,870.9 L142.0,870.7 L142.5,870.5 L143.0,870.4 L143.5,870.2 L144.0,870.0 L144.5,869.8 L145.0,869.6 L145.5,869.4 L146.0,869.3 L146.5,869.1 L147.0,868.9 L147.5,868.7 L148.0,868.6 L148.5,868.4 L149.0,868.2 L149.5,868.0 L150.0,867.9 L150.5,867.7 L151.0,867.5 L151.5,867.4 L152.0,867.2 L152.5,867.0 L153.0,866.9 L153.5,866.7 L154.0,866.6 L154.5,866.4 L155.0,866.3 L155.5,866.1 L156.0,865.9 L156.5,865.8 L157.0,865.6 L157.5,865.5 L158.0,865.4 L158.5,865.2 L159.0,865.1 L159.5,864.9 L160.0,864.8 L160.5,864.6 L161.0,864.5 L161.5,864.4 L162.0,864.2 L162.5,864.1 L163.0,864.0 L163.5,863.9 L164.0,863.7 L164.5,863.6 L165.0,863.5 L165.5,863.4 L166.0,863.2 L166.5,863.1 L167.0,863.0 L167.5,862.9 L168.0,862.8 L168.5,862.7 L169.0,862.6 L169.5,862.5 L170.0,862.4 L170.5,862.3 L171.0,862.2 L171.5,862.1 L172.0,862.0 L172.5,861.9 L173.0,861.8 L173.5,861.7 L174.0,861.6 L174.5,861.5 L175.0,861.4 L175.5,861.3 L176.0,861.2 L176.5,861.2 L177.0,861.1 L177.5,861.0 L178.0,860.9 L178.5,860.8 L179.0,860.7 L179.5,860.7 L180.0,860.6 L180.5,860.5 L181.0,860.4 L181.5,860.3 L182.0,860.3 L182.5,860.2 L183.0,860.1 L183.5,860.0 L184.0,860.0 L184.5,859.9 L185.0,859.8 L185.5,859.8 L186.0,859.7 L186.5,859.6 L187.0,859.6 L187.5,859.5 L188.0,859.4 L188.5,859.4 L189.0,859.3 L189.5,859.2 L190.0,859.2 L190.5,859.1 L191.0,859.0 L191.5,859.0 L192.0,858.9 L192.5,858.8 L193.0,858.8 L193.5,858.7 L194.0,858.7 L194.5,858.6 L195.0,858.5 L195.5,858.5 L196.0,858.4 L196.5,858.4 L197.0,858.3 L197.5,858.2 L198.0,858.2 L198.5,858.1 L199.0,858.1 L199.5,858.0 L200.0,857.9 L200.5,857.9 L201.0,857.8 L201.5,857.7 L202.0,857.7 L202.5,857.6 L203.0,857.5 L203.5,857.5 L204.0,857.4 L204.5,857.3 L205.0,857.3 L205.5,857.2 L206.0,857.1 L206.5,857.1 L207.0,857.0 L207.5,857.0 L208.0,856.9 L208.5,856.9 L209.0,856.8 L209.5,856.8 L210.0,856.7 L210.5,856.7 L211.0,856.6 L211.5,856.6 L212.0,856.6 L212.5,856.5 L213.0,856.5 L213.5,856.5 L214.0,856.5 L214.5,856.4 L215.0,856.4 L215.5,856.4 L216.0,856.4 L216.5,856.4 L217.0,856.4 L217.5,856.4 L218.0,856.5 L218.5,856.5 L219.0,856.6 L219.5,856.6 L220.0,856.7 L220.5,856.8 L221.0,856.9 L221.5,857.0 L222.0,857.1 L222.5,857.2 L223.0,857.4 L223.5,857.5 L224.0,857.7 L224.5,857.8 L225.0,858.0 L225.5,858.1 L226.0,858.3 L226.5,858.4 L227.0,858.6 L227.5,858.8 L228.0,859.0 L228.5,859.1 L229.0,859.3 L229.5,859.5 L230.0,859.6 L230.5,859.8 L231.0,860.0 L231.5,860.1 L232.0,860.3 L232.5,860.5 L233.0,860.6 L233.5,860.8 L234.0,860.9 L234.5,861.1 L235.0,861.2 L235.5,861.3 L236.0,861.5 L236.5,861.6 L237.0,861.7 L237.5,861.9 L238.0,862.0 L238.5,862.2 L239.0,862.3 L239.5,862.4 L240.0,862.6 L240.5,862.7 L241.0,862.9 L241.5,863.0 L242.0,863.1 L242.5,863.3 L243.0,863.4 L243.5,863.6 L244.0,863.7 L244.5,863.9 L245.0,864.0 L245.5,864.1 L246.0,864.3 L246.5,864.4 L247.0,864.6 L247.5,864.7 L248.0,864.9 L248.5,865.0 L249.0,865.2 L249.5,865.3 L250.0,865.5 L250.5,865.6 L251.0,865.8 L251.5,865.9 L252.0,866.1 L252.5,866.2 L253.0,866.4 L253.5,866.5 L254.0,866.7 L254.5,866.8 L255.0,867.0 L255.5,867.2 L256.0,867.3 L256.5,867.5 L257.0,867.6 L257.5,867.8 L258.0,868.0 L258.5,868.1 L259.0,868.3 L259.5,868.4 L260.0,868.6 L260.5,868.8 L261.0,869.0 L261.5,869.1 L262.0,869.3 L262.5,869.5 L263.0,869.7 L263.5,869.9 L264.0,870.1 L264.5,870.3 L265.0,870.4 L265.5,870.5 L266.0,870.6 L266.5,870.7 L267.0,870.9 L267.5,871.0 L268.0,871.1 L268.5,871.2 L269.0,871.3 L269.5,871.4 L270.0,871.5 L270.5,871.6 L271.0,871.7 L271.5,871.8 L272.0,871.9 L272.5,872.0 L273.0,872.1 L273.5,872.2 L274.0,872.3 L274.5,872.4 L275.0,872.4 L275.5,872.5 L276.0,872.6 L276.5,872.7 L277.0,872.8 L277.5,872.9 L278.0,873.0 L278.5,873.0 L279.0,873.1 L279.5,873.2 L280.0,873.3 L280.5,873.3 L281.0,873.4 L281.5,873.5 L282.0,873.6 L282.5,873.6 L283.0,873.7 L283.5,873.8 L284.0,873.8 L284.5,873.9 L285.0,874.0 L285.5,874.0 L286.0,874.1 L286.5,874.2 L287.0,874.2 L287.5,874.3 L288.0,874.3 L288.5,874.4 L289.0,874.4 L289.5,874.5 L290.0,874.5 L290.5,874.6 L291.0,874.6 L291.5,874.7 L292.0,874.7 L292.5,874.8 L293.0,874.8 L293.5,874.9 L294.0,874.9 L294.5,875.0 L295.0,875.0 L295.5,875.0 L296.0,875.1 L296.5,875.1 L297.0,875.1 L297.5,875.2 L298.0,875.2 L298.5,875.2 L299.0,875.3 L299.5,875.3 L300.0,875.3 L300.5,875.4 L301.0,875.4 L301.5,875.4 L302.0,875.4 L302.5,875.5 L303.0,875.5 L303.5,875.5 L304.0,875.5 L304.5,875.6 L305.0,875.6 L305.5,875.6 L306.0,875.6 L306.5,875.7 L307.0,875.7 L307.5,875.7 L308.0,875.7 L308.5,875.8 L309.0,875.8 L309.5,875.8 L310.0,875.8 L310.5,875.9 L311.0,875.9 L311.5,875.9 L312.0,875.9 L312.5,875.9 L313.0,876.0 L313.5,876.0 L314.0,876.0 L314.5,876.0 L315.0,876.0 L315.5,876.1 L316.0,876.1 L316.5,876.1 L317.0,876.1 L317.5,876.1 L318.0,876.1 L318.5,876.2 L319.0,876.2 L319.5,876.2 L320.0,876.2 L320.5,876.2 L321.0,876.2 L321.5,876.3 L322.0,876.3 L322.5,876.3 L323.0,876.3 L323.5,876.3 L324.0,876.3 L324.5,876.3 L325.0,876.4 L325.5,876.4 L326.0,876.4 L326.5,876.4 L327.0,876.4 L327.5,876.4 L328.0,876.4 L328.5,876.5 L329.0,876.5 L329.5,876.5 L330.0,876.5 L330.5,876.5 L331.0,876.5 L331.5,876.5 L332.0,876.5 L332.5,876.5 L333.0,876.5 L333.5,876.6 L334.0,876.6 L334.5,876.6 L335.0,876.6 L335.5,876.6 L336.0,876.6 L336.5,876.6 L337.0,876.6 L337.5,876.6 L338.0,876.7 L338.5,876.7 L339.0,876.7 L339.5,876.7 L340.0,876.7 L340.5,876.7 L341.0,876.7 L341.5,876.7 L342.0,876.7 L342.5,876.7 L343.0,876.8 L343.5,876.8 L344.0,876.8 L344.5,876.8 L345.0,876.8 L345.5,876.8 L346.0,876.8 L346.5,876.8 L347.0,876.8 L347.5,876.8 L348.0,876.9 L348.5,876.9 L349.0,876.9 L349.5,876.9 L350.0,876.9 L350.5,876.9 L351.0,876.9 L351.5,876.9 L352.0,876.9 L352.5,876.9 L353.0,876.9 L353.5,876.9 L354.0,877.0 L354.5,877.0 L355.0,877.0 L355.5,877.0 L356.0,877.0 L356.5,877.0 L357.0,877.0 L357.5,877.0 L358.0,877.0 L358.5,877.0 L359.0,877.0 L359.5,877.0 L360.0,877.0 L360.5,877.0 L361.0,877.1 L361.5,877.1 L362.0,877.1 L362.5,877.1 L363.0,877.1 L363.5,877.1 L364.0,877.1 L364.5,877.1 L365.0,877.1 L365.5,877.1 L366.0,877.1 L366.5,877.1 L367.0,877.1 L367.5,877.1 L368.0,877.1 L368.5,877.1 L369.0,877.1 L369.5,877.1 L370.0,877.2 L370.5,877.2 L371.0,877.2 L371.5,877.2 L372.0,877.2 L372.5,877.2 L373.0,877.2 L373.5,877.2 L374.0,877.2 L374.5,877.2 L375.0,877.2 L375.5,877.2 L376.0,877.2 L376.5,877.2 L377.0,877.2 L377.5,877.2 L378.0,877.2 L378.5,877.2 L379.0,877.2 L379.5,877.2 L380.0,877.2 L380.5,877.2 L381.0,877.2 L381.5,877.2 L382.0,877.2 L382.5,877.2 L383.0,877.2 L383.5,877.2 L384.0,877.2 L384.5,877.2 L385.0,877.2 L385.5,877.2 L386.0,877.2 L386.5,877.2 L387.0,877.2 L387.5,877.2 L388.0,877.2 L388.5,877.2 L389.0,877.2 L389.5,877.2 L390.0,877.2 L390.5,877.2 L391.0,877.2 L391.5,877.2 L392.0,877.2 L392.5,877.2 L393.0,877.2 L393.5,877.2 L394.0,877.2 L394.5,877.2 L395.0,877.2 L395.5,877.2 L396.0,877.2 L396.5,877.2 L397.0,877.2 L397.5,877.2 L398.0,877.2 L398.5,877.2 L399.0,877.2 L399.5,877.2 L400.0,877.2 L400.5,877.2 L401.0,877.2 L401.5,877.2 L402.0,877.2 L402.5,877.2 L403.0,877.2 L403.5,877.2 L404.0,877.2 L404.5,877.2 L405.0,877.2 L405.5,877.2 L406.0,877.2 L406.5,877.2 L407.0,877.2 L407.5,877.2 L408.0,877.2 L408.5,877.2 L409.0,877.2 L409.5,877.2 L410.0,877.2 L410.5,877.2 L411.0,877.2 L411.5,877.2 L412.0,877.2 L412.5,877.2 L413.0,877.2 L413.5,877.2 L414.0,877.2 L414.5,877.2 L415.0,877.2 L415.5,877.2 L416.0,877.2 L416.5,877.2 L417.0,877.2 L417.5,877.2 L418.0,877.2 L418.5,877.2 L419.0,877.2 L419.5,877.2 L420.0,877.2 L420.5,877.2 L421.0,877.2 L421.5,877.2 L422.0,877.2 L422.5,877.2 L423.0,877.2 L423.5,877.2 L424.0,877.2 L424.5,877.3 L425.0,877.3 L425.5,877.3 L426.0,877.3 L426.5,877.3 L427.0,877.3 L427.5,877.3 L428.0,877.3 L428.5,877.3 L429.0,877.3 L429.5,877.3 L430.0,877.3 L430.5,877.3 L431.0,877.3 L431.5,877.3 L432.0,877.3 L432.5,877.3 L433.0,877.3 L433.5,877.3 L434.0,877.3 L434.5,877.3 L435.0,877.3 L435.5,877.3 L436.0,877.3 L436.5,877.3 L437.0,877.3 L437.5,877.3 L438.0,877.3 L438.5,877.3 L439.0,877.3 L439.5,877.3 L440.0,877.3 L440.5,877.3 L441.0,877.3 L441.5,877.3 L442.0,877.3 L442.5,877.3 L443.0,877.3 L443.5,877.3 L444.0,877.3 L444.5,877.3 L445.0,877.3 L445.5,877.3 L446.0,877.3 L446.5,877.3 L447.0,877.3 L447.5,877.3 L448.0,877.3 L448.5,877.3 L449.0,877.3 L449.5,877.3 L450.0,877.3 L450.5,877.3 L451.0,877.3 L451.5,877.3 L452.0,877.3 L452.5,877.3 L453.0,877.3 L453.5,877.3 L454.0,877.3 L454.5,877.3 L455.0,877.3 L455.5,877.3 L456.0,877.3 L456.5,877.3 L457.0,877.3 L457.5,877.3 L458.0,877.3 L458.5,877.3 L459.0,877.3 L459.5,877.3 L460.0,877.3 L460.5,877.3 L461.0,877.3 L461.5,877.3 L462.0,877.3 L462.5,877.3 L463.0,877.3 L463.5,877.3 L464.0,877.3 L464.5,877.3 L465.0,877.3 L465.5,877.3 L466.0,877.3 L466.5,877.3 L467.0,877.3 L467.5,877.3 L468.0,877.3 L468.5,877.3 L469.0,877.3 L469.5,877.3 L470.0,877.3 L470.5,877.3 L471.0,877.3 L471.5,877.3 L472.0,877.3 L472.5,877.3 L473.0,877.3 L473.5,877.3 L474.0,877.3 L474.5,877.3 L475.0,877.3 L475.5,877.3 L476.0,877.3 L476.5,877.3 L477.0,877.3 L477.5,877.3 L478.0,877.3 L478.5,877.3 L479.0,877.3 L479.5,877.3 L480.0,877.3 L480.5,877.3 L481.0,877.3 L481.5,877.3 L482.0,877.3 L482.5,877.3 L483.0,877.3 L483.5,877.3 L484.0,877.3 L484.5,877.3 L485.0,877.3 L485.5,877.3 L486.0,877.3 L486.5,877.3 L487.0,877.3 L487.5,877.3 L488.0,877.3 L488.5,877.3 L489.0,877.3 L489.5,877.3 L490.0,877.3 L490.5,877.3 L491.0,877.3 L491.5,877.3 L492.0,877.3 L492.5,877.3 L493.0,877.3 L493.5,877.3 L494.0,877.3 L494.5,877.3 L495.0,877.3 L495.5,877.3 L496.0,877.3 L496.5,877.3 L497.0,877.3 L497.5,877.3 L498.0,877.3 L498.5,877.3 L499.0,877.3 L499.5,877.3 L500.0,877.3 L500.5,877.3 L501.0,877.3 L501.5,877.3 L502.0,877.3 L502.5,877.3 L503.0,877.3 L503.5,877.3 L504.0,877.3 L504.5,877.3 L505.0,877.3 L505.5,877.3 L506.0,877.3 L506.5,877.3 L507.0,877.3 L507.5,877.3 L508.0,877.3 L508.5,877.3 L509.0,877.3 L509.5,877.3 L510.0,877.3 L510.5,877.3 L511.0,877.3 L511.5,877.3 L512.0,877.3 L512.5,877.3 L513.0,877.3 L513.5,877.3 L514.0,877.3 L514.5,877.3 L515.0,877.3 L515.5,877.3 L516.0,877.3 L516.5,877.3 L517.0,877.3 L517.5,877.3 L518.0,877.3 L518.5,877.3 L519.0,877.3 L519.5,877.3 L520.0,877.3 L520.5,877.3 L521.0,877.3 L521.5,877.3 L522.0,877.3 L522.5,877.3 L523.0,877.3 L523.5,877.3 L524.0,877.3 L524.5,877.3 L525.0,877.3 L525.5,877.3 L526.0,877.3 L526.5,877.3 L527.0,877.3 L527.5,877.3 L528.0,877.3 L528.5,877.3 L529.0,877.3 L529.5,877.3 L530.0,877.3 L530.5,877.3 L531.0,877.3 L531.5,877.3 L532.0,877.3 L532.5,877.3 L533.0,877.3 L533.5,877.3 L534.0,877.3 L534.5,877.3 L535.0,877.3 L535.5,877.3 L536.0,877.3 L536.5,877.3 L537.0,877.3 L537.5,877.3 L538.0,877.3 L538.5,877.3 L539.0,877.3 L539.5,877.3 L540.0,877.3 L540.5,877.3 L541.0,877.3 L541.5,877.3 L542.0,877.3 L542.5,877.3 L543.0,877.3 L543.5,877.3 L544.0,877.3 L544.5,877.3 L545.0,877.3 L545.5,877.3 L546.0,877.3 L546.5,877.3 L547.0,877.3 L547.5,877.3 L548.0,877.3" fill="none" stroke="#000" stroke-width="2.2" stroke-dasharray="6.5,3.3"/>
<path d="M58.3,760.2 L58.8,760.2 L59.3,760.2 L59.8,760.2 L60.3,760.2 L60.8,760.2 L61.3,760.2 L61.8,760.2 L62.3,760.2 L62.8,760.2 L63.3,760.2 L63.8,760.2 L64.3,760.2 L64.8,760.2 L65.3,760.2 L65.8,760.2 L66.3,760.2 L66.8,760.2 L67.3,760.2 L67.8,760.2 L68.3,760.2 L68.8,760.2 L69.3,760.2 L69.8,760.1 L70.3,760.1 L70.8,760.1 L71.3,760.1 L71.8,760.1 L72.3,760.1 L72.8,760.1 L73.3,760.1 L73.8,760.1 L74.3,760.1 L74.8,760.1 L75.3,760.1 L75.8,760.1 L76.3,760.1 L76.8,760.1 L77.3,760.1 L77.8,760.1 L78.3,760.1 L78.8,760.1 L79.3,760.0 L79.8,760.0 L80.3,760.0 L80.8,760.0 L81.3,760.0 L81.8,760.0 L82.3,760.0 L82.8,760.0 L83.3,760.0 L83.8,760.0 L84.3,760.0 L84.8,760.0 L85.3,760.0 L85.8,760.0 L86.3,759.9 L86.8,759.9 L87.3,759.9 L87.8,759.9 L88.3,759.9 L88.8,759.9 L89.3,759.9 L89.8,759.9 L90.3,759.9 L90.8,759.9 L91.3,759.9 L91.8,759.8 L92.3,759.8 L92.8,759.8 L93.3,759.8 L93.8,759.8 L94.3,759.8 L94.8,759.8 L95.3,759.8 L95.8,759.8 L96.3,759.8 L96.8,759.7 L97.3,759.7 L97.8,759.7 L98.3,759.7 L98.8,759.7 L99.3,759.7 L99.8,759.7 L100.3,759.7 L100.8,759.7 L101.3,759.6 L101.8,759.6 L102.3,759.6 L102.8,759.6 L103.3,759.6 L103.8,759.6 L104.3,759.5 L104.8,759.5 L105.3,759.5 L105.8,759.5 L106.3,759.4 L106.8,759.4 L107.3,759.4 L107.8,759.4 L108.3,759.3 L108.8,759.3 L109.3,759.3 L109.8,759.2 L110.3,759.2 L110.8,759.2 L111.3,759.2 L111.8,759.1 L112.3,759.1 L112.8,759.1 L113.3,759.0 L113.8,759.0 L114.3,758.9 L114.8,758.9 L115.3,758.9 L115.8,758.8 L116.3,758.8 L116.8,758.8 L117.3,758.7 L117.8,758.7 L118.3,758.7 L118.8,758.6 L119.3,758.6 L119.8,758.5 L120.3,758.5 L120.8,758.5 L121.3,758.4 L121.8,758.4 L122.3,758.3 L122.8,758.3 L123.3,758.3 L123.8,758.2 L124.3,758.2 L124.8,758.1 L125.3,758.1 L125.8,758.0 L126.3,758.0 L126.8,757.9 L127.3,757.9 L127.8,757.9 L128.3,757.8 L128.8,757.7 L129.3,757.7 L129.8,757.6 L130.3,757.6 L130.8,757.5 L131.3,757.5 L131.8,757.4 L132.3,757.4 L132.8,757.3 L133.3,757.2 L133.8,757.2 L134.3,757.1 L134.8,757.1 L135.3,757.0 L135.8,756.9 L136.3,756.9 L136.8,756.8 L137.3,756.8 L137.8,756.7 L138.3,756.6 L138.8,756.6 L139.3,756.5 L139.8,756.4 L140.3,756.4 L140.8,756.3 L141.3,756.2 L141.8,756.1 L142.3,756.1 L142.8,756.0 L143.3,755.9 L143.8,755.9 L144.3,755.8 L144.8,755.7 L145.3,755.6 L145.8,755.6 L146.3,755.5 L146.8,755.4 L147.3,755.4 L147.8,755.3 L148.3,755.2 L148.8,755.1 L149.3,755.0 L149.8,755.0 L150.3,754.9 L150.8,754.8 L151.3,754.7 L151.8,754.6 L152.3,754.5 L152.8,754.4 L153.3,754.4 L153.8,754.3 L154.3,754.2 L154.8,754.1 L155.3,754.0 L155.8,753.9 L156.3,753.8 L156.8,753.7 L157.3,753.6 L157.8,753.5 L158.3,753.4 L158.8,753.3 L159.3,753.2 L159.8,753.1 L160.3,753.0 L160.8,752.9 L161.3,752.8 L161.8,752.7 L162.3,752.6 L162.8,752.5 L163.3,752.4 L163.8,752.3 L164.3,752.2 L164.8,752.1 L165.3,752.0 L165.8,751.9 L166.3,751.8 L166.8,751.7 L167.3,751.6 L167.8,751.5 L168.3,751.4 L168.8,751.3 L169.3,751.2 L169.8,751.0 L170.3,750.9 L170.8,750.8 L171.3,750.7 L171.8,750.6 L172.3,750.5 L172.8,750.4 L173.3,750.3 L173.8,750.2 L174.3,750.0 L174.8,749.9 L175.3,749.8 L175.8,749.7 L176.3,749.6 L176.8,749.4 L177.3,749.3 L177.8,749.2 L178.3,749.1 L178.8,749.0 L179.3,748.8 L179.8,748.7 L180.3,748.6 L180.8,748.5 L181.3,748.3 L181.8,748.2 L182.3,748.1 L182.8,747.9 L183.3,747.8 L183.8,747.7 L184.3,747.6 L184.8,747.4 L185.3,747.3 L185.8,747.2 L186.3,747.0 L186.8,746.9 L187.3,746.8 L187.8,746.7 L188.3,746.5 L188.8,746.4 L189.3,746.3 L189.8,746.1 L190.3,746.0 L190.8,745.9 L191.3,745.7 L191.8,745.6 L192.3,745.5 L192.8,745.3 L193.3,745.2 L193.8,745.1 L194.3,745.0 L194.8,744.8 L195.3,744.7 L195.8,744.6 L196.3,744.4 L196.8,744.3 L197.3,744.2 L197.8,744.1 L198.3,743.9 L198.8,743.8 L199.3,743.7 L199.8,743.5 L200.3,743.4 L200.8,743.3 L201.3,743.2 L201.8,743.1 L202.3,742.9 L202.8,742.8 L203.3,742.7 L203.8,742.6 L204.3,742.5 L204.8,742.3 L205.3,742.2 L205.8,742.1 L206.3,742.0 L206.8,741.9 L207.3,741.8 L207.8,741.6 L208.3,741.5 L208.8,741.4 L209.3,741.3 L209.8,741.2 L210.3,741.0 L210.8,740.9 L211.3,740.8 L211.8,740.7 L212.3,740.6 L212.8,740.4 L213.3,740.3 L213.8,740.2 L214.3,740.0 L214.8,739.9 L215.3,739.8 L215.8,739.6 L216.3,739.5 L216.8,739.4 L217.3,739.2 L217.8,739.1 L218.3,738.9 L218.8,738.8 L219.3,738.6 L219.8,738.5 L220.3,738.3 L220.8,738.2 L221.3,738.0 L221.8,737.9 L222.3,737.7 L222.8,737.5 L223.3,737.4 L223.8,737.2 L224.3,737.0 L224.8,736.9 L225.3,736.7 L225.8,736.5 L226.3,736.4 L226.8,736.2 L227.3,736.0 L227.8,735.8 L228.3,735.6 L228.8,735.5 L229.3,735.3 L229.8,735.1 L230.3,734.9 L230.8,734.7 L231.3,734.5 L231.8,734.3 L232.3,734.2 L232.8,734.0 L233.3,733.8 L233.8,733.6 L234.3,733.4 L234.8,733.2 L235.3,733.0 L235.8,732.8 L236.3,732.6 L236.8,732.4 L237.3,732.2 L237.8,732.0 L238.3,731.8 L238.8,731.6 L239.3,731.4 L239.8,731.2 L240.3,731.0 L240.8,730.8 L241.3,730.6 L241.8,730.4 L242.3,730.2 L242.8,729.9 L243.3,729.7 L243.8,729.5 L244.3,729.3 L244.8,729.1 L245.3,728.9 L245.8,728.6 L246.3,728.4 L246.8,728.2 L247.3,728.0 L247.8,727.7 L248.3,727.5 L248.8,727.3 L249.3,727.0 L249.8,726.8 L250.3,726.6 L250.8,726.3 L251.3,726.1 L251.8,725.8 L252.3,725.6 L252.8,725.3 L253.3,725.1 L253.8,724.8 L254.3,724.6 L254.8,724.3 L255.3,724.0 L255.8,723.7 L256.3,723.5 L256.8,723.2 L257.3,722.9 L257.8,722.6 L258.3,722.3 L258.8,722.0 L259.3,721.7 L259.8,721.4 L260.3,721.0 L260.8,720.7 L261.3,720.4 L261.8,720.1 L262.3,719.8 L262.8,719.5 L263.3,719.1 L263.8,718.8 L264.3,718.5 L264.8,718.2 L265.3,717.8 L265.8,717.5 L266.3,717.2 L266.8,716.8 L267.3,716.5 L267.8,716.1 L268.3,715.8 L268.8,715.4 L269.3,715.1 L269.8,714.7 L270.3,714.4 L270.8,714.0 L271.3,713.7 L271.8,713.3 L272.3,712.9 L272.8,712.6 L273.3,712.2 L273.8,711.8 L274.3,711.4 L274.8,711.0 L275.3,710.6 L275.8,710.2 L276.3,709.9 L276.8,709.5 L277.3,709.1 L277.8,708.6 L278.3,708.2 L278.8,707.8 L279.3,707.4 L279.8,707.0 L280.3,706.6 L280.8,706.2 L281.3,705.7 L281.8,705.3 L282.3,704.9 L282.8,704.4 L283.3,704.0 L283.8,703.6 L284.3,703.1 L284.8,702.6 L285.3,702.2 L285.8,701.7 L286.3,701.3 L286.8,700.8 L287.3,700.3 L287.8,699.9 L288.3,699.4 L288.8,698.9 L289.3,698.5 L289.8,698.0 L290.3,697.6 L290.8,697.1 L291.3,696.7 L291.8,696.2 L292.3,695.8 L292.8,695.4 L293.3,695.0 L293.8,694.5 L294.3,694.1 L294.8,693.7 L295.3,693.3 L295.8,692.9 L296.3,692.4 L296.8,692.0 L297.3,691.6 L297.8,691.1 L298.3,690.6 L298.8,690.2 L299.3,689.7 L299.8,689.2 L300.3,688.7 L300.8,688.1 L301.3,687.6 L301.8,687.0 L302.3,686.3 L302.8,685.7 L303.3,685.1 L303.8,684.4 L304.3,683.7 L304.8,683.1 L305.3,682.4 L305.8,681.8 L306.3,681.1 L306.8,680.5 L307.3,679.9 L307.8,679.4 L308.3,678.9 L308.8,678.4 L309.3,677.9 L309.8,677.5 L310.3,677.1 L310.8,676.7 L311.3,676.3 L311.8,675.9 L312.3,675.5 L312.8,675.1 L313.3,674.7 L313.8,674.4 L314.3,674.1 L314.8,673.7 L315.3,673.4 L315.8,673.1 L316.3,672.8 L316.8,672.5 L317.3,672.2 L317.8,672.0 L318.3,671.7 L318.8,671.4 L319.3,671.2 L319.8,670.9 L320.3,670.7 L320.8,670.4 L321.3,670.2 L321.8,669.9 L322.3,669.7 L322.8,669.5 L323.3,669.3 L323.8,669.1 L324.3,668.9 L324.8,668.7 L325.3,668.5 L325.8,668.4 L326.3,668.3 L326.8,668.2 L327.3,668.1 L327.8,668.0 L328.3,667.9 L328.8,667.9 L329.3,667.8 L329.8,667.7 L330.3,667.6 L330.8,667.6 L331.3,667.5 L331.8,667.5 L332.3,667.4 L332.8,667.4 L333.3,667.3 L333.8,667.3 L334.3,667.3 L334.8,667.2 L335.3,667.2 L335.8,667.2 L336.3,667.2 L336.8,667.2 L337.3,667.2 L337.8,667.3 L338.3,667.3 L338.8,667.4 L339.3,667.4 L339.8,667.5 L340.3,667.6 L340.8,667.7 L341.3,667.7 L341.8,667.8 L342.3,668.0 L342.8,668.1 L343.3,668.2 L343.8,668.3 L344.3,668.4 L344.8,668.5 L345.3,668.7 L345.8,668.8 L346.3,669.0 L346.8,669.1 L347.3,669.3 L347.8,669.6 L348.3,669.8 L348.8,670.1 L349.3,670.3 L349.8,670.6 L350.3,670.9 L350.8,671.2 L351.3,671.5 L351.8,671.9 L352.3,672.2 L352.8,672.5 L353.3,672.9 L353.8,673.2 L354.3,673.5 L354.8,673.9 L355.3,674.2 L355.8,674.6 L356.3,675.0 L356.8,675.4 L357.3,675.8 L357.8,676.2 L358.3,676.7 L358.8,677.1 L359.3,677.6 L359.8,678.0 L360.3,678.5 L360.8,679.0 L361.3,679.5 L361.8,680.0 L362.3,680.5 L362.8,681.0 L363.3,681.5 L363.8,682.0 L364.3,682.5 L364.8,683.1 L365.3,683.7 L365.8,684.2 L366.3,684.8 L366.8,685.4 L367.3,686.0 L367.8,686.6 L368.3,687.3 L368.8,687.9 L369.3,688.5 L369.8,689.1 L370.3,689.8 L370.8,690.4 L371.3,691.0 L371.8,691.6 L372.3,692.2 L372.8,692.8 L373.3,693.4 L373.8,694.0 L374.3,694.6 L374.8,695.2 L375.3,695.8 L375.8,696.4 L376.3,697.0 L376.8,697.6 L377.3,698.2 L377.8,698.8 L378.3,699.4 L378.8,700.0 L379.3,700.6 L379.8,701.2 L380.3,701.8 L380.8,702.4 L381.3,703.0 L381.8,703.6 L382.3,704.2 L382.8,704.8 L383.3,705.4 L383.8,706.0 L384.3,706.7 L384.8,707.3 L385.3,707.9 L385.8,708.5 L386.3,709.1 L386.8,709.7 L387.3,710.3 L387.8,710.9 L388.3,711.5 L388.8,712.1 L389.3,712.7 L389.8,713.3 L390.3,713.9 L390.8,714.5 L391.3,715.1 L391.8,715.7 L392.3,716.3 L392.8,716.9 L393.3,717.5 L393.8,718.1 L394.3,718.7 L394.8,719.3 L395.3,719.9 L395.8,720.5 L396.3,721.1 L396.8,721.7 L397.3,722.3 L397.8,722.9 L398.3,723.4 L398.8,724.0 L399.3,724.5 L399.8,725.1 L400.3,725.6 L400.8,726.2 L401.3,726.7 L401.8,727.2 L402.3,727.8 L402.8,728.3 L403.3,728.8 L403.8,729.4 L404.3,729.9 L404.8,730.4 L405.3,731.0 L405.8,731.5 L406.3,732.0 L406.8,732.5 L407.3,733.1 L407.8,733.6 L408.3,734.1 L408.8,734.6 L409.3,735.1 L409.8,735.6 L410.3,736.0 L410.8,736.5 L411.3,737.0 L411.8,737.5 L412.3,737.9 L412.8,738.4 L413.3,738.8 L413.8,739.2 L414.3,739.7 L414.8,740.1 L415.3,740.5 L415.8,740.9 L416.3,741.3 L416.8,741.6 L417.3,742.0 L417.8,742.4 L418.3,742.8 L418.8,743.1 L419.3,743.5 L419.8,743.9 L420.3,744.2 L420.8,744.6 L421.3,744.9 L421.8,745.3 L422.3,745.6 L422.8,746.0 L423.3,746.3 L423.8,746.6 L424.3,747.0 L424.8,747.3 L425.3,747.6 L425.8,747.9 L426.3,748.3 L426.8,748.6 L427.3,748.9 L427.8,749.2 L428.3,749.5 L428.8,749.8 L429.3,750.0 L429.8,750.3 L430.3,750.6 L430.8,750.8 L431.3,751.1 L431.8,751.3 L432.3,751.6 L432.8,751.8 L433.3,752.0 L433.8,752.2 L434.3,752.5 L434.8,752.7 L435.3,752.9 L435.8,753.0 L436.3,753.2 L436.8,753.4 L437.3,753.6 L437.8,753.7 L438.3,753.9 L438.8,754.1 L439.3,754.3 L439.8,754.4 L440.3,754.6 L440.8,754.8 L441.3,754.9 L441.8,755.1 L442.3,755.2 L442.8,755.4 L443.3,755.5 L443.8,755.7 L444.3,755.8 L444.8,755.9 L445.3,756.1 L445.8,756.2 L446.3,756.3 L446.8,756.5 L447.3,756.6 L447.8,756.7 L448.3,756.8 L448.8,756.9 L449.3,757.1 L449.8,757.2 L450.3,757.3 L450.8,757.4 L451.3,757.5 L451.8,757.5 L452.3,757.6 L452.8,757.7 L453.3,757.8 L453.8,757.9 L454.3,757.9 L454.8,758.0 L455.3,758.0 L455.8,758.1 L456.3,758.2 L456.8,758.2 L457.3,758.3 L457.8,758.3 L458.3,758.4 L458.8,758.4 L459.3,758.5 L459.8,758.5 L460.3,758.6 L460.8,758.6 L461.3,758.7 L461.8,758.7 L462.3,758.8 L462.8,758.8 L463.3,758.9 L463.8,758.9 L464.3,759.0 L464.8,759.0 L465.3,759.0 L465.8,759.1 L466.3,759.1 L466.8,759.2 L467.3,759.2 L467.8,759.2 L468.3,759.2 L468.8,759.3 L469.3,759.3 L469.8,759.3 L470.3,759.4 L470.8,759.4 L471.3,759.4 L471.8,759.4 L472.3,759.4 L472.8,759.5 L473.3,759.5 L473.8,759.5 L474.3,759.5 L474.8,759.5 L475.3,759.5 L475.8,759.5 L476.3,759.6 L476.8,759.6 L477.3,759.6 L477.8,759.6 L478.3,759.6 L478.8,759.6 L479.3,759.6 L479.8,759.6 L480.3,759.7 L480.8,759.7 L481.3,759.7 L481.8,759.7 L482.3,759.7 L482.8,759.7 L483.3,759.7 L483.8,759.7 L484.3,759.7 L484.8,759.7 L485.3,759.7 L485.8,759.8 L486.3,759.8 L486.8,759.8 L487.3,759.8 L487.8,759.8 L488.3,759.8 L488.8,759.8 L489.3,759.8 L489.8,759.8 L490.3,759.8 L490.8,759.8 L491.3,759.8 L491.8,759.8 L492.3,759.8 L492.8,759.8 L493.3,759.9 L493.8,759.9 L494.3,759.9 L494.8,759.9 L495.3,759.9 L495.8,759.9 L496.3,759.9 L496.8,759.9 L497.3,759.9 L497.8,759.9 L498.3,759.9 L498.8,759.9 L499.3,759.9 L499.8,759.9 L500.3,759.9 L500.8,759.9 L501.3,759.9 L501.8,759.9 L502.3,759.9 L502.8,759.9 L503.3,759.9 L503.8,759.9 L504.3,759.9 L504.8,759.9 L505.3,759.9 L505.8,759.9 L506.3,759.9 L506.8,759.9 L507.3,759.9 L507.8,759.9 L508.3,759.9 L508.8,759.9 L509.3,759.9 L509.8,759.9 L510.3,759.9 L510.8,759.9 L511.3,759.9 L511.8,759.9 L512.3,759.9 L512.8,759.9 L513.3,759.9 L513.8,759.9 L514.3,759.9 L514.8,760.0 L515.3,760.0 L515.8,760.0 L516.3,760.0 L516.8,760.0 L517.3,760.0 L517.8,760.0 L518.3,760.0 L518.8,760.0 L519.3,760.0 L519.8,760.0 L520.3,760.0 L520.8,760.0 L521.3,760.0 L521.8,760.0 L522.3,760.0 L522.8,760.0 L523.3,760.0 L523.8,760.0 L524.3,760.0 L524.8,760.0 L525.3,760.0 L525.8,760.0 L526.3,760.0 L526.8,760.0 L527.3,760.0 L527.8,760.0 L528.3,760.0 L528.8,760.0 L529.3,760.0 L529.8,760.0 L530.3,760.0 L530.8,760.0 L531.3,760.0 L531.8,760.0 L532.3,760.0 L532.8,760.0 L533.3,760.0 L533.8,760.0 L534.3,760.0 L534.8,760.0 L535.3,760.0 L535.8,760.0 L536.3,760.0 L536.8,760.0 L537.3,760.0 L537.8,760.0 L538.3,760.0 L538.8,760.0 L539.3,760.0 L539.8,760.0 L540.3,760.0 L540.8,760.0 L541.3,760.0 L541.8,760.0 L542.3,760.0 L542.8,760.0 L543.3,760.0 L543.8,760.0 L544.3,760.0 L544.8,760.0 L545.3,760.0 L545.8,760.0 L546.3,760.0 L546.8,760.0 L547.3,760.0 L547.8,760.0 L548.0,760.0" fill="none" stroke="#000" stroke-width="2.6" stroke-linejoin="round"/>
<path d="M58.3,876.1 L58.8,876.1 L59.3,876.1 L59.8,876.1 L60.3,876.1 L60.8,876.1 L61.3,876.1 L61.8,876.1 L62.3,876.1 L62.8,876.1 L63.3,876.1 L63.8,876.1 L64.3,876.1 L64.8,876.1 L65.3,876.1 L65.8,876.1 L66.3,876.1 L66.8,876.1 L67.3,876.1 L67.8,876.1 L68.3,876.1 L68.8,876.1 L69.3,876.1 L69.8,876.1 L70.3,876.1 L70.8,876.1 L71.3,876.1 L71.8,876.1 L72.3,876.1 L72.8,876.0 L73.3,876.0 L73.8,876.0 L74.3,876.0 L74.8,876.0 L75.3,876.0 L75.8,876.0 L76.3,876.0 L76.8,876.0 L77.3,876.0 L77.8,876.0 L78.3,876.0 L78.8,876.0 L79.3,876.0 L79.8,876.0 L80.3,876.0 L80.8,876.0 L81.3,876.0 L81.8,876.0 L82.3,876.0 L82.8,876.0 L83.3,876.0 L83.8,876.0 L84.3,875.9 L84.8,875.9 L85.3,875.9 L85.8,875.9 L86.3,875.9 L86.8,875.9 L87.3,875.9 L87.8,875.9 L88.3,875.9 L88.8,875.9 L89.3,875.9 L89.8,875.9 L90.3,875.9 L90.8,875.9 L91.3,875.9 L91.8,875.9 L92.3,875.8 L92.8,875.8 L93.3,875.8 L93.8,875.8 L94.3,875.8 L94.8,875.8 L95.3,875.8 L95.8,875.8 L96.3,875.8 L96.8,875.8 L97.3,875.8 L97.8,875.8 L98.3,875.7 L98.8,875.7 L99.3,875.7 L99.8,875.7 L100.3,875.7 L100.8,875.7 L101.3,875.6 L101.8,875.6 L102.3,875.6 L102.8,875.6 L103.3,875.5 L103.8,875.5 L104.3,875.5 L104.8,875.5 L105.3,875.4 L105.8,875.4 L106.3,875.4 L106.8,875.3 L107.3,875.3 L107.8,875.3 L108.3,875.2 L108.8,875.2 L109.3,875.2 L109.8,875.1 L110.3,875.1 L110.8,875.0 L111.3,875.0 L111.8,875.0 L112.3,874.9 L112.8,874.9 L113.3,874.8 L113.8,874.8 L114.3,874.7 L114.8,874.7 L115.3,874.7 L115.8,874.6 L116.3,874.6 L116.8,874.5 L117.3,874.5 L117.8,874.4 L118.3,874.4 L118.8,874.3 L119.3,874.3 L119.8,874.2 L120.3,874.2 L120.8,874.1 L121.3,874.1 L121.8,874.0 L122.3,873.9 L122.8,873.9 L123.3,873.8 L123.8,873.7 L124.3,873.6 L124.8,873.6 L125.3,873.5 L125.8,873.4 L126.3,873.3 L126.8,873.2 L127.3,873.1 L127.8,873.0 L128.3,872.9 L128.8,872.8 L129.3,872.7 L129.8,872.6 L130.3,872.5 L130.8,872.4 L131.3,872.3 L131.8,872.2 L132.3,872.1 L132.8,872.0 L133.3,871.9 L133.8,871.7 L134.3,871.6 L134.8,871.5 L135.3,871.4 L135.8,871.2 L136.3,871.1 L136.8,871.0 L137.3,870.9 L137.8,870.7 L138.3,870.6 L138.8,870.5 L139.3,870.3 L139.8,870.2 L140.3,870.0 L140.8,869.9 L141.3,869.8 L141.8,869.6 L142.3,869.5 L142.8,869.3 L143.3,869.2 L143.8,869.1 L144.3,868.9 L144.8,868.8 L145.3,868.6 L145.8,868.5 L146.3,868.3 L146.8,868.2 L147.3,868.0 L147.8,867.9 L148.3,867.7 L148.8,867.5 L149.3,867.3 L149.8,867.2 L150.3,867.0 L150.8,866.8 L151.3,866.6 L151.8,866.4 L152.3,866.2 L152.8,866.0 L153.3,865.8 L153.8,865.6 L154.3,865.4 L154.8,865.2 L155.3,865.0 L155.8,864.7 L156.3,864.5 L156.8,864.3 L157.3,864.1 L157.8,863.9 L158.3,863.6 L158.8,863.4 L159.3,863.2 L159.8,862.9 L160.3,862.7 L160.8,862.5 L161.3,862.3 L161.8,862.0 L162.3,861.8 L162.8,861.6 L163.3,861.3 L163.8,861.1 L164.3,860.9 L164.8,860.6 L165.3,860.4 L165.8,860.2 L166.3,859.9 L166.8,859.7 L167.3,859.5 L167.8,859.2 L168.3,859.0 L168.8,858.8 L169.3,858.6 L169.8,858.3 L170.3,858.1 L170.8,857.9 L171.3,857.7 L171.8,857.5 L172.3,857.2 L172.8,857.0 L173.3,856.8 L173.8,856.6 L174.3,856.4 L174.8,856.1 L175.3,855.9 L175.8,855.7 L176.3,855.5 L176.8,855.2 L177.3,855.0 L177.8,854.8 L178.3,854.6 L178.8,854.3 L179.3,854.1 L179.8,853.9 L180.3,853.7 L180.8,853.4 L181.3,853.2 L181.8,853.0 L182.3,852.8 L182.8,852.5 L183.3,852.3 L183.8,852.1 L184.3,851.8 L184.8,851.6 L185.3,851.4 L185.8,851.2 L186.3,850.9 L186.8,850.7 L187.3,850.5 L187.8,850.2 L188.3,850.0 L188.8,849.8 L189.3,849.5 L189.8,849.3 L190.3,849.1 L190.8,848.8 L191.3,848.6 L191.8,848.4 L192.3,848.1 L192.8,847.9 L193.3,847.7 L193.8,847.4 L194.3,847.2 L194.8,847.0 L195.3,846.7 L195.8,846.5 L196.3,846.3 L196.8,846.0 L197.3,845.8 L197.8,845.5 L198.3,845.3 L198.8,845.0 L199.3,844.8 L199.8,844.5 L200.3,844.3 L200.8,844.0 L201.3,843.8 L201.8,843.5 L202.3,843.3 L202.8,843.0 L203.3,842.8 L203.8,842.6 L204.3,842.3 L204.8,842.1 L205.3,841.9 L205.8,841.6 L206.3,841.4 L206.8,841.2 L207.3,841.0 L207.8,840.8 L208.3,840.6 L208.8,840.4 L209.3,840.2 L209.8,840.0 L210.3,839.8 L210.8,839.5 L211.3,839.3 L211.8,839.1 L212.3,838.9 L212.8,838.7 L213.3,838.5 L213.8,838.3 L214.3,838.1 L214.8,837.9 L215.3,837.7 L215.8,837.5 L216.3,837.3 L216.8,837.1 L217.3,836.9 L217.8,836.7 L218.3,836.5 L218.8,836.3 L219.3,836.0 L219.8,835.8 L220.3,835.6 L220.8,835.4 L221.3,835.2 L221.8,835.0 L222.3,834.8 L222.8,834.6 L223.3,834.4 L223.8,834.2 L224.3,834.0 L224.8,833.8 L225.3,833.6 L225.8,833.3 L226.3,833.1 L226.8,832.9 L227.3,832.7 L227.8,832.5 L228.3,832.3 L228.8,832.1 L229.3,831.8 L229.8,831.6 L230.3,831.4 L230.8,831.2 L231.3,830.9 L231.8,830.7 L232.3,830.5 L232.8,830.3 L233.3,830.0 L233.8,829.8 L234.3,829.6 L234.8,829.3 L235.3,829.1 L235.8,828.9 L236.3,828.6 L236.8,828.4 L237.3,828.2 L237.8,827.9 L238.3,827.7 L238.8,827.4 L239.3,827.2 L239.8,827.0 L240.3,826.7 L240.8,826.5 L241.3,826.2 L241.8,826.0 L242.3,825.7 L242.8,825.5 L243.3,825.2 L243.8,824.9 L244.3,824.7 L244.8,824.4 L245.3,824.1 L245.8,823.9 L246.3,823.6 L246.8,823.3 L247.3,823.0 L247.8,822.7 L248.3,822.4 L248.8,822.1 L249.3,821.8 L249.8,821.5 L250.3,821.2 L250.8,820.8 L251.3,820.5 L251.8,820.2 L252.3,819.8 L252.8,819.5 L253.3,819.1 L253.8,818.7 L254.3,818.4 L254.8,818.0 L255.3,817.6 L255.8,817.2 L256.3,816.8 L256.8,816.4 L257.3,816.0 L257.8,815.6 L258.3,815.2 L258.8,814.8 L259.3,814.4 L259.8,814.0 L260.3,813.6 L260.8,813.2 L261.3,812.8 L261.8,812.4 L262.3,812.0 L262.8,811.6 L263.3,811.2 L263.8,810.8 L264.3,810.4 L264.8,810.0 L265.3,809.6 L265.8,809.2 L266.3,808.8 L266.8,808.4 L267.3,808.0 L267.8,807.6 L268.3,807.1 L268.8,806.7 L269.3,806.3 L269.8,805.9 L270.3,805.5 L270.8,805.0 L271.3,804.6 L271.8,804.2 L272.3,803.8 L272.8,803.3 L273.3,802.9 L273.8,802.5 L274.3,802.1 L274.8,801.7 L275.3,801.2 L275.8,800.8 L276.3,800.4 L276.8,800.0 L277.3,799.6 L277.8,799.2 L278.3,798.8 L278.8,798.4 L279.3,798.0 L279.8,797.7 L280.3,797.3 L280.8,796.9 L281.3,796.6 L281.8,796.2 L282.3,795.9 L282.8,795.5 L283.3,795.2 L283.8,794.9 L284.3,794.5 L284.8,794.2 L285.3,793.8 L285.8,793.5 L286.3,793.1 L286.8,792.8 L287.3,792.5 L287.8,792.1 L288.3,791.8 L288.8,791.5 L289.3,791.2 L289.8,790.9 L290.3,790.5 L290.8,790.2 L291.3,789.9 L291.8,789.6 L292.3,789.4 L292.8,789.1 L293.3,788.8 L293.8,788.5 L294.3,788.2 L294.8,788.0 L295.3,787.7 L295.8,787.5 L296.3,787.2 L296.8,787.0 L297.3,786.8 L297.8,786.6 L298.3,786.4 L298.8,786.2 L299.3,786.0 L299.8,785.8 L300.3,785.6 L300.8,785.4 L301.3,785.2 L301.8,785.0 L302.3,784.8 L302.8,784.6 L303.3,784.4 L303.8,784.2 L304.3,784.0 L304.8,783.8 L305.3,783.6 L305.8,783.4 L306.3,783.3 L306.8,783.1 L307.3,782.9 L307.8,782.8 L308.3,782.6 L308.8,782.5 L309.3,782.4 L309.8,782.2 L310.3,782.1 L310.8,782.0 L311.3,781.9 L311.8,781.8 L312.3,781.7 L312.8,781.6 L313.3,781.5 L313.8,781.5 L314.3,781.4 L314.8,781.4 L315.3,781.3 L315.8,781.3 L316.3,781.2 L316.8,781.2 L317.3,781.1 L317.8,781.1 L318.3,781.1 L318.8,781.0 L319.3,781.0 L319.8,780.9 L320.3,780.9 L320.8,780.9 L321.3,780.9 L321.8,780.8 L322.3,780.8 L322.8,780.8 L323.3,780.8 L323.8,780.8 L324.3,780.8 L324.8,780.8 L325.3,780.8 L325.8,780.8 L326.3,780.8 L326.8,780.9 L327.3,780.9 L327.8,780.9 L328.3,781.0 L328.8,781.0 L329.3,781.1 L329.8,781.1 L330.3,781.2 L330.8,781.2 L331.3,781.3 L331.8,781.4 L332.3,781.4 L332.8,781.5 L333.3,781.6 L333.8,781.7 L334.3,781.7 L334.8,781.8 L335.3,781.9 L335.8,782.0 L336.3,782.1 L336.8,782.2 L337.3,782.3 L337.8,782.4 L338.3,782.5 L338.8,782.6 L339.3,782.7 L339.8,782.8 L340.3,782.9 L340.8,783.0 L341.3,783.2 L341.8,783.4 L342.3,783.5 L342.8,783.7 L343.3,784.0 L343.8,784.2 L344.3,784.4 L344.8,784.7 L345.3,785.0 L345.8,785.2 L346.3,785.5 L346.8,785.8 L347.3,786.1 L347.8,786.4 L348.3,786.7 L348.8,787.0 L349.3,787.3 L349.8,787.6 L350.3,788.0 L350.8,788.3 L351.3,788.7 L351.8,789.1 L352.3,789.5 L352.8,789.9 L353.3,790.3 L353.8,790.7 L354.3,791.1 L354.8,791.6 L355.3,792.0 L355.8,792.4 L356.3,792.9 L356.8,793.3 L357.3,793.8 L357.8,794.2 L358.3,794.7 L358.8,795.1 L359.3,795.6 L359.8,796.1 L360.3,796.6 L360.8,797.1 L361.3,797.6 L361.8,798.1 L362.3,798.6 L362.8,799.2 L363.3,799.7 L363.8,800.2 L364.3,800.7 L364.8,801.2 L365.3,801.7 L365.8,802.2 L366.3,802.7 L366.8,803.2 L367.3,803.7 L367.8,804.2 L368.3,804.6 L368.8,805.1 L369.3,805.5 L369.8,806.0 L370.3,806.4 L370.8,806.9 L371.3,807.3 L371.8,807.7 L372.3,808.2 L372.8,808.6 L373.3,809.1 L373.8,809.5 L374.3,809.9 L374.8,810.4 L375.3,810.8 L375.8,811.3 L376.3,811.7 L376.8,812.1 L377.3,812.6 L377.8,813.0 L378.3,813.5 L378.8,813.9 L379.3,814.4 L379.8,814.8 L380.3,815.3 L380.8,815.7 L381.3,816.2 L381.8,816.6 L382.3,817.1 L382.8,817.5 L383.3,818.0 L383.8,818.5 L384.3,818.9 L384.8,819.4 L385.3,819.8 L385.8,820.3 L386.3,820.7 L386.8,821.2 L387.3,821.6 L387.8,822.1 L388.3,822.5 L388.8,823.0 L389.3,823.5 L389.8,823.9 L390.3,824.4 L390.8,824.8 L391.3,825.3 L391.8,825.7 L392.3,826.2 L392.8,826.7 L393.3,827.1 L393.8,827.6 L394.3,828.0 L394.8,828.5 L395.3,828.9 L395.8,829.4 L396.3,829.8 L396.8,830.2 L397.3,830.7 L397.8,831.1 L398.3,831.6 L398.8,832.0 L399.3,832.5 L399.8,832.9 L400.3,833.4 L400.8,833.8 L401.3,834.2 L401.8,834.7 L402.3,835.1 L402.8,835.6 L403.3,836.0 L403.8,836.5 L404.3,836.9 L404.8,837.4 L405.3,837.8 L405.8,838.3 L406.3,838.8 L406.8,839.3 L407.3,839.7 L407.8,840.2 L408.3,840.7 L408.8,841.1 L409.3,841.6 L409.8,842.0 L410.3,842.5 L410.8,842.9 L411.3,843.3 L411.8,843.8 L412.3,844.2 L412.8,844.6 L413.3,844.9 L413.8,845.3 L414.3,845.7 L414.8,846.1 L415.3,846.5 L415.8,846.9 L416.3,847.2 L416.8,847.6 L417.3,847.9 L417.8,848.3 L418.3,848.6 L418.8,849.0 L419.3,849.3 L419.8,849.6 L420.3,850.0 L420.8,850.3 L421.3,850.6 L421.8,850.9 L422.3,851.1 L422.8,851.4 L423.3,851.7 L423.8,852.0 L424.3,852.2 L424.8,852.5 L425.3,852.8 L425.8,853.0 L426.3,853.2 L426.8,853.5 L427.3,853.7 L427.8,854.0 L428.3,854.2 L428.8,854.4 L429.3,854.7 L429.8,854.9 L430.3,855.1 L430.8,855.3 L431.3,855.6 L431.8,855.8 L432.3,856.0 L432.8,856.2 L433.3,856.4 L433.8,856.6 L434.3,856.8 L434.8,857.0 L435.3,857.2 L435.8,857.4 L436.3,857.6 L436.8,857.8 L437.3,858.0 L437.8,858.2 L438.3,858.4 L438.8,858.6 L439.3,858.8 L439.8,859.0 L440.3,859.2 L440.8,859.4 L441.3,859.6 L441.8,859.8 L442.3,860.0 L442.8,860.2 L443.3,860.4 L443.8,860.7 L444.3,860.9 L444.8,861.1 L445.3,861.3 L445.8,861.5 L446.3,861.7 L446.8,861.9 L447.3,862.1 L447.8,862.3 L448.3,862.5 L448.8,862.7 L449.3,862.9 L449.8,863.1 L450.3,863.3 L450.8,863.5 L451.3,863.7 L451.8,863.8 L452.3,864.0 L452.8,864.2 L453.3,864.3 L453.8,864.5 L454.3,864.7 L454.8,864.8 L455.3,865.0 L455.8,865.1 L456.3,865.3 L456.8,865.4 L457.3,865.6 L457.8,865.7 L458.3,865.9 L458.8,866.0 L459.3,866.2 L459.8,866.3 L460.3,866.5 L460.8,866.6 L461.3,866.7 L461.8,866.9 L462.3,867.0 L462.8,867.2 L463.3,867.3 L463.8,867.5 L464.3,867.6 L464.8,867.7 L465.3,867.9 L465.8,868.0 L466.3,868.2 L466.8,868.3 L467.3,868.4 L467.8,868.6 L468.3,868.7 L468.8,868.9 L469.3,869.0 L469.8,869.1 L470.3,869.3 L470.8,869.4 L471.3,869.5 L471.8,869.6 L472.3,869.7 L472.8,869.9 L473.3,870.0 L473.8,870.1 L474.3,870.2 L474.8,870.3 L475.3,870.4 L475.8,870.5 L476.3,870.6 L476.8,870.7 L477.3,870.8 L477.8,870.9 L478.3,870.9 L478.8,871.0 L479.3,871.1 L479.8,871.2 L480.3,871.3 L480.8,871.4 L481.3,871.4 L481.8,871.5 L482.3,871.6 L482.8,871.7 L483.3,871.8 L483.8,871.8 L484.3,871.9 L484.8,872.0 L485.3,872.1 L485.8,872.1 L486.3,872.2 L486.8,872.3 L487.3,872.3 L487.8,872.4 L488.3,872.5 L488.8,872.5 L489.3,872.6 L489.8,872.7 L490.3,872.7 L490.8,872.8 L491.3,872.9 L491.8,872.9 L492.3,873.0 L492.8,873.0 L493.3,873.1 L493.8,873.2 L494.3,873.2 L494.8,873.3 L495.3,873.3 L495.8,873.4 L496.3,873.4 L496.8,873.5 L497.3,873.6 L497.8,873.6 L498.3,873.7 L498.8,873.7 L499.3,873.8 L499.8,873.8 L500.3,873.9 L500.8,873.9 L501.3,874.0 L501.8,874.0 L502.3,874.1 L502.8,874.1 L503.3,874.2 L503.8,874.2 L504.3,874.3 L504.8,874.3 L505.3,874.4 L505.8,874.4 L506.3,874.5 L506.8,874.5 L507.3,874.5 L507.8,874.6 L508.3,874.6 L508.8,874.6 L509.3,874.7 L509.8,874.7 L510.3,874.7 L510.8,874.8 L511.3,874.8 L511.8,874.8 L512.3,874.8 L512.8,874.9 L513.3,874.9 L513.8,874.9 L514.3,874.9 L514.8,875.0 L515.3,875.0 L515.8,875.0 L516.3,875.0 L516.8,875.1 L517.3,875.1 L517.8,875.1 L518.3,875.1 L518.8,875.1 L519.3,875.2 L519.8,875.2 L520.3,875.2 L520.8,875.2 L521.3,875.2 L521.8,875.3 L522.3,875.3 L522.8,875.3 L523.3,875.3 L523.8,875.3 L524.3,875.4 L524.8,875.4 L525.3,875.4 L525.8,875.4 L526.3,875.4 L526.8,875.5 L527.3,875.5 L527.8,875.5 L528.3,875.5 L528.8,875.5 L529.3,875.5 L529.8,875.6 L530.3,875.6 L530.8,875.6 L531.3,875.6 L531.8,875.6 L532.3,875.6 L532.8,875.6 L533.3,875.7 L533.8,875.7 L534.3,875.7 L534.8,875.7 L535.3,875.7 L535.8,875.7 L536.3,875.7 L536.8,875.7 L537.3,875.8 L537.8,875.8 L538.3,875.8 L538.8,875.8 L539.3,875.8 L539.8,875.8 L540.3,875.8 L540.8,875.8 L541.3,875.8 L541.8,875.8 L542.3,875.8 L542.8,875.8 L543.3,875.9 L543.8,875.9 L544.3,875.9 L544.8,875.9 L545.3,875.9 L545.8,875.9 L546.3,875.9 L546.8,875.9 L547.3,875.9 L547.8,875.9 L548.0,875.9" fill="none" stroke="#000" stroke-width="2.6" stroke-linejoin="round"/>
<line x1="263.3" y1="684.5" x2="263.3" y2="769" stroke="#000" stroke-width="1.2"/>
<line x1="337.2" y1="658" x2="337.2" y2="746" stroke="#000" stroke-width="1.2"/>
<line x1="201.8" y1="807.6" x2="201.8" y2="869.9" stroke="#000" stroke-width="1.2"/>
<line x1="321.5" y1="760" x2="321.5" y2="830.5" stroke="#000" stroke-width="1.2"/>
<line x1="277.4" y1="653.5" x2="324.8" y2="653.5" stroke="#000" stroke-width="2.2"/><path d="M264.4,653.5 L278.4,648.5 L278.4,658.5 Z M337.8,653.5 L323.8,648.5 L323.8,658.5 Z" fill="#000"/>
<line x1="219.3" y1="806.8" x2="308.2" y2="806.8" stroke="#000" stroke-width="2.2"/><path d="M206.3,806.8 L220.3,801.8 L220.3,811.8 Z M321.2,806.8 L307.2,801.8 L307.2,811.8 Z" fill="#000"/>
<line x1="76.0" y1="899.5" x2="76.0" y2="889.5" stroke="#000" stroke-width="2"/>
<line x1="136.8" y1="899.5" x2="136.8" y2="889.5" stroke="#000" stroke-width="2"/>
<line x1="197.6" y1="899.5" x2="197.6" y2="889.5" stroke="#000" stroke-width="2"/>
<line x1="258.3" y1="899.5" x2="258.3" y2="889.5" stroke="#000" stroke-width="2"/>
<line x1="319.1" y1="899.5" x2="319.1" y2="889.5" stroke="#000" stroke-width="2"/>
<line x1="379.9" y1="899.5" x2="379.9" y2="889.5" stroke="#000" stroke-width="2"/>
<line x1="440.7" y1="899.5" x2="440.7" y2="889.5" stroke="#000" stroke-width="2"/>
<line x1="501.5" y1="899.5" x2="501.5" y2="889.5" stroke="#000" stroke-width="2"/>
<rect x="53.1" y="620.3" width="496.79999999999995" height="279.20000000000005" fill="none" stroke="#000" stroke-width="2.3"/>
<g font-family="Liberation Sans, sans-serif" fill="#000" stroke="#000" stroke-width="0.3" style="font-kerning:none"><text x="74.43" y="41.20" font-size="27.78" textLength="75.77" lengthAdjust="spacingAndGlyphs" >Cr 2p</text>
<text x="92.61" y="85.23" font-size="31.24" textLength="37.28" lengthAdjust="spacingAndGlyphs" >(a)</text>
<text x="284.79" y="51.50" font-size="27.76" textLength="56.92" lengthAdjust="spacingAndGlyphs" >15 K</text>
<text x="284.85" y="81.80" font-size="27.21" textLength="71.86" lengthAdjust="spacingAndGlyphs" >300 K</text>
<text x="79.50" y="348.10" font-size="29.95" textLength="70.40" lengthAdjust="spacingAndGlyphs" >Si 2p</text>
<text x="92.15" y="396.13" font-size="31.24" textLength="38.40" lengthAdjust="spacingAndGlyphs" >(b)</text>
<text x="82.95" y="654.00" font-size="29.79" textLength="72.85" lengthAdjust="spacingAndGlyphs" >Cr 3s</text>
<text x="94.34" y="694.12" font-size="29.84" textLength="36.93" lengthAdjust="spacingAndGlyphs" >(c)</text>
<text x="281.17" y="647.90" font-size="24.56" textLength="32.79" lengthAdjust="spacingAndGlyphs" >ΔE</text>
<text x="226.98" y="791.30" font-size="25.73" textLength="32.15" lengthAdjust="spacingAndGlyphs" >ΔE</text>
<text x="189.72" y="961.90" font-size="27.60" textLength="245.40" lengthAdjust="spacingAndGlyphs" >Binding energy (eV)</text>
<text x="68.49" y="311.00" font-size="24.9" textLength="42.07" lengthAdjust="spacingAndGlyphs">595</text>
<text x="159.49" y="311.00" font-size="24.9" textLength="41.99" lengthAdjust="spacingAndGlyphs">590</text>
<text x="250.49" y="311.00" font-size="24.9" textLength="42.07" lengthAdjust="spacingAndGlyphs">585</text>
<text x="341.49" y="311.00" font-size="24.9" textLength="41.99" lengthAdjust="spacingAndGlyphs">580</text>
<text x="432.49" y="311.00" font-size="24.9" textLength="42.07" lengthAdjust="spacingAndGlyphs">575</text>
<text x="54.64" y="613.80" font-size="24.9" textLength="41.79" lengthAdjust="spacingAndGlyphs">110</text>
<text x="121.54" y="613.80" font-size="24.9" textLength="41.90" lengthAdjust="spacingAndGlyphs">108</text>
<text x="188.44" y="613.80" font-size="24.9" textLength="41.92" lengthAdjust="spacingAndGlyphs">106</text>
<text x="255.35" y="613.80" font-size="24.9" textLength="41.52" lengthAdjust="spacingAndGlyphs">104</text>
<text x="322.23" y="613.80" font-size="24.9" textLength="42.09" lengthAdjust="spacingAndGlyphs">102</text>
<text x="389.14" y="613.80" font-size="24.9" textLength="41.79" lengthAdjust="spacingAndGlyphs">100</text>
<text x="463.21" y="613.80" font-size="24.9" textLength="28.30" lengthAdjust="spacingAndGlyphs">98</text>
<text x="62.02" y="929.60" font-size="24.9" textLength="27.61" lengthAdjust="spacingAndGlyphs">84</text>
<text x="122.78" y="929.60" font-size="24.9" textLength="28.17" lengthAdjust="spacingAndGlyphs">82</text>
<text x="183.57" y="929.60" font-size="24.9" textLength="27.87" lengthAdjust="spacingAndGlyphs">80</text>
<text x="244.14" y="929.60" font-size="24.9" textLength="28.20" lengthAdjust="spacingAndGlyphs">78</text>
<text x="304.92" y="929.60" font-size="24.9" textLength="28.22" lengthAdjust="spacingAndGlyphs">76</text>
<text x="365.72" y="929.60" font-size="24.9" textLength="27.81" lengthAdjust="spacingAndGlyphs">74</text>
<text x="426.47" y="929.60" font-size="24.9" textLength="28.39" lengthAdjust="spacingAndGlyphs">72</text>
<text x="487.27" y="929.60" font-size="24.9" textLength="28.08" lengthAdjust="spacingAndGlyphs">70</text>
<text transform="translate(20.6,570.5) rotate(-90)" x="-2.66" y="0" font-size="28.8" textLength="243.78" lengthAdjust="spacingAndGlyphs">Intensity (arb. units)</text></g>
</svg></body></html>
